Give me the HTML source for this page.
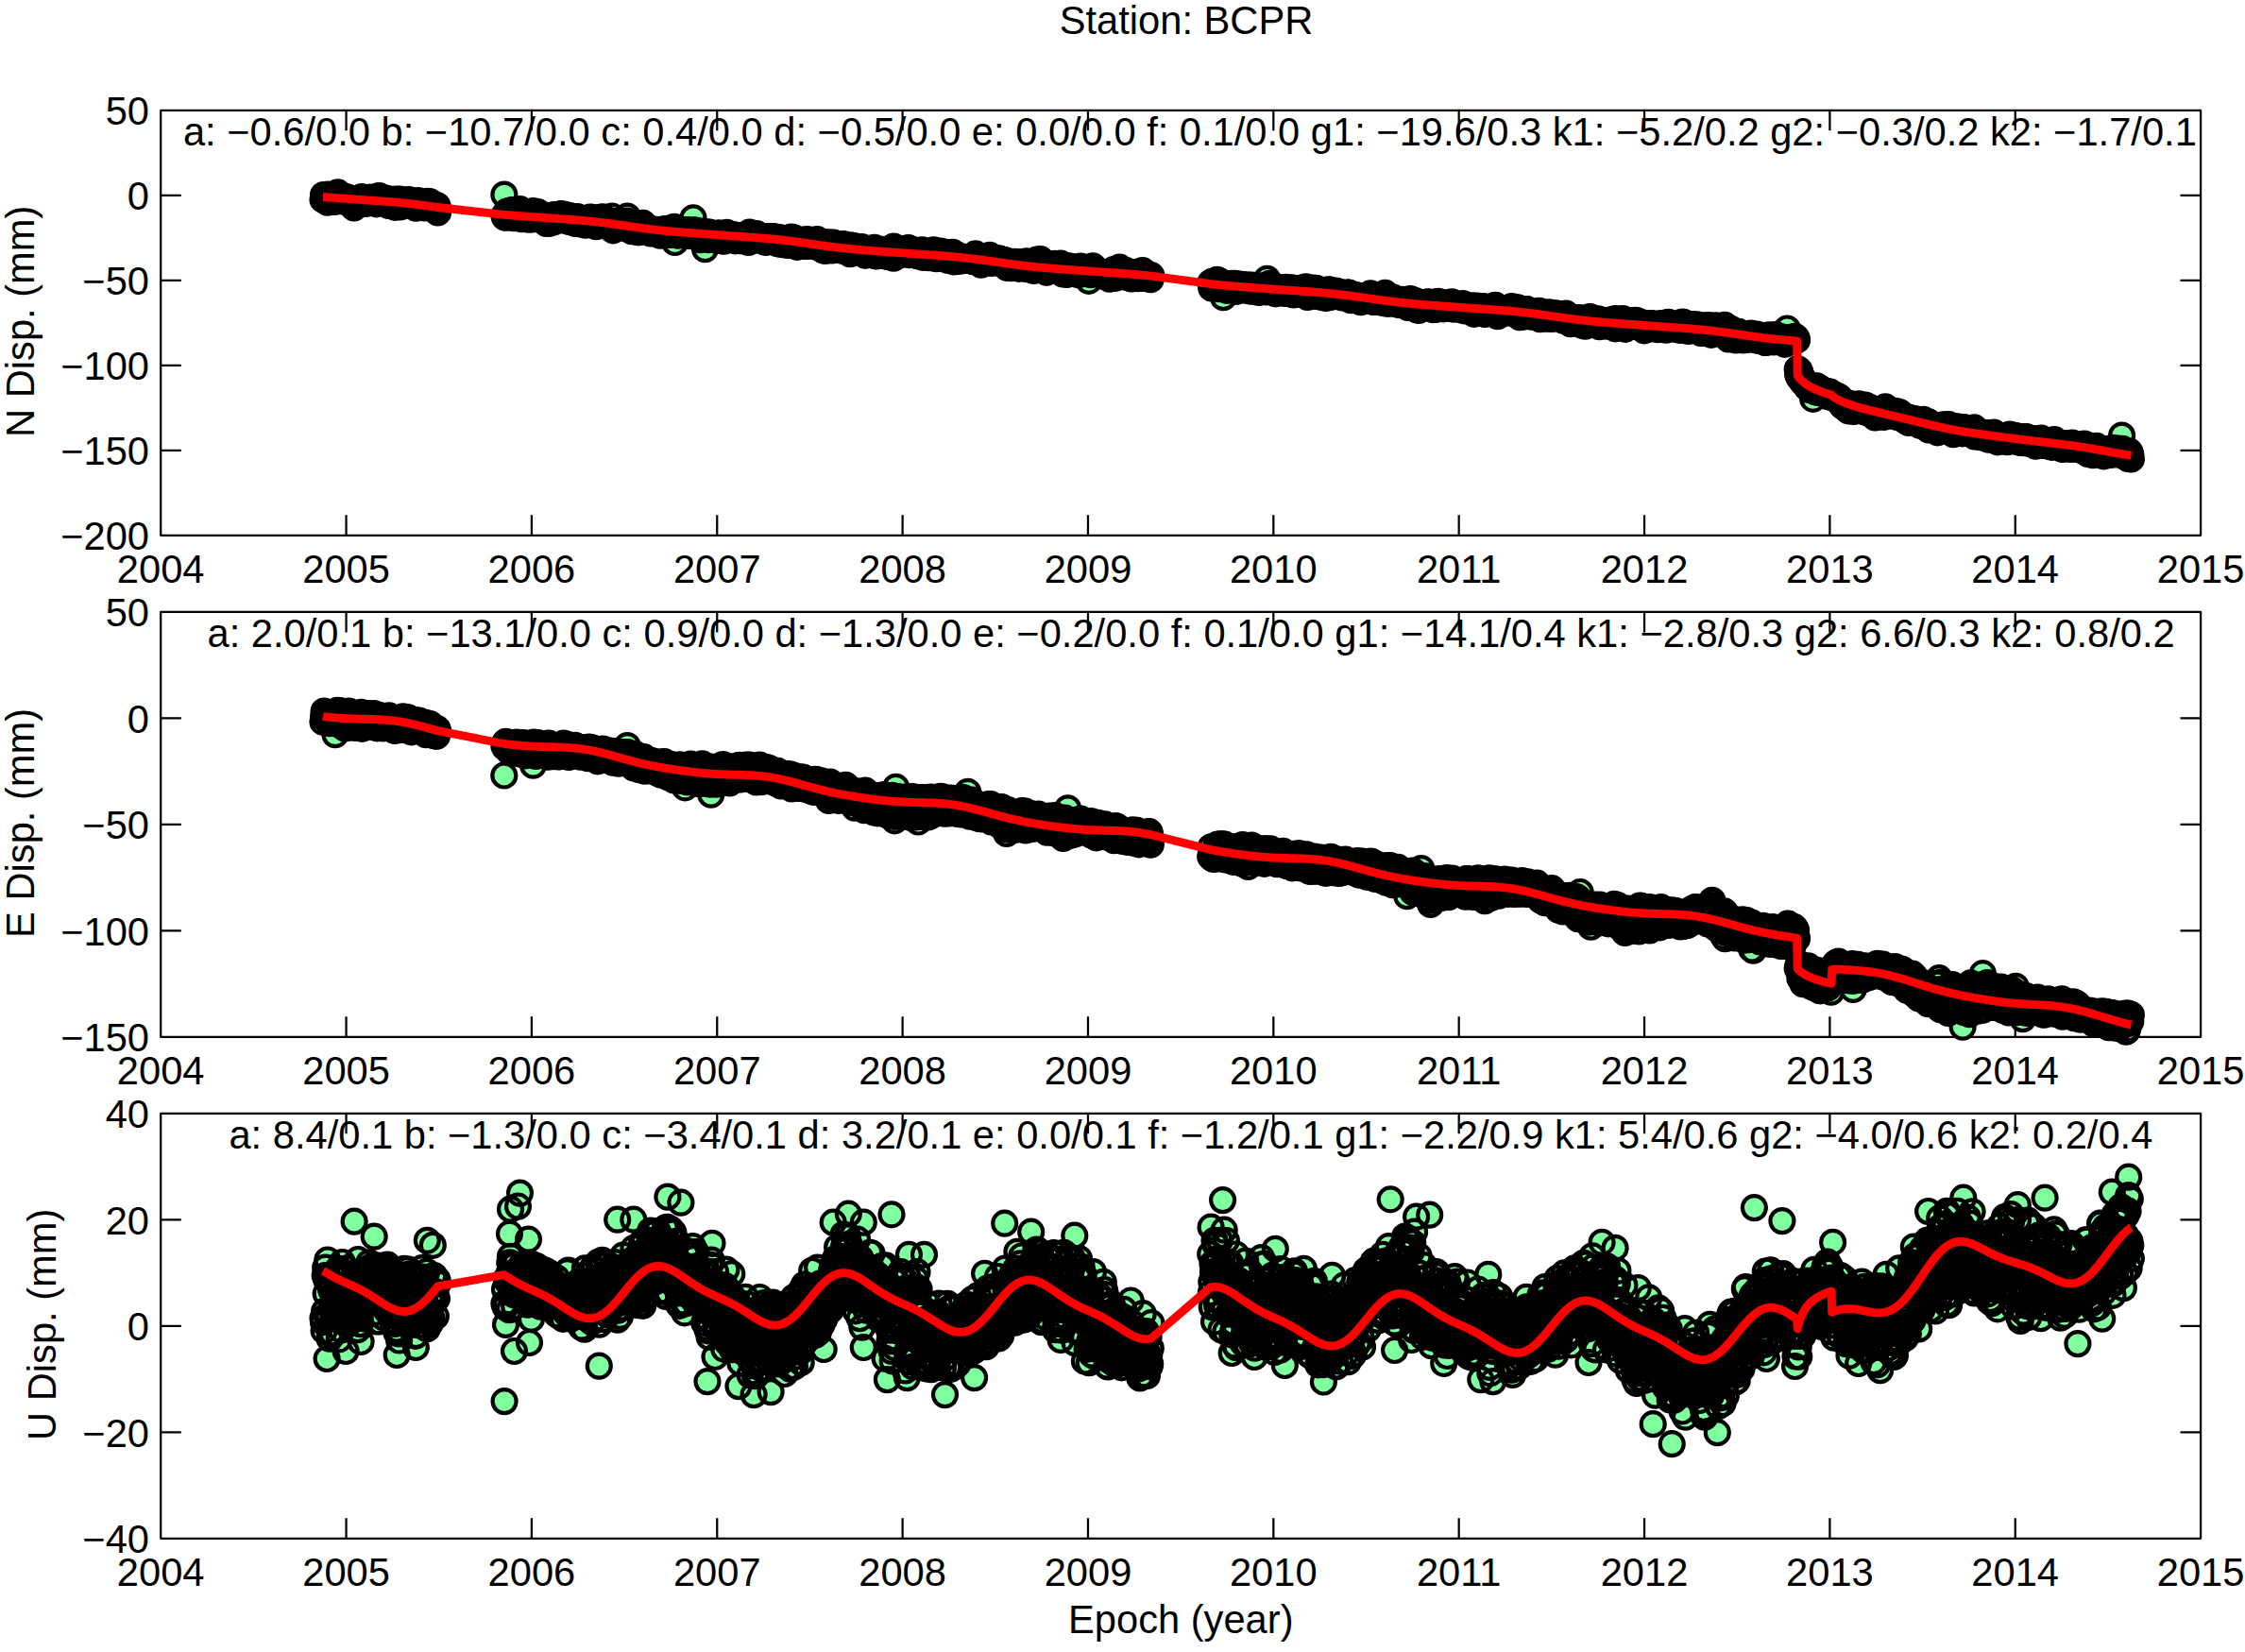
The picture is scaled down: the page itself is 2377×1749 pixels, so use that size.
<!DOCTYPE html>
<html lang="en"><head><meta charset="utf-8"><title>Station: BCPR</title>
<style>html,body{margin:0;padding:0;background:#fff}svg{display:block}text{font-family:"Liberation Sans",sans-serif;font-size:41.67px;fill:#000}</style>
</head><body>
<svg width="2377" height="1749" viewBox="0 0 2377 1749">
<defs><marker id="mf" markerUnits="userSpaceOnUse" markerWidth="32" markerHeight="32" refX="16" refY="16" overflow="visible"><circle cx="16" cy="16" r="12.5" fill="#80ffa0"/></marker><marker id="me" markerUnits="userSpaceOnUse" markerWidth="32" markerHeight="32" refX="16" refY="16" overflow="visible"><circle cx="16" cy="16" r="12.5" fill="none" stroke="#000" stroke-width="4.17"/></marker></defs>
<rect width="2377" height="1749" fill="#fff"/>
<text x="1256" y="35.8" text-anchor="middle">Station: BCPR</text>
<g>
<text x="1259.9" y="154.0" text-anchor="middle">a: −0.6/0.0 b: −10.7/0.0 c: 0.4/0.0 d: −0.5/0.0 e: 0.0/0.0 f: 0.1/0.0 g1: −19.6/0.3 k1: −5.2/0.2 g2: −0.3/0.2 k2: −1.7/0.1</text>
<path d="M170.20 116.75H2330.10V566.85H170.20ZM366.55 566.85v-21.60M366.55 116.75v21.60M562.91 566.85v-21.60M562.91 116.75v21.60M759.26 566.85v-21.60M759.26 116.75v21.60M955.62 566.85v-21.60M955.62 116.75v21.60M1151.97 566.85v-21.60M1151.97 116.75v21.60M1348.33 566.85v-21.60M1348.33 116.75v21.60M1544.68 566.85v-21.60M1544.68 116.75v21.60M1741.04 566.85v-21.60M1741.04 116.75v21.60M1937.39 566.85v-21.60M1937.39 116.75v21.60M2133.75 566.85v-21.60M2133.75 116.75v21.60M170.20 206.77h21.60M2330.10 206.77h-21.60M170.20 296.79h21.60M2330.10 296.79h-21.60M170.20 386.81h21.60M2330.10 386.81h-21.60M170.20 476.83h21.60M2330.10 476.83h-21.60" fill="none" stroke="#000" stroke-width="2.25" stroke-linejoin="round"/>
<text x="170.2" y="617.4" text-anchor="middle">2004</text>
<text x="366.6" y="617.4" text-anchor="middle">2005</text>
<text x="562.9" y="617.4" text-anchor="middle">2006</text>
<text x="759.3" y="617.4" text-anchor="middle">2007</text>
<text x="955.6" y="617.4" text-anchor="middle">2008</text>
<text x="1152.0" y="617.4" text-anchor="middle">2009</text>
<text x="1348.3" y="617.4" text-anchor="middle">2010</text>
<text x="1544.7" y="617.4" text-anchor="middle">2011</text>
<text x="1741.0" y="617.4" text-anchor="middle">2012</text>
<text x="1937.4" y="617.4" text-anchor="middle">2013</text>
<text x="2133.7" y="617.4" text-anchor="middle">2014</text>
<text x="2330.1" y="617.4" text-anchor="middle">2015</text>
<text x="158.0" y="132.2" text-anchor="end">50</text>
<text x="158.0" y="222.3" text-anchor="end">0</text>
<text x="158.0" y="312.3" text-anchor="end">−50</text>
<text x="158.0" y="402.3" text-anchor="end">−100</text>
<text x="158.0" y="492.3" text-anchor="end">−150</text>
<text x="158.0" y="582.4" text-anchor="end">−200</text>
<text transform="translate(35.8 340.3) rotate(-90)" text-anchor="middle">N Disp. (mm)</text>
<defs><polyline id="d0" points="342,211.3 342.5,206.5 343.1,211.1 343.6,210.3 344.2,209.5 344.7,210.8 345.2,212.2 345.8,208.7 346.3,209.5 346.8,214.2 347.4,206 347.9,209.1 348.5,212.8 349,210.5 349.5,212.9 350.1,211.6 350.6,210.1 351.1,213.2 351.7,210 352.2,208.3 352.8,207.7 353.3,210.7 353.8,208.8 354.4,213.4 354.9,210.8 355.4,209 356,212.1 356.5,209.9 357.1,206.2 357.6,203.8 358.1,206.9 358.7,206.6 359.2,210.3 359.8,211.3 360.3,212.2 360.8,208.1 361.4,208.3 361.9,210.9 362.4,211.3 363,209.4 363.5,209.2 364.1,210.7 364.6,208.1 365.1,210.5 365.7,211 366.2,213.6 366.7,211.4 367.3,208.9 367.8,211.5 368.4,211.9 368.9,210.8 369.4,211.6 370,214 370.5,211.6 371,210.2 371.6,213.1 372.1,211.1 372.7,215.2 373.2,211.9 373.7,215.3 374.3,212.7 374.8,211.9 375.3,213.9 375.9,212.3 376.4,216.3 377,214.2 377.5,211.2 378,215.1 378.6,211.6 379.1,215.5 379.6,214.3 380.2,214.7 380.7,211.6 381.3,210.1 381.8,212.7 382.3,211.8 382.9,208.6 383.4,211.7 383.9,212.5 384.5,210.3 385,211.6 385.6,212.1 386.1,215.3 386.6,210.8 387.2,214.1 387.7,212.4 388.2,215.1 388.8,210.7 389.3,211 389.9,210.7 390.4,212.7 390.9,211.5 391.5,210.4 392,209.1 392.5,211.2 393.1,212.1 393.6,211.9 394.2,211.6 394.7,212.4 395.2,209.4 395.8,210.5 396.3,213.8 396.8,211.3 397.4,210 397.9,212.6 398.5,215.8 399,212.6 399.5,211.5 400.1,211.9 400.6,213.3 401.1,207.7 401.7,207.9 402.2,211.7 402.8,209.8 403.3,211 403.8,210.9 404.4,210 404.9,211.3 405.4,213 406,213.5 406.5,214.2 407.1,212.4 407.6,209.8 408.1,211.6 408.7,212.7 409.2,212.2 409.7,212.3 410.3,211.3 410.8,214.7 411.4,217.5 411.9,215.1 412.4,216.6 413,211.2 413.5,214.2 414,214.5 414.6,216.9 415.1,214 415.7,215.4 416.2,211.7 416.7,212.4 417.3,215 417.8,213 418.3,219.3 418.9,215.6 419.4,211 420,212.8 420.5,213.9 421,214.5 421.6,217.2 422.1,217.8 422.6,214.4 423.2,211.2 423.7,218.9 424.3,213.8 424.8,213.8 425.3,212.7 425.9,217 426.4,215.6 426.9,214.8 427.5,216.5 428,217.4 428.6,215.8 429.1,214.2 429.6,212.7 430.2,213.9 430.7,214.2 431.3,215.3 431.8,215.2 432.3,211.7 432.9,213.5 433.4,213.6 433.9,212.1 434.5,212.7 435,213.8 435.6,215.2 436.1,215.8 436.6,215.6 437.2,215.6 437.7,213.4 438.2,215.5 438.8,214.4 439.3,216.6 439.9,213.8 440.4,220.1 440.9,215.6 441.5,214.8 442,219.1 442.5,212.7 443.1,216.8 443.6,216.5 444.2,218.7 444.7,214.6 445.2,215.8 445.8,217.2 446.3,215.8 446.8,214.7 447.4,213.8 447.9,214.7 448.5,217.3 449,216.2 449.5,219.9 450.1,217.9 450.6,215 451.1,215.1 451.7,216 452.2,216.3 452.8,213.3 453.3,215.9 453.8,215.6 454.4,215.8 454.9,217.3 455.4,213.9 456,219.6 456.5,220.3 457.1,219.3 457.6,220.2 458.1,220.5 458.7,220.8 459.2,217.4 459.7,219.3 460.3,218.4 460.8,222.3 461.4,220.9 461.9,217.8 462.4,221.8 463,217.8 463.5,225 533.9,228.1 534.5,229.9 535,228.4 535.5,230.1 536.1,227.9 536.6,224 537.2,229.1 537.7,224 538.2,228.7 538.8,229.7 539.3,227.2 539.8,227.6 540.4,223.1 540.9,225 541.5,225.1 542,226.3 542.5,222.5 543.1,226.7 543.6,227.1 544.1,230.6 544.7,230.2 545.2,227.1 545.8,225.2 546.3,225.3 546.8,229 547.4,225.6 547.9,225.6 548.4,227.7 549,224.3 549.5,230.5 550.1,225.9 550.6,221.7 551.1,228.6 551.7,227.8 552.2,231.6 552.7,229.9 553.3,226.9 553.8,230.2 554.4,229.1 554.9,230.1 555.4,230 556,229.4 556.5,228.8 557,227.8 557.6,228.8 558.1,230.9 558.7,227.1 559.2,227.7 559.7,232.2 560.3,228.2 560.8,227.9 561.3,227.6 561.9,226.9 562.4,230.3 563,228.1 563.5,231.9 564,228 564.6,223.5 565.1,226.9 565.6,226.5 566.2,228.5 566.7,228.8 567.3,229.1 567.8,225.9 568.3,228.4 568.9,227.9 569.4,224.6 569.9,230.8 570.5,229.9 571,229.2 571.6,229 572.1,229.2 572.6,232.4 573.2,228.8 573.7,229.8 574.2,229.5 574.8,232.2 575.3,229.7 575.9,230.3 576.4,232.2 576.9,230.9 577.5,231.1 578,228.3 578.5,236.4 579.1,232.7 579.6,232.7 580.2,230.5 580.7,231.6 581.2,231.2 581.8,229.4 582.3,234 582.9,232.8 583.4,231.7 583.9,233.8 584.5,230.7 585,230.7 585.5,232.8 586.1,235 586.6,227.7 587.2,229.5 587.7,229.4 588.2,230.6 588.8,230.5 589.3,229.1 589.8,230.5 590.4,231.6 590.9,227.9 591.5,229.4 592,231.7 592.5,231.5 593.1,227.2 593.6,227.8 594.1,226.7 594.7,232.1 595.2,233 595.8,231.7 596.3,229.7 596.8,230.8 597.4,230.6 597.9,227.4 598.4,232.6 599,232.9 599.5,231.9 600.1,232.7 600.6,231.6 601.1,230.7 601.7,231.7 602.2,229.8 602.7,234.4 603.3,228.5 603.8,234.1 604.4,231.1 604.9,234.9 605.4,232.1 606,232.8 606.5,231.9 607,231.8 607.6,234.3 608.1,234.3 608.7,234.1 609.2,236.4 609.7,235.3 610.3,236.3 610.8,233.3 611.3,229.5 611.9,232.2 612.4,235.2 613,234.2 613.5,232.1 614,235.1 614.6,237 615.1,236.3 615.6,236.2 616.2,236.3 616.7,232.3 617.3,232.9 617.8,237 618.3,236 618.9,237.4 619.4,237.5 619.9,238.1 620.5,232 621,235.5 621.6,233.4 622.1,232.8 622.6,235.3 623.2,233.6 623.7,234 624.2,234.1 624.8,230 625.3,234.2 625.9,234.4 626.4,232.9 626.9,230.4 627.5,232 628,235 628.5,235.5 629.1,236.3 629.6,236 630.2,234.6 630.7,233.5 631.2,239.6 631.8,235.5 632.3,237.9 632.8,234.1 633.4,233.6 633.9,237 634.5,236.6 635,236.7 635.5,230.3 636.1,238.1 636.6,236.7 637.1,235.7 637.7,232.1 638.2,229.8 638.8,235.3 639.3,236.5 639.8,233.3 640.4,235.4 640.9,233.1 641.4,236.3 642,235.5 642.5,234.8 643.1,234 643.6,235.9 644.1,233.7 644.7,236.3 645.2,240.4 645.7,235.4 646.3,237.4 646.8,238.4 647.4,235.1 647.9,239.2 648.4,237.5 649,238.3 649.5,234.3 650,237.5 650.6,236.9 651.1,240 651.7,234.9 652.2,239.8 652.7,235.9 653.3,235.8 653.8,235.2 654.3,234.9 654.9,241.2 655.4,238 656,238.2 656.5,237.2 657,235.2 657.6,237.1 658.1,238.7 658.7,237.4 659.2,234.4 659.7,239.9 660.3,237.6 660.8,240.1 661.3,236.3 661.9,241.3 662.4,238.7 663,237.9 663.5,237.9 664,234 664.6,235.5 665.1,241 665.6,235.5 666.2,241.7 666.7,243.2 667.3,242.2 667.8,239 668.3,238.7 668.9,244.6 669.4,239 669.9,240.5 670.5,239.2 671,242.1 671.6,240.2 672.1,241 672.6,243.7 673.2,239.1 673.7,241.3 674.2,240.2 674.8,240.9 675.3,245.6 675.9,243.4 676.4,245.7 676.9,245.2 677.5,242.7 678,243.3 678.5,240.4 679.1,240.3 679.6,242.2 680.2,243.7 680.7,236.4 681.2,237.9 681.8,241.4 682.3,242.5 682.8,242.4 683.4,240.9 683.9,240 684.5,240.7 685,241.1 685.5,243.3 686.1,241.3 686.6,243.2 687.1,243.2 687.7,243.2 688.2,242.2 688.8,246.9 689.3,244.5 689.8,244 690.4,245.6 690.9,243.8 691.4,246 692,246 692.5,245.3 693.1,246.2 693.6,247 694.1,243.4 694.7,244.6 695.2,244.6 695.7,246 696.3,247.2 696.8,247.1 697.4,243.7 697.9,245.3 698.4,247.5 699,249.2 699.5,244.7 700,246.8 700.6,244.7 701.1,245.1 701.7,244.9 702.2,244.3 702.7,246 703.3,244.2 703.8,242.5 704.3,243.2 704.9,248.1 705.4,247.6 706,247.5 706.5,246.1 707,244.6 707.6,245.2 708.1,248.4 708.6,244 709.2,243.6 709.7,245.9 710.3,241.9 710.8,247.1 711.3,243.8 711.9,241.3 712.4,248 712.9,247.4 713.5,246 714,240.3 714.6,256.5 715.1,246.1 715.6,247 716.2,248.7 716.7,248.8 717.2,247.3 717.8,247.4 718.3,249 718.9,243.7 719.4,248.6 719.9,247.4 720.5,248.4 721,248.3 721.5,247.6 722.1,248.4 722.6,247.8 723.2,243.7 723.7,245.4 724.2,248.3 724.8,245.8 725.3,249.3 725.8,246.4 726.4,248.9 726.9,249.1 727.5,248.3 728,243.6 728.5,246.3 729.1,246 729.6,246.1 730.1,246.2 730.7,245.8 731.2,245.3 731.8,246.5 732.3,249.2 732.8,249 733.4,245.4 733.9,244.2 734.5,245.6 735,249.9 735.5,243.9 736.1,246 736.6,247.7 737.1,248.1 737.7,249.3 738.2,245.6 738.8,246.5 739.3,251.4 739.8,249.8 740.4,248.2 740.9,246.3 741.4,253.6 742,246.9 742.5,245.2 743.1,249.2 743.6,248.4 744.1,245.3 744.7,247.3 745.2,250 745.7,250 746.3,249.4 746.8,250.3 747.4,247.9 747.9,248.9 748.4,248.5 749,248 749.5,246 750,249.1 750.6,253.6 751.1,246.2 751.7,248.9 752.2,246.9 752.7,249.8 753.3,248.1 753.8,249.2 754.3,249.2 754.9,247.6 755.4,251.2 756,248.6 756.5,248 757,248.8 757.6,252.7 758.1,248.5 758.6,254.2 759.2,251.6 759.7,249.8 760.3,248.4 760.8,247.1 761.3,247 761.9,247.8 762.4,249.8 762.9,247.7 763.5,251.2 764,248.2 764.6,254.8 765.1,252.8 765.6,251.8 766.2,250.1 766.7,255.1 767.2,249.1 767.8,248.9 768.3,248 768.9,250.1 769.4,246.3 769.9,251 770.5,247.9 771,249.6 771.5,249.7 772.1,250.5 772.6,250.5 773.2,249.2 773.7,248.7 774.2,248.9 774.8,250.3 775.3,250.8 775.8,251.9 776.4,248.6 776.9,252.8 777.5,253.7 778,251.9 778.5,254.8 779.1,252.3 779.6,252.5 780.1,254.3 780.7,253.1 781.2,250.3 781.8,251.6 782.3,250.6 782.8,249.6 783.4,252.7 783.9,254.6 784.4,252 785,250.8 785.5,254.7 786.1,250 786.6,251.9 787.1,252.4 787.7,254.7 788.2,253.3 788.7,249.8 789.3,250 789.8,249.7 790.4,251.8 790.9,248 791.4,249 792,251.5 792.5,256.4 793,251.6 793.6,246.2 794.1,251.1 794.7,252.7 795.2,247.5 795.7,252.1 796.3,249.8 796.8,249.7 797.3,254.4 797.9,250.8 798.4,249.1 799,252.8 799.5,250.5 800,251.6 800.6,249.1 801.1,247.7 801.6,253 802.2,251.7 802.7,251 803.3,253.2 803.8,253.5 804.3,253.2 804.9,253.2 805.4,253.9 805.9,252.2 806.5,251.3 807,251.4 807.6,252 808.1,250.8 808.6,255.4 809.2,254.1 809.7,253.8 810.3,252.6 810.8,256.5 811.3,250.7 811.9,255.8 812.4,252.9 812.9,251.5 813.5,250.6 814,254.1 814.6,253.9 815.1,252.8 815.6,252.4 816.2,250.6 816.7,252.6 817.2,254.4 817.8,255.5 818.3,250.7 818.9,255.5 819.4,251.4 819.9,252.4 820.5,251.8 821,252 821.5,251.2 822.1,253.9 822.6,253.9 823.2,257.8 823.7,254.2 824.2,256.6 824.8,254.7 825.3,251.7 825.8,254.2 826.4,252.6 826.9,254.6 827.5,253.7 828,255.2 828.5,258.6 829.1,255.8 829.6,255.8 830.1,255.4 830.7,255.9 831.2,256.1 831.8,253.5 832.3,254.3 832.8,255.4 833.4,253 833.9,259.5 834.4,256.2 835,255.6 835.5,252.3 836.1,256.3 836.6,258.2 837.1,254 837.7,251.2 838.2,255.4 838.7,256.1 839.3,256.5 839.8,255.9 840.4,254 840.9,252.1 841.4,255.4 842,257.4 842.5,253.3 843,256.6 843.6,256.8 844.1,256.9 844.7,257.2 845.2,255.8 845.7,257.2 846.3,255.1 846.8,255.8 847.3,255 847.9,256.7 848.4,256.5 849,255.5 849.5,256.1 850,255.9 850.6,254 851.1,258.7 851.6,260.2 852.2,255 852.7,257.5 853.3,254.7 853.8,258.4 854.3,260.4 854.9,253.6 855.4,255.9 855.9,257.5 856.5,257.8 857,254.8 857.6,257 858.1,256.2 858.6,255.1 859.2,260 859.7,258.1 860.2,256.6 860.8,254.9 861.3,257.3 861.9,259.8 862.4,255.6 862.9,259.4 863.5,258.9 864,258.2 864.5,261.2 865.1,253.5 865.6,256.8 866.2,259.2 866.7,260.6 867.2,261.4 867.8,258.5 868.3,258.6 868.8,260.5 869.4,260.3 869.9,259.5 870.5,260.8 871,264.4 871.5,259.2 872.1,260.3 872.6,259.3 873.1,261.9 873.7,265.5 874.2,263.3 874.8,260.3 875.3,257.4 875.8,256.8 876.4,260.2 876.9,264 877.4,262.1 878,260 878.5,259.3 879.1,259.1 879.6,257 880.1,261.9 880.7,265 881.2,262.8 881.8,263.9 882.3,257.2 882.8,261.3 883.4,264.3 883.9,259.7 884.4,259.6 885,261.8 885.5,262.3 886.1,260.3 886.6,261.3 887.1,263.7 887.7,262.7 888.2,262.2 888.7,263 889.3,263.3 889.8,262.7 890.4,264 890.9,263.2 891.4,261.9 892,263.7 892.5,259.9 893,258.6 893.6,265.6 894.1,260.9 894.7,263 895.2,262.9 895.7,261.7 896.3,262.5 896.8,262.2 897.3,262.8 897.9,263.3 898.4,265.6 899,264.5 899.5,261 900,268.6 900.6,259.9 901.1,264.1 901.6,260.5 902.2,267.2 902.7,263.2 903.3,260.9 903.8,262 904.3,260.7 904.9,263.8 905.4,263.7 905.9,264.1 906.5,262.1 907,262.4 907.6,263.7 908.1,264.2 908.6,265.5 909.2,264.2 909.7,266.4 910.2,264.3 910.8,265 911.3,265.5 911.9,266.2 912.4,261.5 912.9,265.6 913.5,263.9 914,263.5 914.5,265.7 915.1,267.1 915.6,265.3 916.2,270.1 916.7,269.7 917.2,267.4 917.8,267.2 918.3,267 918.8,263.4 919.4,264.2 919.9,267.1 920.5,266.6 921,268.9 921.5,266.2 922.1,269.3 922.6,263.5 923.1,266.8 923.7,265.4 924.2,269.3 924.8,263.5 925.3,265.2 925.8,262.3 926.4,266.3 926.9,270.7 927.4,270 928,271 928.5,265.6 929.1,268.4 929.6,268.2 930.1,265.2 930.7,265.4 931.2,265.8 931.7,267.6 932.3,270.5 932.8,268.3 933.4,270.3 933.9,264.4 934.4,265 935,267.5 935.5,265.5 936,265.3 936.6,265.3 937.1,265.8 937.7,265.3 938.2,265.7 938.7,270.5 939.3,271.3 939.8,264.2 940.3,266.3 940.9,271.7 941.4,266.5 942,267.9 942.5,266.8 943,270.7 943.6,264.7 944.1,265.4 944.6,263.8 945.2,262.4 945.7,261.9 946.3,261 946.8,263.5 947.3,263.7 947.9,265.7 948.4,262.5 948.9,264.7 949.5,267.5 950,263 950.6,264.4 951.1,270.5 951.6,269.2 952.2,265.6 952.7,267.8 953.2,263.5 953.8,265.7 954.3,264.7 954.9,264.4 955.4,264.2 955.9,267.4 956.5,265.5 957,265.7 957.6,264.6 958.1,264.7 958.6,263.3 959.2,264.2 959.7,265.4 960.2,264.8 960.8,267.4 961.3,264.9 961.9,262.6 962.4,267.1 962.9,269.6 963.5,267.3 964,268.5 964.5,267.5 965.1,268.2 965.6,266.7 966.2,269.1 966.7,264.6 967.2,268.8 967.8,267 968.3,266.5 968.8,268 969.4,266.5 969.9,267.7 970.5,268.2 971,268 971.5,267.2 972.1,270.9 972.6,270 973.1,268.8 973.7,268.7 974.2,265.3 974.8,266.2 975.3,266.9 975.8,266.5 976.4,264.9 976.9,268.7 977.4,266.4 978,272.5 978.5,270.7 979.1,266.5 979.6,266.5 980.1,268.9 980.7,270.2 981.2,268 981.7,270.8 982.3,266.9 982.8,267.8 983.4,268.9 983.9,272.6 984.4,269.4 985,271.6 985.5,272.2 986,272.3 986.6,271.6 987.1,269.7 987.7,269.4 988.2,269.8 988.7,264.8 989.3,272.1 989.8,270.4 990.3,273.1 990.9,272 991.4,273.7 992,269.5 992.5,271 993,271.3 993.6,271 994.1,268.7 994.6,270.7 995.2,269.7 995.7,266.2 996.3,271.5 996.8,272.7 997.3,272.6 997.9,269 998.4,271 998.9,272.7 999.5,272 1000,270.6 1000.6,272.4 1001.1,267.3 1001.6,272 1002.2,272.1 1002.7,272 1003.2,275.3 1003.8,274.4 1004.3,271.8 1004.9,272.1 1005.4,274.3 1005.9,268.4 1006.5,270.7 1007,268.5 1007.5,268.9 1008.1,271.9 1008.6,267.3 1009.2,271.3 1009.7,275.9 1010.2,276.9 1010.8,272.5 1011.3,270.5 1011.8,272.2 1012.4,269.5 1012.9,273.1 1013.5,272 1014,272 1014.5,276.3 1015.1,273.5 1015.6,273.2 1016.1,272.6 1016.7,272.3 1017.2,272.3 1017.8,275.9 1018.3,273.7 1018.8,273 1019.4,274.5 1019.9,273.9 1020.4,273.3 1021,272.4 1021.5,274 1022.1,273.7 1022.6,273.7 1023.1,273.8 1023.7,274.8 1024.2,274.2 1024.7,275.3 1025.3,273.7 1025.8,272.3 1026.4,273 1026.9,273.6 1027.4,275.1 1028,272.4 1028.5,275.9 1029,273.7 1029.6,274.2 1030.1,276.3 1030.7,276.6 1031.2,273.4 1031.7,273.7 1032.3,273.8 1032.8,268.8 1033.4,273.4 1033.9,274.6 1034.4,273 1035,276 1035.5,275.8 1036,275.1 1036.6,277 1037.1,276.5 1037.7,276.6 1038.2,277.1 1038.7,280.1 1039.3,273.1 1039.8,276.3 1040.3,274 1040.9,277.1 1041.4,277.2 1042,274.5 1042.5,274.8 1043,273.4 1043.6,276 1044.1,276.5 1044.6,273.4 1045.2,272.4 1045.7,272.2 1046.3,274 1046.8,273.4 1047.3,275.5 1047.9,270.4 1048.4,271.5 1048.9,272.5 1049.5,278.5 1050,274 1050.6,277.2 1051.1,274.6 1051.6,274.3 1052.2,272.9 1052.7,275.7 1053.2,276.6 1053.8,277.4 1054.3,277.3 1054.9,274.2 1055.4,276.8 1055.9,274.3 1056.5,276.5 1057,277 1057.5,273.8 1058.1,274.9 1058.6,278.5 1059.2,276.6 1059.7,276.3 1060.2,274.8 1060.8,278.9 1061.3,278.8 1061.8,278.4 1062.4,277.3 1062.9,278 1063.5,280.1 1064,275.6 1064.5,279 1065.1,281.5 1065.6,282.8 1066.1,280.2 1066.7,283.5 1067.2,279.1 1067.8,278.7 1068.3,277.2 1068.8,278.2 1069.4,282.7 1069.9,280.3 1070.4,278.1 1071,283.6 1071.5,280.4 1072.1,277.5 1072.6,278.2 1073.1,283.3 1073.7,281.2 1074.2,280.9 1074.7,277.3 1075.3,281.8 1075.8,282.8 1076.4,280.3 1076.9,280.5 1077.4,279.6 1078,277.5 1078.5,281.3 1079,284.3 1079.6,281.9 1080.1,281.4 1080.7,279.2 1081.2,278.6 1081.7,282.5 1082.3,279.6 1082.8,279.2 1083.3,281.7 1083.9,279.6 1084.4,282.2 1085,281.9 1085.5,282.7 1086,281.5 1086.6,276.8 1087.1,282.2 1087.6,284.7 1088.2,283.2 1088.7,284.6 1089.3,283 1089.8,283.6 1090.3,278.9 1090.9,282 1091.4,278.9 1091.9,283.3 1092.5,282.5 1093,278.7 1093.6,285.4 1094.1,282.7 1094.6,286.4 1095.2,279.6 1095.7,285.1 1096.2,282.8 1096.8,282.7 1097.3,284.3 1097.9,275 1098.4,280.4 1098.9,276.8 1099.5,281.7 1100,283.2 1100.5,279.6 1101.1,279.3 1101.6,274.6 1102.2,282.3 1102.7,282.1 1103.2,280.4 1103.8,278.2 1104.3,277.8 1104.8,280.8 1105.4,281 1105.9,280.1 1106.5,280.1 1107,284 1107.5,283.1 1108.1,288.3 1108.6,285.7 1109.2,282.8 1109.7,284.6 1110.2,283.6 1110.8,280.5 1111.3,284.1 1111.8,284.8 1112.4,282.5 1112.9,282.5 1113.5,285.2 1114,280.9 1114.5,279.9 1115.1,283.5 1115.6,283.6 1116.1,282.3 1116.7,279.3 1117.2,283.1 1117.8,283.9 1118.3,283.9 1118.8,282.2 1119.4,283.2 1119.9,284.2 1120.4,281.4 1121,280 1121.5,285.3 1122.1,282.8 1122.6,284.2 1123.1,279 1123.7,286.2 1124.2,285.6 1124.7,285.7 1125.3,289.9 1125.8,285.4 1126.4,284.4 1126.9,288.9 1127.4,286.6 1128,282.6 1128.5,286.7 1129,286.8 1129.6,290.5 1130.1,285.4 1130.7,288.7 1131.2,283.9 1131.7,281.9 1132.3,285.2 1132.8,287.7 1133.3,285.4 1133.9,286.2 1134.4,288.2 1135,287.1 1135.5,285.8 1136,287.3 1136.6,285.9 1137.1,282.8 1137.6,285.4 1138.2,285.3 1138.7,288.1 1139.3,284.2 1139.8,286.5 1140.3,285.3 1140.9,288.6 1141.4,286.1 1141.9,290.7 1142.5,286.7 1143,287.2 1143.6,288 1144.1,282.2 1144.6,288.8 1145.2,286.3 1145.7,286.6 1146.2,285 1146.8,284.5 1147.3,289.3 1147.9,287.5 1148.4,288.1 1148.9,285.3 1149.5,285.3 1150,287.3 1150.5,288 1151.1,289.1 1151.6,285.9 1152.2,284.2 1152.7,286.3 1153.2,288.3 1153.8,288.6 1154.3,288.3 1154.8,290.6 1155.4,283.4 1155.9,286.4 1156.5,287 1157,281.8 1157.5,285.3 1158.1,283 1158.6,286 1159.1,285.2 1159.7,287.9 1160.2,289 1160.8,287 1161.3,287.1 1161.8,286.5 1162.4,287.9 1162.9,288.9 1163.4,289.3 1164,288.5 1164.5,289.9 1165.1,289.8 1165.6,288.5 1166.1,288.5 1166.7,288.4 1167.2,290.2 1167.7,292.1 1168.3,288.6 1168.8,289.4 1169.4,291.2 1169.9,290.3 1170.4,288.8 1171,290.7 1171.5,289.3 1172,292.8 1172.6,290.5 1173.1,291.2 1173.7,292 1174.2,289.2 1174.7,295.1 1175.3,290 1175.8,288.6 1176.3,289.2 1176.9,293.7 1177.4,289.6 1178,293 1178.5,290.8 1179,285.7 1179.6,289.1 1180.1,287.3 1180.6,291.8 1181.2,294.3 1181.7,291.3 1182.3,286.1 1182.8,287.4 1183.3,286.9 1183.9,289.3 1184.4,289.2 1185,289.4 1185.5,283.2 1186,289 1186.6,286.1 1187.1,289 1187.6,286.2 1188.2,291 1188.7,290.9 1189.3,289 1189.8,290.5 1190.3,290.1 1190.9,289 1191.4,290.8 1191.9,286.4 1192.5,288.1 1193,293.5 1193.6,288.5 1194.1,291.3 1194.6,291.3 1195.2,291.7 1195.7,289.7 1196.2,291 1196.8,293.5 1197.3,292.1 1197.9,294.9 1198.4,288.7 1198.9,294.6 1199.5,294.4 1200,294.1 1200.5,292.2 1201.1,290.1 1201.6,292.2 1202.2,291.8 1202.7,292.2 1203.2,289.7 1203.8,290.8 1204.3,294.6 1204.8,288.5 1205.4,290.5 1205.9,288.2 1206.5,293 1207,293 1207.5,291.3 1208.1,293.1 1208.6,290.4 1209.1,287.5 1209.7,288.7 1210.2,294.4 1210.8,287.9 1211.3,290.3 1211.8,288.8 1212.4,290.3 1212.9,290 1213.4,291.4 1214,291.7 1214.5,294.1 1215.1,290.6 1215.6,292 1216.1,292.2 1216.7,292.9 1217.2,293.2 1217.7,292.5 1218.3,295.6 1218.8,291.5 1281.7,299.6 1282.3,300.6 1282.8,304.9 1283.3,298.4 1283.9,301.3 1284.4,300.5 1284.9,300.3 1285.5,301.7 1286,300.5 1286.6,301.7 1287.1,300.9 1287.6,297.1 1288.2,297.9 1288.7,296.4 1289.2,301.3 1289.8,304.5 1290.3,303.3 1290.9,305.6 1291.4,297.9 1291.9,298.3 1292.5,301.7 1293,301.5 1293.5,302.1 1294.1,302.8 1294.6,301.3 1295.2,304.5 1295.7,302.8 1296.2,301.5 1296.8,304.6 1297.3,304.2 1297.8,301.5 1298.4,301.8 1298.9,307.3 1299.5,300.9 1300,302.1 1300.5,302.4 1301.1,303.7 1301.6,302.2 1302.1,305.6 1302.7,303.6 1303.2,304.9 1303.8,304.7 1304.3,301.5 1304.8,300.4 1305.4,303.7 1305.9,304.6 1306.4,301.8 1307,302.6 1307.5,300.3 1308.1,303 1308.6,308.5 1309.1,304.4 1309.7,305.1 1310.2,306.2 1310.7,304.3 1311.3,304.1 1311.8,304.5 1312.4,301 1312.9,303.1 1313.4,302.7 1314,303.7 1314.5,301.6 1315,306.7 1315.6,301.7 1316.1,304.5 1316.7,301.9 1317.2,302.2 1317.7,303.6 1318.3,305.3 1318.8,304.7 1319.3,303.7 1319.9,307.1 1320.4,304.8 1321,305.8 1321.5,302.2 1322,302.4 1322.6,306.9 1323.1,306.4 1323.6,308 1324.2,304.6 1324.7,303.4 1325.3,302.1 1325.8,308.1 1326.3,303.3 1326.9,306 1327.4,306.1 1327.9,305.7 1328.5,305.3 1329,302.9 1329.6,304.7 1330.1,302.3 1330.6,305.6 1331.2,308.5 1331.7,306.8 1332.2,304.3 1332.8,309.4 1333.3,307.6 1333.9,305.2 1334.4,308.8 1334.9,304.2 1335.5,305.2 1336,307.5 1336.6,306 1337.1,307.1 1337.6,306.7 1338.2,307 1338.7,306.3 1339.2,307 1339.8,307.4 1340.3,308.4 1340.9,302.1 1341.4,309 1341.9,307 1342.5,304.6 1343,304.4 1343.5,307.6 1344.1,301.3 1344.6,300.4 1345.2,304.9 1345.7,306.6 1346.2,303.7 1346.8,305.9 1347.3,306.2 1347.8,306.9 1348.4,306.3 1348.9,305.1 1349.5,303.2 1350,309.7 1350.5,310.8 1351.1,304.5 1351.6,308.9 1352.1,305.3 1352.7,306.5 1353.2,304.5 1353.8,304.9 1354.3,307.9 1354.8,307.7 1355.4,307.5 1355.9,306.7 1356.4,309.1 1357,310 1357.5,306.9 1358.1,306.5 1358.6,306.8 1359.1,309.3 1359.7,305.8 1360.2,310.3 1360.7,308.2 1361.3,304.4 1361.8,309.5 1362.4,306.8 1362.9,306.4 1363.4,306.1 1364,310.5 1364.5,305.2 1365,306.9 1365.6,306 1366.1,306.5 1366.7,308.1 1367.2,306 1367.7,304.8 1368.3,311.5 1368.8,309.6 1369.3,308 1369.9,312 1370.4,305.6 1371,309.8 1371.5,307.3 1372,308.4 1372.6,309.2 1373.1,311.4 1373.6,310.8 1374.2,310.3 1374.7,308.8 1375.3,310.5 1375.8,311 1376.3,310 1376.9,306.6 1377.4,308.5 1377.9,309.7 1378.5,310.1 1379,308.2 1379.6,309.6 1380.1,308.3 1380.6,304.4 1381.2,305.7 1381.7,306.8 1382.2,306.5 1382.8,303.9 1383.3,310.4 1383.9,306.7 1384.4,308.1 1384.9,306.6 1385.5,306.9 1386,308.2 1386.5,306.3 1387.1,311.6 1387.6,306.6 1388.2,306.3 1388.7,309.8 1389.2,310.3 1389.8,305.2 1390.3,310.4 1390.8,310.1 1391.4,310.8 1391.9,309.9 1392.5,310.6 1393,313.5 1393.5,305.3 1394.1,311.4 1394.6,309.2 1395.1,309.7 1395.7,306.6 1396.2,308.3 1396.8,307.1 1397.3,307.4 1397.8,308.7 1398.4,310.7 1398.9,309.9 1399.4,314.5 1400,310.6 1400.5,310.6 1401.1,310 1401.6,313.5 1402.1,309.4 1402.7,312.9 1403.2,310.9 1403.7,315.5 1404.3,312.2 1404.8,312.8 1405.4,311.9 1405.9,311.6 1406.4,306.9 1407,310.4 1407.5,310.1 1408.1,307.1 1408.6,314.4 1409.1,308.3 1409.7,311.9 1410.2,312.1 1410.7,311.6 1411.3,313.2 1411.8,312.9 1412.4,311.9 1412.9,311.3 1413.4,308.5 1414,308 1414.5,310.9 1415,310.3 1415.6,310 1416.1,310.5 1416.7,309.1 1417.2,311.5 1417.7,309 1418.3,311 1418.8,311.4 1419.3,311.7 1419.9,311.3 1420.4,313.1 1421,315 1421.5,312.4 1422,313.2 1422.6,313.3 1423.1,312.2 1423.6,313.6 1424.2,310.9 1424.7,310.7 1425.3,313.3 1425.8,310.8 1426.3,313.1 1426.9,310.1 1427.4,310.2 1427.9,311.6 1428.5,310.3 1429,311.1 1429.6,312.8 1430.1,317.7 1430.6,313.9 1431.2,312.4 1431.7,311.8 1432.2,315.5 1432.8,313 1433.3,313.8 1433.9,313.8 1434.4,316.6 1434.9,316.6 1435.5,312.5 1436,313 1436.5,314.9 1437.1,313.3 1437.6,315.3 1438.2,316.6 1438.7,318.5 1439.2,313.6 1439.8,316.1 1440.3,315.2 1440.8,319.6 1441.4,316.7 1441.9,313.7 1442.5,315.1 1443,315.7 1443.5,317 1444.1,314.5 1444.6,315.5 1445.1,314.9 1445.7,315 1446.2,315.2 1446.8,315.4 1447.3,316.2 1447.8,315.1 1448.4,317.9 1448.9,317.5 1449.4,314.6 1450,315.4 1450.5,314.4 1451.1,310.9 1451.6,312.5 1452.1,312.2 1452.7,313.4 1453.2,314.4 1453.7,317.6 1454.3,319.5 1454.8,318.3 1455.4,319.4 1455.9,317.9 1456.4,319 1457,317.4 1457.5,316.3 1458,317.6 1458.6,314.9 1459.1,314.7 1459.7,313.9 1460.2,313.9 1460.7,315.1 1461.3,317.3 1461.8,316 1462.3,317.5 1462.9,317.3 1463.4,316.2 1464,318.8 1464.5,320.4 1465,317 1465.6,314.9 1466.1,315.2 1466.6,310.4 1467.2,319.8 1467.7,317.9 1468.3,321.1 1468.8,318.6 1469.3,313.8 1469.9,314.6 1470.4,320.6 1470.9,319.6 1471.5,320.2 1472,321.1 1472.6,318.6 1473.1,318.5 1473.6,317.5 1474.2,317.3 1474.7,316.5 1475.2,315 1475.8,318.1 1476.3,319.2 1476.9,318.4 1477.4,317.7 1477.9,318.4 1478.5,320.5 1479,320.6 1479.5,318.3 1480.1,322 1480.6,319 1481.2,322.4 1481.7,318.5 1482.2,319.2 1482.8,321.5 1483.3,321.1 1483.9,321.2 1484.4,317.4 1484.9,320.8 1485.5,321.3 1486,319 1486.5,318.7 1487.1,319.5 1487.6,320.8 1488.2,318.1 1488.7,322.4 1489.2,322.8 1489.8,323.1 1490.3,319.1 1490.8,325.5 1491.4,323.9 1491.9,320.1 1492.5,319.7 1493,316.6 1493.5,319.2 1494.1,322 1494.6,317.4 1495.1,318.5 1495.7,318.4 1496.2,318.6 1496.8,320.6 1497.3,323.9 1497.8,323.4 1498.4,318.6 1498.9,322.9 1499.4,327.5 1500,324.1 1500.5,322.3 1501.1,323.6 1501.6,324.1 1502.1,328.5 1502.7,323.6 1503.2,323.8 1503.7,320.4 1504.3,323.8 1504.8,324.4 1505.4,325.4 1505.9,324.4 1506.4,323.8 1507,324.4 1507.5,324.6 1508,325.9 1508.6,323.1 1509.1,323.3 1509.7,323.6 1510.2,325.3 1510.7,324.3 1511.3,325.6 1511.8,320.1 1512.3,319.9 1512.9,322.3 1513.4,323.4 1514,322.6 1514.5,326.1 1515,326.3 1515.6,321.3 1516.1,325.7 1516.6,323.5 1517.2,324.3 1517.7,327.6 1518.3,324.1 1518.8,320.8 1519.3,320.5 1519.9,327.5 1520.4,325.7 1520.9,323.1 1521.5,320.4 1522,319.6 1522.6,320 1523.1,319.3 1523.6,323.2 1524.2,324.2 1524.7,320.3 1525.2,323.4 1525.8,323.1 1526.3,323.9 1526.9,324.2 1527.4,322.1 1527.9,325.3 1528.5,326.8 1529,325 1529.5,323.5 1530.1,323.7 1530.6,322.6 1531.2,325.8 1531.7,323.7 1532.2,320.9 1532.8,323.7 1533.3,325.3 1533.8,322.4 1534.4,325.1 1534.9,323 1535.5,323.3 1536,323 1536.5,322 1537.1,319.9 1537.6,322.6 1538.1,326.8 1538.7,326.9 1539.2,325.1 1539.8,324.8 1540.3,322.9 1540.8,324.2 1541.4,323.8 1541.9,326.3 1542.4,323.3 1543,323.3 1543.5,322.3 1544.1,324.4 1544.6,325.5 1545.1,327.5 1545.7,325.3 1546.2,325.2 1546.7,325.3 1547.3,325.3 1547.8,324.6 1548.4,324.6 1548.9,321.5 1549.4,328 1550,328.8 1550.5,324.6 1551,327.7 1551.6,327 1552.1,327.1 1552.7,328.6 1553.2,325.3 1553.7,325.7 1554.3,326.8 1554.8,325.4 1555.3,324.3 1555.9,326.5 1556.4,325.4 1557,326.9 1557.5,326.8 1558,328 1558.6,323.8 1559.1,326.6 1559.7,329.8 1560.2,325.9 1560.7,332.3 1561.3,327.2 1561.8,326.1 1562.3,324.8 1562.9,327.7 1563.4,328.4 1564,324.1 1564.5,325.2 1565,325.5 1565.6,327.9 1566.1,327.1 1566.6,331.1 1567.2,326.8 1567.7,331.3 1568.3,329.6 1568.8,330.3 1569.3,325.2 1569.9,325.6 1570.4,331.2 1570.9,324.7 1571.5,327.8 1572,332.5 1572.6,330.1 1573.1,331.8 1573.6,328.8 1574.2,328.5 1574.7,330.8 1575.2,327.9 1575.8,327.4 1576.3,331.3 1576.9,329.1 1577.4,330 1577.9,330.1 1578.5,325.5 1579,329.8 1579.5,329.2 1580.1,329.3 1580.6,328 1581.2,327.3 1581.7,329.7 1582.2,325.1 1582.8,323.9 1583.3,323.4 1583.8,326.3 1584.4,327.2 1584.9,328.5 1585.5,326.7 1586,326.9 1586.5,327 1587.1,328.7 1587.6,332.6 1588.1,329.8 1588.7,329.4 1589.2,329.9 1589.8,331.7 1590.3,328.9 1590.8,329.1 1591.4,330.9 1591.9,327.8 1592.4,329.5 1593,330.3 1593.5,330.1 1594.1,330.6 1594.6,330.5 1595.1,329.1 1595.7,328.5 1596.2,327.2 1596.7,328.6 1597.3,327.3 1597.8,326.9 1598.4,331.2 1598.9,329.3 1599.4,328.7 1600,328.2 1600.5,324.6 1601,325.9 1601.6,327.1 1602.1,327.2 1602.7,330.6 1603.2,329.9 1603.7,325.5 1604.3,330.7 1604.8,326.3 1605.3,329.5 1605.9,328.8 1606.4,329.2 1607,325.8 1607.5,328.6 1608,328.9 1608.6,329 1609.1,335.7 1609.6,328.2 1610.2,334.6 1610.7,333 1611.3,330.2 1611.8,334.3 1612.3,335.2 1612.9,329.9 1613.4,332.4 1613.9,329.8 1614.5,330 1615,331.1 1615.6,327.7 1616.1,332 1616.6,327.5 1617.2,332.8 1617.7,332.3 1618.2,332.2 1618.8,331.2 1619.3,334.8 1619.9,334.4 1620.4,330.4 1620.9,332.9 1621.5,331.1 1622,332.6 1622.5,334.2 1623.1,335.3 1623.6,333.4 1624.2,333.6 1624.7,334.8 1625.2,335 1625.8,332.1 1626.3,332.5 1626.8,334 1627.4,335.2 1627.9,335.1 1628.5,330.4 1629,335.1 1629.5,329.4 1630.1,335.5 1630.6,337.7 1631.1,330.5 1631.7,334.9 1632.2,330.7 1632.8,333.4 1633.3,334.6 1633.8,332.5 1634.4,334.7 1634.9,333.8 1635.5,334.8 1636,337 1636.5,333.2 1637.1,336.2 1637.6,335.2 1638.1,333.9 1638.7,337.2 1639.2,333.9 1639.8,333.7 1640.3,330.8 1640.8,333.2 1641.4,334.2 1641.9,335.9 1642.4,334.5 1643,337.4 1643.5,334 1644.1,334.3 1644.6,333.9 1645.1,334 1645.7,332.3 1646.2,333.2 1646.7,335.7 1647.3,331.9 1647.8,334.6 1648.4,334.6 1648.9,335 1649.4,336.9 1650,334.6 1650.5,335.8 1651,336.8 1651.6,334.7 1652.1,333.7 1652.7,334.3 1653.2,335.6 1653.7,337.7 1654.3,337.6 1654.8,337.1 1655.3,339.2 1655.9,335.1 1656.4,335.6 1657,337.9 1657.5,332.9 1658,332.1 1658.6,338.5 1659.1,337.5 1659.6,338.5 1660.2,335.5 1660.7,340.5 1661.3,336.7 1661.8,337.3 1662.3,336.1 1662.9,342.7 1663.4,340.6 1663.9,339.3 1664.5,337.3 1665,339 1665.6,338.7 1666.1,338.9 1666.6,341.4 1667.2,340 1667.7,340.1 1668.2,339.5 1668.8,340.8 1669.3,337.2 1669.9,337.3 1670.4,342.2 1670.9,337.3 1671.5,340.7 1672,342.3 1672.5,336.6 1673.1,339.2 1673.6,339.1 1674.2,340.4 1674.7,340 1675.2,344.2 1675.8,340 1676.3,342.5 1676.8,341.7 1677.4,341.8 1677.9,343.9 1678.5,345.1 1679,342.4 1679.5,339 1680.1,343 1680.6,341.7 1681.1,340.4 1681.7,341.5 1682.2,337.9 1682.8,340.1 1683.3,335.7 1683.8,340 1684.4,336.1 1684.9,341.4 1685.4,340.2 1686,341.5 1686.5,340.2 1687.1,340.4 1687.6,338.4 1688.1,337.8 1688.7,340.8 1689.2,341.8 1689.7,339.7 1690.3,339.9 1690.8,341.3 1691.4,338.9 1691.9,337.9 1692.4,342 1693,342.6 1693.5,345.7 1694,341.9 1694.6,338.9 1695.1,342.2 1695.7,339.5 1696.2,340.8 1696.7,341.9 1697.3,341.5 1697.8,343.5 1698.3,342.2 1698.9,342.2 1699.4,343.4 1700,343.8 1700.5,342 1701,340.8 1701.6,345.2 1702.1,342.2 1702.6,343.6 1703.2,339.6 1703.7,344.3 1704.3,344.6 1704.8,344.6 1705.3,340.1 1705.9,342.9 1706.4,339.4 1706.9,341.5 1707.5,338.3 1708,338.8 1708.6,339.5 1709.1,345.8 1709.6,345.1 1710.2,347.8 1710.7,337.5 1711.3,343.9 1711.8,342.4 1712.3,341.2 1712.9,340.6 1713.4,342.3 1713.9,341 1714.5,342 1715,344.5 1715.6,338.9 1716.1,339.1 1716.6,342.7 1717.2,343 1717.7,339 1718.2,337.7 1718.8,343.1 1719.3,341.7 1719.9,343.7 1720.4,342.7 1720.9,348.3 1721.5,346.9 1722,341.9 1722.5,343.7 1723.1,342.3 1723.6,343 1724.2,341.7 1724.7,342.4 1725.2,342.6 1725.8,341.9 1726.3,344.3 1726.8,339.9 1727.4,343.7 1727.9,342.7 1728.5,339.8 1729,342.3 1729.5,340 1730.1,340.1 1730.6,340.4 1731.1,342.4 1731.7,339.3 1732.2,341.8 1732.8,345 1733.3,339.9 1733.8,343.8 1734.4,342.6 1734.9,342.1 1735.4,345 1736,342.4 1736.5,346.8 1737.1,346 1737.6,346 1738.1,341.7 1738.7,344.7 1739.2,344.1 1739.7,346.9 1740.3,345.1 1740.8,349.8 1741.4,346.3 1741.9,344.6 1742.4,346.5 1743,348.8 1743.5,348.3 1744,344.8 1744.6,343.3 1745.1,346.5 1745.7,342.9 1746.2,347.9 1746.7,343.9 1747.3,343.8 1747.8,342.6 1748.3,347.7 1748.9,342.7 1749.4,343.7 1750,346.1 1750.5,345.1 1751,344.8 1751.6,344.1 1752.1,345.9 1752.6,345.6 1753.2,343.5 1753.7,344.3 1754.3,343.4 1754.8,343.6 1755.3,348.6 1755.9,345.9 1756.4,345.4 1756.9,345.3 1757.5,347.6 1758,344.2 1758.6,342.6 1759.1,344.9 1759.6,346.8 1760.2,344.2 1760.7,345.7 1761.2,344.2 1761.8,344.4 1762.3,345.8 1762.9,344.7 1763.4,347.2 1763.9,349.2 1764.5,343.3 1765,344 1765.5,344.1 1766.1,341.3 1766.6,343.8 1767.2,341.9 1767.7,343.3 1768.2,345.6 1768.8,347.5 1769.3,344.4 1769.8,344.7 1770.4,343 1770.9,347.1 1771.5,344.7 1772,344.4 1772.5,344.1 1773.1,344.5 1773.6,344 1774.1,348.4 1774.7,345.1 1775.2,345.6 1775.8,346.8 1776.3,343.2 1776.8,345.2 1777.4,347 1777.9,347 1778.4,343.9 1779,349.4 1779.5,345 1780.1,346.5 1780.6,344.2 1781.1,341.1 1781.7,343 1782.2,344.5 1782.7,341.5 1783.3,341.9 1783.8,344.8 1784.4,342.8 1784.9,346.9 1785.4,346 1786,347.7 1786.5,348.2 1787.1,347.8 1787.6,350.5 1788.1,348.4 1788.7,343.9 1789.2,346.8 1789.7,347.8 1790.3,343.8 1790.8,343.9 1791.4,349 1791.9,348.4 1792.4,343.6 1793,347.2 1793.5,346.7 1794,348 1794.6,349.5 1795.1,345.4 1795.7,348.9 1796.2,346.5 1796.7,343.9 1797.3,346.4 1797.8,348.1 1798.3,348.2 1798.9,348.1 1799.4,349.7 1800,348.6 1800.5,351.8 1801,352.4 1801.6,350.7 1802.1,352.4 1802.6,350 1803.2,348.4 1803.7,347.9 1804.3,344.8 1804.8,350.1 1805.3,350.1 1805.9,350.6 1806.4,351.1 1806.9,345.7 1807.5,351.6 1808,350.4 1808.6,349.6 1809.1,344.6 1809.6,350.2 1810.2,351.1 1810.7,347.1 1811.2,351.7 1811.8,354.3 1812.3,347.8 1812.9,347.7 1813.4,351.9 1813.9,351.4 1814.5,348.2 1815,350.3 1815.5,351.7 1816.1,350.5 1816.6,344.9 1817.2,346.8 1817.7,351.5 1818.2,349.9 1818.8,350.2 1819.3,350.7 1819.8,350.1 1820.4,346.1 1820.9,351.5 1821.5,352.1 1822,351.1 1822.5,352.1 1823.1,351.6 1823.6,351.4 1824.1,352.3 1824.7,348.6 1825.2,352.3 1825.8,348.5 1826.3,352.9 1826.8,352.9 1827.4,351.7 1827.9,353.1 1828.4,351 1829,351.8 1829.5,349.1 1830.1,358.9 1830.6,354.8 1831.1,352 1831.7,352.9 1832.2,353.8 1832.7,348.3 1833.3,358 1833.8,352.8 1834.4,354.3 1834.9,353.9 1835.4,352.6 1836,354.8 1836.5,353.9 1837,352.5 1837.6,353.3 1838.1,360 1838.7,357.1 1839.2,357.8 1839.7,356.9 1840.3,356.2 1840.8,351.4 1841.3,356.7 1841.9,355.9 1842.4,355.8 1843,353.3 1843.5,357.5 1844,354.7 1844.6,354.3 1845.1,354.9 1845.6,360 1846.2,358.1 1846.7,354.1 1847.3,359.2 1847.8,355.3 1848.3,357.9 1848.9,354.2 1849.4,355.5 1849.9,359.4 1850.5,356.6 1851,358.4 1851.6,357.3 1852.1,354.9 1852.6,356 1853.2,355.9 1853.7,353.2 1854.2,356.6 1854.8,354.2 1855.3,356 1855.9,355.8 1856.4,356.7 1856.9,358.8 1857.5,359.1 1858,358.9 1858.6,356.3 1859.1,356.4 1859.6,358.6 1860.2,354.2 1860.7,358.5 1861.2,358.5 1861.8,360.5 1862.3,359.1 1862.9,356.3 1863.4,357.2 1863.9,359.9 1864.5,356.2 1865,358.8 1865.5,358.3 1866.1,355.7 1866.6,357.3 1867.2,358.7 1867.7,360.9 1868.2,356.2 1868.8,362.5 1869.3,359.9 1869.8,362.4 1870.4,361.7 1870.9,358.5 1871.5,359.6 1872,360.3 1872.5,359.4 1873.1,354.8 1873.6,356.3 1874.1,358.5 1874.7,360.6 1875.2,360.4 1875.8,358.9 1876.3,359.6 1876.8,359.3 1877.4,361.1 1877.9,361.9 1878.4,360.9 1879,358.1 1879.5,360.3 1880.1,354.6 1880.6,358.6 1881.1,358.9 1881.7,357.4 1882.2,361.1 1882.7,360.7 1883.3,359.4 1883.8,358.7 1884.4,359.1 1884.9,356.7 1885.4,357.5 1886,357.8 1886.5,357 1887,358.9 1887.6,357.4 1888.1,360.7 1888.7,361.6 1889.2,359.2 1889.7,364.3 1890.3,359 1890.8,358.2 1891.3,362 1891.9,359.1 1892.4,360 1893,362.7 1893.5,359.4 1894,358.8 1894.6,358.4 1895.1,360.5 1895.6,359.9 1896.2,361.1 1896.7,357.9 1897.3,359.8 1897.8,357.3 1898.3,359.2 1898.9,357.8 1899.4,360 1899.9,359.9 1900.5,356.4 1901,358.8 1901.6,359.5 1902.1,358 1902.6,360 1903.2,390.7 1903.7,396.5 1904.2,396.9 1904.8,391.8 1905.3,400 1905.9,394.4 1906.4,398.3 1906.9,398.6 1907.5,401.5 1908,400.2 1908.5,404.2 1909.1,401.6 1909.6,404.1 1910.2,405.9 1910.7,406.3 1911.2,406.6 1911.8,405.2 1912.3,406.2 1912.8,409.1 1913.4,409.5 1913.9,410.4 1914.5,407.3 1915,407.8 1915.5,410.8 1916.1,412.7 1916.6,409.9 1917.1,411.6 1917.7,409.3 1918.2,411 1918.8,410.7 1919.3,409.7 1919.8,409.7 1920.4,412.2 1920.9,410.3 1921.4,413.2 1922,414.8 1922.5,411.9 1923.1,409.1 1923.6,408.8 1924.1,411.6 1924.7,415.1 1925.2,411.6 1925.7,412.2 1926.3,411.3 1926.8,411.1 1927.4,413.6 1927.9,414.8 1928.4,415.1 1929,415.7 1929.5,416 1930,413.1 1930.6,414.2 1931.1,414.9 1931.7,415.4 1932.2,416.3 1932.7,414.1 1933.3,416.8 1933.8,416.3 1934.4,414.6 1934.9,416.6 1935.4,419.7 1936,417.9 1936.5,418.5 1937,416.9 1937.6,415.2 1938.1,417.7 1938.7,419.4 1939.2,416.4 1939.7,420.6 1940.3,419 1940.8,419.3 1941.3,420.5 1941.9,420.4 1942.4,420.2 1943,418.3 1943.5,420.1 1944,422.8 1944.6,421.8 1945.1,420.4 1945.6,419.5 1946.2,421.8 1946.7,422.6 1947.3,420.5 1947.8,421.2 1948.3,423.8 1948.9,426.4 1949.4,425.5 1949.9,424.1 1950.5,429 1951,429.9 1951.6,426.3 1952.1,430.5 1952.6,430.1 1953.2,428.2 1953.7,428.9 1954.2,428.5 1954.8,428.9 1955.3,427.5 1955.9,429 1956.4,430.6 1956.9,434.8 1957.5,427 1958,427.8 1958.5,428.3 1959.1,430.1 1959.6,431.2 1960.2,428.8 1960.7,430.8 1961.2,434.4 1961.8,430.4 1962.3,435.5 1962.8,434.3 1963.4,430.4 1963.9,434.9 1964.5,432.3 1965,430.4 1965.5,432.3 1966.1,434.4 1966.6,431.6 1967.1,430.4 1967.7,433.1 1968.2,427.9 1968.8,430.8 1969.3,430 1969.8,430.4 1970.4,430.3 1970.9,432.3 1971.4,434.3 1972,430.5 1972.5,432.3 1973.1,430.5 1973.6,435.5 1974.1,433.4 1974.7,429.1 1975.2,436.3 1975.7,436.1 1976.3,433.8 1976.8,430.2 1977.4,435.2 1977.9,433.1 1978.4,433.1 1979,434.7 1979.5,434 1980,431.7 1980.6,434.1 1981.1,437.2 1981.7,435.8 1982.2,435.5 1982.7,438.7 1983.3,436.7 1983.8,437.4 1984.3,440.8 1984.9,434 1985.4,441.9 1986,438.3 1986.5,438.9 1987,439 1987.6,436.5 1988.1,438.4 1988.6,439.2 1989.2,436.4 1989.7,437.2 1990.3,439.9 1990.8,440.8 1991.3,435.5 1991.9,437.3 1992.4,440.4 1992.9,437 1993.5,441 1994,438.8 1994.6,439.3 1995.1,441.3 1995.6,436.4 1996.2,430.9 1996.7,436.3 1997.2,436.4 1997.8,437 1998.3,437.3 1998.9,437.5 1999.4,433.3 1999.9,439.5 2000.5,438.5 2001,438.7 2001.5,437.7 2002.1,437.1 2002.6,437 2003.2,439.6 2003.7,440.1 2004.2,437.5 2004.8,438.6 2005.3,438.9 2005.8,437.2 2006.4,437.5 2006.9,436 2007.5,440.2 2008,435.5 2008.5,439.2 2009.1,437.1 2009.6,441.6 2010.2,440.4 2010.7,441 2011.2,436.7 2011.8,441.4 2012.3,437.6 2012.8,441.5 2013.4,442.5 2013.9,440 2014.5,439.2 2015,441.7 2015.5,441.5 2016.1,443.2 2016.6,444.5 2017.1,442 2017.7,444.7 2018.2,443.1 2018.8,446.3 2019.3,443.3 2019.8,442.5 2020.4,444.5 2020.9,447.4 2021.4,442.4 2022,442.8 2022.5,445.5 2023.1,445 2023.6,445.1 2024.1,444.4 2024.7,443.4 2025.2,445 2025.7,445.5 2026.3,446.3 2026.8,446.1 2027.4,446.5 2027.9,444.1 2028.4,446.9 2029,445.6 2029.5,444 2030,444.7 2030.6,445.4 2031.1,447.2 2031.7,446.3 2032.2,449.3 2032.7,450.3 2033.3,449.8 2033.8,446.7 2034.3,445.4 2034.9,448.3 2035.4,448.4 2036,447.9 2036.5,444.3 2037,447.8 2037.6,448.1 2038.1,450.2 2038.6,448.1 2039.2,447.1 2039.7,449.3 2040.3,450.9 2040.8,447 2041.3,450 2041.9,446.9 2042.4,452.3 2042.9,451.1 2043.5,450.3 2044,453.7 2044.6,451.2 2045.1,450.6 2045.6,451.8 2046.2,451.2 2046.7,452.2 2047.2,454.7 2047.8,451.1 2048.3,454.9 2048.9,454 2049.4,454.8 2049.9,452.1 2050.5,454.5 2051,454.4 2051.5,457.8 2052.1,454.5 2052.6,450.7 2053.2,456.2 2053.7,452.1 2054.2,453.3 2054.8,456.4 2055.3,453.2 2055.8,450.8 2056.4,452.4 2056.9,451.8 2057.5,449.9 2058,453.1 2058.5,451.4 2059.1,455.4 2059.6,454.7 2060.1,450.4 2060.7,450.1 2061.2,450.8 2061.8,455.6 2062.3,454 2062.8,455 2063.4,449.5 2063.9,456.2 2064.4,456.3 2065,455.7 2065.5,453.9 2066.1,455.9 2066.6,456.3 2067.1,455.2 2067.7,455.8 2068.2,459.6 2068.7,457.9 2069.3,452.3 2069.8,454.9 2070.4,451.9 2070.9,452 2071.4,453.2 2072,454.9 2072.5,453 2073,456.8 2073.6,452.2 2074.1,456.1 2074.7,455.7 2075.2,457.5 2075.7,457.6 2076.3,457.1 2076.8,457.5 2077.3,458.3 2077.9,458.8 2078.4,456.4 2079,453.4 2079.5,452.7 2080,455.8 2080.6,457.9 2081.1,456.9 2081.6,454.5 2082.2,457 2082.7,454.8 2083.3,456.2 2083.8,456.5 2084.3,457 2084.9,454.5 2085.4,457 2086,458.1 2086.5,455.3 2087,454 2087.6,455 2088.1,455.3 2088.6,457.3 2089.2,457.6 2089.7,455 2090.3,452.9 2090.8,462 2091.3,454.8 2091.9,457 2092.4,457.5 2092.9,458.5 2093.5,459.2 2094,460.3 2094.6,457.6 2095.1,460.5 2095.6,459.8 2096.2,462.4 2096.7,458.2 2097.2,459 2097.8,462.6 2098.3,460.1 2098.9,461.6 2099.4,462.9 2099.9,461.4 2100.5,459.3 2101,458.4 2101.5,461.9 2102.1,459.9 2102.6,461.2 2103.2,461.5 2103.7,460 2104.2,464.4 2104.8,462.1 2105.3,459.2 2105.8,465.1 2106.4,464.4 2106.9,458.8 2107.5,464.6 2108,463.3 2108.5,462.5 2109.1,463.7 2109.6,461.2 2110.1,460.9 2110.7,462.7 2111.2,458.2 2111.8,462.4 2112.3,462.5 2112.8,461.9 2113.4,461.2 2113.9,464.9 2114.4,462.9 2115,467.8 2115.5,464.3 2116.1,465.3 2116.6,465.1 2117.1,464.2 2117.7,463.3 2118.2,465.1 2118.7,463.7 2119.3,466.7 2119.8,464.2 2120.4,462.1 2120.9,465.1 2121.4,464.4 2122,463.7 2122.5,461.6 2123,462.3 2123.6,464.1 2124.1,465.2 2124.7,462.3 2125.2,467.7 2125.7,461.2 2126.3,464.4 2126.8,462 2127.3,463 2127.9,460.1 2128.4,464 2129,466.6 2129.5,462.8 2130,464.4 2130.6,464.8 2131.1,462.5 2131.6,465.9 2132.2,463.6 2132.7,462.5 2133.3,461.3 2133.8,467 2134.3,463.3 2134.9,465.3 2135.4,465.1 2135.9,465.9 2136.5,465.6 2137,463.1 2137.6,462.3 2138.1,463.9 2138.6,468.2 2139.2,463.6 2139.7,468.5 2140.2,466.4 2140.8,463.7 2141.3,467 2141.9,464 2142.4,466.4 2142.9,468.7 2143.5,466.1 2144,468 2144.5,462.8 2145.1,462.6 2145.6,463 2146.2,468 2146.7,464.1 2147.2,466.4 2147.8,466 2148.3,467.6 2148.8,469.4 2149.4,468 2149.9,465.8 2150.5,464.3 2151,466 2151.5,466.8 2152.1,468.2 2152.6,468.2 2153.1,464.5 2153.7,466.9 2154.2,467.7 2154.8,470.8 2155.3,472.2 2155.8,467.6 2156.4,467.7 2156.9,466.6 2157.4,467.4 2158,469.7 2158.5,470.7 2159.1,468.9 2159.6,470.4 2160.1,465.9 2160.7,465.5 2161.2,464 2161.8,470 2162.3,469.9 2162.8,466.5 2163.4,467.2 2163.9,471.4 2164.4,469.7 2165,468.4 2165.5,469.6 2166.1,468 2166.6,468.3 2167.1,470.2 2167.7,468.9 2168.2,469.9 2168.7,468 2169.3,472.2 2169.8,469 2170.4,469.6 2170.9,468.6 2171.4,468.1 2172,468.2 2172.5,473.3 2173,466.3 2173.6,467.8 2174.1,467.8 2174.7,468 2175.2,465.7 2175.7,467.4 2176.3,471.7 2176.8,469.4 2177.3,469.6 2177.9,470.2 2178.4,470.4 2179,468.7 2179.5,471.8 2180,471.4 2180.6,472.8 2181.1,471.6 2181.6,471.7 2182.2,474.8 2182.7,471.8 2183.3,473.3 2183.8,469.3 2184.3,475.5 2184.9,471.9 2185.4,469.9 2185.9,472.7 2186.5,473.2 2187,472.7 2187.6,470.1 2188.1,472.2 2188.6,469.6 2189.2,472.6 2189.7,473.4 2190.2,473.4 2190.8,471.4 2191.3,471 2191.9,474.9 2192.4,475.1 2192.9,475 2193.5,471.4 2194,469.2 2194.5,473.6 2195.1,471 2195.6,472.7 2196.2,470.3 2196.7,474.9 2197.2,471.1 2197.8,474.9 2198.3,474.1 2198.8,471.8 2199.4,473.6 2199.9,473.4 2200.5,472.8 2201,473.4 2201.5,471.1 2202.1,472.4 2202.6,475.7 2203.1,474.3 2203.7,475.9 2204.2,474.9 2204.8,471.5 2205.3,477.3 2205.8,473.1 2206.4,472.3 2206.9,470 2207.4,475.4 2208,475.4 2208.5,474.4 2209.1,476.6 2209.6,471.3 2210.1,471.8 2210.7,480.5 2211.2,476.8 2211.7,474.1 2212.3,478.1 2212.8,477.9 2213.4,476.6 2213.9,477.5 2214.4,477.1 2215,477.1 2215.5,473.7 2216,481.6 2216.6,477.6 2217.1,478.7 2217.7,476.4 2218.2,477.7 2218.7,475.8 2219.3,476.5 2219.8,472.3 2220.3,479 2220.9,478 2221.4,475.4 2222,478.2 2222.5,477.2 2223,480.7 2223.6,476.1 2224.1,477.9 2224.6,476 2225.2,479.4 2225.7,478.3 2226.3,479.4 2226.8,475.8 2227.3,482.8 2227.9,478.1 2228.4,478.3 2228.9,476.1 2229.5,478.2 2230,480.6 2230.6,478.1 2231.1,481.6 2231.6,475.5 2232.2,477.7 2232.7,479.4 2233.2,479.4 2233.8,477.1 2234.3,481.4 2234.9,475.5 2235.4,479.9 2235.9,475.2 2236.5,477.7 2237,474.3 2237.6,480.5 2238.1,476.6 2238.6,478.8 2239.2,480.3 2239.7,477 2240.2,480 2240.8,481 2241.3,479.7 2241.9,479.8 2242.4,479.1 2242.9,475.1 2243.5,475.7 2244,477.9 2244.5,478.6 2245.1,476.8 2245.6,478.8 2246.2,480.3 2246.7,480.8 2247.2,475.4 2247.8,479.7 2248.3,477.5 2248.8,482.4 2249.4,482.8 2249.9,478.1 2250.5,482.1 2251,482.5 2251.5,483 2252.1,484.4 2252.6,480.1 2253.1,485.4 2253.7,481.5 2254.2,484.8 2254.8,478.2 2255.3,482 2255.8,481 2256.4,486 1892.2,348 1919.7,422.3 2041.9,454.8 1826.1,344.3 649.2,243.8 664.2,229.1 648,229.1 746.5,263.6 734,230.9 374.8,219.9 843.8,261.2 581.9,236.3 844.5,260.9 946.1,273.1 1152.8,297.3 1295.3,314.6 1384.4,314.4 1585.7,334.7 1209.8,286.5 1341.6,295.4 533.9,206.1 2246.6,461.1"/></defs>
<use href="#d0" fill="none" stroke="none" style="marker:url(#mf)"/>
<use href="#d0" fill="none" stroke="none" style="marker:url(#me)"/>
<polyline points="342,208.6 342.5,208.6 343.1,208.7 343.6,208.7 344.2,208.7 344.7,208.8 345.2,208.8 345.8,208.8 346.3,208.9 346.8,208.9 347.4,209 347.9,209 348.5,209 349,209.1 349.5,209.1 350.1,209.2 350.6,209.2 351.1,209.2 351.7,209.3 352.2,209.3 352.8,209.4 353.3,209.4 353.8,209.4 354.4,209.5 354.9,209.5 355.4,209.6 356,209.6 356.5,209.6 357.1,209.7 357.6,209.7 358.1,209.8 358.7,209.8 359.2,209.8 359.8,209.9 360.3,209.9 360.8,210 361.4,210 361.9,210 362.4,210.1 363,210.1 363.5,210.2 364.1,210.2 364.6,210.2 365.1,210.3 365.7,210.3 366.2,210.3 366.7,210.4 367.3,210.4 367.8,210.5 368.4,210.5 368.9,210.5 369.4,210.6 370,210.6 370.5,210.7 371,210.7 371.6,210.7 372.1,210.8 372.7,210.8 373.2,210.8 373.7,210.9 374.3,210.9 374.8,211 375.3,211 375.9,211 376.4,211.1 377,211.1 377.5,211.2 378,211.2 378.6,211.2 379.1,211.3 379.6,211.3 380.2,211.3 380.7,211.4 381.3,211.4 381.8,211.5 382.3,211.5 382.9,211.5 383.4,211.6 383.9,211.6 384.5,211.6 385,211.7 385.6,211.7 386.1,211.8 386.6,211.8 387.2,211.8 387.7,211.9 388.2,211.9 388.8,211.9 389.3,212 389.9,212 390.4,212.1 390.9,212.1 391.5,212.1 392,212.2 392.5,212.2 393.1,212.2 393.6,212.3 394.2,212.3 394.7,212.3 395.2,212.4 395.8,212.4 396.3,212.5 396.8,212.5 397.4,212.5 397.9,212.6 398.5,212.6 399,212.6 399.5,212.7 400.1,212.7 400.6,212.8 401.1,212.8 401.7,212.8 402.2,212.9 402.8,212.9 403.3,212.9 403.8,213 404.4,213 404.9,213.1 405.4,213.1 406,213.1 406.5,213.2 407.1,213.2 407.6,213.3 408.1,213.3 408.7,213.3 409.2,213.4 409.7,213.4 410.3,213.5 410.8,213.5 411.4,213.5 411.9,213.6 412.4,213.6 413,213.7 413.5,213.7 414,213.8 414.6,213.8 415.1,213.8 415.7,213.9 416.2,213.9 416.7,214 417.3,214 417.8,214.1 418.3,214.1 418.9,214.2 419.4,214.2 420,214.3 420.5,214.3 421,214.3 421.6,214.4 422.1,214.4 422.6,214.5 423.2,214.5 423.7,214.6 424.3,214.6 424.8,214.7 425.3,214.7 425.9,214.8 426.4,214.8 426.9,214.9 427.5,215 428,215 428.6,215.1 429.1,215.1 429.6,215.2 430.2,215.2 430.7,215.3 431.3,215.3 431.8,215.4 432.3,215.5 432.9,215.5 433.4,215.6 433.9,215.6 434.5,215.7 435,215.7 435.6,215.8 436.1,215.9 436.6,215.9 437.2,216 437.7,216.1 438.2,216.1 438.8,216.2 439.3,216.2 439.9,216.3 440.4,216.4 440.9,216.4 441.5,216.5 442,216.6 442.5,216.6 443.1,216.7 443.6,216.8 444.2,216.8 444.7,216.9 445.2,217 445.8,217 446.3,217.1 446.8,217.2 447.4,217.3 447.9,217.3 448.5,217.4 449,217.5 449.5,217.5 450.1,217.6 450.6,217.7 451.1,217.8 451.7,217.8 452.2,217.9 452.8,218 453.3,218.1 453.8,218.1 454.4,218.2 454.9,218.3 455.4,218.4 456,218.4 456.5,218.5 457.1,218.6 457.6,218.7 458.1,218.7 458.7,218.8 459.2,218.9 459.7,219 460.3,219.1 460.8,219.1 461.4,219.2 461.9,219.3 462.4,219.4 463,219.4 463.5,219.5 533.9,227.4 534.5,227.4 535,227.5 535.5,227.5 536.1,227.6 536.6,227.6 537.2,227.6 537.7,227.7 538.2,227.7 538.8,227.8 539.3,227.8 539.8,227.8 540.4,227.9 540.9,227.9 541.5,228 542,228 542.5,228 543.1,228.1 543.6,228.1 544.1,228.2 544.7,228.2 545.2,228.2 545.8,228.3 546.3,228.3 546.8,228.4 547.4,228.4 547.9,228.4 548.4,228.5 549,228.5 549.5,228.6 550.1,228.6 550.6,228.6 551.1,228.7 551.7,228.7 552.2,228.7 552.7,228.8 553.3,228.8 553.8,228.9 554.4,228.9 554.9,228.9 555.4,229 556,229 556.5,229.1 557,229.1 557.6,229.1 558.1,229.2 558.7,229.2 559.2,229.3 559.7,229.3 560.3,229.3 560.8,229.4 561.3,229.4 561.9,229.5 562.4,229.5 563,229.5 563.5,229.6 564,229.6 564.6,229.7 565.1,229.7 565.6,229.7 566.2,229.8 566.7,229.8 567.3,229.8 567.8,229.9 568.3,229.9 568.9,230 569.4,230 569.9,230 570.5,230.1 571,230.1 571.6,230.2 572.1,230.2 572.6,230.2 573.2,230.3 573.7,230.3 574.2,230.3 574.8,230.4 575.3,230.4 575.9,230.5 576.4,230.5 576.9,230.5 577.5,230.6 578,230.6 578.5,230.6 579.1,230.7 579.6,230.7 580.2,230.8 580.7,230.8 581.2,230.8 581.8,230.9 582.3,230.9 582.9,230.9 583.4,231 583.9,231 584.5,231.1 585,231.1 585.5,231.1 586.1,231.2 586.6,231.2 587.2,231.2 587.7,231.3 588.2,231.3 588.8,231.3 589.3,231.4 589.8,231.4 590.4,231.5 590.9,231.5 591.5,231.5 592,231.6 592.5,231.6 593.1,231.6 593.6,231.7 594.1,231.7 594.7,231.8 595.2,231.8 595.8,231.8 596.3,231.9 596.8,231.9 597.4,231.9 597.9,232 598.4,232 599,232.1 599.5,232.1 600.1,232.1 600.6,232.2 601.1,232.2 601.7,232.3 602.2,232.3 602.7,232.3 603.3,232.4 603.8,232.4 604.4,232.5 604.9,232.5 605.4,232.5 606,232.6 606.5,232.6 607,232.7 607.6,232.7 608.1,232.7 608.7,232.8 609.2,232.8 609.7,232.9 610.3,232.9 610.8,232.9 611.3,233 611.9,233 612.4,233.1 613,233.1 613.5,233.2 614,233.2 614.6,233.3 615.1,233.3 615.6,233.4 616.2,233.4 616.7,233.4 617.3,233.5 617.8,233.5 618.3,233.6 618.9,233.6 619.4,233.7 619.9,233.7 620.5,233.8 621,233.8 621.6,233.9 622.1,233.9 622.6,234 623.2,234 623.7,234.1 624.2,234.2 624.8,234.2 625.3,234.3 625.9,234.3 626.4,234.4 626.9,234.4 627.5,234.5 628,234.5 628.5,234.6 629.1,234.7 629.6,234.7 630.2,234.8 630.7,234.8 631.2,234.9 631.8,235 632.3,235 632.8,235.1 633.4,235.1 633.9,235.2 634.5,235.3 635,235.3 635.5,235.4 636.1,235.5 636.6,235.5 637.1,235.6 637.7,235.6 638.2,235.7 638.8,235.8 639.3,235.8 639.8,235.9 640.4,236 640.9,236 641.4,236.1 642,236.2 642.5,236.3 643.1,236.3 643.6,236.4 644.1,236.5 644.7,236.5 645.2,236.6 645.7,236.7 646.3,236.8 646.8,236.8 647.4,236.9 647.9,237 648.4,237 649,237.1 649.5,237.2 650,237.3 650.6,237.3 651.1,237.4 651.7,237.5 652.2,237.6 652.7,237.7 653.3,237.7 653.8,237.8 654.3,237.9 654.9,238 655.4,238 656,238.1 656.5,238.2 657,238.3 657.6,238.3 658.1,238.4 658.7,238.5 659.2,238.6 659.7,238.7 660.3,238.7 660.8,238.8 661.3,238.9 661.9,239 662.4,239 663,239.1 663.5,239.2 664,239.3 664.6,239.4 665.1,239.4 665.6,239.5 666.2,239.6 666.7,239.7 667.3,239.8 667.8,239.8 668.3,239.9 668.9,240 669.4,240.1 669.9,240.1 670.5,240.2 671,240.3 671.6,240.4 672.1,240.4 672.6,240.5 673.2,240.6 673.7,240.7 674.2,240.8 674.8,240.8 675.3,240.9 675.9,241 676.4,241.1 676.9,241.1 677.5,241.2 678,241.3 678.5,241.3 679.1,241.4 679.6,241.5 680.2,241.6 680.7,241.6 681.2,241.7 681.8,241.8 682.3,241.8 682.8,241.9 683.4,242 683.9,242.1 684.5,242.1 685,242.2 685.5,242.3 686.1,242.3 686.6,242.4 687.1,242.5 687.7,242.5 688.2,242.6 688.8,242.7 689.3,242.7 689.8,242.8 690.4,242.9 690.9,242.9 691.4,243 692,243 692.5,243.1 693.1,243.2 693.6,243.2 694.1,243.3 694.7,243.4 695.2,243.4 695.7,243.5 696.3,243.5 696.8,243.6 697.4,243.7 697.9,243.7 698.4,243.8 699,243.8 699.5,243.9 700,243.9 700.6,244 701.1,244 701.7,244.1 702.2,244.2 702.7,244.2 703.3,244.3 703.8,244.3 704.3,244.4 704.9,244.4 705.4,244.5 706,244.5 706.5,244.6 707,244.6 707.6,244.7 708.1,244.7 708.6,244.8 709.2,244.8 709.7,244.9 710.3,244.9 710.8,245 711.3,245 711.9,245.1 712.4,245.1 712.9,245.2 713.5,245.2 714,245.3 714.6,245.3 715.1,245.3 715.6,245.4 716.2,245.4 716.7,245.5 717.2,245.5 717.8,245.6 718.3,245.6 718.9,245.7 719.4,245.7 719.9,245.7 720.5,245.8 721,245.8 721.5,245.9 722.1,245.9 722.6,246 723.2,246 723.7,246 724.2,246.1 724.8,246.1 725.3,246.2 725.8,246.2 726.4,246.3 726.9,246.3 727.5,246.3 728,246.4 728.5,246.4 729.1,246.5 729.6,246.5 730.1,246.5 730.7,246.6 731.2,246.6 731.8,246.7 732.3,246.7 732.8,246.7 733.4,246.8 733.9,246.8 734.5,246.9 735,246.9 735.5,246.9 736.1,247 736.6,247 737.1,247.1 737.7,247.1 738.2,247.1 738.8,247.2 739.3,247.2 739.8,247.3 740.4,247.3 740.9,247.3 741.4,247.4 742,247.4 742.5,247.5 743.1,247.5 743.6,247.5 744.1,247.6 744.7,247.6 745.2,247.7 745.7,247.7 746.3,247.7 746.8,247.8 747.4,247.8 747.9,247.9 748.4,247.9 749,247.9 749.5,248 750,248 750.6,248.1 751.1,248.1 751.7,248.1 752.2,248.2 752.7,248.2 753.3,248.3 753.8,248.3 754.3,248.3 754.9,248.4 755.4,248.4 756,248.4 756.5,248.5 757,248.5 757.6,248.6 758.1,248.6 758.6,248.6 759.2,248.7 759.7,248.7 760.3,248.8 760.8,248.8 761.3,248.8 761.9,248.9 762.4,248.9 762.9,249 763.5,249 764,249 764.6,249.1 765.1,249.1 765.6,249.1 766.2,249.2 766.7,249.2 767.2,249.3 767.8,249.3 768.3,249.3 768.9,249.4 769.4,249.4 769.9,249.5 770.5,249.5 771,249.5 771.5,249.6 772.1,249.6 772.6,249.6 773.2,249.7 773.7,249.7 774.2,249.8 774.8,249.8 775.3,249.8 775.8,249.9 776.4,249.9 776.9,249.9 777.5,250 778,250 778.5,250.1 779.1,250.1 779.6,250.1 780.1,250.2 780.7,250.2 781.2,250.2 781.8,250.3 782.3,250.3 782.8,250.3 783.4,250.4 783.9,250.4 784.4,250.5 785,250.5 785.5,250.5 786.1,250.6 786.6,250.6 787.1,250.6 787.7,250.7 788.2,250.7 788.7,250.8 789.3,250.8 789.8,250.8 790.4,250.9 790.9,250.9 791.4,250.9 792,251 792.5,251 793,251.1 793.6,251.1 794.1,251.1 794.7,251.2 795.2,251.2 795.7,251.2 796.3,251.3 796.8,251.3 797.3,251.4 797.9,251.4 798.4,251.4 799,251.5 799.5,251.5 800,251.6 800.6,251.6 801.1,251.6 801.6,251.7 802.2,251.7 802.7,251.8 803.3,251.8 803.8,251.8 804.3,251.9 804.9,251.9 805.4,252 805.9,252 806.5,252.1 807,252.1 807.6,252.1 808.1,252.2 808.6,252.2 809.2,252.3 809.7,252.3 810.3,252.4 810.8,252.4 811.3,252.5 811.9,252.5 812.4,252.5 812.9,252.6 813.5,252.6 814,252.7 814.6,252.7 815.1,252.8 815.6,252.8 816.2,252.9 816.7,252.9 817.2,253 817.8,253 818.3,253.1 818.9,253.1 819.4,253.2 819.9,253.2 820.5,253.3 821,253.4 821.5,253.4 822.1,253.5 822.6,253.5 823.2,253.6 823.7,253.6 824.2,253.7 824.8,253.7 825.3,253.8 825.8,253.9 826.4,253.9 826.9,254 827.5,254 828,254.1 828.5,254.2 829.1,254.2 829.6,254.3 830.1,254.3 830.7,254.4 831.2,254.5 831.8,254.5 832.3,254.6 832.8,254.7 833.4,254.7 833.9,254.8 834.4,254.9 835,254.9 835.5,255 836.1,255.1 836.6,255.1 837.1,255.2 837.7,255.3 838.2,255.3 838.7,255.4 839.3,255.5 839.8,255.5 840.4,255.6 840.9,255.7 841.4,255.8 842,255.8 842.5,255.9 843,256 843.6,256 844.1,256.1 844.7,256.2 845.2,256.3 845.7,256.3 846.3,256.4 846.8,256.5 847.3,256.6 847.9,256.6 848.4,256.7 849,256.8 849.5,256.9 850,256.9 850.6,257 851.1,257.1 851.6,257.2 852.2,257.2 852.7,257.3 853.3,257.4 853.8,257.5 854.3,257.6 854.9,257.6 855.4,257.7 855.9,257.8 856.5,257.9 857,258 857.6,258 858.1,258.1 858.6,258.2 859.2,258.3 859.7,258.3 860.2,258.4 860.8,258.5 861.3,258.6 861.9,258.7 862.4,258.7 862.9,258.8 863.5,258.9 864,259 864.5,259 865.1,259.1 865.6,259.2 866.2,259.3 866.7,259.4 867.2,259.4 867.8,259.5 868.3,259.6 868.8,259.7 869.4,259.7 869.9,259.8 870.5,259.9 871,260 871.5,260 872.1,260.1 872.6,260.2 873.1,260.3 873.7,260.3 874.2,260.4 874.8,260.5 875.3,260.6 875.8,260.6 876.4,260.7 876.9,260.8 877.4,260.8 878,260.9 878.5,261 879.1,261.1 879.6,261.1 880.1,261.2 880.7,261.3 881.2,261.3 881.8,261.4 882.3,261.5 882.8,261.5 883.4,261.6 883.9,261.7 884.4,261.7 885,261.8 885.5,261.9 886.1,261.9 886.6,262 887.1,262.1 887.7,262.1 888.2,262.2 888.7,262.3 889.3,262.3 889.8,262.4 890.4,262.4 890.9,262.5 891.4,262.6 892,262.6 892.5,262.7 893,262.7 893.6,262.8 894.1,262.9 894.7,262.9 895.2,263 895.7,263 896.3,263.1 896.8,263.1 897.3,263.2 897.9,263.2 898.4,263.3 899,263.4 899.5,263.4 900,263.5 900.6,263.5 901.1,263.6 901.6,263.6 902.2,263.7 902.7,263.7 903.3,263.8 903.8,263.8 904.3,263.9 904.9,263.9 905.4,264 905.9,264 906.5,264.1 907,264.1 907.6,264.2 908.1,264.2 908.6,264.3 909.2,264.3 909.7,264.4 910.2,264.4 910.8,264.4 911.3,264.5 911.9,264.5 912.4,264.6 912.9,264.6 913.5,264.7 914,264.7 914.5,264.8 915.1,264.8 915.6,264.9 916.2,264.9 916.7,264.9 917.2,265 917.8,265 918.3,265.1 918.8,265.1 919.4,265.2 919.9,265.2 920.5,265.2 921,265.3 921.5,265.3 922.1,265.4 922.6,265.4 923.1,265.4 923.7,265.5 924.2,265.5 924.8,265.6 925.3,265.6 925.8,265.7 926.4,265.7 926.9,265.7 927.4,265.8 928,265.8 928.5,265.9 929.1,265.9 929.6,265.9 930.1,266 930.7,266 931.2,266.1 931.7,266.1 932.3,266.1 932.8,266.2 933.4,266.2 933.9,266.3 934.4,266.3 935,266.3 935.5,266.4 936,266.4 936.6,266.5 937.1,266.5 937.7,266.5 938.2,266.6 938.7,266.6 939.3,266.7 939.8,266.7 940.3,266.7 940.9,266.8 941.4,266.8 942,266.8 942.5,266.9 943,266.9 943.6,267 944.1,267 944.6,267 945.2,267.1 945.7,267.1 946.3,267.2 946.8,267.2 947.3,267.2 947.9,267.3 948.4,267.3 948.9,267.4 949.5,267.4 950,267.4 950.6,267.5 951.1,267.5 951.6,267.6 952.2,267.6 952.7,267.6 953.2,267.7 953.8,267.7 954.3,267.8 954.9,267.8 955.4,267.8 955.9,267.9 956.5,267.9 957,267.9 957.6,268 958.1,268 958.6,268.1 959.2,268.1 959.7,268.1 960.2,268.2 960.8,268.2 961.3,268.3 961.9,268.3 962.4,268.3 962.9,268.4 963.5,268.4 964,268.4 964.5,268.5 965.1,268.5 965.6,268.6 966.2,268.6 966.7,268.6 967.2,268.7 967.8,268.7 968.3,268.8 968.8,268.8 969.4,268.8 969.9,268.9 970.5,268.9 971,268.9 971.5,269 972.1,269 972.6,269.1 973.1,269.1 973.7,269.1 974.2,269.2 974.8,269.2 975.3,269.2 975.8,269.3 976.4,269.3 976.9,269.3 977.4,269.4 978,269.4 978.5,269.5 979.1,269.5 979.6,269.5 980.1,269.6 980.7,269.6 981.2,269.6 981.7,269.7 982.3,269.7 982.8,269.8 983.4,269.8 983.9,269.8 984.4,269.9 985,269.9 985.5,269.9 986,270 986.6,270 987.1,270.1 987.7,270.1 988.2,270.1 988.7,270.2 989.3,270.2 989.8,270.2 990.3,270.3 990.9,270.3 991.4,270.4 992,270.4 992.5,270.4 993,270.5 993.6,270.5 994.1,270.5 994.6,270.6 995.2,270.6 995.7,270.7 996.3,270.7 996.8,270.7 997.3,270.8 997.9,270.8 998.4,270.9 998.9,270.9 999.5,270.9 1000,271 1000.6,271 1001.1,271.1 1001.6,271.1 1002.2,271.2 1002.7,271.2 1003.2,271.2 1003.8,271.3 1004.3,271.3 1004.9,271.4 1005.4,271.4 1005.9,271.5 1006.5,271.5 1007,271.6 1007.5,271.6 1008.1,271.6 1008.6,271.7 1009.2,271.7 1009.7,271.8 1010.2,271.8 1010.8,271.9 1011.3,271.9 1011.8,272 1012.4,272 1012.9,272.1 1013.5,272.1 1014,272.2 1014.5,272.2 1015.1,272.3 1015.6,272.3 1016.1,272.4 1016.7,272.4 1017.2,272.5 1017.8,272.5 1018.3,272.6 1018.8,272.7 1019.4,272.7 1019.9,272.8 1020.4,272.8 1021,272.9 1021.5,272.9 1022.1,273 1022.6,273.1 1023.1,273.1 1023.7,273.2 1024.2,273.2 1024.7,273.3 1025.3,273.4 1025.8,273.4 1026.4,273.5 1026.9,273.5 1027.4,273.6 1028,273.7 1028.5,273.7 1029,273.8 1029.6,273.9 1030.1,273.9 1030.7,274 1031.2,274.1 1031.7,274.1 1032.3,274.2 1032.8,274.3 1033.4,274.3 1033.9,274.4 1034.4,274.5 1035,274.5 1035.5,274.6 1036,274.7 1036.6,274.7 1037.1,274.8 1037.7,274.9 1038.2,275 1038.7,275 1039.3,275.1 1039.8,275.2 1040.3,275.3 1040.9,275.3 1041.4,275.4 1042,275.5 1042.5,275.6 1043,275.6 1043.6,275.7 1044.1,275.8 1044.6,275.9 1045.2,275.9 1045.7,276 1046.3,276.1 1046.8,276.2 1047.3,276.2 1047.9,276.3 1048.4,276.4 1048.9,276.5 1049.5,276.5 1050,276.6 1050.6,276.7 1051.1,276.8 1051.6,276.9 1052.2,276.9 1052.7,277 1053.2,277.1 1053.8,277.2 1054.3,277.2 1054.9,277.3 1055.4,277.4 1055.9,277.5 1056.5,277.6 1057,277.6 1057.5,277.7 1058.1,277.8 1058.6,277.9 1059.2,278 1059.7,278 1060.2,278.1 1060.8,278.2 1061.3,278.3 1061.8,278.3 1062.4,278.4 1062.9,278.5 1063.5,278.6 1064,278.6 1064.5,278.7 1065.1,278.8 1065.6,278.9 1066.1,279 1066.7,279 1067.2,279.1 1067.8,279.2 1068.3,279.3 1068.8,279.3 1069.4,279.4 1069.9,279.5 1070.4,279.6 1071,279.6 1071.5,279.7 1072.1,279.8 1072.6,279.8 1073.1,279.9 1073.7,280 1074.2,280.1 1074.7,280.1 1075.3,280.2 1075.8,280.3 1076.4,280.3 1076.9,280.4 1077.4,280.5 1078,280.5 1078.5,280.6 1079,280.7 1079.6,280.7 1080.1,280.8 1080.7,280.9 1081.2,280.9 1081.7,281 1082.3,281.1 1082.8,281.1 1083.3,281.2 1083.9,281.3 1084.4,281.3 1085,281.4 1085.5,281.5 1086,281.5 1086.6,281.6 1087.1,281.6 1087.6,281.7 1088.2,281.8 1088.7,281.8 1089.3,281.9 1089.8,281.9 1090.3,282 1090.9,282.1 1091.4,282.1 1091.9,282.2 1092.5,282.2 1093,282.3 1093.6,282.3 1094.1,282.4 1094.6,282.4 1095.2,282.5 1095.7,282.6 1096.2,282.6 1096.8,282.7 1097.3,282.7 1097.9,282.8 1098.4,282.8 1098.9,282.9 1099.5,282.9 1100,283 1100.5,283 1101.1,283.1 1101.6,283.1 1102.2,283.2 1102.7,283.2 1103.2,283.3 1103.8,283.3 1104.3,283.4 1104.8,283.4 1105.4,283.5 1105.9,283.5 1106.5,283.5 1107,283.6 1107.5,283.6 1108.1,283.7 1108.6,283.7 1109.2,283.8 1109.7,283.8 1110.2,283.9 1110.8,283.9 1111.3,284 1111.8,284 1112.4,284 1112.9,284.1 1113.5,284.1 1114,284.2 1114.5,284.2 1115.1,284.3 1115.6,284.3 1116.1,284.3 1116.7,284.4 1117.2,284.4 1117.8,284.5 1118.3,284.5 1118.8,284.6 1119.4,284.6 1119.9,284.6 1120.4,284.7 1121,284.7 1121.5,284.8 1122.1,284.8 1122.6,284.8 1123.1,284.9 1123.7,284.9 1124.2,285 1124.7,285 1125.3,285 1125.8,285.1 1126.4,285.1 1126.9,285.2 1127.4,285.2 1128,285.2 1128.5,285.3 1129,285.3 1129.6,285.4 1130.1,285.4 1130.7,285.4 1131.2,285.5 1131.7,285.5 1132.3,285.6 1132.8,285.6 1133.3,285.6 1133.9,285.7 1134.4,285.7 1135,285.8 1135.5,285.8 1136,285.8 1136.6,285.9 1137.1,285.9 1137.6,286 1138.2,286 1138.7,286 1139.3,286.1 1139.8,286.1 1140.3,286.2 1140.9,286.2 1141.4,286.2 1141.9,286.3 1142.5,286.3 1143,286.4 1143.6,286.4 1144.1,286.4 1144.6,286.5 1145.2,286.5 1145.7,286.5 1146.2,286.6 1146.8,286.6 1147.3,286.7 1147.9,286.7 1148.4,286.7 1148.9,286.8 1149.5,286.8 1150,286.9 1150.5,286.9 1151.1,286.9 1151.6,287 1152.2,287 1152.7,287.1 1153.2,287.1 1153.8,287.1 1154.3,287.2 1154.8,287.2 1155.4,287.2 1155.9,287.3 1156.5,287.3 1157,287.4 1157.5,287.4 1158.1,287.4 1158.6,287.5 1159.1,287.5 1159.7,287.6 1160.2,287.6 1160.8,287.6 1161.3,287.7 1161.8,287.7 1162.4,287.7 1162.9,287.8 1163.4,287.8 1164,287.9 1164.5,287.9 1165.1,287.9 1165.6,288 1166.1,288 1166.7,288.1 1167.2,288.1 1167.7,288.1 1168.3,288.2 1168.8,288.2 1169.4,288.2 1169.9,288.3 1170.4,288.3 1171,288.3 1171.5,288.4 1172,288.4 1172.6,288.5 1173.1,288.5 1173.7,288.5 1174.2,288.6 1174.7,288.6 1175.3,288.6 1175.8,288.7 1176.3,288.7 1176.9,288.8 1177.4,288.8 1178,288.8 1178.5,288.9 1179,288.9 1179.6,288.9 1180.1,289 1180.6,289 1181.2,289.1 1181.7,289.1 1182.3,289.1 1182.8,289.2 1183.3,289.2 1183.9,289.2 1184.4,289.3 1185,289.3 1185.5,289.4 1186,289.4 1186.6,289.4 1187.1,289.5 1187.6,289.5 1188.2,289.5 1188.7,289.6 1189.3,289.6 1189.8,289.7 1190.3,289.7 1190.9,289.7 1191.4,289.8 1191.9,289.8 1192.5,289.9 1193,289.9 1193.6,289.9 1194.1,290 1194.6,290 1195.2,290.1 1195.7,290.1 1196.2,290.1 1196.8,290.2 1197.3,290.2 1197.9,290.3 1198.4,290.3 1198.9,290.3 1199.5,290.4 1200,290.4 1200.5,290.5 1201.1,290.5 1201.6,290.6 1202.2,290.6 1202.7,290.7 1203.2,290.7 1203.8,290.7 1204.3,290.8 1204.8,290.8 1205.4,290.9 1205.9,290.9 1206.5,291 1207,291 1207.5,291.1 1208.1,291.1 1208.6,291.2 1209.1,291.2 1209.7,291.3 1210.2,291.3 1210.8,291.4 1211.3,291.4 1211.8,291.5 1212.4,291.5 1212.9,291.6 1213.4,291.6 1214,291.7 1214.5,291.7 1215.1,291.8 1215.6,291.9 1216.1,291.9 1216.7,292 1217.2,292 1217.7,292.1 1218.3,292.1 1218.8,292.2 1281.7,300.6 1282.3,300.7 1282.8,300.7 1283.3,300.8 1283.9,300.8 1284.4,300.9 1284.9,301 1285.5,301 1286,301.1 1286.6,301.1 1287.1,301.2 1287.6,301.3 1288.2,301.3 1288.7,301.4 1289.2,301.4 1289.8,301.5 1290.3,301.5 1290.9,301.6 1291.4,301.6 1291.9,301.7 1292.5,301.8 1293,301.8 1293.5,301.9 1294.1,301.9 1294.6,302 1295.2,302 1295.7,302.1 1296.2,302.1 1296.8,302.2 1297.3,302.2 1297.8,302.3 1298.4,302.3 1298.9,302.4 1299.5,302.4 1300,302.5 1300.5,302.5 1301.1,302.6 1301.6,302.6 1302.1,302.6 1302.7,302.7 1303.2,302.7 1303.8,302.8 1304.3,302.8 1304.8,302.9 1305.4,302.9 1305.9,303 1306.4,303 1307,303.1 1307.5,303.1 1308.1,303.1 1308.6,303.2 1309.1,303.2 1309.7,303.3 1310.2,303.3 1310.7,303.4 1311.3,303.4 1311.8,303.4 1312.4,303.5 1312.9,303.5 1313.4,303.6 1314,303.6 1314.5,303.7 1315,303.7 1315.6,303.7 1316.1,303.8 1316.7,303.8 1317.2,303.9 1317.7,303.9 1318.3,303.9 1318.8,304 1319.3,304 1319.9,304.1 1320.4,304.1 1321,304.1 1321.5,304.2 1322,304.2 1322.6,304.3 1323.1,304.3 1323.6,304.3 1324.2,304.4 1324.7,304.4 1325.3,304.5 1325.8,304.5 1326.3,304.5 1326.9,304.6 1327.4,304.6 1327.9,304.7 1328.5,304.7 1329,304.7 1329.6,304.8 1330.1,304.8 1330.6,304.9 1331.2,304.9 1331.7,304.9 1332.2,305 1332.8,305 1333.3,305.1 1333.9,305.1 1334.4,305.1 1334.9,305.2 1335.5,305.2 1336,305.3 1336.6,305.3 1337.1,305.3 1337.6,305.4 1338.2,305.4 1338.7,305.5 1339.2,305.5 1339.8,305.5 1340.3,305.6 1340.9,305.6 1341.4,305.7 1341.9,305.7 1342.5,305.7 1343,305.8 1343.5,305.8 1344.1,305.9 1344.6,305.9 1345.2,305.9 1345.7,306 1346.2,306 1346.8,306 1347.3,306.1 1347.8,306.1 1348.4,306.2 1348.9,306.2 1349.5,306.2 1350,306.3 1350.5,306.3 1351.1,306.4 1351.6,306.4 1352.1,306.4 1352.7,306.5 1353.2,306.5 1353.8,306.6 1354.3,306.6 1354.8,306.6 1355.4,306.7 1355.9,306.7 1356.4,306.7 1357,306.8 1357.5,306.8 1358.1,306.9 1358.6,306.9 1359.1,306.9 1359.7,307 1360.2,307 1360.7,307 1361.3,307.1 1361.8,307.1 1362.4,307.2 1362.9,307.2 1363.4,307.2 1364,307.3 1364.5,307.3 1365,307.3 1365.6,307.4 1366.1,307.4 1366.7,307.5 1367.2,307.5 1367.7,307.5 1368.3,307.6 1368.8,307.6 1369.3,307.6 1369.9,307.7 1370.4,307.7 1371,307.8 1371.5,307.8 1372,307.8 1372.6,307.9 1373.1,307.9 1373.6,307.9 1374.2,308 1374.7,308 1375.3,308.1 1375.8,308.1 1376.3,308.1 1376.9,308.2 1377.4,308.2 1377.9,308.2 1378.5,308.3 1379,308.3 1379.6,308.4 1380.1,308.4 1380.6,308.4 1381.2,308.5 1381.7,308.5 1382.2,308.5 1382.8,308.6 1383.3,308.6 1383.9,308.7 1384.4,308.7 1384.9,308.7 1385.5,308.8 1386,308.8 1386.5,308.8 1387.1,308.9 1387.6,308.9 1388.2,309 1388.7,309 1389.2,309 1389.8,309.1 1390.3,309.1 1390.8,309.2 1391.4,309.2 1391.9,309.2 1392.5,309.3 1393,309.3 1393.5,309.4 1394.1,309.4 1394.6,309.5 1395.1,309.5 1395.7,309.5 1396.2,309.6 1396.8,309.6 1397.3,309.7 1397.8,309.7 1398.4,309.8 1398.9,309.8 1399.4,309.8 1400,309.9 1400.5,309.9 1401.1,310 1401.6,310 1402.1,310.1 1402.7,310.1 1403.2,310.2 1403.7,310.2 1404.3,310.3 1404.8,310.3 1405.4,310.4 1405.9,310.4 1406.4,310.5 1407,310.5 1407.5,310.6 1408.1,310.6 1408.6,310.7 1409.1,310.7 1409.7,310.8 1410.2,310.8 1410.7,310.9 1411.3,310.9 1411.8,311 1412.4,311.1 1412.9,311.1 1413.4,311.2 1414,311.2 1414.5,311.3 1415,311.3 1415.6,311.4 1416.1,311.5 1416.7,311.5 1417.2,311.6 1417.7,311.6 1418.3,311.7 1418.8,311.8 1419.3,311.8 1419.9,311.9 1420.4,312 1421,312 1421.5,312.1 1422,312.1 1422.6,312.2 1423.1,312.3 1423.6,312.3 1424.2,312.4 1424.7,312.5 1425.3,312.5 1425.8,312.6 1426.3,312.7 1426.9,312.7 1427.4,312.8 1427.9,312.9 1428.5,313 1429,313 1429.6,313.1 1430.1,313.2 1430.6,313.2 1431.2,313.3 1431.7,313.4 1432.2,313.5 1432.8,313.5 1433.3,313.6 1433.9,313.7 1434.4,313.8 1434.9,313.8 1435.5,313.9 1436,314 1436.5,314.1 1437.1,314.1 1437.6,314.2 1438.2,314.3 1438.7,314.4 1439.2,314.4 1439.8,314.5 1440.3,314.6 1440.8,314.7 1441.4,314.7 1441.9,314.8 1442.5,314.9 1443,315 1443.5,315.1 1444.1,315.1 1444.6,315.2 1445.1,315.3 1445.7,315.4 1446.2,315.4 1446.8,315.5 1447.3,315.6 1447.8,315.7 1448.4,315.8 1448.9,315.8 1449.4,315.9 1450,316 1450.5,316.1 1451.1,316.1 1451.6,316.2 1452.1,316.3 1452.7,316.4 1453.2,316.5 1453.7,316.5 1454.3,316.6 1454.8,316.7 1455.4,316.8 1455.9,316.8 1456.4,316.9 1457,317 1457.5,317.1 1458,317.2 1458.6,317.2 1459.1,317.3 1459.7,317.4 1460.2,317.5 1460.7,317.5 1461.3,317.6 1461.8,317.7 1462.3,317.8 1462.9,317.8 1463.4,317.9 1464,318 1464.5,318 1465,318.1 1465.6,318.2 1466.1,318.3 1466.6,318.3 1467.2,318.4 1467.7,318.5 1468.3,318.5 1468.8,318.6 1469.3,318.7 1469.9,318.8 1470.4,318.8 1470.9,318.9 1471.5,319 1472,319 1472.6,319.1 1473.1,319.2 1473.6,319.2 1474.2,319.3 1474.7,319.4 1475.2,319.4 1475.8,319.5 1476.3,319.6 1476.9,319.6 1477.4,319.7 1477.9,319.7 1478.5,319.8 1479,319.9 1479.5,319.9 1480.1,320 1480.6,320 1481.2,320.1 1481.7,320.2 1482.2,320.2 1482.8,320.3 1483.3,320.3 1483.9,320.4 1484.4,320.5 1484.9,320.5 1485.5,320.6 1486,320.6 1486.5,320.7 1487.1,320.7 1487.6,320.8 1488.2,320.8 1488.7,320.9 1489.2,320.9 1489.8,321 1490.3,321.1 1490.8,321.1 1491.4,321.2 1491.9,321.2 1492.5,321.3 1493,321.3 1493.5,321.4 1494.1,321.4 1494.6,321.5 1495.1,321.5 1495.7,321.6 1496.2,321.6 1496.8,321.7 1497.3,321.7 1497.8,321.7 1498.4,321.8 1498.9,321.8 1499.4,321.9 1500,321.9 1500.5,322 1501.1,322 1501.6,322.1 1502.1,322.1 1502.7,322.2 1503.2,322.2 1503.7,322.2 1504.3,322.3 1504.8,322.3 1505.4,322.4 1505.9,322.4 1506.4,322.5 1507,322.5 1507.5,322.6 1508,322.6 1508.6,322.6 1509.1,322.7 1509.7,322.7 1510.2,322.8 1510.7,322.8 1511.3,322.8 1511.8,322.9 1512.3,322.9 1512.9,323 1513.4,323 1514,323.1 1514.5,323.1 1515,323.1 1515.6,323.2 1516.1,323.2 1516.6,323.3 1517.2,323.3 1517.7,323.3 1518.3,323.4 1518.8,323.4 1519.3,323.5 1519.9,323.5 1520.4,323.5 1520.9,323.6 1521.5,323.6 1522,323.7 1522.6,323.7 1523.1,323.7 1523.6,323.8 1524.2,323.8 1524.7,323.9 1525.2,323.9 1525.8,323.9 1526.3,324 1526.9,324 1527.4,324.1 1527.9,324.1 1528.5,324.1 1529,324.2 1529.5,324.2 1530.1,324.3 1530.6,324.3 1531.2,324.3 1531.7,324.4 1532.2,324.4 1532.8,324.4 1533.3,324.5 1533.8,324.5 1534.4,324.6 1534.9,324.6 1535.5,324.6 1536,324.7 1536.5,324.7 1537.1,324.8 1537.6,324.8 1538.1,324.8 1538.7,324.9 1539.2,324.9 1539.8,325 1540.3,325 1540.8,325 1541.4,325.1 1541.9,325.1 1542.4,325.2 1543,325.2 1543.5,325.2 1544.1,325.3 1544.6,325.3 1545.1,325.4 1545.7,325.4 1546.2,325.4 1546.7,325.5 1547.3,325.5 1547.8,325.5 1548.4,325.6 1548.9,325.6 1549.4,325.7 1550,325.7 1550.5,325.7 1551,325.8 1551.6,325.8 1552.1,325.9 1552.7,325.9 1553.2,325.9 1553.7,326 1554.3,326 1554.8,326 1555.3,326.1 1555.9,326.1 1556.4,326.2 1557,326.2 1557.5,326.2 1558,326.3 1558.6,326.3 1559.1,326.3 1559.7,326.4 1560.2,326.4 1560.7,326.5 1561.3,326.5 1561.8,326.5 1562.3,326.6 1562.9,326.6 1563.4,326.6 1564,326.7 1564.5,326.7 1565,326.8 1565.6,326.8 1566.1,326.8 1566.6,326.9 1567.2,326.9 1567.7,326.9 1568.3,327 1568.8,327 1569.3,327.1 1569.9,327.1 1570.4,327.1 1570.9,327.2 1571.5,327.2 1572,327.2 1572.6,327.3 1573.1,327.3 1573.6,327.3 1574.2,327.4 1574.7,327.4 1575.2,327.5 1575.8,327.5 1576.3,327.5 1576.9,327.6 1577.4,327.6 1577.9,327.6 1578.5,327.7 1579,327.7 1579.5,327.8 1580.1,327.8 1580.6,327.8 1581.2,327.9 1581.7,327.9 1582.2,328 1582.8,328 1583.3,328 1583.8,328.1 1584.4,328.1 1584.9,328.1 1585.5,328.2 1586,328.2 1586.5,328.3 1587.1,328.3 1587.6,328.4 1588.1,328.4 1588.7,328.4 1589.2,328.5 1589.8,328.5 1590.3,328.6 1590.8,328.6 1591.4,328.6 1591.9,328.7 1592.4,328.7 1593,328.8 1593.5,328.8 1594.1,328.9 1594.6,328.9 1595.1,328.9 1595.7,329 1596.2,329 1596.7,329.1 1597.3,329.1 1597.8,329.2 1598.4,329.2 1598.9,329.3 1599.4,329.3 1600,329.4 1600.5,329.4 1601,329.5 1601.6,329.5 1602.1,329.6 1602.7,329.6 1603.2,329.7 1603.7,329.7 1604.3,329.8 1604.8,329.8 1605.3,329.9 1605.9,329.9 1606.4,330 1607,330 1607.5,330.1 1608,330.1 1608.6,330.2 1609.1,330.3 1609.6,330.3 1610.2,330.4 1610.7,330.4 1611.3,330.5 1611.8,330.5 1612.3,330.6 1612.9,330.7 1613.4,330.7 1613.9,330.8 1614.5,330.8 1615,330.9 1615.6,331 1616.1,331 1616.6,331.1 1617.2,331.2 1617.7,331.2 1618.2,331.3 1618.8,331.4 1619.3,331.4 1619.9,331.5 1620.4,331.6 1620.9,331.6 1621.5,331.7 1622,331.8 1622.5,331.8 1623.1,331.9 1623.6,332 1624.2,332 1624.7,332.1 1625.2,332.2 1625.8,332.2 1626.3,332.3 1626.8,332.4 1627.4,332.5 1627.9,332.5 1628.5,332.6 1629,332.7 1629.5,332.7 1630.1,332.8 1630.6,332.9 1631.1,333 1631.7,333 1632.2,333.1 1632.8,333.2 1633.3,333.3 1633.8,333.3 1634.4,333.4 1634.9,333.5 1635.5,333.6 1636,333.6 1636.5,333.7 1637.1,333.8 1637.6,333.9 1638.1,334 1638.7,334 1639.2,334.1 1639.8,334.2 1640.3,334.3 1640.8,334.3 1641.4,334.4 1641.9,334.5 1642.4,334.6 1643,334.7 1643.5,334.7 1644.1,334.8 1644.6,334.9 1645.1,335 1645.7,335.1 1646.2,335.1 1646.7,335.2 1647.3,335.3 1647.8,335.4 1648.4,335.4 1648.9,335.5 1649.4,335.6 1650,335.7 1650.5,335.8 1651,335.8 1651.6,335.9 1652.1,336 1652.7,336.1 1653.2,336.1 1653.7,336.2 1654.3,336.3 1654.8,336.4 1655.3,336.4 1655.9,336.5 1656.4,336.6 1657,336.7 1657.5,336.7 1658,336.8 1658.6,336.9 1659.1,337 1659.6,337 1660.2,337.1 1660.7,337.2 1661.3,337.3 1661.8,337.3 1662.3,337.4 1662.9,337.5 1663.4,337.5 1663.9,337.6 1664.5,337.7 1665,337.8 1665.6,337.8 1666.1,337.9 1666.6,338 1667.2,338 1667.7,338.1 1668.2,338.2 1668.8,338.2 1669.3,338.3 1669.9,338.4 1670.4,338.4 1670.9,338.5 1671.5,338.6 1672,338.6 1672.5,338.7 1673.1,338.8 1673.6,338.8 1674.2,338.9 1674.7,338.9 1675.2,339 1675.8,339.1 1676.3,339.1 1676.8,339.2 1677.4,339.3 1677.9,339.3 1678.5,339.4 1679,339.4 1679.5,339.5 1680.1,339.5 1680.6,339.6 1681.1,339.7 1681.7,339.7 1682.2,339.8 1682.8,339.8 1683.3,339.9 1683.8,339.9 1684.4,340 1684.9,340 1685.4,340.1 1686,340.1 1686.5,340.2 1687.1,340.3 1687.6,340.3 1688.1,340.4 1688.7,340.4 1689.2,340.5 1689.7,340.5 1690.3,340.6 1690.8,340.6 1691.4,340.7 1691.9,340.7 1692.4,340.7 1693,340.8 1693.5,340.8 1694,340.9 1694.6,340.9 1695.1,341 1695.7,341 1696.2,341.1 1696.7,341.1 1697.3,341.2 1697.8,341.2 1698.3,341.3 1698.9,341.3 1699.4,341.4 1700,341.4 1700.5,341.4 1701,341.5 1701.6,341.5 1702.1,341.6 1702.6,341.6 1703.2,341.7 1703.7,341.7 1704.3,341.7 1704.8,341.8 1705.3,341.8 1705.9,341.9 1706.4,341.9 1706.9,342 1707.5,342 1708,342 1708.6,342.1 1709.1,342.1 1709.6,342.2 1710.2,342.2 1710.7,342.2 1711.3,342.3 1711.8,342.3 1712.3,342.4 1712.9,342.4 1713.4,342.4 1713.9,342.5 1714.5,342.5 1715,342.6 1715.6,342.6 1716.1,342.6 1716.6,342.7 1717.2,342.7 1717.7,342.8 1718.2,342.8 1718.8,342.8 1719.3,342.9 1719.9,342.9 1720.4,343 1720.9,343 1721.5,343 1722,343.1 1722.5,343.1 1723.1,343.2 1723.6,343.2 1724.2,343.2 1724.7,343.3 1725.2,343.3 1725.8,343.4 1726.3,343.4 1726.8,343.4 1727.4,343.5 1727.9,343.5 1728.5,343.6 1729,343.6 1729.5,343.6 1730.1,343.7 1730.6,343.7 1731.1,343.8 1731.7,343.8 1732.2,343.8 1732.8,343.9 1733.3,343.9 1733.8,344 1734.4,344 1734.9,344 1735.4,344.1 1736,344.1 1736.5,344.1 1737.1,344.2 1737.6,344.2 1738.1,344.3 1738.7,344.3 1739.2,344.3 1739.7,344.4 1740.3,344.4 1740.8,344.5 1741.4,344.5 1741.9,344.5 1742.4,344.6 1743,344.6 1743.5,344.7 1744,344.7 1744.6,344.7 1745.1,344.8 1745.7,344.8 1746.2,344.8 1746.7,344.9 1747.3,344.9 1747.8,345 1748.3,345 1748.9,345 1749.4,345.1 1750,345.1 1750.5,345.2 1751,345.2 1751.6,345.2 1752.1,345.3 1752.6,345.3 1753.2,345.3 1753.7,345.4 1754.3,345.4 1754.8,345.5 1755.3,345.5 1755.9,345.5 1756.4,345.6 1756.9,345.6 1757.5,345.6 1758,345.7 1758.6,345.7 1759.1,345.8 1759.6,345.8 1760.2,345.8 1760.7,345.9 1761.2,345.9 1761.8,345.9 1762.3,346 1762.9,346 1763.4,346.1 1763.9,346.1 1764.5,346.1 1765,346.2 1765.5,346.2 1766.1,346.2 1766.6,346.3 1767.2,346.3 1767.7,346.3 1768.2,346.4 1768.8,346.4 1769.3,346.5 1769.8,346.5 1770.4,346.5 1770.9,346.6 1771.5,346.6 1772,346.6 1772.5,346.7 1773.1,346.7 1773.6,346.8 1774.1,346.8 1774.7,346.8 1775.2,346.9 1775.8,346.9 1776.3,346.9 1776.8,347 1777.4,347 1777.9,347.1 1778.4,347.1 1779,347.1 1779.5,347.2 1780.1,347.2 1780.6,347.3 1781.1,347.3 1781.7,347.3 1782.2,347.4 1782.7,347.4 1783.3,347.5 1783.8,347.5 1784.4,347.5 1784.9,347.6 1785.4,347.6 1786,347.7 1786.5,347.7 1787.1,347.7 1787.6,347.8 1788.1,347.8 1788.7,347.9 1789.2,347.9 1789.7,348 1790.3,348 1790.8,348.1 1791.4,348.1 1791.9,348.1 1792.4,348.2 1793,348.2 1793.5,348.3 1794,348.3 1794.6,348.4 1795.1,348.4 1795.7,348.5 1796.2,348.5 1796.7,348.6 1797.3,348.6 1797.8,348.7 1798.3,348.7 1798.9,348.8 1799.4,348.8 1800,348.9 1800.5,348.9 1801,349 1801.6,349 1802.1,349.1 1802.6,349.1 1803.2,349.2 1803.7,349.2 1804.3,349.3 1804.8,349.3 1805.3,349.4 1805.9,349.5 1806.4,349.5 1806.9,349.6 1807.5,349.6 1808,349.7 1808.6,349.7 1809.1,349.8 1809.6,349.9 1810.2,349.9 1810.7,350 1811.2,350.1 1811.8,350.1 1812.3,350.2 1812.9,350.2 1813.4,350.3 1813.9,350.4 1814.5,350.4 1815,350.5 1815.5,350.6 1816.1,350.6 1816.6,350.7 1817.2,350.8 1817.7,350.8 1818.2,350.9 1818.8,351 1819.3,351 1819.8,351.1 1820.4,351.2 1820.9,351.2 1821.5,351.3 1822,351.4 1822.5,351.5 1823.1,351.5 1823.6,351.6 1824.1,351.7 1824.7,351.7 1825.2,351.8 1825.8,351.9 1826.3,352 1826.8,352 1827.4,352.1 1827.9,352.2 1828.4,352.3 1829,352.3 1829.5,352.4 1830.1,352.5 1830.6,352.6 1831.1,352.6 1831.7,352.7 1832.2,352.8 1832.7,352.9 1833.3,352.9 1833.8,353 1834.4,353.1 1834.9,353.2 1835.4,353.3 1836,353.3 1836.5,353.4 1837,353.5 1837.6,353.6 1838.1,353.6 1838.7,353.7 1839.2,353.8 1839.7,353.9 1840.3,354 1840.8,354 1841.3,354.1 1841.9,354.2 1842.4,354.3 1843,354.3 1843.5,354.4 1844,354.5 1844.6,354.6 1845.1,354.7 1845.6,354.7 1846.2,354.8 1846.7,354.9 1847.3,355 1847.8,355 1848.3,355.1 1848.9,355.2 1849.4,355.3 1849.9,355.4 1850.5,355.4 1851,355.5 1851.6,355.6 1852.1,355.7 1852.6,355.7 1853.2,355.8 1853.7,355.9 1854.2,356 1854.8,356 1855.3,356.1 1855.9,356.2 1856.4,356.3 1856.9,356.3 1857.5,356.4 1858,356.5 1858.6,356.5 1859.1,356.6 1859.6,356.7 1860.2,356.8 1860.7,356.8 1861.2,356.9 1861.8,357 1862.3,357 1862.9,357.1 1863.4,357.2 1863.9,357.2 1864.5,357.3 1865,357.4 1865.5,357.4 1866.1,357.5 1866.6,357.6 1867.2,357.6 1867.7,357.7 1868.2,357.8 1868.8,357.8 1869.3,357.9 1869.8,358 1870.4,358 1870.9,358.1 1871.5,358.2 1872,358.2 1872.5,358.3 1873.1,358.3 1873.6,358.4 1874.1,358.5 1874.7,358.5 1875.2,358.6 1875.8,358.6 1876.3,358.7 1876.8,358.7 1877.4,358.8 1877.9,358.9 1878.4,358.9 1879,359 1879.5,359 1880.1,359.1 1880.6,359.1 1881.1,359.2 1881.7,359.2 1882.2,359.3 1882.7,359.3 1883.3,359.4 1883.8,359.4 1884.4,359.5 1884.9,359.5 1885.4,359.6 1886,359.7 1886.5,359.7 1887,359.7 1887.6,359.8 1888.1,359.8 1888.7,359.9 1889.2,359.9 1889.7,360 1890.3,360 1890.8,360.1 1891.3,360.1 1891.9,360.2 1892.4,360.2 1893,360.3 1893.5,360.3 1894,360.4 1894.6,360.4 1895.1,360.5 1895.6,360.5 1896.2,360.5 1896.7,360.6 1897.3,360.6 1897.8,360.7 1898.3,360.7 1898.9,360.8 1899.4,360.8 1899.9,360.8 1900.5,360.9 1901,360.9 1901.6,361 1902.1,361 1902.6,361.1 1903.2,397.3 1903.7,398.1 1904.2,398.9 1904.8,399.7 1905.3,400.3 1905.9,401 1906.4,401.6 1906.9,402.2 1907.5,402.7 1908,403.2 1908.5,403.7 1909.1,404.2 1909.6,404.7 1910.2,405.1 1910.7,405.5 1911.2,405.9 1911.8,406.3 1912.3,406.7 1912.8,407.1 1913.4,407.4 1913.9,407.8 1914.5,408.1 1915,408.4 1915.5,408.7 1916.1,409.1 1916.6,409.4 1917.1,409.6 1917.7,409.9 1918.2,410.2 1918.8,410.5 1919.3,410.8 1919.8,411 1920.4,411.3 1920.9,411.5 1921.4,411.8 1922,412 1922.5,412.3 1923.1,412.5 1923.6,412.7 1924.1,413 1924.7,413.2 1925.2,413.4 1925.7,413.6 1926.3,413.8 1926.8,414 1927.4,414.3 1927.9,414.5 1928.4,414.7 1929,414.9 1929.5,415.1 1930,415.2 1930.6,415.4 1931.1,415.6 1931.7,415.8 1932.2,416 1932.7,416.2 1933.3,416.4 1933.8,416.5 1934.4,416.7 1934.9,416.9 1935.4,417 1936,417.2 1936.5,417.4 1937,417.5 1937.6,417.7 1938.1,417.9 1938.7,418 1939.2,418.2 1939.7,419 1940.3,419.4 1940.8,419.8 1941.3,420.2 1941.9,420.6 1942.4,421 1943,421.3 1943.5,421.6 1944,421.9 1944.6,422.2 1945.1,422.5 1945.6,422.8 1946.2,423.1 1946.7,423.4 1947.3,423.7 1947.8,423.9 1948.3,424.2 1948.9,424.4 1949.4,424.7 1949.9,424.9 1950.5,425.1 1951,425.4 1951.6,425.6 1952.1,425.8 1952.6,426 1953.2,426.2 1953.7,426.4 1954.2,426.7 1954.8,426.9 1955.3,427.1 1955.9,427.3 1956.4,427.5 1956.9,427.7 1957.5,427.8 1958,428 1958.5,428.2 1959.1,428.4 1959.6,428.6 1960.2,428.8 1960.7,428.9 1961.2,429.1 1961.8,429.3 1962.3,429.5 1962.8,429.6 1963.4,429.8 1963.9,430 1964.5,430.1 1965,430.3 1965.5,430.5 1966.1,430.6 1966.6,430.8 1967.1,430.9 1967.7,431.1 1968.2,431.3 1968.8,431.4 1969.3,431.6 1969.8,431.7 1970.4,431.9 1970.9,432 1971.4,432.2 1972,432.3 1972.5,432.5 1973.1,432.6 1973.6,432.8 1974.1,432.9 1974.7,433 1975.2,433.2 1975.7,433.3 1976.3,433.5 1976.8,433.6 1977.4,433.7 1977.9,433.9 1978.4,434 1979,434.2 1979.5,434.3 1980,434.4 1980.6,434.6 1981.1,434.7 1981.7,434.8 1982.2,435 1982.7,435.1 1983.3,435.2 1983.8,435.4 1984.3,435.5 1984.9,435.6 1985.4,435.8 1986,435.9 1986.5,436 1987,436.2 1987.6,436.3 1988.1,436.4 1988.6,436.5 1989.2,436.7 1989.7,436.8 1990.3,436.9 1990.8,437.1 1991.3,437.2 1991.9,437.3 1992.4,437.4 1992.9,437.6 1993.5,437.7 1994,437.8 1994.6,438 1995.1,438.1 1995.6,438.2 1996.2,438.3 1996.7,438.5 1997.2,438.6 1997.8,438.7 1998.3,438.8 1998.9,439 1999.4,439.1 1999.9,439.2 2000.5,439.4 2001,439.5 2001.5,439.6 2002.1,439.7 2002.6,439.9 2003.2,440 2003.7,440.1 2004.2,440.3 2004.8,440.4 2005.3,440.5 2005.8,440.6 2006.4,440.8 2006.9,440.9 2007.5,441 2008,441.1 2008.5,441.3 2009.1,441.4 2009.6,441.5 2010.2,441.7 2010.7,441.8 2011.2,441.9 2011.8,442 2012.3,442.2 2012.8,442.3 2013.4,442.4 2013.9,442.6 2014.5,442.7 2015,442.8 2015.5,443 2016.1,443.1 2016.6,443.2 2017.1,443.3 2017.7,443.5 2018.2,443.6 2018.8,443.7 2019.3,443.9 2019.8,444 2020.4,444.1 2020.9,444.3 2021.4,444.4 2022,444.5 2022.5,444.7 2023.1,444.8 2023.6,444.9 2024.1,445 2024.7,445.2 2025.2,445.3 2025.7,445.4 2026.3,445.6 2026.8,445.7 2027.4,445.8 2027.9,446 2028.4,446.1 2029,446.2 2029.5,446.4 2030,446.5 2030.6,446.6 2031.1,446.8 2031.7,446.9 2032.2,447 2032.7,447.1 2033.3,447.3 2033.8,447.4 2034.3,447.5 2034.9,447.7 2035.4,447.8 2036,447.9 2036.5,448.1 2037,448.2 2037.6,448.3 2038.1,448.4 2038.6,448.6 2039.2,448.7 2039.7,448.8 2040.3,449 2040.8,449.1 2041.3,449.2 2041.9,449.3 2042.4,449.5 2042.9,449.6 2043.5,449.7 2044,449.8 2044.6,450 2045.1,450.1 2045.6,450.2 2046.2,450.3 2046.7,450.5 2047.2,450.6 2047.8,450.7 2048.3,450.8 2048.9,450.9 2049.4,451.1 2049.9,451.2 2050.5,451.3 2051,451.4 2051.5,451.6 2052.1,451.7 2052.6,451.8 2053.2,451.9 2053.7,452 2054.2,452.1 2054.8,452.3 2055.3,452.4 2055.8,452.5 2056.4,452.6 2056.9,452.7 2057.5,452.8 2058,452.9 2058.5,453.1 2059.1,453.2 2059.6,453.3 2060.1,453.4 2060.7,453.5 2061.2,453.6 2061.8,453.7 2062.3,453.8 2062.8,453.9 2063.4,454 2063.9,454.1 2064.4,454.3 2065,454.4 2065.5,454.5 2066.1,454.6 2066.6,454.7 2067.1,454.8 2067.7,454.9 2068.2,455 2068.7,455.1 2069.3,455.2 2069.8,455.3 2070.4,455.4 2070.9,455.5 2071.4,455.6 2072,455.7 2072.5,455.8 2073,455.9 2073.6,456 2074.1,456.1 2074.7,456.2 2075.2,456.3 2075.7,456.3 2076.3,456.4 2076.8,456.5 2077.3,456.6 2077.9,456.7 2078.4,456.8 2079,456.9 2079.5,457 2080,457.1 2080.6,457.2 2081.1,457.2 2081.6,457.3 2082.2,457.4 2082.7,457.5 2083.3,457.6 2083.8,457.7 2084.3,457.8 2084.9,457.9 2085.4,457.9 2086,458 2086.5,458.1 2087,458.2 2087.6,458.3 2088.1,458.4 2088.6,458.4 2089.2,458.5 2089.7,458.6 2090.3,458.7 2090.8,458.8 2091.3,458.8 2091.9,458.9 2092.4,459 2092.9,459.1 2093.5,459.2 2094,459.2 2094.6,459.3 2095.1,459.4 2095.6,459.5 2096.2,459.5 2096.7,459.6 2097.2,459.7 2097.8,459.8 2098.3,459.8 2098.9,459.9 2099.4,460 2099.9,460.1 2100.5,460.1 2101,460.2 2101.5,460.3 2102.1,460.4 2102.6,460.4 2103.2,460.5 2103.7,460.6 2104.2,460.7 2104.8,460.7 2105.3,460.8 2105.8,460.9 2106.4,461 2106.9,461 2107.5,461.1 2108,461.2 2108.5,461.2 2109.1,461.3 2109.6,461.4 2110.1,461.5 2110.7,461.5 2111.2,461.6 2111.8,461.7 2112.3,461.7 2112.8,461.8 2113.4,461.9 2113.9,462 2114.4,462 2115,462.1 2115.5,462.2 2116.1,462.2 2116.6,462.3 2117.1,462.4 2117.7,462.5 2118.2,462.5 2118.7,462.6 2119.3,462.7 2119.8,462.7 2120.4,462.8 2120.9,462.9 2121.4,462.9 2122,463 2122.5,463.1 2123,463.1 2123.6,463.2 2124.1,463.3 2124.7,463.4 2125.2,463.4 2125.7,463.5 2126.3,463.6 2126.8,463.6 2127.3,463.7 2127.9,463.8 2128.4,463.8 2129,463.9 2129.5,464 2130,464 2130.6,464.1 2131.1,464.2 2131.6,464.2 2132.2,464.3 2132.7,464.4 2133.3,464.4 2133.8,464.5 2134.3,464.6 2134.9,464.6 2135.4,464.7 2135.9,464.8 2136.5,464.8 2137,464.9 2137.6,465 2138.1,465 2138.6,465.1 2139.2,465.2 2139.7,465.2 2140.2,465.3 2140.8,465.4 2141.3,465.4 2141.9,465.5 2142.4,465.6 2142.9,465.6 2143.5,465.7 2144,465.8 2144.5,465.8 2145.1,465.9 2145.6,466 2146.2,466 2146.7,466.1 2147.2,466.2 2147.8,466.2 2148.3,466.3 2148.8,466.3 2149.4,466.4 2149.9,466.5 2150.5,466.5 2151,466.6 2151.5,466.7 2152.1,466.7 2152.6,466.8 2153.1,466.8 2153.7,466.9 2154.2,467 2154.8,467 2155.3,467.1 2155.8,467.2 2156.4,467.2 2156.9,467.3 2157.4,467.3 2158,467.4 2158.5,467.5 2159.1,467.5 2159.6,467.6 2160.1,467.7 2160.7,467.7 2161.2,467.8 2161.8,467.8 2162.3,467.9 2162.8,468 2163.4,468 2163.9,468.1 2164.4,468.2 2165,468.2 2165.5,468.3 2166.1,468.3 2166.6,468.4 2167.1,468.5 2167.7,468.5 2168.2,468.6 2168.7,468.7 2169.3,468.7 2169.8,468.8 2170.4,468.8 2170.9,468.9 2171.4,469 2172,469 2172.5,469.1 2173,469.2 2173.6,469.2 2174.1,469.3 2174.7,469.3 2175.2,469.4 2175.7,469.5 2176.3,469.5 2176.8,469.6 2177.3,469.7 2177.9,469.7 2178.4,469.8 2179,469.9 2179.5,469.9 2180,470 2180.6,470.1 2181.1,470.1 2181.6,470.2 2182.2,470.2 2182.7,470.3 2183.3,470.4 2183.8,470.5 2184.3,470.5 2184.9,470.6 2185.4,470.7 2185.9,470.7 2186.5,470.8 2187,470.9 2187.6,470.9 2188.1,471 2188.6,471.1 2189.2,471.1 2189.7,471.2 2190.2,471.3 2190.8,471.4 2191.3,471.4 2191.9,471.5 2192.4,471.6 2192.9,471.6 2193.5,471.7 2194,471.8 2194.5,471.9 2195.1,471.9 2195.6,472 2196.2,472.1 2196.7,472.2 2197.2,472.3 2197.8,472.3 2198.3,472.4 2198.8,472.5 2199.4,472.6 2199.9,472.6 2200.5,472.7 2201,472.8 2201.5,472.9 2202.1,473 2202.6,473 2203.1,473.1 2203.7,473.2 2204.2,473.3 2204.8,473.4 2205.3,473.5 2205.8,473.5 2206.4,473.6 2206.9,473.7 2207.4,473.8 2208,473.9 2208.5,474 2209.1,474.1 2209.6,474.1 2210.1,474.2 2210.7,474.3 2211.2,474.4 2211.7,474.5 2212.3,474.6 2212.8,474.7 2213.4,474.8 2213.9,474.9 2214.4,474.9 2215,475 2215.5,475.1 2216,475.2 2216.6,475.3 2217.1,475.4 2217.7,475.5 2218.2,475.6 2218.7,475.7 2219.3,475.8 2219.8,475.9 2220.3,476 2220.9,476.1 2221.4,476.2 2222,476.3 2222.5,476.3 2223,476.4 2223.6,476.5 2224.1,476.6 2224.6,476.7 2225.2,476.8 2225.7,476.9 2226.3,477 2226.8,477.1 2227.3,477.2 2227.9,477.3 2228.4,477.4 2228.9,477.5 2229.5,477.6 2230,477.7 2230.6,477.8 2231.1,477.9 2231.6,478 2232.2,478.1 2232.7,478.2 2233.2,478.3 2233.8,478.4 2234.3,478.5 2234.9,478.6 2235.4,478.7 2235.9,478.8 2236.5,478.9 2237,479 2237.6,479.1 2238.1,479.2 2238.6,479.3 2239.2,479.4 2239.7,479.5 2240.2,479.5 2240.8,479.6 2241.3,479.7 2241.9,479.8 2242.4,479.9 2242.9,480 2243.5,480.1 2244,480.2 2244.5,480.3 2245.1,480.4 2245.6,480.5 2246.2,480.6 2246.7,480.7 2247.2,480.8 2247.8,480.9 2248.3,481 2248.8,481.1 2249.4,481.1 2249.9,481.2 2250.5,481.3 2251,481.4 2251.5,481.5 2252.1,481.6 2252.6,481.7 2253.1,481.8 2253.7,481.9 2254.2,481.9 2254.8,482 2255.3,482.1 2255.8,482.2 2256.4,482.3" fill="none" stroke="#f00" stroke-width="8.9" stroke-linejoin="round" stroke-linecap="butt"/>
</g>
<g>
<text x="1261.1" y="685.0" text-anchor="middle">a: 2.0/0.1 b: −13.1/0.0 c: 0.9/0.0 d: −1.3/0.0 e: −0.2/0.0 f: 0.1/0.0 g1: −14.1/0.4 k1: −2.8/0.3 g2: 6.6/0.3 k2: 0.8/0.2</text>
<path d="M170.20 647.80H2330.10V1097.90H170.20ZM366.55 1097.90v-21.60M366.55 647.80v21.60M562.91 1097.90v-21.60M562.91 647.80v21.60M759.26 1097.90v-21.60M759.26 647.80v21.60M955.62 1097.90v-21.60M955.62 647.80v21.60M1151.97 1097.90v-21.60M1151.97 647.80v21.60M1348.33 1097.90v-21.60M1348.33 647.80v21.60M1544.68 1097.90v-21.60M1544.68 647.80v21.60M1741.04 1097.90v-21.60M1741.04 647.80v21.60M1937.39 1097.90v-21.60M1937.39 647.80v21.60M2133.75 1097.90v-21.60M2133.75 647.80v21.60M170.20 760.33h21.60M2330.10 760.33h-21.60M170.20 872.85h21.60M2330.10 872.85h-21.60M170.20 985.38h21.60M2330.10 985.38h-21.60" fill="none" stroke="#000" stroke-width="2.25" stroke-linejoin="round"/>
<text x="170.2" y="1148.4" text-anchor="middle">2004</text>
<text x="366.6" y="1148.4" text-anchor="middle">2005</text>
<text x="562.9" y="1148.4" text-anchor="middle">2006</text>
<text x="759.3" y="1148.4" text-anchor="middle">2007</text>
<text x="955.6" y="1148.4" text-anchor="middle">2008</text>
<text x="1152.0" y="1148.4" text-anchor="middle">2009</text>
<text x="1348.3" y="1148.4" text-anchor="middle">2010</text>
<text x="1544.7" y="1148.4" text-anchor="middle">2011</text>
<text x="1741.0" y="1148.4" text-anchor="middle">2012</text>
<text x="1937.4" y="1148.4" text-anchor="middle">2013</text>
<text x="2133.7" y="1148.4" text-anchor="middle">2014</text>
<text x="2330.1" y="1148.4" text-anchor="middle">2015</text>
<text x="158.0" y="663.3" text-anchor="end">50</text>
<text x="158.0" y="775.8" text-anchor="end">0</text>
<text x="158.0" y="888.4" text-anchor="end">−50</text>
<text x="158.0" y="1000.9" text-anchor="end">−100</text>
<text x="158.0" y="1113.4" text-anchor="end">−150</text>
<text transform="translate(35.8 871.4) rotate(-90)" text-anchor="middle">E Disp. (mm)</text>
<defs><polyline id="d1" points="342,764.3 342.5,759.2 343.1,753.1 343.6,754.4 344.2,759.1 344.7,755.6 345.2,757.3 345.8,757.4 346.3,755.1 346.8,762.9 347.4,759.7 347.9,757.1 348.5,760.7 349,765.6 349.5,764.6 350.1,764.9 350.6,762.2 351.1,765.3 351.7,763.5 352.2,757.7 352.8,761 353.3,765.6 353.8,764.5 354.4,763.2 354.9,765.3 355.4,758.8 356,765.4 356.5,761.3 357.1,752.3 357.6,760.5 358.1,753.7 358.7,759.4 359.2,760 359.8,752.5 360.3,753.6 360.8,767.8 361.4,765.7 361.9,762 362.4,758.8 363,759.1 363.5,768.8 364.1,762 364.6,756.6 365.1,770.9 365.7,767.2 366.2,769.2 366.7,756.4 367.3,763.8 367.8,770.5 368.4,758.4 368.9,762.5 369.4,753.2 370,759.9 370.5,764.8 371,765 371.6,766.2 372.1,758.8 372.7,764.2 373.2,765.4 373.7,760.1 374.3,762.7 374.8,768 375.3,770.3 375.9,766 376.4,769.8 377,762.7 377.5,764.3 378,759.4 378.6,764.5 379.1,766.1 379.6,764.5 380.2,767.6 380.7,758.8 381.3,760.6 381.8,764.4 382.3,754.3 382.9,769.2 383.4,771.3 383.9,767.1 384.5,756.2 385,761.7 385.6,760 386.1,756.2 386.6,756.3 387.2,755.7 387.7,762.4 388.2,755.7 388.8,755.5 389.3,768.7 389.9,766.9 390.4,760.9 390.9,758.8 391.5,766.3 392,761.4 392.5,764.6 393.1,769.3 393.6,765.5 394.2,766.1 394.7,763 395.2,764.9 395.8,755.7 396.3,763.2 396.8,768 397.4,763.5 397.9,756.5 398.5,760.5 399,770.8 399.5,764 400.1,757.8 400.6,768.3 401.1,761.1 401.7,759.1 402.2,757.5 402.8,762.3 403.3,764 403.8,764.6 404.4,765.5 404.9,766.4 405.4,770.9 406,761.7 406.5,766.2 407.1,761.4 407.6,763.1 408.1,762.4 408.7,768.7 409.2,765.7 409.7,762.8 410.3,762.7 410.8,767.2 411.4,766.5 411.9,757.9 412.4,762.2 413,760.7 413.5,765.3 414,769.3 414.6,763.6 415.1,765.7 415.7,762.3 416.2,767.9 416.7,770.1 417.3,773.3 417.8,769.1 418.3,762.7 418.9,765.3 419.4,773.1 420,762.2 420.5,768.9 421,766.4 421.6,768.8 422.1,771.8 422.6,764.9 423.2,769.2 423.7,770.4 424.3,769.4 424.8,767.9 425.3,762 425.9,766 426.4,772.3 426.9,758.9 427.5,762.4 428,764.1 428.6,772.7 429.1,772.2 429.6,770.1 430.2,770.7 430.7,767.9 431.3,759.5 431.8,766.6 432.3,763 432.9,760.3 433.4,768.4 433.9,766 434.5,765.8 435,772.1 435.6,774.8 436.1,771.7 436.6,766.6 437.2,773.3 437.7,768.9 438.2,771.8 438.8,770 439.3,762.6 439.9,772.6 440.4,770.7 440.9,769.4 441.5,763.1 442,772.1 442.5,766.5 443.1,767 443.6,763.1 444.2,764.4 444.7,763.9 445.2,769.8 445.8,765.1 446.3,772.1 446.8,771.5 447.4,765.7 447.9,767.4 448.5,775.7 449,771.6 449.5,766.5 450.1,767.7 450.6,765.4 451.1,777.6 451.7,767.7 452.2,776.1 452.8,769.8 453.3,771.2 453.8,775.9 454.4,774.5 454.9,767.7 455.4,766.6 456,768.4 456.5,770.1 457.1,774.9 457.6,772.5 458.1,772 458.7,769.8 459.2,778.2 459.7,778.7 460.3,775.7 460.8,774.6 461.4,778 461.9,779 462.4,779.2 463,771.7 463.5,773.5 533.9,789.7 534.5,787 535,791.5 535.5,785.4 536.1,785.8 536.6,787.5 537.2,789 537.7,790.3 538.2,792.9 538.8,790.4 539.3,795.4 539.8,790.1 540.4,791.7 540.9,797.3 541.5,793.3 542,792.3 542.5,796.9 543.1,793.4 543.6,791.3 544.1,788.1 544.7,790.2 545.2,791.5 545.8,790.3 546.3,790.1 546.8,786.2 547.4,793.7 547.9,791.3 548.4,794.6 549,788.5 549.5,795.5 550.1,793.4 550.6,787.8 551.1,798.1 551.7,787.4 552.2,795.5 552.7,793.1 553.3,797.4 553.8,790.9 554.4,786.6 554.9,787.5 555.4,793.7 556,798.3 556.5,799.8 557,790.5 557.6,796.4 558.1,790 558.7,795.9 559.2,791.4 559.7,796.2 560.3,793.2 560.8,793.5 561.3,797.3 561.9,788.5 562.4,789.4 563,796.5 563.5,789.1 564,790 564.6,796.4 565.1,786.2 565.6,796 566.2,794 566.7,792.1 567.3,800.4 567.8,798.2 568.3,797.7 568.9,792.5 569.4,786.5 569.9,792 570.5,791.9 571,797.7 571.6,794.5 572.1,797.4 572.6,792.7 573.2,799.2 573.7,795.9 574.2,794.8 574.8,791.5 575.3,797.9 575.9,792.4 576.4,798.8 576.9,789.7 577.5,799.7 578,789 578.5,792.7 579.1,789.1 579.6,793.6 580.2,801.1 580.7,787 581.2,787.4 581.8,796.5 582.3,796.7 582.9,794.9 583.4,794.1 583.9,792.9 584.5,798.9 585,795.4 585.5,794.3 586.1,800.6 586.6,794.9 587.2,796.7 587.7,795.6 588.2,797.5 588.8,791.4 589.3,791.4 589.8,795.9 590.4,797.4 590.9,794.1 591.5,801 592,800.6 592.5,789.4 593.1,797 593.6,795.6 594.1,789.8 594.7,789.2 595.2,791 595.8,796.2 596.3,792.3 596.8,787.2 597.4,794.7 597.9,800 598.4,795.6 599,795.6 599.5,790.2 600.1,797 600.6,797.7 601.1,788.5 601.7,789.2 602.2,801.5 602.7,796.3 603.3,794.7 603.8,794.8 604.4,794 604.9,792.5 605.4,798.3 606,793.9 606.5,794.5 607,798 607.6,792.2 608.1,800 608.7,789.3 609.2,790.4 609.7,790.1 610.3,796.7 610.8,794.1 611.3,792.1 611.9,794.2 612.4,791 613,794.8 613.5,794.2 614,792.1 614.6,801.2 615.1,794.7 615.6,793.7 616.2,791.5 616.7,796.5 617.3,796.1 617.8,795.2 618.3,794.1 618.9,796.9 619.4,794.8 619.9,795.6 620.5,796.4 621,799.5 621.6,798.4 622.1,798.4 622.6,802.7 623.2,794.7 623.7,791.2 624.2,796.9 624.8,799.4 625.3,799.5 625.9,799 626.4,798.3 626.9,791.9 627.5,800.8 628,797.4 628.5,797.7 629.1,797.6 629.6,800.2 630.2,799 630.7,800.8 631.2,793.4 631.8,800.5 632.3,799.3 632.8,805.8 633.4,804.9 633.9,794.5 634.5,800.3 635,799.8 635.5,801.8 636.1,799.1 636.6,801.8 637.1,797.9 637.7,799.6 638.2,793 638.8,794.4 639.3,803.6 639.8,800.3 640.4,801.1 640.9,799.3 641.4,800.7 642,802.2 642.5,795 643.1,799.6 643.6,799.1 644.1,801 644.7,799.6 645.2,797.4 645.7,800.9 646.3,795.1 646.8,800.7 647.4,798.2 647.9,806.5 648.4,801.8 649,807.2 649.5,806.4 650,805.3 650.6,795.6 651.1,804 651.7,798.6 652.2,802.5 652.7,804.4 653.3,799.3 653.8,801.2 654.3,802.4 654.9,808.2 655.4,801.5 656,800.2 656.5,799.7 657,804.6 657.6,802.6 658.1,797.3 658.7,804.5 659.2,797 659.7,805.3 660.3,796.6 660.8,805 661.3,804.2 661.9,797.7 662.4,800.3 663,800.3 663.5,803.8 664,801.4 664.6,796.7 665.1,808.2 665.6,808.1 666.2,805.6 666.7,802.7 667.3,802.6 667.8,799.4 668.3,802.7 668.9,798.3 669.4,801.1 669.9,804.1 670.5,799.7 671,812.9 671.6,809 672.1,807 672.6,802.7 673.2,802.4 673.7,799.2 674.2,807.1 674.8,808 675.3,805.4 675.9,804 676.4,809.3 676.9,814.6 677.5,811.6 678,809.1 678.5,807.2 679.1,803.2 679.6,810.6 680.2,806.3 680.7,807.6 681.2,813.8 681.8,801.7 682.3,814.9 682.8,816.1 683.4,809.8 683.9,811.1 684.5,813.3 685,809.4 685.5,815.5 686.1,808.1 686.6,804.8 687.1,810.1 687.7,811.1 688.2,810.3 688.8,815.9 689.3,806.5 689.8,814.8 690.4,806 690.9,805.8 691.4,810.9 692,809.6 692.5,809.7 693.1,813.6 693.6,810.8 694.1,809 694.7,814.6 695.2,814.6 695.7,814.4 696.3,818.4 696.8,811.2 697.4,813 697.9,807.3 698.4,815.5 699,807 699.5,815.5 700,820.2 700.6,817.6 701.1,816.7 701.7,811.2 702.2,819.5 702.7,815 703.3,806.5 703.8,808 704.3,807.6 704.9,813.3 705.4,817.3 706,814.2 706.5,813.6 707,822.4 707.6,822.4 708.1,813.8 708.6,812.2 709.2,816.3 709.7,812.7 710.3,814.8 710.8,809.5 711.3,810.1 711.9,824.6 712.4,822.3 712.9,811.8 713.5,825.4 714,825.9 714.6,820.6 715.1,824.9 715.6,821.7 716.2,811.1 716.7,822.7 717.2,812.8 717.8,823.4 718.3,815.5 718.9,816.3 719.4,822.8 719.9,809.8 720.5,826.5 721,815 721.5,816 722.1,819.8 722.6,818.7 723.2,818.6 723.7,813.2 724.2,810.9 724.8,823.3 725.3,813.7 725.8,822.8 726.4,822.5 726.9,813.8 727.5,816 728,828 728.5,822.7 729.1,817.2 729.6,819.4 730.1,819.8 730.7,817.1 731.2,809.2 731.8,811.2 732.3,813.2 732.8,822.4 733.4,818.9 733.9,823.5 734.5,818.5 735,819.1 735.5,813.2 736.1,819.6 736.6,817.2 737.1,819.7 737.7,821 738.2,821.9 738.8,828.7 739.3,825 739.8,822.7 740.4,829.7 740.9,818.5 741.4,821.1 742,824.8 742.5,813 743.1,811.2 743.6,808.8 744.1,823.9 744.7,826.8 745.2,828.7 745.7,820.2 746.3,820.2 746.8,822.6 747.4,815.2 747.9,815.3 748.4,821.4 749,820.9 749.5,824.6 750,814.7 750.6,823.1 751.1,828.7 751.7,830.1 752.2,829.1 752.7,815.2 753.3,812.1 753.8,825 754.3,816.4 754.9,829 755.4,823.9 756,814.5 756.5,822.8 757,814.7 757.6,827.4 758.1,818 758.6,830.2 759.2,821.7 759.7,813.4 760.3,824.7 760.8,824.6 761.3,820.5 761.9,822.6 762.4,815.9 762.9,817.6 763.5,815 764,810.5 764.6,826.3 765.1,814.8 765.6,809.6 766.2,819.8 766.7,825.4 767.2,815 767.8,823.6 768.3,813.6 768.9,821.2 769.4,822.2 769.9,826.7 770.5,824.7 771,828.3 771.5,822.7 772.1,826.2 772.6,828.9 773.2,811.9 773.7,816 774.2,821.1 774.8,824.8 775.3,823.4 775.8,816 776.4,817.7 776.9,813 777.5,823.9 778,820.8 778.5,821.4 779.1,817.4 779.6,822.4 780.1,824.8 780.7,822.1 781.2,818.5 781.8,822.8 782.3,810.3 782.8,815.9 783.4,824.8 783.9,822.1 784.4,813.3 785,824.8 785.5,822 786.1,815.8 786.6,815.1 787.1,820.7 787.7,815.6 788.2,822 788.7,819.4 789.3,823.1 789.8,810 790.4,816.7 790.9,821.6 791.4,821 792,819 792.5,824.1 793,815.9 793.6,810 794.1,823.7 794.7,822.2 795.2,817.7 795.7,825.3 796.3,817.1 796.8,821.4 797.3,813.5 797.9,817 798.4,823.5 799,818.9 799.5,822.5 800,817.1 800.6,827.9 801.1,822.9 801.6,827.4 802.2,818.9 802.7,823.4 803.3,817.7 803.8,817.7 804.3,810.1 804.9,818.4 805.4,819.2 805.9,827.7 806.5,822.2 807,821.6 807.6,820.8 808.1,815.4 808.6,818.2 809.2,818 809.7,821.1 810.3,818.6 810.8,821.2 811.3,819.7 811.9,812.7 812.4,814 812.9,820.5 813.5,814.8 814,816.6 814.6,813.6 815.1,824.5 815.6,821.4 816.2,825.6 816.7,825.7 817.2,825 817.8,824 818.3,822.4 818.9,828 819.4,821.3 819.9,816.1 820.5,823.4 821,825.1 821.5,828.8 822.1,829.1 822.6,823.4 823.2,816.3 823.7,827.4 824.2,825 824.8,827.5 825.3,822 825.8,829.6 826.4,824.8 826.9,831.9 827.5,824.1 828,825.6 828.5,821.1 829.1,824.1 829.6,822.9 830.1,819.8 830.7,821.8 831.2,821.9 831.8,822.3 832.3,823.9 832.8,819.7 833.4,822.2 833.9,825.4 834.4,820.1 835,825 835.5,826.2 836.1,819.8 836.6,824 837.1,827.6 837.7,830.1 838.2,834.9 838.7,825.8 839.3,820.9 839.8,826.1 840.4,827.9 840.9,830 841.4,827.8 842,824.1 842.5,828.6 843,827.5 843.6,826.6 844.1,828 844.7,834.4 845.2,834.3 845.7,832.2 846.3,822.9 846.8,832.2 847.3,823.9 847.9,831 848.4,825.9 849,833.1 849.5,823 850,825.9 850.6,823.4 851.1,826.9 851.6,825.5 852.2,835.3 852.7,825.5 853.3,826.6 853.8,830.9 854.3,835.2 854.9,834.5 855.4,835.2 855.9,831.2 856.5,830.4 857,831.3 857.6,830.5 858.1,828.6 858.6,837.3 859.2,833.1 859.7,831.8 860.2,833.2 860.8,837 861.3,830.6 861.9,838.5 862.4,831.5 862.9,825.4 863.5,830.5 864,831.4 864.5,825.6 865.1,828.3 865.6,835.7 866.2,833.3 866.7,833 867.2,832.8 867.8,836.7 868.3,837.1 868.8,837.3 869.4,826.9 869.9,837.4 870.5,833.9 871,833.1 871.5,833.7 872.1,837.5 872.6,828.1 873.1,835.7 873.7,840.7 874.2,836.1 874.8,829.5 875.3,842.1 875.8,840 876.4,836.7 876.9,839.5 877.4,835.8 878,841.5 878.5,836.7 879.1,828.1 879.6,837.6 880.1,832.7 880.7,842.1 881.2,836.5 881.8,843.8 882.3,835.4 882.8,837.2 883.4,846.1 883.9,837.9 884.4,841.6 885,842.6 885.5,836.4 886.1,840.2 886.6,837 887.1,841.7 887.7,841.2 888.2,847.5 888.7,841.6 889.3,835.8 889.8,832.8 890.4,842.1 890.9,839.9 891.4,841.8 892,839 892.5,835.1 893,843.6 893.6,838.5 894.1,839 894.7,840.4 895.2,831.4 895.7,831.9 896.3,834.3 896.8,843.9 897.3,841.7 897.9,834.2 898.4,844.6 899,835.3 899.5,848.8 900,838 900.6,843.8 901.1,838.7 901.6,844.2 902.2,837.4 902.7,839.9 903.3,842.8 903.8,839.6 904.3,837.8 904.9,843 905.4,850.1 905.9,837.6 906.5,841 907,841.8 907.6,842.9 908.1,847.8 908.6,838.6 909.2,839.9 909.7,846.7 910.2,841.7 910.8,848.6 911.3,841 911.9,852.8 912.4,838.5 912.9,839.4 913.5,852.2 914,848.4 914.5,853.2 915.1,857.7 915.6,840.4 916.2,837 916.7,854.8 917.2,850.9 917.8,852.2 918.3,844 918.8,851.6 919.4,850.7 919.9,845.1 920.5,853.9 921,849.6 921.5,847.6 922.1,857.6 922.6,850.1 923.1,850 923.7,852.7 924.2,852.3 924.8,859.8 925.3,857.6 925.8,849.5 926.4,842.8 926.9,852.9 927.4,845.2 928,850.4 928.5,844.8 929.1,860.8 929.6,842.7 930.1,844.1 930.7,856.3 931.2,855.1 931.7,849.4 932.3,855.6 932.8,845 933.4,854.6 933.9,845.7 934.4,859.4 935,858.1 935.5,854.1 936,841.5 936.6,844.2 937.1,861.6 937.7,842.4 938.2,849.1 938.7,855.3 939.3,858.7 939.8,847.4 940.3,863.2 940.9,860.3 941.4,851 942,852.9 942.5,852.6 943,855.5 943.6,852.9 944.1,859 944.6,842.4 945.2,863.3 945.7,857.2 946.3,861.9 946.8,864.3 947.3,857.9 947.9,862.1 948.4,860.7 948.9,855.4 949.5,857.5 950,862.1 950.6,854.7 951.1,843.6 951.6,852.8 952.2,851.6 952.7,860.1 953.2,854.5 953.8,864.6 954.3,844.6 954.9,853.5 955.4,859.6 955.9,858.9 956.5,857.2 957,862.3 957.6,863.5 958.1,861.9 958.6,862.3 959.2,862.2 959.7,854.4 960.2,843.9 960.8,859.9 961.3,862.4 961.9,855.7 962.4,856.4 962.9,859.5 963.5,851.2 964,858.5 964.5,865.4 965.1,851.1 965.6,864.4 966.2,843.7 966.7,855.9 967.2,846.8 967.8,850.2 968.3,857.8 968.8,851.8 969.4,865 969.9,855 970.5,853.6 971,858.3 971.5,855.1 972.1,851.7 972.6,863.6 973.1,864.4 973.7,850.6 974.2,858.2 974.8,855.3 975.3,859.1 975.8,844.6 976.4,854.9 976.9,855.2 977.4,844.7 978,863.9 978.5,864.5 979.1,856.8 979.6,849.2 980.1,851.7 980.7,852.5 981.2,857.5 981.7,849.8 982.3,850.6 982.8,865 983.4,852.6 983.9,848.8 984.4,855.9 985,846.1 985.5,844.1 986,863.5 986.6,858.1 987.1,852.3 987.7,858.9 988.2,860.9 988.7,851.9 989.3,846.6 989.8,845.7 990.3,857 990.9,860.9 991.4,845.3 992,852.9 992.5,860 993,846.9 993.6,851.3 994.1,856.3 994.6,846.7 995.2,846.8 995.7,843.3 996.3,849 996.8,854.3 997.3,852.8 997.9,846.5 998.4,844.8 998.9,844.2 999.5,845.7 1000,861.1 1000.6,856.1 1001.1,847.7 1001.6,859.1 1002.2,858 1002.7,853.9 1003.2,850.4 1003.8,856.3 1004.3,850.3 1004.9,860.9 1005.4,858.5 1005.9,856.1 1006.5,852.4 1007,845.2 1007.5,856.7 1008.1,848.3 1008.6,850.4 1009.2,850 1009.7,860.3 1010.2,855.9 1010.8,855.4 1011.3,855.5 1011.8,857.2 1012.4,846.1 1012.9,857 1013.5,861.5 1014,849.6 1014.5,860.7 1015.1,854 1015.6,845.8 1016.1,853.5 1016.7,861.6 1017.2,851.8 1017.8,860.4 1018.3,859.7 1018.8,861.9 1019.4,858.6 1019.9,844.5 1020.4,848 1021,860.3 1021.5,859.2 1022.1,857.1 1022.6,857.8 1023.1,856.4 1023.7,858.7 1024.2,850.8 1024.7,847.4 1025.3,853.2 1025.8,859.8 1026.4,853.8 1026.9,864.2 1027.4,856 1028,855.4 1028.5,860.7 1029,847.1 1029.6,854.9 1030.1,860.7 1030.7,859.7 1031.2,859 1031.7,849.8 1032.3,851.2 1032.8,862.3 1033.4,858.7 1033.9,862.5 1034.4,865.7 1035,863.3 1035.5,863.6 1036,857.9 1036.6,866.4 1037.1,855.9 1037.7,864.5 1038.2,853.3 1038.7,866.8 1039.3,857.4 1039.8,863.8 1040.3,863 1040.9,864.1 1041.4,862.8 1042,859.5 1042.5,860.1 1043,857.3 1043.6,865.8 1044.1,859.3 1044.6,853.7 1045.2,855.9 1045.7,853.9 1046.3,855.7 1046.8,851.6 1047.3,855.3 1047.9,860.3 1048.4,866.5 1048.9,851.7 1049.5,870 1050,865.9 1050.6,869.1 1051.1,859.2 1051.6,857.7 1052.2,859.1 1052.7,853.9 1053.2,864.9 1053.8,854 1054.3,859.7 1054.9,860 1055.4,863.2 1055.9,864.4 1056.5,864.8 1057,862 1057.5,868.8 1058.1,862.5 1058.6,866.3 1059.2,874.1 1059.7,869.7 1060.2,854.7 1060.8,855.2 1061.3,864 1061.8,865.7 1062.4,871.2 1062.9,868 1063.5,867.3 1064,857.4 1064.5,870 1065.1,867 1065.6,877.8 1066.1,862 1066.7,875.5 1067.2,857.5 1067.8,861.1 1068.3,873.5 1068.8,863.3 1069.4,865.5 1069.9,864 1070.4,878.4 1071,865.4 1071.5,871.4 1072.1,872.3 1072.6,875.4 1073.1,866 1073.7,877.9 1074.2,871.8 1074.7,870.6 1075.3,864.5 1075.8,878.2 1076.4,867.2 1076.9,877.1 1077.4,869.5 1078,868.5 1078.5,866.5 1079,868.5 1079.6,868.5 1080.1,862.5 1080.7,875.2 1081.2,873.3 1081.7,874.5 1082.3,858.6 1082.8,859.5 1083.3,876.3 1083.9,873.6 1084.4,873 1085,871.2 1085.5,859 1086,878.9 1086.6,877.6 1087.1,875.3 1087.6,877.4 1088.2,864.2 1088.7,873 1089.3,875.6 1089.8,861.2 1090.3,877 1090.9,863.7 1091.4,866.8 1091.9,863.5 1092.5,863.9 1093,877.5 1093.6,868.6 1094.1,868.9 1094.6,874.9 1095.2,874.8 1095.7,869.7 1096.2,871.3 1096.8,874.2 1097.3,876.4 1097.9,865.7 1098.4,862.7 1098.9,866.6 1099.5,862.2 1100,869.5 1100.5,872.2 1101.1,867.5 1101.6,867 1102.2,876.5 1102.7,871.4 1103.2,870.9 1103.8,872.5 1104.3,867.6 1104.8,866.4 1105.4,869.8 1105.9,875.1 1106.5,878.7 1107,867.3 1107.5,873.1 1108.1,876.7 1108.6,881.1 1109.2,873.5 1109.7,870.3 1110.2,871.6 1110.8,870.9 1111.3,864.2 1111.8,877.4 1112.4,869.9 1112.9,875.3 1113.5,873.9 1114,865.6 1114.5,865.4 1115.1,864.9 1115.6,881.7 1116.1,880.5 1116.7,872.8 1117.2,863.7 1117.8,871.5 1118.3,880 1118.8,874.6 1119.4,875 1119.9,880.7 1120.4,866 1121,871.6 1121.5,868.9 1122.1,882.5 1122.6,872.6 1123.1,870 1123.7,880.9 1124.2,874 1124.7,870.6 1125.3,867.7 1125.8,873.1 1126.4,873.6 1126.9,873.3 1127.4,866.1 1128,877.7 1128.5,885.1 1129,884.1 1129.6,867.7 1130.1,878.9 1130.7,879.3 1131.2,881.3 1131.7,873.8 1132.3,877.4 1132.8,873.6 1133.3,884.3 1133.9,881.9 1134.4,881 1135,871.7 1135.5,883.6 1136,881.1 1136.6,868.7 1137.1,876.6 1137.6,875.2 1138.2,881.8 1138.7,882.7 1139.3,873.7 1139.8,872.8 1140.3,878 1140.9,869.5 1141.4,871.8 1141.9,880.1 1142.5,877.5 1143,869 1143.6,879 1144.1,867 1144.6,878.1 1145.2,878.2 1145.7,877.7 1146.2,880.8 1146.8,874 1147.3,870.2 1147.9,870.6 1148.4,878.3 1148.9,877 1149.5,876 1150,870.8 1150.5,879.8 1151.1,871.1 1151.6,875.3 1152.2,878.4 1152.7,870.1 1153.2,879.4 1153.8,878.2 1154.3,882.4 1154.8,869.6 1155.4,883.9 1155.9,871.8 1156.5,873 1157,875.6 1157.5,876.3 1158.1,870.9 1158.6,876.7 1159.1,874.1 1159.7,874.8 1160.2,874 1160.8,886.8 1161.3,874.3 1161.8,884.1 1162.4,871.3 1162.9,885.1 1163.4,879.2 1164,873.5 1164.5,879.8 1165.1,882.1 1165.6,883.4 1166.1,877.9 1166.7,883.3 1167.2,878.6 1167.7,878.3 1168.3,884.5 1168.8,882.7 1169.4,885.7 1169.9,872.8 1170.4,878.4 1171,879.6 1171.5,884.9 1172,875.3 1172.6,881.1 1173.1,880.2 1173.7,876.9 1174.2,886.4 1174.7,883.2 1175.3,877.7 1175.8,885.1 1176.3,875.8 1176.9,886.4 1177.4,883.2 1178,878.4 1178.5,886.8 1179,885.4 1179.6,889.7 1180.1,884 1180.6,888 1181.2,874.8 1181.7,874.9 1182.3,881.3 1182.8,888.3 1183.3,886.4 1183.9,876.1 1184.4,879.5 1185,888.1 1185.5,878.7 1186,877.9 1186.6,880.7 1187.1,880.2 1187.6,884 1188.2,886.5 1188.7,890.5 1189.3,880.9 1189.8,885.3 1190.3,886.7 1190.9,888.8 1191.4,888.1 1191.9,884.4 1192.5,888.2 1193,881.1 1193.6,888.3 1194.1,891.5 1194.6,886.7 1195.2,886.9 1195.7,886.7 1196.2,885 1196.8,882.2 1197.3,885.5 1197.9,885.1 1198.4,880.2 1198.9,883.1 1199.5,878.8 1200,892.2 1200.5,889.1 1201.1,886.1 1201.6,883.2 1202.2,882.1 1202.7,882.3 1203.2,880.3 1203.8,879.4 1204.3,880.6 1204.8,888.9 1205.4,886.9 1205.9,893.8 1206.5,891.4 1207,887.6 1207.5,886.9 1208.1,884.9 1208.6,889.4 1209.1,889 1209.7,888.2 1210.2,890.9 1210.8,890.1 1211.3,892.3 1211.8,885.4 1212.4,888.1 1212.9,891.3 1213.4,892.3 1214,882.5 1214.5,888.8 1215.1,882.1 1215.6,890.9 1216.1,880.9 1216.7,880.7 1217.2,881.4 1217.7,884.9 1218.3,894.2 1218.8,888.4 1281.7,906.8 1282.3,896.9 1282.8,907 1283.3,908.4 1283.9,908 1284.4,906.5 1284.9,909.5 1285.5,904.7 1286,904 1286.6,901.1 1287.1,900 1287.6,896.8 1288.2,901.3 1288.7,894.3 1289.2,901.7 1289.8,909 1290.3,900.1 1290.9,902.8 1291.4,893.9 1291.9,900.5 1292.5,900.2 1293,899.7 1293.5,907.8 1294.1,893.8 1294.6,908.3 1295.2,902.6 1295.7,898.6 1296.2,901.8 1296.8,894.1 1297.3,907.6 1297.8,909.9 1298.4,905.1 1298.9,909.6 1299.5,906.2 1300,900.6 1300.5,902.1 1301.1,905.5 1301.6,901.5 1302.1,899 1302.7,904.5 1303.2,905.4 1303.8,908.1 1304.3,911.5 1304.8,903 1305.4,906.9 1305.9,912.3 1306.4,909.9 1307,907 1307.5,907.3 1308.1,908.1 1308.6,896.6 1309.1,904 1309.7,908.3 1310.2,904.5 1310.7,900.6 1311.3,909 1311.8,904.1 1312.4,907.6 1312.9,912.7 1313.4,905.2 1314,908.5 1314.5,913.9 1315,901.7 1315.6,894.7 1316.1,902.8 1316.7,903.8 1317.2,907.8 1317.7,901.1 1318.3,896 1318.8,913.2 1319.3,904.7 1319.9,905.1 1320.4,896.9 1321,906.4 1321.5,911.3 1322,907.3 1322.6,905.3 1323.1,897 1323.6,909.7 1324.2,896.6 1324.7,910.9 1325.3,895.1 1325.8,903.6 1326.3,898.2 1326.9,903.3 1327.4,904.4 1327.9,905 1328.5,907 1329,909.6 1329.6,913.1 1330.1,898 1330.6,904.5 1331.2,910.2 1331.7,903.8 1332.2,909.4 1332.8,908.2 1333.3,904 1333.9,912 1334.4,904.5 1334.9,903.7 1335.5,903 1336,908.7 1336.6,906.3 1337.1,911.3 1337.6,903.9 1338.2,900 1338.7,914.3 1339.2,898.7 1339.8,910 1340.3,910.7 1340.9,909.3 1341.4,911.4 1341.9,909.6 1342.5,908.9 1343,910 1343.5,904.4 1344.1,902.6 1344.6,905.9 1345.2,898.8 1345.7,905.1 1346.2,901.9 1346.8,904.7 1347.3,907.3 1347.8,909.6 1348.4,910.6 1348.9,903.7 1349.5,909.3 1350,905.3 1350.5,901.8 1351.1,912.7 1351.6,909.7 1352.1,914.6 1352.7,914.4 1353.2,913.2 1353.8,910.1 1354.3,907.9 1354.8,908.9 1355.4,914 1355.9,907.3 1356.4,912.2 1357,908.8 1357.5,906.6 1358.1,909.4 1358.6,901.4 1359.1,908.1 1359.7,908.2 1360.2,913.1 1360.7,915.4 1361.3,913.2 1361.8,916.1 1362.4,916.5 1362.9,914.3 1363.4,909.6 1364,909.4 1364.5,907 1365,905.3 1365.6,905.7 1366.1,913.3 1366.7,909.2 1367.2,909.4 1367.7,910.9 1368.3,918.8 1368.8,905.8 1369.3,913.1 1369.9,912.6 1370.4,912.2 1371,917.9 1371.5,918.2 1372,904.1 1372.6,912.3 1373.1,917.6 1373.6,916.2 1374.2,907.6 1374.7,910.8 1375.3,915.4 1375.8,903.9 1376.3,904.2 1376.9,916.7 1377.4,906.9 1377.9,919 1378.5,917.9 1379,917.2 1379.6,917 1380.1,909.3 1380.6,911.7 1381.2,919.2 1381.7,912.7 1382.2,914.2 1382.8,912.2 1383.3,904.9 1383.9,914.8 1384.4,913.2 1384.9,919.6 1385.5,921.8 1386,916.2 1386.5,919.3 1387.1,918.9 1387.6,922.4 1388.2,914.1 1388.7,914.1 1389.2,907.4 1389.8,918.3 1390.3,920.6 1390.8,918.2 1391.4,914 1391.9,907.1 1392.5,922.2 1393,912.7 1393.5,915.9 1394.1,921.8 1394.6,920.4 1395.1,921.6 1395.7,909.8 1396.2,914.9 1396.8,910.2 1397.3,918.8 1397.8,914.3 1398.4,917.2 1398.9,908.1 1399.4,912.1 1400,922.4 1400.5,908.9 1401.1,922.8 1401.6,916.7 1402.1,915.4 1402.7,922.4 1403.2,924.1 1403.7,918.2 1404.3,917.7 1404.8,924 1405.4,917.4 1405.9,913.1 1406.4,915.5 1407,910.6 1407.5,908.9 1408.1,914.9 1408.6,912.6 1409.1,907.4 1409.7,914.4 1410.2,914.9 1410.7,923.6 1411.3,922.5 1411.8,921.3 1412.4,919.1 1412.9,922.6 1413.4,917.6 1414,920.6 1414.5,913.6 1415,916.4 1415.6,910 1416.1,918.1 1416.7,911.4 1417.2,924.5 1417.7,913.9 1418.3,921.7 1418.8,919.2 1419.3,910.3 1419.9,921.7 1420.4,922.3 1421,923.8 1421.5,911.3 1422,918.7 1422.6,911 1423.1,914 1423.6,916.9 1424.2,915.2 1424.7,910.1 1425.3,912.5 1425.8,911.7 1426.3,911.9 1426.9,916.2 1427.4,916.3 1427.9,915.9 1428.5,913.3 1429,922.7 1429.6,919.2 1430.1,916.9 1430.6,915.9 1431.2,919 1431.7,922.5 1432.2,923 1432.8,914.9 1433.3,917.3 1433.9,919 1434.4,918.5 1434.9,921.6 1435.5,915.8 1436,924.4 1436.5,924.5 1437.1,911.6 1437.6,919.6 1438.2,925.5 1438.7,924.2 1439.2,926.2 1439.8,924.9 1440.3,914.8 1440.8,920.1 1441.4,924.8 1441.9,914.8 1442.5,912.1 1443,917.3 1443.5,921.8 1444.1,914.8 1444.6,924.4 1445.1,918.5 1445.7,913.2 1446.2,922.6 1446.8,917.1 1447.3,928.1 1447.8,923.9 1448.4,924.9 1448.9,913 1449.4,927.9 1450,916.3 1450.5,926.2 1451.1,912.2 1451.6,926.5 1452.1,914.1 1452.7,912.5 1453.2,929.3 1453.7,927.3 1454.3,921.7 1454.8,928.8 1455.4,915.1 1455.9,921.1 1456.4,930.4 1457,914.8 1457.5,917.5 1458,918.3 1458.6,917.7 1459.1,916.4 1459.7,923.6 1460.2,925.8 1460.7,920 1461.3,925.1 1461.8,922.8 1462.3,923.5 1462.9,920.5 1463.4,932.2 1464,930.3 1464.5,917.5 1465,916.9 1465.6,923.8 1466.1,923.7 1466.6,923.4 1467.2,925.7 1467.7,934.1 1468.3,921.3 1468.8,921.3 1469.3,927.2 1469.9,916.8 1470.4,933.7 1470.9,916.8 1471.5,918.2 1472,916.7 1472.6,928.8 1473.1,925.9 1473.6,934.3 1474.2,924.3 1474.7,936.6 1475.2,928.7 1475.8,934.7 1476.3,931.1 1476.9,934 1477.4,923 1477.9,932.3 1478.5,927.2 1479,929.3 1479.5,929.6 1480.1,918.4 1480.6,931.8 1481.2,933 1481.7,923.8 1482.2,932.4 1482.8,931.9 1483.3,926.5 1483.9,935.9 1484.4,922 1484.9,931.5 1485.5,932.2 1486,934.8 1486.5,926.1 1487.1,923.7 1487.6,934.2 1488.2,922.6 1488.7,930 1489.2,929.7 1489.8,933.2 1490.3,932.6 1490.8,927.7 1491.4,924 1491.9,930.7 1492.5,933.4 1493,928.7 1493.5,938.8 1494.1,936.7 1494.6,923.7 1495.1,934.3 1495.7,922.1 1496.2,944.8 1496.8,933.2 1497.3,927.2 1497.8,929.6 1498.4,945.4 1498.9,924.4 1499.4,930.7 1500,930.2 1500.5,935.9 1501.1,943.3 1501.6,943.7 1502.1,935 1502.7,927.9 1503.2,939.8 1503.7,932.2 1504.3,943.9 1504.8,927.7 1505.4,937.9 1505.9,938.1 1506.4,942.1 1507,932.4 1507.5,945.4 1508,935.7 1508.6,940 1509.1,927.8 1509.7,929.8 1510.2,950 1510.7,930.6 1511.3,942.5 1511.8,937.6 1512.3,943.1 1512.9,938.4 1513.4,929.9 1514,953.3 1514.5,940.1 1515,947.2 1515.6,931.8 1516.1,933.5 1516.6,946.8 1517.2,946 1517.7,940.5 1518.3,941.4 1518.8,936.3 1519.3,950.3 1519.9,933.9 1520.4,932.6 1520.9,940.3 1521.5,936.4 1522,943.4 1522.6,931.3 1523.1,932.6 1523.6,936.2 1524.2,930.6 1524.7,938.1 1525.2,939.1 1525.8,948.7 1526.3,950.4 1526.9,944 1527.4,937.1 1527.9,933.9 1528.5,938.2 1529,932.3 1529.5,941.8 1530.1,942.8 1530.6,931.7 1531.2,936.3 1531.7,929.7 1532.2,933.7 1532.8,932.3 1533.3,930.6 1533.8,949.7 1534.4,936.6 1534.9,932.2 1535.5,940.6 1536,935.5 1536.5,933 1537.1,946.3 1537.6,930 1538.1,943.6 1538.7,947 1539.2,944.5 1539.8,938.5 1540.3,937.5 1540.8,937.1 1541.4,944.8 1541.9,941 1542.4,937.3 1543,944.2 1543.5,946.3 1544.1,934.1 1544.6,943 1545.1,940.8 1545.7,944.8 1546.2,937.1 1546.7,944.2 1547.3,939.4 1547.8,946.1 1548.4,941.5 1548.9,944.1 1549.4,947.7 1550,938 1550.5,943.9 1551,939.4 1551.6,949.2 1552.1,944.3 1552.7,930.7 1553.2,945.2 1553.7,930.7 1554.3,935.6 1554.8,934 1555.3,942.4 1555.9,934 1556.4,934.6 1557,933.7 1557.5,939.7 1558,933.3 1558.6,933.9 1559.1,936.6 1559.7,949.5 1560.2,942.1 1560.7,944.4 1561.3,932.7 1561.8,936.4 1562.3,935.4 1562.9,937.3 1563.4,942.6 1564,936.4 1564.5,936.2 1565,929.8 1565.6,949.6 1566.1,938.7 1566.6,936.4 1567.2,936.1 1567.7,933.8 1568.3,933.2 1568.8,938.4 1569.3,940.9 1569.9,933.9 1570.4,945.4 1570.9,935 1571.5,950.8 1572,941.3 1572.6,934.1 1573.1,943.7 1573.6,934.2 1574.2,940.6 1574.7,941.5 1575.2,946 1575.8,941.1 1576.3,947.4 1576.9,929.8 1577.4,935.4 1577.9,946 1578.5,950.5 1579,936.5 1579.5,949.5 1580.1,939.2 1580.6,938.1 1581.2,943.4 1581.7,943.5 1582.2,940.1 1582.8,944.3 1583.3,947.1 1583.8,930.9 1584.4,945.5 1584.9,934 1585.5,936.1 1586,933.1 1586.5,941.1 1587.1,948.1 1587.6,946.5 1588.1,942.9 1588.7,938.7 1589.2,931.6 1589.8,942.3 1590.3,939.9 1590.8,937.4 1591.4,933.1 1591.9,936.2 1592.4,939.3 1593,931.1 1593.5,941.1 1594.1,940.7 1594.6,943.8 1595.1,941.6 1595.7,939.3 1596.2,941.8 1596.7,946.3 1597.3,942 1597.8,939.7 1598.4,939.4 1598.9,933.5 1599.4,932.3 1600,936.5 1600.5,932.1 1601,939.6 1601.6,942.3 1602.1,941.5 1602.7,945.8 1603.2,946.5 1603.7,941.6 1604.3,942.4 1604.8,939.3 1605.3,939.3 1605.9,933.5 1606.4,936.1 1607,933.7 1607.5,939.5 1608,939.4 1608.6,946.2 1609.1,941.5 1609.6,938.3 1610.2,945.1 1610.7,933.9 1611.3,932.6 1611.8,945.9 1612.3,934.9 1612.9,940.8 1613.4,939 1613.9,942 1614.5,939.3 1615,941.3 1615.6,940.3 1616.1,946.3 1616.6,935.7 1617.2,945.8 1617.7,933.9 1618.2,943 1618.8,937 1619.3,946.2 1619.9,942.7 1620.4,944.8 1620.9,944.4 1621.5,941.4 1622,943.5 1622.5,939.6 1623.1,944.2 1623.6,939.9 1624.2,936.5 1624.7,943.2 1625.2,939.5 1625.8,935.6 1626.3,940.3 1626.8,937.8 1627.4,935.2 1627.9,940.3 1628.5,941.1 1629,946.8 1629.5,943 1630.1,950.3 1630.6,949.6 1631.1,953 1631.7,948.2 1632.2,941.1 1632.8,947.7 1633.3,951.8 1633.8,951.3 1634.4,954.6 1634.9,953.2 1635.5,942.1 1636,955.7 1636.5,951.5 1637.1,946.7 1637.6,947.6 1638.1,949.3 1638.7,950.4 1639.2,944.1 1639.8,946.6 1640.3,951.3 1640.8,944.7 1641.4,950.5 1641.9,947.8 1642.4,944.7 1643,940.6 1643.5,942.3 1644.1,951.2 1644.6,942.9 1645.1,958.2 1645.7,949 1646.2,956.9 1646.7,953.2 1647.3,954.1 1647.8,947.2 1648.4,958.4 1648.9,946.8 1649.4,958.2 1650,963.1 1650.5,953 1651,949.8 1651.6,957.2 1652.1,957.3 1652.7,950.4 1653.2,954.5 1653.7,953.3 1654.3,952.3 1654.8,965 1655.3,963 1655.9,958.6 1656.4,964.2 1657,959.9 1657.5,960.9 1658,948.6 1658.6,958.1 1659.1,963.6 1659.6,964.6 1660.2,951.9 1660.7,956.8 1661.3,965.3 1661.8,962.1 1662.3,948.4 1662.9,963.6 1663.4,957.6 1663.9,959.5 1664.5,952.7 1665,955.1 1665.6,965.7 1666.1,960.3 1666.6,952.7 1667.2,962.7 1667.7,950.4 1668.2,952.7 1668.8,949.7 1669.3,962.2 1669.9,951.1 1670.4,950.4 1670.9,972.7 1671.5,965.7 1672,956.8 1672.5,961 1673.1,960 1673.6,960.8 1674.2,954 1674.7,964.8 1675.2,972.4 1675.8,959.7 1676.3,969.3 1676.8,969.7 1677.4,958.8 1677.9,973.6 1678.5,973.7 1679,971.2 1679.5,968.6 1680.1,975.2 1680.6,973.8 1681.1,972.2 1681.7,976.2 1682.2,959.8 1682.8,962.3 1683.3,957.5 1683.8,958.6 1684.4,964.2 1684.9,975.5 1685.4,973.7 1686,969.8 1686.5,971.6 1687.1,973.5 1687.6,966.9 1688.1,965.8 1688.7,971.3 1689.2,958.1 1689.7,975.7 1690.3,960.9 1690.8,967.3 1691.4,961.6 1691.9,961.4 1692.4,966.9 1693,976.9 1693.5,958.5 1694,958.1 1694.6,966.6 1695.1,961.3 1695.7,969.9 1696.2,971.2 1696.7,969.1 1697.3,968.4 1697.8,973 1698.3,974 1698.9,967.2 1699.4,971.1 1700,966.2 1700.5,961 1701,976.4 1701.6,964.4 1702.1,968.5 1702.6,977.8 1703.2,970.5 1703.7,961.7 1704.3,969.4 1704.8,962.4 1705.3,974.5 1705.9,969.7 1706.4,971.9 1706.9,967.6 1707.5,964.2 1708,970.8 1708.6,960.6 1709.1,957.4 1709.6,969.3 1710.2,962.6 1710.7,960.8 1711.3,973.5 1711.8,971.8 1712.3,966.5 1712.9,958.6 1713.4,979.5 1713.9,973.6 1714.5,980.3 1715,981.5 1715.6,974.8 1716.1,962.3 1716.6,982.6 1717.2,971.3 1717.7,969.8 1718.2,975.6 1718.8,983.1 1719.3,980.9 1719.9,966.5 1720.4,966.5 1720.9,968.8 1721.5,982.7 1722,970.8 1722.5,965.1 1723.1,964 1723.6,962 1724.2,977.9 1724.7,984.2 1725.2,981.9 1725.8,985.7 1726.3,968.8 1726.8,980.8 1727.4,980.8 1727.9,965.5 1728.5,983.2 1729,969.7 1729.5,976.4 1730.1,982.1 1730.6,975.7 1731.1,973.1 1731.7,972.9 1732.2,980.6 1732.8,965.1 1733.3,968.6 1733.8,961.2 1734.4,964 1734.9,971.3 1735.4,985.9 1736,959 1736.5,969.3 1737.1,967.8 1737.6,959.3 1738.1,966.1 1738.7,975.9 1739.2,969.9 1739.7,960.6 1740.3,971 1740.8,972.4 1741.4,970 1741.9,968.5 1742.4,976.9 1743,962.6 1743.5,974 1744,961.7 1744.6,973.7 1745.1,973.8 1745.7,978.2 1746.2,961.9 1746.7,960.7 1747.3,974.3 1747.8,978 1748.3,983.2 1748.9,979.2 1749.4,981.8 1750,978 1750.5,966.9 1751,971 1751.6,979.9 1752.1,975.4 1752.6,972.2 1753.2,968.2 1753.7,971.4 1754.3,974 1754.8,974 1755.3,972.9 1755.9,975.7 1756.4,979.7 1756.9,968.2 1757.5,981.8 1758,971.6 1758.6,960.5 1759.1,974.8 1759.6,966.1 1760.2,979.9 1760.7,968.1 1761.2,966.1 1761.8,977.3 1762.3,976.8 1762.9,973.3 1763.4,963.3 1763.9,964 1764.5,963.7 1765,974.7 1765.5,978.2 1766.1,971.7 1766.6,979.4 1767.2,966.3 1767.7,974.8 1768.2,970.2 1768.8,974.8 1769.3,968 1769.8,969.8 1770.4,972.7 1770.9,963.9 1771.5,975.1 1772,972.8 1772.5,971.6 1773.1,978.1 1773.6,976.5 1774.1,969.5 1774.7,964.5 1775.2,972.8 1775.8,973.6 1776.3,967.9 1776.8,970.8 1777.4,979.2 1777.9,969.1 1778.4,966 1779,981 1779.5,976.3 1780.1,971 1780.6,975.4 1781.1,980.5 1781.7,972.1 1782.2,980.3 1782.7,979.9 1783.3,970 1783.8,978.1 1784.4,967 1784.9,970.4 1785.4,979.8 1786,969.5 1786.5,973.9 1787.1,979.1 1787.6,973.3 1788.1,971.1 1788.7,968.1 1789.2,977.7 1789.7,968.1 1790.3,972.1 1790.8,970.8 1791.4,962.4 1791.9,969.2 1792.4,976.2 1793,971.6 1793.5,966.6 1794,974.4 1794.6,972 1795.1,960.7 1795.7,960.6 1796.2,970.1 1796.7,967.5 1797.3,967.2 1797.8,968.5 1798.3,967.9 1798.9,971.7 1799.4,962.4 1800,965.5 1800.5,963.6 1801,972.7 1801.6,972.5 1802.1,972 1802.6,963.2 1803.2,970.5 1803.7,967.4 1804.3,968.9 1804.8,966 1805.3,973.5 1805.9,971.5 1806.4,968.9 1806.9,971 1807.5,973.8 1808,978 1808.6,971.2 1809.1,965.9 1809.6,963.5 1810.2,965.3 1810.7,959.7 1811.2,958.7 1811.8,973.6 1812.3,963 1812.9,975.7 1813.4,964.9 1813.9,960.9 1814.5,966.7 1815,970.4 1815.5,981.3 1816.1,968.9 1816.6,971.1 1817.2,978.2 1817.7,983.3 1818.2,978.2 1818.8,974.7 1819.3,978.1 1819.8,973.9 1820.4,974.6 1820.9,964.9 1821.5,978.1 1822,973.3 1822.5,985.2 1823.1,979.8 1823.6,979.6 1824.1,970.8 1824.7,967 1825.2,982.9 1825.8,964.8 1826.3,986.9 1826.8,977.5 1827.4,973.7 1827.9,970.4 1828.4,974.1 1829,971.7 1829.5,978.2 1830.1,975.6 1830.6,979.7 1831.1,971.5 1831.7,988 1832.2,983.6 1832.7,976.3 1833.3,989.5 1833.8,972.5 1834.4,983.9 1834.9,986.5 1835.4,988.9 1836,977.4 1836.5,993 1837,975.1 1837.6,985.6 1838.1,987 1838.7,975.1 1839.2,979.5 1839.7,974.4 1840.3,988.8 1840.8,990.2 1841.3,977.5 1841.9,981.2 1842.4,981.3 1843,985 1843.5,979.1 1844,979 1844.6,982.8 1845.1,973.9 1845.6,985.6 1846.2,991 1846.7,995.2 1847.3,988 1847.8,982.8 1848.3,991.9 1848.9,977.1 1849.4,974.7 1849.9,976.9 1850.5,983.5 1851,977.2 1851.6,994.6 1852.1,978.1 1852.6,987.1 1853.2,978.7 1853.7,978.2 1854.2,984.8 1854.8,977 1855.3,994 1855.9,993.3 1856.4,992.2 1856.9,982.2 1857.5,981.5 1858,988.6 1858.6,985 1859.1,990.4 1859.6,981 1860.2,990.2 1860.7,992.6 1861.2,981.8 1861.8,990.3 1862.3,986.8 1862.9,986.3 1863.4,996.9 1863.9,988 1864.5,988.9 1865,985.9 1865.5,986 1866.1,984.8 1866.6,980.3 1867.2,994.8 1867.7,990.7 1868.2,996 1868.8,987.8 1869.3,991.5 1869.8,996 1870.4,990.9 1870.9,988.2 1871.5,994.5 1872,987.3 1872.5,990.2 1873.1,994.7 1873.6,983.2 1874.1,999.5 1874.7,992.8 1875.2,990.2 1875.8,992.9 1876.3,988 1876.8,981.6 1877.4,991.1 1877.9,985 1878.4,998.6 1879,999.6 1879.5,987.6 1880.1,994.5 1880.6,997.5 1881.1,998.3 1881.7,993.6 1882.2,993.2 1882.7,988.4 1883.3,998.3 1883.8,994.3 1884.4,995 1884.9,993.1 1885.4,1001.5 1886,996.6 1886.5,989.2 1887,986.2 1887.6,989.6 1888.1,992.3 1888.7,1001.5 1889.2,990.7 1889.7,1000.9 1890.3,991.2 1890.8,993.7 1891.3,986.5 1891.9,996.6 1892.4,982.9 1893,984.4 1893.5,993.8 1894,990.6 1894.6,981.6 1895.1,984.2 1895.6,989.5 1896.2,989.4 1896.7,984.5 1897.3,983.7 1897.8,994 1898.3,1001.1 1898.9,985.4 1899.4,987 1899.9,981.7 1900.5,993.7 1901,992.3 1901.6,984.7 1902.1,993.9 1902.6,993.4 1903.2,1025.4 1903.7,1024.4 1904.2,1020.9 1904.8,1024.7 1905.3,1023.1 1905.9,1035.8 1906.4,1030 1906.9,1021.3 1907.5,1025.5 1908,1027.6 1908.5,1028.4 1909.1,1041.7 1909.6,1039.1 1910.2,1032.5 1910.7,1033.1 1911.2,1029.2 1911.8,1023.5 1912.3,1031.7 1912.8,1032.3 1913.4,1039.5 1913.9,1038.2 1914.5,1022.8 1915,1034.3 1915.5,1036 1916.1,1038 1916.6,1031.5 1917.1,1043.9 1917.7,1035.1 1918.2,1028.4 1918.8,1027.8 1919.3,1032 1919.8,1042.6 1920.4,1045.4 1920.9,1043 1921.4,1034.4 1922,1038 1922.5,1027.8 1923.1,1038.1 1923.6,1027.4 1924.1,1029.6 1924.7,1047.2 1925.2,1040.6 1925.7,1039.7 1926.3,1048.5 1926.8,1043.3 1927.4,1048.8 1927.9,1041.1 1928.4,1038.6 1929,1044.2 1929.5,1041.3 1930,1033.9 1930.6,1039.6 1931.1,1031.4 1931.7,1029.8 1932.2,1045.2 1932.7,1036.7 1933.3,1039.4 1933.8,1033.7 1934.4,1032.4 1934.9,1031.1 1935.4,1046 1936,1035 1936.5,1035.4 1937,1032.5 1937.6,1040 1938.1,1035.6 1938.7,1050.1 1939.2,1033.2 1939.7,1033.6 1940.3,1033.1 1940.8,1026.8 1941.3,1022.6 1941.9,1031.4 1942.4,1034.2 1943,1023.7 1943.5,1031.2 1944,1019.3 1944.6,1027.3 1945.1,1027.4 1945.6,1022.3 1946.2,1021.4 1946.7,1018.1 1947.3,1026.2 1947.8,1025.6 1948.3,1031 1948.9,1030.2 1949.4,1026.8 1949.9,1030.1 1950.5,1036.3 1951,1028.8 1951.6,1030.3 1952.1,1033.9 1952.6,1025.1 1953.2,1037.4 1953.7,1028.9 1954.2,1034.1 1954.8,1022.1 1955.3,1037.1 1955.9,1034.3 1956.4,1036.7 1956.9,1033.4 1957.5,1029.2 1958,1038 1958.5,1035.7 1959.1,1037.3 1959.6,1032.4 1960.2,1031.1 1960.7,1036.3 1961.2,1020.6 1961.8,1034.9 1962.3,1038.3 1962.8,1027.8 1963.4,1023.5 1963.9,1024.7 1964.5,1028.3 1965,1023.7 1965.5,1035.9 1966.1,1033.4 1966.6,1035.4 1967.1,1021.4 1967.7,1029.5 1968.2,1030.7 1968.8,1034.2 1969.3,1031.7 1969.8,1033.4 1970.4,1036.1 1970.9,1036.5 1971.4,1037.5 1972,1033.4 1972.5,1028.7 1973.1,1036.5 1973.6,1029.9 1974.1,1031 1974.7,1022.8 1975.2,1031.7 1975.7,1025.1 1976.3,1030.7 1976.8,1028.6 1977.4,1032.4 1977.9,1035 1978.4,1033.8 1979,1026.9 1979.5,1026.3 1980,1029.3 1980.6,1026.9 1981.1,1026.2 1981.7,1032.5 1982.2,1024.7 1982.7,1033.4 1983.3,1027 1983.8,1030.9 1984.3,1030.7 1984.9,1024.8 1985.4,1021.8 1986,1026.6 1986.5,1021.4 1987,1027.6 1987.6,1020.4 1988.1,1024.3 1988.6,1021 1989.2,1032.2 1989.7,1026.5 1990.3,1027.5 1990.8,1032.9 1991.3,1029 1991.9,1023.9 1992.4,1021.5 1992.9,1021.4 1993.5,1021 1994,1034.1 1994.6,1030 1995.1,1026.9 1995.6,1032.2 1996.2,1033 1996.7,1030.2 1997.2,1027.3 1997.8,1031.8 1998.3,1035.5 1998.9,1027.6 1999.4,1023.6 1999.9,1026.6 2000.5,1034.8 2001,1028 2001.5,1029.1 2002.1,1032.6 2002.6,1039.3 2003.2,1031.4 2003.7,1039.4 2004.2,1034.7 2004.8,1030.4 2005.3,1037.2 2005.8,1029.3 2006.4,1023.8 2006.9,1023.9 2007.5,1034.5 2008,1040.4 2008.5,1030.2 2009.1,1030 2009.6,1038 2010.2,1030.8 2010.7,1038.5 2011.2,1039.2 2011.8,1038.9 2012.3,1035 2012.8,1026.1 2013.4,1033.6 2013.9,1026.6 2014.5,1033 2015,1027.2 2015.5,1028.4 2016.1,1042.5 2016.6,1041.4 2017.1,1029.7 2017.7,1042.8 2018.2,1037.4 2018.8,1048.3 2019.3,1037.8 2019.8,1037.6 2020.4,1039.7 2020.9,1041.9 2021.4,1045.5 2022,1037 2022.5,1040.2 2023.1,1032 2023.6,1048.6 2024.1,1046.8 2024.7,1031.2 2025.2,1051 2025.7,1048.4 2026.3,1033.7 2026.8,1033.4 2027.4,1049.8 2027.9,1053.4 2028.4,1046 2029,1039.7 2029.5,1042.7 2030,1047.7 2030.6,1042.4 2031.1,1042.4 2031.7,1057 2032.2,1052.3 2032.7,1055.8 2033.3,1049.4 2033.8,1049.7 2034.3,1045 2034.9,1056.8 2035.4,1051.4 2036,1046.9 2036.5,1040.8 2037,1043.9 2037.6,1045.1 2038.1,1055.7 2038.6,1046.7 2039.2,1056.2 2039.7,1050.9 2040.3,1044.3 2040.8,1053.4 2041.3,1062.4 2041.9,1049.1 2042.4,1061 2042.9,1046.8 2043.5,1051.3 2044,1054.8 2044.6,1061.3 2045.1,1054.2 2045.6,1052 2046.2,1057.9 2046.7,1063.4 2047.2,1050.9 2047.8,1056 2048.3,1061.6 2048.9,1057.4 2049.4,1041.4 2049.9,1051.2 2050.5,1058.4 2051,1051 2051.5,1057.3 2052.1,1041.8 2052.6,1054 2053.2,1060.4 2053.7,1062.7 2054.2,1052 2054.8,1047.7 2055.3,1040.1 2055.8,1065 2056.4,1058.3 2056.9,1059.5 2057.5,1058.6 2058,1062.2 2058.5,1054.9 2059.1,1063.4 2059.6,1066.9 2060.1,1064.6 2060.7,1057.6 2061.2,1052.2 2061.8,1064.8 2062.3,1048.5 2062.8,1072.4 2063.4,1060.9 2063.9,1063.9 2064.4,1051.3 2065,1063.8 2065.5,1063.3 2066.1,1069.3 2066.6,1054.6 2067.1,1042.6 2067.7,1060.6 2068.2,1063.6 2068.7,1052.6 2069.3,1061.6 2069.8,1051.6 2070.4,1046.7 2070.9,1049.1 2071.4,1054.3 2072,1052.7 2072.5,1045.6 2073,1052.8 2073.6,1047.2 2074.1,1056.3 2074.7,1062.6 2075.2,1045.5 2075.7,1059.5 2076.3,1060.4 2076.8,1058.5 2077.3,1046.8 2077.9,1047.7 2078.4,1064.4 2079,1071.4 2079.5,1049.2 2080,1055.5 2080.6,1071.5 2081.1,1062.7 2081.6,1049.7 2082.2,1049.1 2082.7,1051.5 2083.3,1059.6 2083.8,1071 2084.3,1064.3 2084.9,1045.4 2085.4,1073.6 2086,1066.6 2086.5,1040.9 2087,1069 2087.6,1056.8 2088.1,1069.3 2088.6,1055.6 2089.2,1053.2 2089.7,1061.9 2090.3,1052.3 2090.8,1053.4 2091.3,1061.5 2091.9,1056.3 2092.4,1051.6 2092.9,1049.2 2093.5,1045.1 2094,1070.1 2094.6,1055.8 2095.1,1055.2 2095.6,1044.5 2096.2,1050.7 2096.7,1054 2097.2,1063.1 2097.8,1055.9 2098.3,1042.9 2098.9,1048.8 2099.4,1069.3 2099.9,1047.4 2100.5,1054.4 2101,1045.6 2101.5,1043.2 2102.1,1054.6 2102.6,1050.9 2103.2,1047.7 2103.7,1048.3 2104.2,1040.7 2104.8,1044.3 2105.3,1043.9 2105.8,1064.5 2106.4,1058.4 2106.9,1065.7 2107.5,1049.8 2108,1054.2 2108.5,1059 2109.1,1066.5 2109.6,1049.2 2110.1,1054.9 2110.7,1045.8 2111.2,1057.3 2111.8,1050.2 2112.3,1044.7 2112.8,1051.7 2113.4,1053.5 2113.9,1059.5 2114.4,1053.6 2115,1048 2115.5,1057.6 2116.1,1060.3 2116.6,1067.1 2117.1,1054.8 2117.7,1051.2 2118.2,1057.3 2118.7,1045.2 2119.3,1048.3 2119.8,1049.4 2120.4,1063.8 2120.9,1069.5 2121.4,1056.8 2122,1054 2122.5,1052.7 2123,1059.2 2123.6,1058.1 2124.1,1057.7 2124.7,1065.1 2125.2,1050.7 2125.7,1053.2 2126.3,1048.7 2126.8,1072 2127.3,1069.3 2127.9,1065.6 2128.4,1071.1 2129,1051.5 2129.5,1066.8 2130,1061.6 2130.6,1048 2131.1,1058.4 2131.6,1057 2132.2,1052.1 2132.7,1063.6 2133.3,1057.9 2133.8,1055 2134.3,1052.7 2134.9,1064.1 2135.4,1056.4 2135.9,1071.6 2136.5,1063.7 2137,1070.6 2137.6,1058.8 2138.1,1067.1 2138.6,1053.1 2139.2,1056.1 2139.7,1066.6 2140.2,1056.8 2140.8,1054.7 2141.3,1067.5 2141.9,1062.7 2142.4,1058.3 2142.9,1057.9 2143.5,1057.5 2144,1057.6 2144.5,1068.7 2145.1,1054.6 2145.6,1065.2 2146.2,1072.4 2146.7,1060.5 2147.2,1065.6 2147.8,1055.9 2148.3,1066 2148.8,1056.7 2149.4,1060.2 2149.9,1062.6 2150.5,1065.8 2151,1059.7 2151.5,1061.7 2152.1,1064.4 2152.6,1061.3 2153.1,1058.7 2153.7,1071.5 2154.2,1065.7 2154.8,1067 2155.3,1064.1 2155.8,1061.4 2156.4,1071.2 2156.9,1062.9 2157.4,1056.2 2158,1069.6 2158.5,1065.9 2159.1,1064.8 2159.6,1058.4 2160.1,1070.4 2160.7,1064.6 2161.2,1065.7 2161.8,1063.8 2162.3,1073.8 2162.8,1066.4 2163.4,1068.6 2163.9,1061.5 2164.4,1074.1 2165,1065.6 2165.5,1063.6 2166.1,1063.1 2166.6,1066.9 2167.1,1058.9 2167.7,1065.1 2168.2,1065.6 2168.7,1057.8 2169.3,1068.6 2169.8,1060.6 2170.4,1066.9 2170.9,1062.9 2171.4,1070.1 2172,1066.2 2172.5,1061.9 2173,1059.9 2173.6,1064.5 2174.1,1071.5 2174.7,1073.2 2175.2,1062.7 2175.7,1071.5 2176.3,1071 2176.8,1070.8 2177.3,1070.4 2177.9,1066.4 2178.4,1065 2179,1062.9 2179.5,1067.8 2180,1058.8 2180.6,1069.4 2181.1,1065.7 2181.6,1064.8 2182.2,1067.9 2182.7,1071.3 2183.3,1057.9 2183.8,1076.1 2184.3,1067.8 2184.9,1068.5 2185.4,1074.7 2185.9,1060.7 2186.5,1069.8 2187,1065.4 2187.6,1074.8 2188.1,1061.9 2188.6,1073.8 2189.2,1066.8 2189.7,1070.9 2190.2,1065 2190.8,1066.3 2191.3,1062.3 2191.9,1067.4 2192.4,1067.8 2192.9,1073.6 2193.5,1070 2194,1069.4 2194.5,1064.7 2195.1,1060.9 2195.6,1064.2 2196.2,1077.7 2196.7,1077.5 2197.2,1066.4 2197.8,1062 2198.3,1068.8 2198.8,1068.7 2199.4,1063.1 2199.9,1070.7 2200.5,1067.5 2201,1070.7 2201.5,1070.6 2202.1,1068.4 2202.6,1079.2 2203.1,1067.8 2203.7,1078.4 2204.2,1077.3 2204.8,1076.2 2205.3,1075.7 2205.8,1074.3 2206.4,1076.4 2206.9,1073.9 2207.4,1076.2 2208,1078.7 2208.5,1073.7 2209.1,1077.9 2209.6,1071.9 2210.1,1072.6 2210.7,1074.7 2211.2,1072 2211.7,1076.8 2212.3,1070.2 2212.8,1072.4 2213.4,1072.6 2213.9,1072 2214.4,1075.7 2215,1080.9 2215.5,1079.8 2216,1073.8 2216.6,1083.8 2217.1,1075 2217.7,1079.2 2218.2,1071.1 2218.7,1082.8 2219.3,1080.6 2219.8,1080.5 2220.3,1072.1 2220.9,1080.9 2221.4,1080.9 2222,1083.6 2222.5,1082.4 2223,1078.1 2223.6,1074 2224.1,1077 2224.6,1075.1 2225.2,1075.1 2225.7,1070.9 2226.3,1081.7 2226.8,1075 2227.3,1083 2227.9,1085.2 2228.4,1082.9 2228.9,1079.2 2229.5,1074.3 2230,1071.4 2230.6,1072.8 2231.1,1072.4 2231.6,1081.9 2232.2,1078 2232.7,1087.7 2233.2,1074.4 2233.8,1083.2 2234.3,1077.5 2234.9,1073.5 2235.4,1076.2 2235.9,1072.6 2236.5,1081.9 2237,1072.9 2237.6,1084.6 2238.1,1088 2238.6,1085.7 2239.2,1075.4 2239.7,1080.1 2240.2,1084.4 2240.8,1079.8 2241.3,1074.1 2241.9,1079.3 2242.4,1086.5 2242.9,1087 2243.5,1088.7 2244,1080.1 2244.5,1074.9 2245.1,1074.1 2245.6,1080.3 2246.2,1085.5 2246.7,1084.1 2247.2,1085.9 2247.8,1077.1 2248.3,1076.6 2248.8,1080.5 2249.4,1082.8 2249.9,1078.9 2250.5,1073.1 2251,1092.2 2251.5,1091.4 2252.1,1091.3 2252.6,1088.9 2253.1,1073.1 2253.7,1082.1 2254.2,1083.1 2254.8,1080.4 2255.3,1079.1 2255.8,1081.5 2256.4,1074.3 564.5,810.1 354.9,777.6 725.3,833.8 752.8,841.2 664.2,789.6 877.5,847.5 972.2,870 1065.8,882.5 1125.7,887.5 904.9,855.1 947.3,868.8 1130.6,855.8 1024.6,838.4 948.6,833.4 1321.5,917.4 1514.7,957.5 1572.1,953.7 1720.5,987.4 1746.7,984.9 1856.5,1006.1 1826.5,993.6 1812.8,953.3 1892.7,978.2 1489.8,948.7 1684.4,981.2 1504.8,919.6 1673.1,944.5 2054.4,1068.6 2141.7,1078.6 2099.3,1030.7 2134.2,1044.4 2053.1,1035.7 1962.1,1047.4 1854.8,1005 1824.9,991.3 1812.4,954.6 1893.5,978.3 2091.8,1066.1 533.8,821 2078.1,1087.1"/></defs>
<use href="#d1" fill="none" stroke="none" style="marker:url(#mf)"/>
<use href="#d1" fill="none" stroke="none" style="marker:url(#me)"/>
<polyline points="342,758.5 342.5,758.6 343.1,758.6 343.6,758.7 344.2,758.8 344.7,758.8 345.2,758.9 345.8,758.9 346.3,759 346.8,759.1 347.4,759.1 347.9,759.2 348.5,759.2 349,759.3 349.5,759.3 350.1,759.4 350.6,759.4 351.1,759.5 351.7,759.5 352.2,759.6 352.8,759.6 353.3,759.7 353.8,759.7 354.4,759.8 354.9,759.8 355.4,759.9 356,759.9 356.5,759.9 357.1,760 357.6,760 358.1,760.1 358.7,760.1 359.2,760.1 359.8,760.2 360.3,760.2 360.8,760.3 361.4,760.3 361.9,760.3 362.4,760.4 363,760.4 363.5,760.4 364.1,760.5 364.6,760.5 365.1,760.5 365.7,760.5 366.2,760.6 366.7,760.6 367.3,760.6 367.8,760.7 368.4,760.7 368.9,760.7 369.4,760.7 370,760.8 370.5,760.8 371,760.8 371.6,760.8 372.1,760.9 372.7,760.9 373.2,760.9 373.7,760.9 374.3,760.9 374.8,761 375.3,761 375.9,761 376.4,761 377,761 377.5,761 378,761.1 378.6,761.1 379.1,761.1 379.6,761.1 380.2,761.1 380.7,761.1 381.3,761.1 381.8,761.2 382.3,761.2 382.9,761.2 383.4,761.2 383.9,761.2 384.5,761.2 385,761.2 385.6,761.3 386.1,761.3 386.6,761.3 387.2,761.3 387.7,761.3 388.2,761.3 388.8,761.3 389.3,761.3 389.9,761.4 390.4,761.4 390.9,761.4 391.5,761.4 392,761.4 392.5,761.4 393.1,761.5 393.6,761.5 394.2,761.5 394.7,761.5 395.2,761.5 395.8,761.5 396.3,761.6 396.8,761.6 397.4,761.6 397.9,761.6 398.5,761.6 399,761.7 399.5,761.7 400.1,761.7 400.6,761.7 401.1,761.8 401.7,761.8 402.2,761.8 402.8,761.9 403.3,761.9 403.8,761.9 404.4,761.9 404.9,762 405.4,762 406,762.1 406.5,762.1 407.1,762.1 407.6,762.2 408.1,762.2 408.7,762.3 409.2,762.3 409.7,762.3 410.3,762.4 410.8,762.4 411.4,762.5 411.9,762.5 412.4,762.6 413,762.6 413.5,762.7 414,762.8 414.6,762.8 415.1,762.9 415.7,762.9 416.2,763 416.7,763.1 417.3,763.1 417.8,763.2 418.3,763.3 418.9,763.3 419.4,763.4 420,763.5 420.5,763.6 421,763.6 421.6,763.7 422.1,763.8 422.6,763.9 423.2,764 423.7,764 424.3,764.1 424.8,764.2 425.3,764.3 425.9,764.4 426.4,764.5 426.9,764.6 427.5,764.7 428,764.8 428.6,764.9 429.1,765 429.6,765.1 430.2,765.2 430.7,765.3 431.3,765.4 431.8,765.5 432.3,765.6 432.9,765.7 433.4,765.9 433.9,766 434.5,766.1 435,766.2 435.6,766.3 436.1,766.4 436.6,766.6 437.2,766.7 437.7,766.8 438.2,766.9 438.8,767.1 439.3,767.2 439.9,767.3 440.4,767.5 440.9,767.6 441.5,767.7 442,767.9 442.5,768 443.1,768.1 443.6,768.3 444.2,768.4 444.7,768.5 445.2,768.7 445.8,768.8 446.3,769 446.8,769.1 447.4,769.3 447.9,769.4 448.5,769.5 449,769.7 449.5,769.8 450.1,770 450.6,770.1 451.1,770.3 451.7,770.4 452.2,770.6 452.8,770.7 453.3,770.9 453.8,771 454.4,771.2 454.9,771.3 455.4,771.5 456,771.6 456.5,771.8 457.1,771.9 457.6,772.1 458.1,772.2 458.7,772.4 459.2,772.5 459.7,772.7 460.3,772.8 460.8,773 461.4,773.1 461.9,773.3 462.4,773.4 463,773.6 463.5,773.7 533.9,787.5 534.5,787.5 535,787.6 535.5,787.7 536.1,787.7 536.6,787.8 537.2,787.9 537.7,787.9 538.2,788 538.8,788.1 539.3,788.1 539.8,788.2 540.4,788.2 540.9,788.3 541.5,788.3 542,788.4 542.5,788.5 543.1,788.5 543.6,788.6 544.1,788.6 544.7,788.7 545.2,788.7 545.8,788.8 546.3,788.8 546.8,788.9 547.4,788.9 547.9,789 548.4,789 549,789.1 549.5,789.1 550.1,789.2 550.6,789.2 551.1,789.3 551.7,789.3 552.2,789.4 552.7,789.4 553.3,789.5 553.8,789.5 554.4,789.5 554.9,789.6 555.4,789.6 556,789.7 556.5,789.7 557,789.7 557.6,789.8 558.1,789.8 558.7,789.8 559.2,789.9 559.7,789.9 560.3,789.9 560.8,790 561.3,790 561.9,790 562.4,790.1 563,790.1 563.5,790.1 564,790.1 564.6,790.2 565.1,790.2 565.6,790.2 566.2,790.2 566.7,790.3 567.3,790.3 567.8,790.3 568.3,790.3 568.9,790.3 569.4,790.4 569.9,790.4 570.5,790.4 571,790.4 571.6,790.4 572.1,790.5 572.6,790.5 573.2,790.5 573.7,790.5 574.2,790.5 574.8,790.5 575.3,790.6 575.9,790.6 576.4,790.6 576.9,790.6 577.5,790.6 578,790.6 578.5,790.6 579.1,790.7 579.6,790.7 580.2,790.7 580.7,790.7 581.2,790.7 581.8,790.7 582.3,790.7 582.9,790.8 583.4,790.8 583.9,790.8 584.5,790.8 585,790.8 585.5,790.8 586.1,790.8 586.6,790.9 587.2,790.9 587.7,790.9 588.2,790.9 588.8,790.9 589.3,790.9 589.8,790.9 590.4,791 590.9,791 591.5,791 592,791 592.5,791 593.1,791.1 593.6,791.1 594.1,791.1 594.7,791.1 595.2,791.1 595.8,791.2 596.3,791.2 596.8,791.2 597.4,791.2 597.9,791.3 598.4,791.3 599,791.3 599.5,791.4 600.1,791.4 600.6,791.4 601.1,791.5 601.7,791.5 602.2,791.5 602.7,791.6 603.3,791.6 603.8,791.6 604.4,791.7 604.9,791.7 605.4,791.8 606,791.8 606.5,791.9 607,791.9 607.6,792 608.1,792 608.7,792.1 609.2,792.1 609.7,792.2 610.3,792.2 610.8,792.3 611.3,792.3 611.9,792.4 612.4,792.5 613,792.5 613.5,792.6 614,792.7 614.6,792.7 615.1,792.8 615.6,792.9 616.2,792.9 616.7,793 617.3,793.1 617.8,793.2 618.3,793.3 618.9,793.3 619.4,793.4 619.9,793.5 620.5,793.6 621,793.7 621.6,793.8 622.1,793.9 622.6,794 623.2,794 623.7,794.1 624.2,794.2 624.8,794.3 625.3,794.4 625.9,794.5 626.4,794.7 626.9,794.8 627.5,794.9 628,795 628.5,795.1 629.1,795.2 629.6,795.3 630.2,795.4 630.7,795.5 631.2,795.7 631.8,795.8 632.3,795.9 632.8,796 633.4,796.1 633.9,796.3 634.5,796.4 635,796.5 635.5,796.7 636.1,796.8 636.6,796.9 637.1,797 637.7,797.2 638.2,797.3 638.8,797.4 639.3,797.6 639.8,797.7 640.4,797.9 640.9,798 641.4,798.1 642,798.3 642.5,798.4 643.1,798.6 643.6,798.7 644.1,798.8 644.7,799 645.2,799.1 645.7,799.3 646.3,799.4 646.8,799.6 647.4,799.7 647.9,799.9 648.4,800 649,800.2 649.5,800.3 650,800.5 650.6,800.6 651.1,800.8 651.7,800.9 652.2,801.1 652.7,801.2 653.3,801.4 653.8,801.5 654.3,801.7 654.9,801.8 655.4,802 656,802.1 656.5,802.3 657,802.4 657.6,802.6 658.1,802.7 658.7,802.9 659.2,803 659.7,803.2 660.3,803.3 660.8,803.5 661.3,803.6 661.9,803.8 662.4,803.9 663,804.1 663.5,804.2 664,804.4 664.6,804.5 665.1,804.6 665.6,804.8 666.2,804.9 666.7,805.1 667.3,805.2 667.8,805.4 668.3,805.5 668.9,805.6 669.4,805.8 669.9,805.9 670.5,806.1 671,806.2 671.6,806.3 672.1,806.5 672.6,806.6 673.2,806.8 673.7,806.9 674.2,807 674.8,807.2 675.3,807.3 675.9,807.4 676.4,807.6 676.9,807.7 677.5,807.8 678,807.9 678.5,808.1 679.1,808.2 679.6,808.3 680.2,808.4 680.7,808.6 681.2,808.7 681.8,808.8 682.3,808.9 682.8,809.1 683.4,809.2 683.9,809.3 684.5,809.4 685,809.5 685.5,809.6 686.1,809.8 686.6,809.9 687.1,810 687.7,810.1 688.2,810.2 688.8,810.3 689.3,810.4 689.8,810.5 690.4,810.7 690.9,810.8 691.4,810.9 692,811 692.5,811.1 693.1,811.2 693.6,811.3 694.1,811.4 694.7,811.5 695.2,811.6 695.7,811.7 696.3,811.8 696.8,811.9 697.4,812 697.9,812.1 698.4,812.2 699,812.3 699.5,812.4 700,812.5 700.6,812.6 701.1,812.7 701.7,812.8 702.2,812.8 702.7,812.9 703.3,813 703.8,813.1 704.3,813.2 704.9,813.3 705.4,813.4 706,813.5 706.5,813.6 707,813.7 707.6,813.7 708.1,813.8 708.6,813.9 709.2,814 709.7,814.1 710.3,814.2 710.8,814.2 711.3,814.3 711.9,814.4 712.4,814.5 712.9,814.6 713.5,814.7 714,814.7 714.6,814.8 715.1,814.9 715.6,815 716.2,815.1 716.7,815.1 717.2,815.2 717.8,815.3 718.3,815.4 718.9,815.4 719.4,815.5 719.9,815.6 720.5,815.7 721,815.7 721.5,815.8 722.1,815.9 722.6,816 723.2,816 723.7,816.1 724.2,816.2 724.8,816.3 725.3,816.3 725.8,816.4 726.4,816.5 726.9,816.5 727.5,816.6 728,816.7 728.5,816.7 729.1,816.8 729.6,816.9 730.1,816.9 730.7,817 731.2,817.1 731.8,817.1 732.3,817.2 732.8,817.3 733.4,817.3 733.9,817.4 734.5,817.5 735,817.5 735.5,817.6 736.1,817.6 736.6,817.7 737.1,817.8 737.7,817.8 738.2,817.9 738.8,817.9 739.3,818 739.8,818 740.4,818.1 740.9,818.2 741.4,818.2 742,818.3 742.5,818.3 743.1,818.4 743.6,818.4 744.1,818.5 744.7,818.5 745.2,818.6 745.7,818.6 746.3,818.7 746.8,818.7 747.4,818.7 747.9,818.8 748.4,818.8 749,818.9 749.5,818.9 750,819 750.6,819 751.1,819 751.7,819.1 752.2,819.1 752.7,819.2 753.3,819.2 753.8,819.2 754.3,819.3 754.9,819.3 755.4,819.3 756,819.4 756.5,819.4 757,819.4 757.6,819.5 758.1,819.5 758.6,819.5 759.2,819.6 759.7,819.6 760.3,819.6 760.8,819.6 761.3,819.7 761.9,819.7 762.4,819.7 762.9,819.7 763.5,819.8 764,819.8 764.6,819.8 765.1,819.8 765.6,819.8 766.2,819.9 766.7,819.9 767.2,819.9 767.8,819.9 768.3,819.9 768.9,820 769.4,820 769.9,820 770.5,820 771,820 771.5,820 772.1,820.1 772.6,820.1 773.2,820.1 773.7,820.1 774.2,820.1 774.8,820.1 775.3,820.1 775.8,820.2 776.4,820.2 776.9,820.2 777.5,820.2 778,820.2 778.5,820.2 779.1,820.2 779.6,820.2 780.1,820.3 780.7,820.3 781.2,820.3 781.8,820.3 782.3,820.3 782.8,820.3 783.4,820.3 783.9,820.4 784.4,820.4 785,820.4 785.5,820.4 786.1,820.4 786.6,820.4 787.1,820.5 787.7,820.5 788.2,820.5 788.7,820.5 789.3,820.5 789.8,820.6 790.4,820.6 790.9,820.6 791.4,820.6 792,820.6 792.5,820.7 793,820.7 793.6,820.7 794.1,820.7 794.7,820.8 795.2,820.8 795.7,820.8 796.3,820.9 796.8,820.9 797.3,820.9 797.9,821 798.4,821 799,821 799.5,821.1 800,821.1 800.6,821.2 801.1,821.2 801.6,821.2 802.2,821.3 802.7,821.3 803.3,821.4 803.8,821.4 804.3,821.5 804.9,821.5 805.4,821.6 805.9,821.6 806.5,821.7 807,821.7 807.6,821.8 808.1,821.9 808.6,821.9 809.2,822 809.7,822.1 810.3,822.1 810.8,822.2 811.3,822.3 811.9,822.3 812.4,822.4 812.9,822.5 813.5,822.6 814,822.6 814.6,822.7 815.1,822.8 815.6,822.9 816.2,823 816.7,823 817.2,823.1 817.8,823.2 818.3,823.3 818.9,823.4 819.4,823.5 819.9,823.6 820.5,823.7 821,823.8 821.5,823.9 822.1,824 822.6,824.1 823.2,824.2 823.7,824.3 824.2,824.4 824.8,824.5 825.3,824.7 825.8,824.8 826.4,824.9 826.9,825 827.5,825.1 828,825.2 828.5,825.4 829.1,825.5 829.6,825.6 830.1,825.7 830.7,825.8 831.2,826 831.8,826.1 832.3,826.2 832.8,826.4 833.4,826.5 833.9,826.6 834.4,826.8 835,826.9 835.5,827 836.1,827.2 836.6,827.3 837.1,827.4 837.7,827.6 838.2,827.7 838.7,827.9 839.3,828 839.8,828.1 840.4,828.3 840.9,828.4 841.4,828.6 842,828.7 842.5,828.9 843,829 843.6,829.2 844.1,829.3 844.7,829.5 845.2,829.6 845.7,829.8 846.3,829.9 846.8,830.1 847.3,830.2 847.9,830.4 848.4,830.5 849,830.7 849.5,830.8 850,831 850.6,831.1 851.1,831.3 851.6,831.4 852.2,831.6 852.7,831.7 853.3,831.9 853.8,832 854.3,832.2 854.9,832.3 855.4,832.5 855.9,832.6 856.5,832.8 857,832.9 857.6,833.1 858.1,833.2 858.6,833.4 859.2,833.5 859.7,833.7 860.2,833.8 860.8,833.9 861.3,834.1 861.9,834.2 862.4,834.4 862.9,834.5 863.5,834.7 864,834.8 864.5,835 865.1,835.1 865.6,835.2 866.2,835.4 866.7,835.5 867.2,835.7 867.8,835.8 868.3,835.9 868.8,836.1 869.4,836.2 869.9,836.3 870.5,836.5 871,836.6 871.5,836.7 872.1,836.9 872.6,837 873.1,837.1 873.7,837.3 874.2,837.4 874.8,837.5 875.3,837.6 875.8,837.8 876.4,837.9 876.9,838 877.4,838.1 878,838.3 878.5,838.4 879.1,838.5 879.6,838.6 880.1,838.7 880.7,838.9 881.2,839 881.8,839.1 882.3,839.2 882.8,839.3 883.4,839.4 883.9,839.6 884.4,839.7 885,839.8 885.5,839.9 886.1,840 886.6,840.1 887.1,840.2 887.7,840.3 888.2,840.4 888.7,840.5 889.3,840.6 889.8,840.7 890.4,840.8 890.9,840.9 891.4,841 892,841.2 892.5,841.3 893,841.3 893.6,841.4 894.1,841.5 894.7,841.6 895.2,841.7 895.7,841.8 896.3,841.9 896.8,842 897.3,842.1 897.9,842.2 898.4,842.3 899,842.4 899.5,842.5 900,842.6 900.6,842.7 901.1,842.8 901.6,842.8 902.2,842.9 902.7,843 903.3,843.1 903.8,843.2 904.3,843.3 904.9,843.4 905.4,843.5 905.9,843.5 906.5,843.6 907,843.7 907.6,843.8 908.1,843.9 908.6,844 909.2,844 909.7,844.1 910.2,844.2 910.8,844.3 911.3,844.4 911.9,844.4 912.4,844.5 912.9,844.6 913.5,844.7 914,844.8 914.5,844.8 915.1,844.9 915.6,845 916.2,845.1 916.7,845.1 917.2,845.2 917.8,845.3 918.3,845.4 918.8,845.4 919.4,845.5 919.9,845.6 920.5,845.6 921,845.7 921.5,845.8 922.1,845.9 922.6,845.9 923.1,846 923.7,846.1 924.2,846.1 924.8,846.2 925.3,846.3 925.8,846.3 926.4,846.4 926.9,846.5 927.4,846.5 928,846.6 928.5,846.7 929.1,846.7 929.6,846.8 930.1,846.9 930.7,846.9 931.2,847 931.7,847 932.3,847.1 932.8,847.2 933.4,847.2 933.9,847.3 934.4,847.3 935,847.4 935.5,847.5 936,847.5 936.6,847.6 937.1,847.6 937.7,847.7 938.2,847.7 938.7,847.8 939.3,847.8 939.8,847.9 940.3,847.9 940.9,848 941.4,848 942,848.1 942.5,848.1 943,848.2 943.6,848.2 944.1,848.3 944.6,848.3 945.2,848.4 945.7,848.4 946.3,848.4 946.8,848.5 947.3,848.5 947.9,848.6 948.4,848.6 948.9,848.6 949.5,848.7 950,848.7 950.6,848.7 951.1,848.8 951.6,848.8 952.2,848.8 952.7,848.9 953.2,848.9 953.8,848.9 954.3,849 954.9,849 955.4,849 955.9,849.1 956.5,849.1 957,849.1 957.6,849.1 958.1,849.2 958.6,849.2 959.2,849.2 959.7,849.2 960.2,849.3 960.8,849.3 961.3,849.3 961.9,849.3 962.4,849.3 962.9,849.4 963.5,849.4 964,849.4 964.5,849.4 965.1,849.4 965.6,849.5 966.2,849.5 966.7,849.5 967.2,849.5 967.8,849.5 968.3,849.5 968.8,849.5 969.4,849.6 969.9,849.6 970.5,849.6 971,849.6 971.5,849.6 972.1,849.6 972.6,849.6 973.1,849.7 973.7,849.7 974.2,849.7 974.8,849.7 975.3,849.7 975.8,849.7 976.4,849.7 976.9,849.8 977.4,849.8 978,849.8 978.5,849.8 979.1,849.8 979.6,849.8 980.1,849.8 980.7,849.9 981.2,849.9 981.7,849.9 982.3,849.9 982.8,849.9 983.4,849.9 983.9,850 984.4,850 985,850 985.5,850 986,850 986.6,850 987.1,850.1 987.7,850.1 988.2,850.1 988.7,850.1 989.3,850.2 989.8,850.2 990.3,850.2 990.9,850.2 991.4,850.3 992,850.3 992.5,850.3 993,850.4 993.6,850.4 994.1,850.4 994.6,850.5 995.2,850.5 995.7,850.5 996.3,850.6 996.8,850.6 997.3,850.7 997.9,850.7 998.4,850.8 998.9,850.8 999.5,850.8 1000,850.9 1000.6,850.9 1001.1,851 1001.6,851 1002.2,851.1 1002.7,851.2 1003.2,851.2 1003.8,851.3 1004.3,851.3 1004.9,851.4 1005.4,851.5 1005.9,851.5 1006.5,851.6 1007,851.7 1007.5,851.7 1008.1,851.8 1008.6,851.9 1009.2,851.9 1009.7,852 1010.2,852.1 1010.8,852.2 1011.3,852.3 1011.8,852.3 1012.4,852.4 1012.9,852.5 1013.5,852.6 1014,852.7 1014.5,852.8 1015.1,852.9 1015.6,853 1016.1,853.1 1016.7,853.2 1017.2,853.3 1017.8,853.4 1018.3,853.5 1018.8,853.6 1019.4,853.7 1019.9,853.8 1020.4,853.9 1021,854 1021.5,854.1 1022.1,854.2 1022.6,854.3 1023.1,854.4 1023.7,854.6 1024.2,854.7 1024.7,854.8 1025.3,854.9 1025.8,855 1026.4,855.2 1026.9,855.3 1027.4,855.4 1028,855.6 1028.5,855.7 1029,855.8 1029.6,855.9 1030.1,856.1 1030.7,856.2 1031.2,856.3 1031.7,856.5 1032.3,856.6 1032.8,856.8 1033.4,856.9 1033.9,857 1034.4,857.2 1035,857.3 1035.5,857.5 1036,857.6 1036.6,857.7 1037.1,857.9 1037.7,858 1038.2,858.2 1038.7,858.3 1039.3,858.5 1039.8,858.6 1040.3,858.8 1040.9,858.9 1041.4,859.1 1042,859.2 1042.5,859.4 1043,859.5 1043.6,859.6 1044.1,859.8 1044.6,859.9 1045.2,860.1 1045.7,860.3 1046.3,860.4 1046.8,860.6 1047.3,860.7 1047.9,860.9 1048.4,861 1048.9,861.2 1049.5,861.3 1050,861.5 1050.6,861.6 1051.1,861.8 1051.6,861.9 1052.2,862.1 1052.7,862.2 1053.2,862.4 1053.8,862.5 1054.3,862.7 1054.9,862.8 1055.4,862.9 1055.9,863.1 1056.5,863.2 1057,863.4 1057.5,863.5 1058.1,863.7 1058.6,863.8 1059.2,864 1059.7,864.1 1060.2,864.3 1060.8,864.4 1061.3,864.5 1061.8,864.7 1062.4,864.8 1062.9,865 1063.5,865.1 1064,865.2 1064.5,865.4 1065.1,865.5 1065.6,865.6 1066.1,865.8 1066.7,865.9 1067.2,866.1 1067.8,866.2 1068.3,866.3 1068.8,866.5 1069.4,866.6 1069.9,866.7 1070.4,866.8 1071,867 1071.5,867.1 1072.1,867.2 1072.6,867.3 1073.1,867.5 1073.7,867.6 1074.2,867.7 1074.7,867.8 1075.3,868 1075.8,868.1 1076.4,868.2 1076.9,868.3 1077.4,868.4 1078,868.6 1078.5,868.7 1079,868.8 1079.6,868.9 1080.1,869 1080.7,869.1 1081.2,869.2 1081.7,869.3 1082.3,869.5 1082.8,869.6 1083.3,869.7 1083.9,869.8 1084.4,869.9 1085,870 1085.5,870.1 1086,870.2 1086.6,870.3 1087.1,870.4 1087.6,870.5 1088.2,870.6 1088.7,870.7 1089.3,870.8 1089.8,870.9 1090.3,871 1090.9,871.1 1091.4,871.2 1091.9,871.3 1092.5,871.4 1093,871.5 1093.6,871.6 1094.1,871.7 1094.6,871.8 1095.2,871.9 1095.7,871.9 1096.2,872 1096.8,872.1 1097.3,872.2 1097.9,872.3 1098.4,872.4 1098.9,872.5 1099.5,872.6 1100,872.7 1100.5,872.7 1101.1,872.8 1101.6,872.9 1102.2,873 1102.7,873.1 1103.2,873.2 1103.8,873.3 1104.3,873.3 1104.8,873.4 1105.4,873.5 1105.9,873.6 1106.5,873.7 1107,873.7 1107.5,873.8 1108.1,873.9 1108.6,874 1109.2,874.1 1109.7,874.1 1110.2,874.2 1110.8,874.3 1111.3,874.4 1111.8,874.4 1112.4,874.5 1112.9,874.6 1113.5,874.7 1114,874.7 1114.5,874.8 1115.1,874.9 1115.6,875 1116.1,875 1116.7,875.1 1117.2,875.2 1117.8,875.3 1118.3,875.3 1118.8,875.4 1119.4,875.5 1119.9,875.5 1120.4,875.6 1121,875.7 1121.5,875.7 1122.1,875.8 1122.6,875.9 1123.1,875.9 1123.7,876 1124.2,876.1 1124.7,876.1 1125.3,876.2 1125.8,876.3 1126.4,876.3 1126.9,876.4 1127.4,876.5 1128,876.5 1128.5,876.6 1129,876.6 1129.6,876.7 1130.1,876.7 1130.7,876.8 1131.2,876.9 1131.7,876.9 1132.3,877 1132.8,877 1133.3,877.1 1133.9,877.1 1134.4,877.2 1135,877.2 1135.5,877.3 1136,877.4 1136.6,877.4 1137.1,877.5 1137.6,877.5 1138.2,877.5 1138.7,877.6 1139.3,877.6 1139.8,877.7 1140.3,877.7 1140.9,877.8 1141.4,877.8 1141.9,877.9 1142.5,877.9 1143,877.9 1143.6,878 1144.1,878 1144.6,878.1 1145.2,878.1 1145.7,878.1 1146.2,878.2 1146.8,878.2 1147.3,878.2 1147.9,878.3 1148.4,878.3 1148.9,878.4 1149.5,878.4 1150,878.4 1150.5,878.4 1151.1,878.5 1151.6,878.5 1152.2,878.5 1152.7,878.6 1153.2,878.6 1153.8,878.6 1154.3,878.6 1154.8,878.7 1155.4,878.7 1155.9,878.7 1156.5,878.7 1157,878.8 1157.5,878.8 1158.1,878.8 1158.6,878.8 1159.1,878.8 1159.7,878.9 1160.2,878.9 1160.8,878.9 1161.3,878.9 1161.8,878.9 1162.4,878.9 1162.9,879 1163.4,879 1164,879 1164.5,879 1165.1,879 1165.6,879 1166.1,879.1 1166.7,879.1 1167.2,879.1 1167.7,879.1 1168.3,879.1 1168.8,879.1 1169.4,879.1 1169.9,879.2 1170.4,879.2 1171,879.2 1171.5,879.2 1172,879.2 1172.6,879.2 1173.1,879.2 1173.7,879.2 1174.2,879.3 1174.7,879.3 1175.3,879.3 1175.8,879.3 1176.3,879.3 1176.9,879.3 1177.4,879.3 1178,879.4 1178.5,879.4 1179,879.4 1179.6,879.4 1180.1,879.4 1180.6,879.4 1181.2,879.5 1181.7,879.5 1182.3,879.5 1182.8,879.5 1183.3,879.5 1183.9,879.6 1184.4,879.6 1185,879.6 1185.5,879.6 1186,879.7 1186.6,879.7 1187.1,879.7 1187.6,879.7 1188.2,879.8 1188.7,879.8 1189.3,879.8 1189.8,879.9 1190.3,879.9 1190.9,879.9 1191.4,880 1191.9,880 1192.5,880.1 1193,880.1 1193.6,880.1 1194.1,880.2 1194.6,880.2 1195.2,880.3 1195.7,880.3 1196.2,880.4 1196.8,880.4 1197.3,880.5 1197.9,880.5 1198.4,880.6 1198.9,880.6 1199.5,880.7 1200,880.7 1200.5,880.8 1201.1,880.9 1201.6,880.9 1202.2,881 1202.7,881 1203.2,881.1 1203.8,881.2 1204.3,881.3 1204.8,881.3 1205.4,881.4 1205.9,881.5 1206.5,881.6 1207,881.6 1207.5,881.7 1208.1,881.8 1208.6,881.9 1209.1,882 1209.7,882.1 1210.2,882.1 1210.8,882.2 1211.3,882.3 1211.8,882.4 1212.4,882.5 1212.9,882.6 1213.4,882.7 1214,882.8 1214.5,882.9 1215.1,883 1215.6,883.1 1216.1,883.2 1216.7,883.3 1217.2,883.4 1217.7,883.6 1218.3,883.7 1218.8,883.8 1281.7,899.5 1282.3,899.7 1282.8,899.8 1283.3,899.9 1283.9,900 1284.4,900.1 1284.9,900.2 1285.5,900.3 1286,900.4 1286.6,900.5 1287.1,900.6 1287.6,900.7 1288.2,900.8 1288.7,900.8 1289.2,900.9 1289.8,901 1290.3,901.1 1290.9,901.2 1291.4,901.3 1291.9,901.4 1292.5,901.5 1293,901.6 1293.5,901.7 1294.1,901.8 1294.6,901.9 1295.2,901.9 1295.7,902 1296.2,902.1 1296.8,902.2 1297.3,902.3 1297.8,902.4 1298.4,902.5 1298.9,902.5 1299.5,902.6 1300,902.7 1300.5,902.8 1301.1,902.9 1301.6,903 1302.1,903 1302.7,903.1 1303.2,903.2 1303.8,903.3 1304.3,903.4 1304.8,903.4 1305.4,903.5 1305.9,903.6 1306.4,903.7 1307,903.8 1307.5,903.8 1308.1,903.9 1308.6,904 1309.1,904.1 1309.7,904.1 1310.2,904.2 1310.7,904.3 1311.3,904.4 1311.8,904.4 1312.4,904.5 1312.9,904.6 1313.4,904.6 1314,904.7 1314.5,904.8 1315,904.9 1315.6,904.9 1316.1,905 1316.7,905.1 1317.2,905.1 1317.7,905.2 1318.3,905.3 1318.8,905.3 1319.3,905.4 1319.9,905.5 1320.4,905.5 1321,905.6 1321.5,905.7 1322,905.7 1322.6,905.8 1323.1,905.9 1323.6,905.9 1324.2,906 1324.7,906 1325.3,906.1 1325.8,906.2 1326.3,906.2 1326.9,906.3 1327.4,906.3 1327.9,906.4 1328.5,906.4 1329,906.5 1329.6,906.6 1330.1,906.6 1330.6,906.7 1331.2,906.7 1331.7,906.8 1332.2,906.8 1332.8,906.9 1333.3,906.9 1333.9,907 1334.4,907 1334.9,907.1 1335.5,907.1 1336,907.2 1336.6,907.2 1337.1,907.2 1337.6,907.3 1338.2,907.3 1338.7,907.4 1339.2,907.4 1339.8,907.5 1340.3,907.5 1340.9,907.5 1341.4,907.6 1341.9,907.6 1342.5,907.7 1343,907.7 1343.5,907.7 1344.1,907.8 1344.6,907.8 1345.2,907.8 1345.7,907.9 1346.2,907.9 1346.8,907.9 1347.3,907.9 1347.8,908 1348.4,908 1348.9,908 1349.5,908.1 1350,908.1 1350.5,908.1 1351.1,908.1 1351.6,908.2 1352.1,908.2 1352.7,908.2 1353.2,908.2 1353.8,908.3 1354.3,908.3 1354.8,908.3 1355.4,908.3 1355.9,908.3 1356.4,908.4 1357,908.4 1357.5,908.4 1358.1,908.4 1358.6,908.4 1359.1,908.4 1359.7,908.5 1360.2,908.5 1360.7,908.5 1361.3,908.5 1361.8,908.5 1362.4,908.5 1362.9,908.5 1363.4,908.6 1364,908.6 1364.5,908.6 1365,908.6 1365.6,908.6 1366.1,908.6 1366.7,908.6 1367.2,908.7 1367.7,908.7 1368.3,908.7 1368.8,908.7 1369.3,908.7 1369.9,908.7 1370.4,908.7 1371,908.8 1371.5,908.8 1372,908.8 1372.6,908.8 1373.1,908.8 1373.6,908.8 1374.2,908.8 1374.7,908.9 1375.3,908.9 1375.8,908.9 1376.3,908.9 1376.9,908.9 1377.4,908.9 1377.9,909 1378.5,909 1379,909 1379.6,909 1380.1,909 1380.6,909.1 1381.2,909.1 1381.7,909.1 1382.2,909.1 1382.8,909.2 1383.3,909.2 1383.9,909.2 1384.4,909.3 1384.9,909.3 1385.5,909.3 1386,909.3 1386.5,909.4 1387.1,909.4 1387.6,909.5 1388.2,909.5 1388.7,909.5 1389.2,909.6 1389.8,909.6 1390.3,909.6 1390.8,909.7 1391.4,909.7 1391.9,909.8 1392.5,909.8 1393,909.9 1393.5,909.9 1394.1,910 1394.6,910 1395.1,910.1 1395.7,910.1 1396.2,910.2 1396.8,910.3 1397.3,910.3 1397.8,910.4 1398.4,910.4 1398.9,910.5 1399.4,910.6 1400,910.7 1400.5,910.7 1401.1,910.8 1401.6,910.9 1402.1,910.9 1402.7,911 1403.2,911.1 1403.7,911.2 1404.3,911.3 1404.8,911.3 1405.4,911.4 1405.9,911.5 1406.4,911.6 1407,911.7 1407.5,911.8 1408.1,911.9 1408.6,912 1409.1,912.1 1409.7,912.2 1410.2,912.3 1410.7,912.4 1411.3,912.5 1411.8,912.6 1412.4,912.7 1412.9,912.8 1413.4,912.9 1414,913 1414.5,913.1 1415,913.2 1415.6,913.4 1416.1,913.5 1416.7,913.6 1417.2,913.7 1417.7,913.8 1418.3,913.9 1418.8,914.1 1419.3,914.2 1419.9,914.3 1420.4,914.4 1421,914.6 1421.5,914.7 1422,914.8 1422.6,915 1423.1,915.1 1423.6,915.2 1424.2,915.4 1424.7,915.5 1425.3,915.6 1425.8,915.8 1426.3,915.9 1426.9,916.1 1427.4,916.2 1427.9,916.3 1428.5,916.5 1429,916.6 1429.6,916.8 1430.1,916.9 1430.6,917.1 1431.2,917.2 1431.7,917.4 1432.2,917.5 1432.8,917.6 1433.3,917.8 1433.9,917.9 1434.4,918.1 1434.9,918.2 1435.5,918.4 1436,918.5 1436.5,918.7 1437.1,918.8 1437.6,919 1438.2,919.1 1438.7,919.3 1439.2,919.4 1439.8,919.6 1440.3,919.7 1440.8,919.9 1441.4,920 1441.9,920.2 1442.5,920.3 1443,920.5 1443.5,920.6 1444.1,920.8 1444.6,920.9 1445.1,921.1 1445.7,921.2 1446.2,921.4 1446.8,921.5 1447.3,921.7 1447.8,921.8 1448.4,922 1448.9,922.1 1449.4,922.3 1450,922.4 1450.5,922.6 1451.1,922.7 1451.6,922.9 1452.1,923 1452.7,923.1 1453.2,923.3 1453.7,923.4 1454.3,923.6 1454.8,923.7 1455.4,923.9 1455.9,924 1456.4,924.1 1457,924.3 1457.5,924.4 1458,924.5 1458.6,924.7 1459.1,924.8 1459.7,924.9 1460.2,925.1 1460.7,925.2 1461.3,925.3 1461.8,925.5 1462.3,925.6 1462.9,925.7 1463.4,925.9 1464,926 1464.5,926.1 1465,926.2 1465.6,926.4 1466.1,926.5 1466.6,926.6 1467.2,926.7 1467.7,926.9 1468.3,927 1468.8,927.1 1469.3,927.2 1469.9,927.3 1470.4,927.5 1470.9,927.6 1471.5,927.7 1472,927.8 1472.6,927.9 1473.1,928 1473.6,928.1 1474.2,928.3 1474.7,928.4 1475.2,928.5 1475.8,928.6 1476.3,928.7 1476.9,928.8 1477.4,928.9 1477.9,929 1478.5,929.1 1479,929.2 1479.5,929.3 1480.1,929.4 1480.6,929.5 1481.2,929.6 1481.7,929.7 1482.2,929.8 1482.8,929.9 1483.3,930 1483.9,930.1 1484.4,930.2 1484.9,930.3 1485.5,930.4 1486,930.5 1486.5,930.6 1487.1,930.7 1487.6,930.8 1488.2,930.9 1488.7,931 1489.2,931 1489.8,931.1 1490.3,931.2 1490.8,931.3 1491.4,931.4 1491.9,931.5 1492.5,931.6 1493,931.7 1493.5,931.8 1494.1,931.8 1494.6,931.9 1495.1,932 1495.7,932.1 1496.2,932.2 1496.8,932.3 1497.3,932.3 1497.8,932.4 1498.4,932.5 1498.9,932.6 1499.4,932.7 1500,932.7 1500.5,932.8 1501.1,932.9 1501.6,933 1502.1,933.1 1502.7,933.1 1503.2,933.2 1503.7,933.3 1504.3,933.4 1504.8,933.4 1505.4,933.5 1505.9,933.6 1506.4,933.7 1507,933.7 1507.5,933.8 1508,933.9 1508.6,934 1509.1,934 1509.7,934.1 1510.2,934.2 1510.7,934.3 1511.3,934.3 1511.8,934.4 1512.3,934.5 1512.9,934.5 1513.4,934.6 1514,934.7 1514.5,934.7 1515,934.8 1515.6,934.9 1516.1,934.9 1516.6,935 1517.2,935.1 1517.7,935.1 1518.3,935.2 1518.8,935.3 1519.3,935.3 1519.9,935.4 1520.4,935.4 1520.9,935.5 1521.5,935.6 1522,935.6 1522.6,935.7 1523.1,935.7 1523.6,935.8 1524.2,935.9 1524.7,935.9 1525.2,936 1525.8,936 1526.3,936.1 1526.9,936.1 1527.4,936.2 1527.9,936.2 1528.5,936.3 1529,936.3 1529.5,936.4 1530.1,936.4 1530.6,936.5 1531.2,936.5 1531.7,936.6 1532.2,936.6 1532.8,936.7 1533.3,936.7 1533.8,936.8 1534.4,936.8 1534.9,936.8 1535.5,936.9 1536,936.9 1536.5,937 1537.1,937 1537.6,937 1538.1,937.1 1538.7,937.1 1539.2,937.2 1539.8,937.2 1540.3,937.2 1540.8,937.3 1541.4,937.3 1541.9,937.3 1542.4,937.4 1543,937.4 1543.5,937.4 1544.1,937.5 1544.6,937.5 1545.1,937.5 1545.7,937.5 1546.2,937.6 1546.7,937.6 1547.3,937.6 1547.8,937.6 1548.4,937.7 1548.9,937.7 1549.4,937.7 1550,937.7 1550.5,937.8 1551,937.8 1551.6,937.8 1552.1,937.8 1552.7,937.8 1553.2,937.8 1553.7,937.9 1554.3,937.9 1554.8,937.9 1555.3,937.9 1555.9,937.9 1556.4,938 1557,938 1557.5,938 1558,938 1558.6,938 1559.1,938 1559.7,938 1560.2,938.1 1560.7,938.1 1561.3,938.1 1561.8,938.1 1562.3,938.1 1562.9,938.1 1563.4,938.1 1564,938.1 1564.5,938.2 1565,938.2 1565.6,938.2 1566.1,938.2 1566.6,938.2 1567.2,938.2 1567.7,938.2 1568.3,938.3 1568.8,938.3 1569.3,938.3 1569.9,938.3 1570.4,938.3 1570.9,938.3 1571.5,938.3 1572,938.4 1572.6,938.4 1573.1,938.4 1573.6,938.4 1574.2,938.4 1574.7,938.5 1575.2,938.5 1575.8,938.5 1576.3,938.5 1576.9,938.5 1577.4,938.6 1577.9,938.6 1578.5,938.6 1579,938.6 1579.5,938.7 1580.1,938.7 1580.6,938.7 1581.2,938.8 1581.7,938.8 1582.2,938.8 1582.8,938.9 1583.3,938.9 1583.8,938.9 1584.4,939 1584.9,939 1585.5,939 1586,939.1 1586.5,939.1 1587.1,939.2 1587.6,939.2 1588.1,939.3 1588.7,939.3 1589.2,939.3 1589.8,939.4 1590.3,939.4 1590.8,939.5 1591.4,939.6 1591.9,939.6 1592.4,939.7 1593,939.7 1593.5,939.8 1594.1,939.9 1594.6,939.9 1595.1,940 1595.7,940 1596.2,940.1 1596.7,940.2 1597.3,940.3 1597.8,940.3 1598.4,940.4 1598.9,940.5 1599.4,940.6 1600,940.6 1600.5,940.7 1601,940.8 1601.6,940.9 1602.1,941 1602.7,941.1 1603.2,941.2 1603.7,941.2 1604.3,941.3 1604.8,941.4 1605.3,941.5 1605.9,941.6 1606.4,941.7 1607,941.8 1607.5,941.9 1608,942 1608.6,942.1 1609.1,942.2 1609.6,942.4 1610.2,942.5 1610.7,942.6 1611.3,942.7 1611.8,942.8 1612.3,942.9 1612.9,943 1613.4,943.2 1613.9,943.3 1614.5,943.4 1615,943.5 1615.6,943.6 1616.1,943.8 1616.6,943.9 1617.2,944 1617.7,944.2 1618.2,944.3 1618.8,944.4 1619.3,944.6 1619.9,944.7 1620.4,944.8 1620.9,945 1621.5,945.1 1622,945.2 1622.5,945.4 1623.1,945.5 1623.6,945.6 1624.2,945.8 1624.7,945.9 1625.2,946.1 1625.8,946.2 1626.3,946.4 1626.8,946.5 1627.4,946.7 1627.9,946.8 1628.5,946.9 1629,947.1 1629.5,947.2 1630.1,947.4 1630.6,947.5 1631.1,947.7 1631.7,947.8 1632.2,948 1632.8,948.1 1633.3,948.3 1633.8,948.4 1634.4,948.6 1634.9,948.7 1635.5,948.9 1636,949 1636.5,949.2 1637.1,949.3 1637.6,949.5 1638.1,949.6 1638.7,949.8 1639.2,949.9 1639.8,950.1 1640.3,950.2 1640.8,950.4 1641.4,950.5 1641.9,950.7 1642.4,950.8 1643,951 1643.5,951.1 1644.1,951.3 1644.6,951.4 1645.1,951.6 1645.7,951.7 1646.2,951.9 1646.7,952 1647.3,952.2 1647.8,952.3 1648.4,952.4 1648.9,952.6 1649.4,952.7 1650,952.9 1650.5,953 1651,953.2 1651.6,953.3 1652.1,953.4 1652.7,953.6 1653.2,953.7 1653.7,953.9 1654.3,954 1654.8,954.1 1655.3,954.3 1655.9,954.4 1656.4,954.5 1657,954.7 1657.5,954.8 1658,954.9 1658.6,955.1 1659.1,955.2 1659.6,955.3 1660.2,955.4 1660.7,955.6 1661.3,955.7 1661.8,955.8 1662.3,955.9 1662.9,956.1 1663.4,956.2 1663.9,956.3 1664.5,956.4 1665,956.6 1665.6,956.7 1666.1,956.8 1666.6,956.9 1667.2,957 1667.7,957.1 1668.2,957.3 1668.8,957.4 1669.3,957.5 1669.9,957.6 1670.4,957.7 1670.9,957.8 1671.5,957.9 1672,958 1672.5,958.1 1673.1,958.2 1673.6,958.4 1674.2,958.5 1674.7,958.6 1675.2,958.7 1675.8,958.8 1676.3,958.9 1676.8,959 1677.4,959.1 1677.9,959.2 1678.5,959.3 1679,959.4 1679.5,959.5 1680.1,959.6 1680.6,959.7 1681.1,959.8 1681.7,959.9 1682.2,960 1682.8,960 1683.3,960.1 1683.8,960.2 1684.4,960.3 1684.9,960.4 1685.4,960.5 1686,960.6 1686.5,960.7 1687.1,960.8 1687.6,960.9 1688.1,961 1688.7,961 1689.2,961.1 1689.7,961.2 1690.3,961.3 1690.8,961.4 1691.4,961.5 1691.9,961.6 1692.4,961.6 1693,961.7 1693.5,961.8 1694,961.9 1694.6,962 1695.1,962 1695.7,962.1 1696.2,962.2 1696.7,962.3 1697.3,962.4 1697.8,962.4 1698.3,962.5 1698.9,962.6 1699.4,962.7 1700,962.8 1700.5,962.8 1701,962.9 1701.6,963 1702.1,963.1 1702.6,963.1 1703.2,963.2 1703.7,963.3 1704.3,963.4 1704.8,963.4 1705.3,963.5 1705.9,963.6 1706.4,963.6 1706.9,963.7 1707.5,963.8 1708,963.9 1708.6,963.9 1709.1,964 1709.6,964.1 1710.2,964.1 1710.7,964.2 1711.3,964.3 1711.8,964.3 1712.3,964.4 1712.9,964.5 1713.4,964.5 1713.9,964.6 1714.5,964.7 1715,964.7 1715.6,964.8 1716.1,964.8 1716.6,964.9 1717.2,965 1717.7,965 1718.2,965.1 1718.8,965.2 1719.3,965.2 1719.9,965.3 1720.4,965.3 1720.9,965.4 1721.5,965.4 1722,965.5 1722.5,965.5 1723.1,965.6 1723.6,965.7 1724.2,965.7 1724.7,965.8 1725.2,965.8 1725.8,965.9 1726.3,965.9 1726.8,966 1727.4,966 1727.9,966.1 1728.5,966.1 1729,966.1 1729.5,966.2 1730.1,966.2 1730.6,966.3 1731.1,966.3 1731.7,966.4 1732.2,966.4 1732.8,966.4 1733.3,966.5 1733.8,966.5 1734.4,966.6 1734.9,966.6 1735.4,966.6 1736,966.7 1736.5,966.7 1737.1,966.7 1737.6,966.8 1738.1,966.8 1738.7,966.8 1739.2,966.9 1739.7,966.9 1740.3,966.9 1740.8,967 1741.4,967 1741.9,967 1742.4,967 1743,967.1 1743.5,967.1 1744,967.1 1744.6,967.1 1745.1,967.2 1745.7,967.2 1746.2,967.2 1746.7,967.2 1747.3,967.2 1747.8,967.3 1748.3,967.3 1748.9,967.3 1749.4,967.3 1750,967.3 1750.5,967.4 1751,967.4 1751.6,967.4 1752.1,967.4 1752.6,967.4 1753.2,967.4 1753.7,967.5 1754.3,967.5 1754.8,967.5 1755.3,967.5 1755.9,967.5 1756.4,967.5 1756.9,967.5 1757.5,967.6 1758,967.6 1758.6,967.6 1759.1,967.6 1759.6,967.6 1760.2,967.6 1760.7,967.6 1761.2,967.7 1761.8,967.7 1762.3,967.7 1762.9,967.7 1763.4,967.7 1763.9,967.7 1764.5,967.7 1765,967.7 1765.5,967.8 1766.1,967.8 1766.6,967.8 1767.2,967.8 1767.7,967.8 1768.2,967.8 1768.8,967.9 1769.3,967.9 1769.8,967.9 1770.4,967.9 1770.9,967.9 1771.5,968 1772,968 1772.5,968 1773.1,968 1773.6,968 1774.1,968.1 1774.7,968.1 1775.2,968.1 1775.8,968.1 1776.3,968.2 1776.8,968.2 1777.4,968.2 1777.9,968.3 1778.4,968.3 1779,968.3 1779.5,968.4 1780.1,968.4 1780.6,968.4 1781.1,968.5 1781.7,968.5 1782.2,968.5 1782.7,968.6 1783.3,968.6 1783.8,968.7 1784.4,968.7 1784.9,968.8 1785.4,968.8 1786,968.9 1786.5,968.9 1787.1,969 1787.6,969 1788.1,969.1 1788.7,969.1 1789.2,969.2 1789.7,969.3 1790.3,969.3 1790.8,969.4 1791.4,969.4 1791.9,969.5 1792.4,969.6 1793,969.6 1793.5,969.7 1794,969.8 1794.6,969.9 1795.1,969.9 1795.7,970 1796.2,970.1 1796.7,970.2 1797.3,970.3 1797.8,970.3 1798.3,970.4 1798.9,970.5 1799.4,970.6 1800,970.7 1800.5,970.8 1801,970.9 1801.6,971 1802.1,971.1 1802.6,971.2 1803.2,971.3 1803.7,971.4 1804.3,971.5 1804.8,971.6 1805.3,971.7 1805.9,971.8 1806.4,971.9 1806.9,972 1807.5,972.1 1808,972.3 1808.6,972.4 1809.1,972.5 1809.6,972.6 1810.2,972.7 1810.7,972.9 1811.2,973 1811.8,973.1 1812.3,973.2 1812.9,973.3 1813.4,973.5 1813.9,973.6 1814.5,973.7 1815,973.9 1815.5,974 1816.1,974.1 1816.6,974.3 1817.2,974.4 1817.7,974.5 1818.2,974.7 1818.8,974.8 1819.3,975 1819.8,975.1 1820.4,975.2 1820.9,975.4 1821.5,975.5 1822,975.7 1822.5,975.8 1823.1,976 1823.6,976.1 1824.1,976.2 1824.7,976.4 1825.2,976.5 1825.8,976.7 1826.3,976.8 1826.8,977 1827.4,977.1 1827.9,977.3 1828.4,977.4 1829,977.6 1829.5,977.7 1830.1,977.9 1830.6,978 1831.1,978.2 1831.7,978.3 1832.2,978.5 1832.7,978.6 1833.3,978.8 1833.8,978.9 1834.4,979.1 1834.9,979.2 1835.4,979.4 1836,979.5 1836.5,979.7 1837,979.8 1837.6,980 1838.1,980.1 1838.7,980.3 1839.2,980.4 1839.7,980.6 1840.3,980.7 1840.8,980.9 1841.3,981 1841.9,981.2 1842.4,981.3 1843,981.5 1843.5,981.6 1844,981.8 1844.6,981.9 1845.1,982 1845.6,982.2 1846.2,982.3 1846.7,982.5 1847.3,982.6 1847.8,982.7 1848.3,982.9 1848.9,983 1849.4,983.2 1849.9,983.3 1850.5,983.4 1851,983.6 1851.6,983.7 1852.1,983.8 1852.6,984 1853.2,984.1 1853.7,984.2 1854.2,984.4 1854.8,984.5 1855.3,984.6 1855.9,984.8 1856.4,984.9 1856.9,985 1857.5,985.1 1858,985.3 1858.6,985.4 1859.1,985.5 1859.6,985.6 1860.2,985.8 1860.7,985.9 1861.2,986 1861.8,986.1 1862.3,986.2 1862.9,986.4 1863.4,986.5 1863.9,986.6 1864.5,986.7 1865,986.8 1865.5,986.9 1866.1,987 1866.6,987.2 1867.2,987.3 1867.7,987.4 1868.2,987.5 1868.8,987.6 1869.3,987.7 1869.8,987.8 1870.4,987.9 1870.9,988 1871.5,988.1 1872,988.2 1872.5,988.3 1873.1,988.4 1873.6,988.5 1874.1,988.6 1874.7,988.7 1875.2,988.8 1875.8,988.9 1876.3,989 1876.8,989.1 1877.4,989.2 1877.9,989.3 1878.4,989.4 1879,989.5 1879.5,989.6 1880.1,989.7 1880.6,989.8 1881.1,989.9 1881.7,990 1882.2,990.1 1882.7,990.1 1883.3,990.2 1883.8,990.3 1884.4,990.4 1884.9,990.5 1885.4,990.6 1886,990.7 1886.5,990.8 1887,990.8 1887.6,990.9 1888.1,991 1888.7,991.1 1889.2,991.2 1889.7,991.3 1890.3,991.3 1890.8,991.4 1891.3,991.5 1891.9,991.6 1892.4,991.7 1893,991.8 1893.5,991.8 1894,991.9 1894.6,992 1895.1,992.1 1895.6,992.1 1896.2,992.2 1896.7,992.3 1897.3,992.4 1897.8,992.4 1898.3,992.5 1898.9,992.6 1899.4,992.7 1899.9,992.7 1900.5,992.8 1901,992.9 1901.6,993 1902.1,993 1902.6,993.1 1903.2,1025.5 1903.7,1026.1 1904.2,1026.7 1904.8,1027.2 1905.3,1027.7 1905.9,1028.2 1906.4,1028.7 1906.9,1029.1 1907.5,1029.5 1908,1029.9 1908.5,1030.3 1909.1,1030.6 1909.6,1031 1910.2,1031.3 1910.7,1031.6 1911.2,1031.9 1911.8,1032.2 1912.3,1032.5 1912.8,1032.8 1913.4,1033.1 1913.9,1033.4 1914.5,1033.6 1915,1033.9 1915.5,1034.1 1916.1,1034.4 1916.6,1034.6 1917.1,1034.8 1917.7,1035 1918.2,1035.3 1918.8,1035.5 1919.3,1035.7 1919.8,1035.9 1920.4,1036.1 1920.9,1036.3 1921.4,1036.5 1922,1036.7 1922.5,1036.9 1923.1,1037 1923.6,1037.2 1924.1,1037.4 1924.7,1037.6 1925.2,1037.7 1925.7,1037.9 1926.3,1038.1 1926.8,1038.2 1927.4,1038.4 1927.9,1038.5 1928.4,1038.7 1929,1038.8 1929.5,1039 1930,1039.1 1930.6,1039.3 1931.1,1039.4 1931.7,1039.5 1932.2,1039.7 1932.7,1039.8 1933.3,1039.9 1933.8,1040.1 1934.4,1040.2 1934.9,1040.3 1935.4,1040.4 1936,1040.5 1936.5,1040.7 1937,1040.8 1937.6,1040.9 1938.1,1041 1938.7,1041.1 1939.2,1041.2 1939.7,1026.4 1940.3,1026.4 1940.8,1026.3 1941.3,1026.3 1941.9,1026.3 1942.4,1026.2 1943,1026.2 1943.5,1026.2 1944,1026.2 1944.6,1026.2 1945.1,1026.2 1945.6,1026.2 1946.2,1026.2 1946.7,1026.3 1947.3,1026.3 1947.8,1026.3 1948.3,1026.3 1948.9,1026.3 1949.4,1026.4 1949.9,1026.4 1950.5,1026.4 1951,1026.4 1951.6,1026.5 1952.1,1026.5 1952.6,1026.5 1953.2,1026.5 1953.7,1026.6 1954.2,1026.6 1954.8,1026.6 1955.3,1026.7 1955.9,1026.7 1956.4,1026.7 1956.9,1026.8 1957.5,1026.8 1958,1026.8 1958.5,1026.9 1959.1,1026.9 1959.6,1026.9 1960.2,1027 1960.7,1027 1961.2,1027 1961.8,1027.1 1962.3,1027.1 1962.8,1027.2 1963.4,1027.2 1963.9,1027.2 1964.5,1027.3 1965,1027.3 1965.5,1027.4 1966.1,1027.4 1966.6,1027.4 1967.1,1027.5 1967.7,1027.5 1968.2,1027.6 1968.8,1027.6 1969.3,1027.7 1969.8,1027.7 1970.4,1027.8 1970.9,1027.8 1971.4,1027.9 1972,1027.9 1972.5,1028 1973.1,1028 1973.6,1028.1 1974.1,1028.1 1974.7,1028.2 1975.2,1028.3 1975.7,1028.3 1976.3,1028.4 1976.8,1028.4 1977.4,1028.5 1977.9,1028.6 1978.4,1028.6 1979,1028.7 1979.5,1028.8 1980,1028.8 1980.6,1028.9 1981.1,1029 1981.7,1029.1 1982.2,1029.1 1982.7,1029.2 1983.3,1029.3 1983.8,1029.4 1984.3,1029.5 1984.9,1029.5 1985.4,1029.6 1986,1029.7 1986.5,1029.8 1987,1029.9 1987.6,1030 1988.1,1030.1 1988.6,1030.2 1989.2,1030.2 1989.7,1030.3 1990.3,1030.4 1990.8,1030.5 1991.3,1030.6 1991.9,1030.7 1992.4,1030.8 1992.9,1031 1993.5,1031.1 1994,1031.2 1994.6,1031.3 1995.1,1031.4 1995.6,1031.5 1996.2,1031.6 1996.7,1031.7 1997.2,1031.9 1997.8,1032 1998.3,1032.1 1998.9,1032.2 1999.4,1032.3 1999.9,1032.5 2000.5,1032.6 2001,1032.7 2001.5,1032.9 2002.1,1033 2002.6,1033.1 2003.2,1033.3 2003.7,1033.4 2004.2,1033.5 2004.8,1033.7 2005.3,1033.8 2005.8,1034 2006.4,1034.1 2006.9,1034.2 2007.5,1034.4 2008,1034.5 2008.5,1034.7 2009.1,1034.8 2009.6,1035 2010.2,1035.1 2010.7,1035.3 2011.2,1035.4 2011.8,1035.6 2012.3,1035.8 2012.8,1035.9 2013.4,1036.1 2013.9,1036.2 2014.5,1036.4 2015,1036.5 2015.5,1036.7 2016.1,1036.9 2016.6,1037 2017.1,1037.2 2017.7,1037.4 2018.2,1037.5 2018.8,1037.7 2019.3,1037.9 2019.8,1038 2020.4,1038.2 2020.9,1038.4 2021.4,1038.5 2022,1038.7 2022.5,1038.9 2023.1,1039 2023.6,1039.2 2024.1,1039.4 2024.7,1039.6 2025.2,1039.7 2025.7,1039.9 2026.3,1040.1 2026.8,1040.2 2027.4,1040.4 2027.9,1040.6 2028.4,1040.8 2029,1040.9 2029.5,1041.1 2030,1041.3 2030.6,1041.4 2031.1,1041.6 2031.7,1041.8 2032.2,1042 2032.7,1042.1 2033.3,1042.3 2033.8,1042.5 2034.3,1042.6 2034.9,1042.8 2035.4,1043 2036,1043.2 2036.5,1043.3 2037,1043.5 2037.6,1043.7 2038.1,1043.8 2038.6,1044 2039.2,1044.2 2039.7,1044.3 2040.3,1044.5 2040.8,1044.7 2041.3,1044.8 2041.9,1045 2042.4,1045.2 2042.9,1045.3 2043.5,1045.5 2044,1045.6 2044.6,1045.8 2045.1,1046 2045.6,1046.1 2046.2,1046.3 2046.7,1046.4 2047.2,1046.6 2047.8,1046.7 2048.3,1046.9 2048.9,1047.1 2049.4,1047.2 2049.9,1047.4 2050.5,1047.5 2051,1047.7 2051.5,1047.8 2052.1,1048 2052.6,1048.1 2053.2,1048.3 2053.7,1048.4 2054.2,1048.5 2054.8,1048.7 2055.3,1048.8 2055.8,1049 2056.4,1049.1 2056.9,1049.3 2057.5,1049.4 2058,1049.5 2058.5,1049.7 2059.1,1049.8 2059.6,1049.9 2060.1,1050.1 2060.7,1050.2 2061.2,1050.3 2061.8,1050.5 2062.3,1050.6 2062.8,1050.7 2063.4,1050.9 2063.9,1051 2064.4,1051.1 2065,1051.3 2065.5,1051.4 2066.1,1051.5 2066.6,1051.6 2067.1,1051.8 2067.7,1051.9 2068.2,1052 2068.7,1052.1 2069.3,1052.2 2069.8,1052.4 2070.4,1052.5 2070.9,1052.6 2071.4,1052.7 2072,1052.8 2072.5,1052.9 2073,1053.1 2073.6,1053.2 2074.1,1053.3 2074.7,1053.4 2075.2,1053.5 2075.7,1053.6 2076.3,1053.7 2076.8,1053.8 2077.3,1054 2077.9,1054.1 2078.4,1054.2 2079,1054.3 2079.5,1054.4 2080,1054.5 2080.6,1054.6 2081.1,1054.7 2081.6,1054.8 2082.2,1054.9 2082.7,1055 2083.3,1055.1 2083.8,1055.2 2084.3,1055.3 2084.9,1055.4 2085.4,1055.5 2086,1055.6 2086.5,1055.7 2087,1055.8 2087.6,1055.9 2088.1,1056 2088.6,1056.1 2089.2,1056.2 2089.7,1056.3 2090.3,1056.4 2090.8,1056.5 2091.3,1056.6 2091.9,1056.7 2092.4,1056.8 2092.9,1056.9 2093.5,1057 2094,1057.1 2094.6,1057.2 2095.1,1057.3 2095.6,1057.4 2096.2,1057.4 2096.7,1057.5 2097.2,1057.6 2097.8,1057.7 2098.3,1057.8 2098.9,1057.9 2099.4,1058 2099.9,1058.1 2100.5,1058.2 2101,1058.2 2101.5,1058.3 2102.1,1058.4 2102.6,1058.5 2103.2,1058.6 2103.7,1058.7 2104.2,1058.8 2104.8,1058.8 2105.3,1058.9 2105.8,1059 2106.4,1059.1 2106.9,1059.2 2107.5,1059.2 2108,1059.3 2108.5,1059.4 2109.1,1059.5 2109.6,1059.6 2110.1,1059.6 2110.7,1059.7 2111.2,1059.8 2111.8,1059.9 2112.3,1059.9 2112.8,1060 2113.4,1060.1 2113.9,1060.2 2114.4,1060.2 2115,1060.3 2115.5,1060.4 2116.1,1060.4 2116.6,1060.5 2117.1,1060.6 2117.7,1060.6 2118.2,1060.7 2118.7,1060.8 2119.3,1060.8 2119.8,1060.9 2120.4,1061 2120.9,1061 2121.4,1061.1 2122,1061.2 2122.5,1061.2 2123,1061.3 2123.6,1061.3 2124.1,1061.4 2124.7,1061.4 2125.2,1061.5 2125.7,1061.6 2126.3,1061.6 2126.8,1061.7 2127.3,1061.7 2127.9,1061.8 2128.4,1061.8 2129,1061.9 2129.5,1061.9 2130,1062 2130.6,1062 2131.1,1062.1 2131.6,1062.1 2132.2,1062.2 2132.7,1062.2 2133.3,1062.3 2133.8,1062.3 2134.3,1062.3 2134.9,1062.4 2135.4,1062.4 2135.9,1062.5 2136.5,1062.5 2137,1062.6 2137.6,1062.6 2138.1,1062.6 2138.6,1062.7 2139.2,1062.7 2139.7,1062.7 2140.2,1062.8 2140.8,1062.8 2141.3,1062.8 2141.9,1062.9 2142.4,1062.9 2142.9,1062.9 2143.5,1063 2144,1063 2144.5,1063 2145.1,1063.1 2145.6,1063.1 2146.2,1063.1 2146.7,1063.2 2147.2,1063.2 2147.8,1063.2 2148.3,1063.3 2148.8,1063.3 2149.4,1063.3 2149.9,1063.3 2150.5,1063.4 2151,1063.4 2151.5,1063.4 2152.1,1063.5 2152.6,1063.5 2153.1,1063.5 2153.7,1063.5 2154.2,1063.6 2154.8,1063.6 2155.3,1063.6 2155.8,1063.7 2156.4,1063.7 2156.9,1063.7 2157.4,1063.7 2158,1063.8 2158.5,1063.8 2159.1,1063.8 2159.6,1063.9 2160.1,1063.9 2160.7,1063.9 2161.2,1063.9 2161.8,1064 2162.3,1064 2162.8,1064 2163.4,1064.1 2163.9,1064.1 2164.4,1064.1 2165,1064.2 2165.5,1064.2 2166.1,1064.3 2166.6,1064.3 2167.1,1064.3 2167.7,1064.4 2168.2,1064.4 2168.7,1064.5 2169.3,1064.5 2169.8,1064.5 2170.4,1064.6 2170.9,1064.6 2171.4,1064.7 2172,1064.7 2172.5,1064.8 2173,1064.8 2173.6,1064.9 2174.1,1064.9 2174.7,1065 2175.2,1065 2175.7,1065.1 2176.3,1065.2 2176.8,1065.2 2177.3,1065.3 2177.9,1065.3 2178.4,1065.4 2179,1065.5 2179.5,1065.5 2180,1065.6 2180.6,1065.7 2181.1,1065.7 2181.6,1065.8 2182.2,1065.9 2182.7,1066 2183.3,1066 2183.8,1066.1 2184.3,1066.2 2184.9,1066.3 2185.4,1066.3 2185.9,1066.4 2186.5,1066.5 2187,1066.6 2187.6,1066.7 2188.1,1066.8 2188.6,1066.9 2189.2,1067 2189.7,1067.1 2190.2,1067.2 2190.8,1067.3 2191.3,1067.4 2191.9,1067.5 2192.4,1067.6 2192.9,1067.7 2193.5,1067.8 2194,1067.9 2194.5,1068 2195.1,1068.1 2195.6,1068.2 2196.2,1068.3 2196.7,1068.5 2197.2,1068.6 2197.8,1068.7 2198.3,1068.8 2198.8,1068.9 2199.4,1069.1 2199.9,1069.2 2200.5,1069.3 2201,1069.4 2201.5,1069.6 2202.1,1069.7 2202.6,1069.8 2203.1,1070 2203.7,1070.1 2204.2,1070.2 2204.8,1070.4 2205.3,1070.5 2205.8,1070.7 2206.4,1070.8 2206.9,1070.9 2207.4,1071.1 2208,1071.2 2208.5,1071.4 2209.1,1071.5 2209.6,1071.7 2210.1,1071.8 2210.7,1072 2211.2,1072.1 2211.7,1072.3 2212.3,1072.4 2212.8,1072.6 2213.4,1072.7 2213.9,1072.9 2214.4,1073.1 2215,1073.2 2215.5,1073.4 2216,1073.5 2216.6,1073.7 2217.1,1073.8 2217.7,1074 2218.2,1074.2 2218.7,1074.3 2219.3,1074.5 2219.8,1074.6 2220.3,1074.8 2220.9,1075 2221.4,1075.1 2222,1075.3 2222.5,1075.5 2223,1075.6 2223.6,1075.8 2224.1,1076 2224.6,1076.1 2225.2,1076.3 2225.7,1076.4 2226.3,1076.6 2226.8,1076.8 2227.3,1076.9 2227.9,1077.1 2228.4,1077.3 2228.9,1077.4 2229.5,1077.6 2230,1077.7 2230.6,1077.9 2231.1,1078.1 2231.6,1078.2 2232.2,1078.4 2232.7,1078.6 2233.2,1078.7 2233.8,1078.9 2234.3,1079 2234.9,1079.2 2235.4,1079.4 2235.9,1079.5 2236.5,1079.7 2237,1079.8 2237.6,1080 2238.1,1080.1 2238.6,1080.3 2239.2,1080.5 2239.7,1080.6 2240.2,1080.8 2240.8,1080.9 2241.3,1081.1 2241.9,1081.2 2242.4,1081.4 2242.9,1081.5 2243.5,1081.7 2244,1081.8 2244.5,1082 2245.1,1082.1 2245.6,1082.3 2246.2,1082.4 2246.7,1082.5 2247.2,1082.7 2247.8,1082.8 2248.3,1083 2248.8,1083.1 2249.4,1083.3 2249.9,1083.4 2250.5,1083.5 2251,1083.7 2251.5,1083.8 2252.1,1083.9 2252.6,1084.1 2253.1,1084.2 2253.7,1084.3 2254.2,1084.5 2254.8,1084.6 2255.3,1084.7 2255.8,1084.9 2256.4,1085" fill="none" stroke="#f00" stroke-width="8.9" stroke-linejoin="round" stroke-linecap="butt"/>
</g>
<g>
<text x="1260.9" y="1216.0" text-anchor="middle">a: 8.4/0.1 b: −1.3/0.0 c: −3.4/0.1 d: 3.2/0.1 e: 0.0/0.1 f: −1.2/0.1 g1: −2.2/0.9 k1: 5.4/0.6 g2: −4.0/0.6 k2: 0.2/0.4</text>
<path d="M170.20 1178.75H2330.10V1628.85H170.20ZM366.55 1628.85v-21.60M366.55 1178.75v21.60M562.91 1628.85v-21.60M562.91 1178.75v21.60M759.26 1628.85v-21.60M759.26 1178.75v21.60M955.62 1628.85v-21.60M955.62 1178.75v21.60M1151.97 1628.85v-21.60M1151.97 1178.75v21.60M1348.33 1628.85v-21.60M1348.33 1178.75v21.60M1544.68 1628.85v-21.60M1544.68 1178.75v21.60M1741.04 1628.85v-21.60M1741.04 1178.75v21.60M1937.39 1628.85v-21.60M1937.39 1178.75v21.60M2133.75 1628.85v-21.60M2133.75 1178.75v21.60M170.20 1291.28h21.60M2330.10 1291.28h-21.60M170.20 1403.80h21.60M2330.10 1403.80h-21.60M170.20 1516.32h21.60M2330.10 1516.32h-21.60" fill="none" stroke="#000" stroke-width="2.25" stroke-linejoin="round"/>
<text x="170.2" y="1679.3" text-anchor="middle">2004</text>
<text x="366.6" y="1679.3" text-anchor="middle">2005</text>
<text x="562.9" y="1679.3" text-anchor="middle">2006</text>
<text x="759.3" y="1679.3" text-anchor="middle">2007</text>
<text x="955.6" y="1679.3" text-anchor="middle">2008</text>
<text x="1152.0" y="1679.3" text-anchor="middle">2009</text>
<text x="1348.3" y="1679.3" text-anchor="middle">2010</text>
<text x="1544.7" y="1679.3" text-anchor="middle">2011</text>
<text x="1741.0" y="1679.3" text-anchor="middle">2012</text>
<text x="1937.4" y="1679.3" text-anchor="middle">2013</text>
<text x="2133.7" y="1679.3" text-anchor="middle">2014</text>
<text x="2330.1" y="1679.3" text-anchor="middle">2015</text>
<text x="158.0" y="1194.2" text-anchor="end">40</text>
<text x="158.0" y="1306.8" text-anchor="end">20</text>
<text x="158.0" y="1419.3" text-anchor="end">0</text>
<text x="158.0" y="1531.8" text-anchor="end">−20</text>
<text x="158.0" y="1644.3" text-anchor="end">−40</text>
<text transform="translate(59.0 1402.3) rotate(-90)" text-anchor="middle">U Disp. (mm)</text>
<defs><polyline id="d2" points="342,1395.5 342.5,1399.7 343.1,1408.8 343.6,1388.3 344.2,1350.6 344.7,1342.1 345.2,1369.7 345.8,1354.9 346.3,1352 346.8,1334 347.4,1394.1 347.9,1395.6 348.5,1356.8 349,1417.1 349.5,1410.9 350.1,1361 350.6,1365.6 351.1,1385.6 351.7,1413.5 352.2,1412.4 352.8,1396 353.3,1388.4 353.8,1390.9 354.4,1385.6 354.9,1352.7 355.4,1368.1 356,1347.9 356.5,1365 357.1,1373.3 357.6,1379.5 358.1,1343.3 358.7,1354.7 359.2,1417.8 359.8,1390.2 360.3,1361.7 360.8,1380.8 361.4,1407.9 361.9,1391.3 362.4,1336.5 363,1347.5 363.5,1392.4 364.1,1347 364.6,1393 365.1,1400.7 365.7,1376.2 366.2,1343 366.7,1359.7 367.3,1379.6 367.8,1369.5 368.4,1362.9 368.9,1361.1 369.4,1401 370,1348.8 370.5,1365.2 371,1373.7 371.6,1392.5 372.1,1354.6 372.7,1365.3 373.2,1392.2 373.7,1385.8 374.3,1361 374.8,1379.5 375.3,1383.5 375.9,1375.3 376.4,1365.2 377,1381 377.5,1393.2 378,1393.7 378.6,1407.6 379.1,1333.5 379.6,1388.3 380.2,1393.9 380.7,1394.8 381.3,1401.6 381.8,1374.2 382.3,1380.5 382.9,1379.1 383.4,1358.9 383.9,1365.9 384.5,1370.7 385,1366 385.6,1368.2 386.1,1354.6 386.6,1371 387.2,1352.6 387.7,1381.3 388.2,1361 388.8,1355.7 389.3,1361.3 389.9,1373.1 390.4,1345.9 390.9,1336.8 391.5,1374.7 392,1370.7 392.5,1341.5 393.1,1360.7 393.6,1375.7 394.2,1352.9 394.7,1371.8 395.2,1360.1 395.8,1355.6 396.3,1352.9 396.8,1365.9 397.4,1389.3 397.9,1339.9 398.5,1398.9 399,1342.9 399.5,1351.1 400.1,1346.8 400.6,1374.7 401.1,1351.3 401.7,1399 402.2,1349 402.8,1360.1 403.3,1369 403.8,1343 404.4,1372.2 404.9,1355.4 405.4,1340.2 406,1394.7 406.5,1346 407.1,1378.3 407.6,1353.5 408.1,1357 408.7,1384.2 409.2,1355.8 409.7,1387.9 410.3,1339.2 410.8,1374.9 411.4,1352.4 411.9,1375.9 412.4,1343.7 413,1366.3 413.5,1384.3 414,1370.1 414.6,1362.4 415.1,1354.3 415.7,1398.6 416.2,1365.2 416.7,1372.7 417.3,1379.9 417.8,1392.8 418.3,1401.5 418.9,1387.7 419.4,1407.4 420,1410.9 420.5,1380.4 421,1407.7 421.6,1389.4 422.1,1411.9 422.6,1419 423.2,1358.9 423.7,1379.8 424.3,1350.3 424.8,1358.2 425.3,1361.1 425.9,1354.2 426.4,1393.5 426.9,1383.9 427.5,1394.8 428,1343.4 428.6,1380.4 429.1,1365.3 429.6,1381.1 430.2,1370.5 430.7,1401.5 431.3,1367.2 431.8,1403.3 432.3,1344.1 432.9,1402 433.4,1397.5 433.9,1348.9 434.5,1389.5 435,1402.1 435.6,1381.6 436.1,1393 436.6,1392.3 437.2,1373.3 437.7,1369.7 438.2,1373.5 438.8,1353.4 439.3,1379 439.9,1414.3 440.4,1413.6 440.9,1394.2 441.5,1351.9 442,1372.7 442.5,1356 443.1,1371.9 443.6,1389 444.2,1402.9 444.7,1371.7 445.2,1372.8 445.8,1395.7 446.3,1374.7 446.8,1342.6 447.4,1379.4 447.9,1352.2 448.5,1362.8 449,1378.9 449.5,1395.9 450.1,1379 450.6,1405.7 451.1,1382.8 451.7,1346.4 452.2,1406.7 452.8,1387.3 453.3,1391.3 453.8,1400.2 454.4,1386 454.9,1398.3 455.4,1401 456,1376.2 456.5,1379.5 457.1,1396.1 457.6,1368.9 458.1,1379.8 458.7,1350.8 459.2,1372.6 459.7,1350.6 460.3,1367.3 460.8,1368.1 461.4,1393.6 461.9,1374.9 462.4,1374.7 463,1354.9 463.5,1358.9 533.9,1380.1 534.5,1365 535,1383.6 535.5,1382.4 536.1,1354 536.6,1379.5 537.2,1356.5 537.7,1356.2 538.2,1352.8 538.8,1348.7 539.3,1386.7 539.8,1336.9 540.4,1330.4 540.9,1337.8 541.5,1369 542,1355.2 542.5,1340.6 543.1,1349.2 543.6,1358.5 544.1,1370.6 544.7,1383 545.2,1339.4 545.8,1369.5 546.3,1353.9 546.8,1358.1 547.4,1354.1 547.9,1366.4 548.4,1367.8 549,1346.2 549.5,1367.5 550.1,1362 550.6,1341.8 551.1,1372.3 551.7,1341 552.2,1357.9 552.7,1339.6 553.3,1350 553.8,1346.4 554.4,1367.2 554.9,1351.8 555.4,1367.1 556,1362.8 556.5,1338.9 557,1377.8 557.6,1367.8 558.1,1376.9 558.7,1381.2 559.2,1360.7 559.7,1364.3 560.3,1363 560.8,1370.5 561.3,1380.2 561.9,1356.6 562.4,1354.7 563,1338.3 563.5,1378 564,1375.8 564.6,1359.2 565.1,1371.6 565.6,1357.7 566.2,1367.8 566.7,1346.3 567.3,1341.5 567.8,1363.6 568.3,1340.6 568.9,1371.7 569.4,1342 569.9,1364.7 570.5,1366.4 571,1370.1 571.6,1380 572.1,1383.1 572.6,1361.7 573.2,1352.4 573.7,1359.9 574.2,1370.5 574.8,1344.3 575.3,1368.7 575.9,1382.2 576.4,1376.2 576.9,1374.3 577.5,1356.7 578,1345.7 578.5,1347.2 579.1,1350.3 579.6,1353.3 580.2,1361.8 580.7,1375.4 581.2,1349.3 581.8,1347.9 582.3,1379.1 582.9,1352.7 583.4,1353.3 583.9,1367.7 584.5,1357.4 585,1377.2 585.5,1357.3 586.1,1362.4 586.6,1366.1 587.2,1363.7 587.7,1359.9 588.2,1358.8 588.8,1368.7 589.3,1353 589.8,1391.8 590.4,1372.6 590.9,1369.2 591.5,1392.7 592,1364.2 592.5,1363.5 593.1,1383.3 593.6,1368.7 594.1,1380.2 594.7,1379.1 595.2,1385.8 595.8,1374.7 596.3,1396.3 596.8,1369.2 597.4,1375.7 597.9,1376.2 598.4,1374.7 599,1387.7 599.5,1363.1 600.1,1391.2 600.6,1346.7 601.1,1369.7 601.7,1345 602.2,1379.5 602.7,1376.1 603.3,1367.5 603.8,1385.1 604.4,1396.1 604.9,1375.9 605.4,1391.8 606,1373.8 606.5,1375.9 607,1387.3 607.6,1377.8 608.1,1371 608.7,1373.6 609.2,1378.6 609.7,1378.6 610.3,1360 610.8,1361.4 611.3,1371.5 611.9,1358.9 612.4,1388.8 613,1385.8 613.5,1375.9 614,1356 614.6,1367.5 615.1,1356.4 615.6,1405.2 616.2,1393.6 616.7,1377.9 617.3,1375.3 617.8,1392.6 618.3,1387.4 618.9,1407.1 619.4,1342.8 619.9,1394.8 620.5,1358.9 621,1385.8 621.6,1359.2 622.1,1362.3 622.6,1364.2 623.2,1369.2 623.7,1378.1 624.2,1390.2 624.8,1369.2 625.3,1356 625.9,1361.6 626.4,1399.8 626.9,1380.2 627.5,1342.2 628,1377 628.5,1383.4 629.1,1343.9 629.6,1383.4 630.2,1370.2 630.7,1371.3 631.2,1357.2 631.8,1371.6 632.3,1376.8 632.8,1380.5 633.4,1336.4 633.9,1374.7 634.5,1402.2 635,1379.5 635.5,1363.8 636.1,1361 636.6,1374.7 637.1,1339.1 637.7,1334.3 638.2,1368.1 638.8,1367.7 639.3,1349 639.8,1396.6 640.4,1372.8 640.9,1385.2 641.4,1364.7 642,1365.2 642.5,1348.8 643.1,1391.9 643.6,1338.5 644.1,1351.1 644.7,1372.7 645.2,1358.4 645.7,1366.2 646.3,1364.7 646.8,1364 647.4,1343 647.9,1372 648.4,1358.8 649,1353.5 649.5,1362 650,1381 650.6,1363.3 651.1,1336.6 651.7,1343.1 652.2,1367.7 652.7,1356.8 653.3,1386.7 653.8,1397.1 654.3,1387.1 654.9,1385.9 655.4,1379.5 656,1376.9 656.5,1393.4 657,1350.5 657.6,1361.2 658.1,1374.2 658.7,1372 659.2,1384 659.7,1329.2 660.3,1346.2 660.8,1357.9 661.3,1355.9 661.9,1347.3 662.4,1340.5 663,1359.6 663.5,1366.9 664,1353.7 664.6,1351.8 665.1,1366.6 665.6,1346 666.2,1337.5 666.7,1371.7 667.3,1374.5 667.8,1346.9 668.3,1337.8 668.9,1347.5 669.4,1374.7 669.9,1364 670.5,1345.4 671,1321.5 671.6,1332.5 672.1,1373.9 672.6,1342.2 673.2,1359.1 673.7,1331.3 674.2,1377.2 674.8,1371.4 675.3,1381.6 675.9,1348.1 676.4,1352.4 676.9,1337.7 677.5,1367.5 678,1363 678.5,1347.8 679.1,1380.8 679.6,1315.5 680.2,1316.8 680.7,1382.3 681.2,1325 681.8,1341 682.3,1312.5 682.8,1330.5 683.4,1326.4 683.9,1352.3 684.5,1353.6 685,1325.9 685.5,1345.8 686.1,1349.7 686.6,1344 687.1,1344.2 687.7,1336.9 688.2,1313.6 688.8,1303.1 689.3,1318.4 689.8,1333.6 690.4,1351.3 690.9,1321.9 691.4,1316.1 692,1306.7 692.5,1317.4 693.1,1357.3 693.6,1303.6 694.1,1332.2 694.7,1348.1 695.2,1350.1 695.7,1335.5 696.3,1303.5 696.8,1342.5 697.4,1339.1 697.9,1321.5 698.4,1366.6 699,1313.7 699.5,1335.9 700,1310.6 700.6,1312.3 701.1,1316.9 701.7,1324.6 702.2,1320 702.7,1338.3 703.3,1345.5 703.8,1318.7 704.3,1300.2 704.9,1372.4 705.4,1319.6 706,1355.3 706.5,1299.3 707,1331.2 707.6,1368.6 708.1,1317.8 708.6,1327.7 709.2,1355.3 709.7,1319.8 710.3,1301.7 710.8,1338.5 711.3,1321.6 711.9,1357.2 712.4,1330.9 712.9,1304.8 713.5,1330.6 714,1352.7 714.6,1345 715.1,1329.8 715.6,1345.7 716.2,1314.3 716.7,1364.6 717.2,1355 717.8,1379.4 718.3,1369 718.9,1342.2 719.4,1382.3 719.9,1359.1 720.5,1355.4 721,1348.3 721.5,1364.2 722.1,1363.2 722.6,1352.2 723.2,1339.1 723.7,1378.9 724.2,1378.7 724.8,1389.8 725.3,1358.1 725.8,1349.8 726.4,1328 726.9,1379.8 727.5,1348.9 728,1324.9 728.5,1347.1 729.1,1371.3 729.6,1351.6 730.1,1347.5 730.7,1368.4 731.2,1351.7 731.8,1368.7 732.3,1358.1 732.8,1326.8 733.4,1319.6 733.9,1350.8 734.5,1376.4 735,1332.5 735.5,1348.1 736.1,1352.1 736.6,1325.6 737.1,1343.3 737.7,1340.7 738.2,1366.7 738.8,1349.2 739.3,1365.2 739.8,1376.8 740.4,1365.3 740.9,1361.3 741.4,1372.7 742,1358.6 742.5,1381.3 743.1,1380.3 743.6,1369.4 744.1,1345 744.7,1370.5 745.2,1382.5 745.7,1400.3 746.3,1365.6 746.8,1350 747.4,1356.4 747.9,1368.4 748.4,1405.6 749,1346.2 749.5,1408.8 750,1397.3 750.6,1356.7 751.1,1415.4 751.7,1339 752.2,1365.5 752.7,1377.7 753.3,1334.2 753.8,1391.9 754.3,1383 754.9,1364.1 755.4,1380 756,1376.3 756.5,1378 757,1363.6 757.6,1346.7 758.1,1404.9 758.6,1384.1 759.2,1384.7 759.7,1409.3 760.3,1381.1 760.8,1394.2 761.3,1386.6 761.9,1363.6 762.4,1360.5 762.9,1374.6 763.5,1373.6 764,1376.5 764.6,1386.9 765.1,1406.9 765.6,1407.1 766.2,1360.9 766.7,1428.1 767.2,1397.3 767.8,1361.6 768.3,1413.3 768.9,1344.1 769.4,1408.1 769.9,1395.8 770.5,1421.7 771,1384.2 771.5,1371.7 772.1,1387.2 772.6,1407.2 773.2,1393.8 773.7,1395.4 774.2,1375.8 774.8,1348.7 775.3,1428.6 775.8,1403.5 776.4,1374.1 776.9,1397.8 777.5,1415.6 778,1391.6 778.5,1393.4 779.1,1382.8 779.6,1405.4 780.1,1390.3 780.7,1428.1 781.2,1428.3 781.8,1400.6 782.3,1395.2 782.8,1388.1 783.4,1425.6 783.9,1442.9 784.4,1400.1 785,1408.1 785.5,1422.2 786.1,1386.3 786.6,1389.9 787.1,1431.7 787.7,1402.3 788.2,1419.7 788.7,1404 789.3,1373.4 789.8,1430.4 790.4,1398.5 790.9,1380.8 791.4,1432 792,1393.9 792.5,1408.3 793,1409.7 793.6,1391.7 794.1,1455.6 794.7,1416.1 795.2,1441.5 795.7,1397.7 796.3,1400 796.8,1421.9 797.3,1412 797.9,1445.8 798.4,1424.8 799,1421.6 799.5,1456.6 800,1415.3 800.6,1398.5 801.1,1455.8 801.6,1425.5 802.2,1428.5 802.7,1385.7 803.3,1442.9 803.8,1410.9 804.3,1373.5 804.9,1408.4 805.4,1401.4 805.9,1448.4 806.5,1394.9 807,1440 807.6,1449.8 808.1,1417.8 808.6,1392.8 809.2,1379.7 809.7,1402.2 810.3,1392.2 810.8,1402.8 811.3,1396.9 811.9,1387.4 812.4,1430.4 812.9,1384.3 813.5,1382.2 814,1387.8 814.6,1422.7 815.1,1416.3 815.6,1431 816.2,1425.7 816.7,1399.3 817.2,1380.1 817.8,1419.4 818.3,1379.1 818.9,1427 819.4,1396.5 819.9,1416.7 820.5,1429.3 821,1407.7 821.5,1438.6 822.1,1400.2 822.6,1417 823.2,1417 823.7,1437.3 824.2,1431.3 824.8,1443.9 825.3,1418.9 825.8,1440.9 826.4,1422.4 826.9,1408.7 827.5,1414.7 828,1406.7 828.5,1431.1 829.1,1381.4 829.6,1418.5 830.1,1397.7 830.7,1454.5 831.2,1385 831.8,1414.5 832.3,1400.5 832.8,1409.3 833.4,1391.4 833.9,1426.9 834.4,1425.9 835,1407.2 835.5,1433.2 836.1,1410.6 836.6,1449.3 837.1,1412.7 837.7,1409 838.2,1446.6 838.7,1417.6 839.3,1398.3 839.8,1422.2 840.4,1373.5 840.9,1393.9 841.4,1446.8 842,1436.3 842.5,1424.6 843,1414.8 843.6,1390 844.1,1383.6 844.7,1392.5 845.2,1385.8 845.7,1390.4 846.3,1378.5 846.8,1373.1 847.3,1431.3 847.9,1367.3 848.4,1422.8 849,1401.3 849.5,1364.2 850,1409 850.6,1423.2 851.1,1369.9 851.6,1360 852.2,1396.9 852.7,1365.7 853.3,1386 853.8,1374.5 854.3,1382.2 854.9,1418.1 855.4,1390.3 855.9,1380.4 856.5,1402.4 857,1376.8 857.6,1368.5 858.1,1405.5 858.6,1392.7 859.2,1362.2 859.7,1345.3 860.2,1365.2 860.8,1378.7 861.3,1366 861.9,1393.3 862.4,1406.9 862.9,1404.7 863.5,1413.1 864,1379.3 864.5,1368.7 865.1,1409.8 865.6,1342.1 866.2,1410.9 866.7,1403.2 867.2,1392.9 867.8,1365.3 868.3,1386.3 868.8,1358.8 869.4,1376.4 869.9,1402.8 870.5,1363 871,1385.6 871.5,1383.9 872.1,1366.2 872.6,1397 873.1,1385.2 873.7,1392.2 874.2,1381 874.8,1382.9 875.3,1391.1 875.8,1366.5 876.4,1360.6 876.9,1378.7 877.4,1371.1 878,1385.4 878.5,1381.5 879.1,1387.2 879.6,1355.1 880.1,1363.5 880.7,1344.5 881.2,1380.5 881.8,1338.9 882.3,1361.4 882.8,1374.6 883.4,1382 883.9,1341.6 884.4,1332.9 885,1333.3 885.5,1365.3 886.1,1358.6 886.6,1320.4 887.1,1356.9 887.7,1337.5 888.2,1346.2 888.7,1376.7 889.3,1330.3 889.8,1334.3 890.4,1348.1 890.9,1354.3 891.4,1348.7 892,1338.2 892.5,1373 893,1307.1 893.6,1319.9 894.1,1372.4 894.7,1363.2 895.2,1331.5 895.7,1346.6 896.3,1338 896.8,1323.8 897.3,1308 897.9,1344.5 898.4,1319.3 899,1317.3 899.5,1370.5 900,1361.2 900.6,1369 901.1,1360.2 901.6,1351.9 902.2,1365.2 902.7,1373.3 903.3,1371.8 903.8,1336.8 904.3,1353.2 904.9,1337 905.4,1371.4 905.9,1387.8 906.5,1376.4 907,1357.1 907.6,1312 908.1,1340.7 908.6,1373.2 909.2,1333.7 909.7,1344.4 910.2,1395.7 910.8,1331.9 911.3,1333.2 911.9,1371.1 912.4,1347.2 912.9,1405.1 913.5,1364.1 914,1369.3 914.5,1352.3 915.1,1359 915.6,1361 916.2,1372.9 916.7,1339.7 917.2,1387.1 917.8,1361.5 918.3,1343.2 918.8,1378.1 919.4,1379.8 919.9,1350.3 920.5,1371 921,1326.4 921.5,1361.4 922.1,1358.1 922.6,1343.1 923.1,1327 923.7,1356.6 924.2,1362.6 924.8,1360.3 925.3,1376.5 925.8,1372 926.4,1355.4 926.9,1374.1 927.4,1389.5 928,1367.2 928.5,1354.4 929.1,1350.1 929.6,1354.1 930.1,1351.4 930.7,1390.7 931.2,1397 931.7,1373.9 932.3,1396.1 932.8,1387.8 933.4,1361.8 933.9,1340.4 934.4,1377.2 935,1387.4 935.5,1393.8 936,1379.4 936.6,1389.1 937.1,1438.3 937.7,1339.8 938.2,1370.6 938.7,1384.2 939.3,1359.3 939.8,1363.6 940.3,1360.1 940.9,1366.8 941.4,1408.1 942,1419.9 942.5,1361.7 943,1385.9 943.6,1385.4 944.1,1430.5 944.6,1403.1 945.2,1440.9 945.7,1418 946.3,1355.3 946.8,1376.5 947.3,1426.6 947.9,1397.3 948.4,1398.3 948.9,1419.9 949.5,1380.1 950,1376.3 950.6,1370.9 951.1,1409.2 951.6,1397.3 952.2,1401.9 952.7,1351.8 953.2,1376.4 953.8,1346.5 954.3,1401.6 954.9,1384.7 955.4,1377.9 955.9,1367.4 956.5,1404.7 957,1370.8 957.6,1381.5 958.1,1355.2 958.6,1450.9 959.2,1406.6 959.7,1363.9 960.2,1431.6 960.8,1351.1 961.3,1429.7 961.9,1436.7 962.4,1441.5 962.9,1409 963.5,1364.1 964,1432.7 964.5,1427.7 965.1,1416.6 965.6,1411.6 966.2,1397.9 966.7,1447 967.2,1383.4 967.8,1432.4 968.3,1367.9 968.8,1388.2 969.4,1354.4 969.9,1366.5 970.5,1362.9 971,1346.7 971.5,1405.2 972.1,1419.5 972.6,1391.9 973.1,1364.9 973.7,1446.1 974.2,1399.8 974.8,1401.5 975.3,1402.4 975.8,1441.6 976.4,1390.6 976.9,1413.1 977.4,1385.5 978,1389.1 978.5,1408 979.1,1397.3 979.6,1434 980.1,1423.3 980.7,1445.3 981.2,1449 981.7,1380.4 982.3,1403.4 982.8,1427.9 983.4,1434.7 983.9,1419 984.4,1437.7 985,1438.4 985.5,1435.5 986,1449.7 986.6,1408.2 987.1,1424.9 987.7,1398.6 988.2,1436.5 988.7,1390.8 989.3,1396.4 989.8,1430.5 990.3,1426.9 990.9,1394.4 991.4,1431.8 992,1446.8 992.5,1424.3 993,1390.2 993.6,1417.1 994.1,1380.2 994.6,1391.3 995.2,1435.6 995.7,1432.4 996.3,1405.9 996.8,1430.4 997.3,1428.1 997.9,1396.9 998.4,1447.9 998.9,1401.8 999.5,1404.4 1000,1402.8 1000.6,1437.7 1001.1,1412.8 1001.6,1401.5 1002.2,1423.4 1002.7,1403 1003.2,1380.3 1003.8,1447.6 1004.3,1406.3 1004.9,1399.9 1005.4,1424.5 1005.9,1384.8 1006.5,1396.4 1007,1449.3 1007.5,1398.3 1008.1,1384.9 1008.6,1398.2 1009.2,1386 1009.7,1410.6 1010.2,1401 1010.8,1426.6 1011.3,1446.4 1011.8,1410.4 1012.4,1409.7 1012.9,1444.2 1013.5,1413.9 1014,1443.8 1014.5,1429.4 1015.1,1425.5 1015.6,1400.4 1016.1,1416 1016.7,1415 1017.2,1390.7 1017.8,1400.6 1018.3,1399.2 1018.8,1421.6 1019.4,1388.9 1019.9,1408.4 1020.4,1397.2 1021,1392.4 1021.5,1405.3 1022.1,1414.4 1022.6,1390.4 1023.1,1381.1 1023.7,1392.4 1024.2,1385.6 1024.7,1407.6 1025.3,1404.1 1025.8,1416.8 1026.4,1432.9 1026.9,1418.6 1027.4,1404.9 1028,1420.6 1028.5,1428.8 1029,1425 1029.6,1375.6 1030.1,1413.7 1030.7,1414.4 1031.2,1423 1031.7,1429.6 1032.3,1384 1032.8,1382.1 1033.4,1395 1033.9,1390.7 1034.4,1399.7 1035,1405.6 1035.5,1371.7 1036,1412 1036.6,1384.9 1037.1,1399 1037.7,1424 1038.2,1410.4 1038.7,1413.9 1039.3,1425.3 1039.8,1410.4 1040.3,1406.2 1040.9,1390 1041.4,1397.3 1042,1408.4 1042.5,1396.2 1043,1412.1 1043.6,1405.2 1044.1,1425.6 1044.6,1369 1045.2,1399.3 1045.7,1364.2 1046.3,1370.4 1046.8,1410.1 1047.3,1414.5 1047.9,1402.8 1048.4,1412.6 1048.9,1404 1049.5,1383.5 1050,1410.2 1050.6,1369.8 1051.1,1368.7 1051.6,1413.9 1052.2,1375.4 1052.7,1362.4 1053.2,1371.2 1053.8,1385.1 1054.3,1395 1054.9,1406 1055.4,1395.3 1055.9,1415.9 1056.5,1351.6 1057,1410.1 1057.5,1416.9 1058.1,1385.1 1058.6,1414.1 1059.2,1386.8 1059.7,1413.9 1060.2,1407.2 1060.8,1384.6 1061.3,1388.1 1061.8,1391.9 1062.4,1384.3 1062.9,1382.8 1063.5,1393 1064,1343.2 1064.5,1382.2 1065.1,1366.1 1065.6,1395.2 1066.1,1377.7 1066.7,1400.5 1067.2,1382.5 1067.8,1379.7 1068.3,1401 1068.8,1399.1 1069.4,1361.8 1069.9,1352.6 1070.4,1358.1 1071,1359 1071.5,1350 1072.1,1388.2 1072.6,1382.1 1073.1,1366.7 1073.7,1392.5 1074.2,1394.8 1074.7,1400.1 1075.3,1392.4 1075.8,1343 1076.4,1372.7 1076.9,1325.3 1077.4,1373.6 1078,1371.2 1078.5,1384.4 1079,1359.5 1079.6,1346.6 1080.1,1337.9 1080.7,1358.1 1081.2,1350.1 1081.7,1330 1082.3,1352.4 1082.8,1348 1083.3,1397.2 1083.9,1378.8 1084.4,1394 1085,1360.1 1085.5,1396.5 1086,1382.7 1086.6,1372.9 1087.1,1347.5 1087.6,1385.7 1088.2,1380.1 1088.7,1340.3 1089.3,1375.6 1089.8,1392.4 1090.3,1385.4 1090.9,1383 1091.4,1359.9 1091.9,1370.3 1092.5,1367 1093,1349.3 1093.6,1383.5 1094.1,1368.6 1094.6,1346.7 1095.2,1355.4 1095.7,1350.1 1096.2,1331.6 1096.8,1323.5 1097.3,1332.8 1097.9,1323.1 1098.4,1324.7 1098.9,1353.8 1099.5,1354 1100,1367.3 1100.5,1357.1 1101.1,1355.5 1101.6,1349.3 1102.2,1361.7 1102.7,1399.6 1103.2,1380.5 1103.8,1359.8 1104.3,1398.2 1104.8,1378.5 1105.4,1362.7 1105.9,1341.1 1106.5,1337.4 1107,1394.5 1107.5,1373.9 1108.1,1328.3 1108.6,1350.3 1109.2,1331.9 1109.7,1361 1110.2,1386.3 1110.8,1366.6 1111.3,1342.2 1111.8,1348 1112.4,1369.2 1112.9,1377.8 1113.5,1358.1 1114,1377.5 1114.5,1382 1115.1,1365.1 1115.6,1326.6 1116.1,1384.6 1116.7,1360.1 1117.2,1407.6 1117.8,1397.4 1118.3,1401.3 1118.8,1384 1119.4,1360.2 1119.9,1349.2 1120.4,1372.4 1121,1333.3 1121.5,1399.9 1122.1,1398.8 1122.6,1363.6 1123.1,1418.4 1123.7,1386.4 1124.2,1408.2 1124.7,1384.8 1125.3,1402.1 1125.8,1376.7 1126.4,1326.3 1126.9,1363.7 1127.4,1337.2 1128,1343.6 1128.5,1350.7 1129,1394.3 1129.6,1354 1130.1,1370 1130.7,1353.4 1131.2,1351.5 1131.7,1371.7 1132.3,1333.8 1132.8,1363.1 1133.3,1347 1133.9,1352.7 1134.4,1344.6 1135,1331.8 1135.5,1389.7 1136,1368.3 1136.6,1385.6 1137.1,1378.4 1137.6,1408.4 1138.2,1421.7 1138.7,1407.8 1139.3,1388.7 1139.8,1365.9 1140.3,1378.7 1140.9,1380.7 1141.4,1410.7 1141.9,1352.8 1142.5,1332.5 1143,1370.5 1143.6,1347 1144.1,1349.5 1144.6,1349.2 1145.2,1341.4 1145.7,1346 1146.2,1355 1146.8,1381.1 1147.3,1349.8 1147.9,1372.4 1148.4,1441 1148.9,1389.8 1149.5,1394.6 1150,1389.1 1150.5,1400.2 1151.1,1428.2 1151.6,1369 1152.2,1397.5 1152.7,1404.6 1153.2,1442.7 1153.8,1419.7 1154.3,1394.9 1154.8,1365 1155.4,1426.4 1155.9,1434 1156.5,1385.8 1157,1423.2 1157.5,1346.6 1158.1,1385.1 1158.6,1435.8 1159.1,1406.7 1159.7,1388.2 1160.2,1406.5 1160.8,1424.1 1161.3,1419.8 1161.8,1398.2 1162.4,1408.8 1162.9,1419.7 1163.4,1371 1164,1402.3 1164.5,1404 1165.1,1430.2 1165.6,1375.4 1166.1,1409.5 1166.7,1420.8 1167.2,1430.5 1167.7,1418 1168.3,1357.4 1168.8,1383.6 1169.4,1365.5 1169.9,1402.7 1170.4,1370.5 1171,1434.7 1171.5,1410.4 1172,1446.1 1172.6,1402.5 1173.1,1447 1173.7,1439.8 1174.2,1384.4 1174.7,1390.6 1175.3,1437.3 1175.8,1381.8 1176.3,1422.4 1176.9,1431.5 1177.4,1381.2 1178,1395.2 1178.5,1414 1179,1432.2 1179.6,1443.6 1180.1,1406.7 1180.6,1396.8 1181.2,1396.6 1181.7,1420.8 1182.3,1444.7 1182.8,1399.9 1183.3,1390.9 1183.9,1410.4 1184.4,1417.7 1185,1443.2 1185.5,1430.1 1186,1438.4 1186.6,1423.2 1187.1,1405 1187.6,1447.8 1188.2,1436.5 1188.7,1415.1 1189.3,1394.6 1189.8,1386.4 1190.3,1419.8 1190.9,1404.7 1191.4,1402.9 1191.9,1400.3 1192.5,1435.9 1193,1422.9 1193.6,1410.4 1194.1,1407.6 1194.6,1422.8 1195.2,1419 1195.7,1411 1196.2,1437.6 1196.8,1425 1197.3,1377 1197.9,1400.1 1198.4,1415.8 1198.9,1423 1199.5,1415.8 1200,1409.1 1200.5,1408.4 1201.1,1447.7 1201.6,1412.7 1202.2,1422.8 1202.7,1432.2 1203.2,1429.7 1203.8,1407.4 1204.3,1443.1 1204.8,1449.2 1205.4,1413.7 1205.9,1413.9 1206.5,1434 1207,1458.9 1207.5,1425.7 1208.1,1447.7 1208.6,1455.9 1209.1,1420.4 1209.7,1438.9 1210.2,1390.7 1210.8,1454.9 1211.3,1455.3 1211.8,1435.6 1212.4,1436.7 1212.9,1410.1 1213.4,1409.5 1214,1417.9 1214.5,1456.5 1215.1,1435.6 1215.6,1444.8 1216.1,1415 1216.7,1435.4 1217.2,1446.6 1217.7,1443.7 1218.3,1427.4 1218.8,1400.6 1281.7,1327.8 1282.3,1368.7 1282.8,1357.4 1283.3,1383.8 1283.9,1337.8 1284.4,1347.2 1284.9,1346.6 1285.5,1399.3 1286,1313.3 1286.6,1339.9 1287.1,1318 1287.6,1335.2 1288.2,1348.3 1288.7,1382.6 1289.2,1333.8 1289.8,1360.9 1290.3,1332.2 1290.9,1377.3 1291.4,1313.3 1291.9,1360.9 1292.5,1351 1293,1407.7 1293.5,1362.8 1294.1,1349.2 1294.6,1341.7 1295.2,1352.6 1295.7,1368 1296.2,1353.3 1296.8,1385.7 1297.3,1344.9 1297.8,1409.9 1298.4,1313.5 1298.9,1336.4 1299.5,1356.2 1300,1359 1300.5,1391.1 1301.1,1350.7 1301.6,1339.8 1302.1,1376.3 1302.7,1337.4 1303.2,1370.5 1303.8,1382.4 1304.3,1377.6 1304.8,1413 1305.4,1378.9 1305.9,1408 1306.4,1400.8 1307,1406.4 1307.5,1423.9 1308.1,1372.1 1308.6,1328 1309.1,1426.6 1309.7,1376.5 1310.2,1382.6 1310.7,1361.9 1311.3,1355.7 1311.8,1371.4 1312.4,1389.9 1312.9,1378.5 1313.4,1394.9 1314,1388.6 1314.5,1363.6 1315,1369.7 1315.6,1421.3 1316.1,1380.4 1316.7,1398.2 1317.2,1423.1 1317.7,1395 1318.3,1399.6 1318.8,1335.2 1319.3,1350.8 1319.9,1387.3 1320.4,1393.7 1321,1424 1321.5,1363.3 1322,1386 1322.6,1406.4 1323.1,1361.5 1323.6,1347 1324.2,1399.7 1324.7,1375.5 1325.3,1421.3 1325.8,1365.7 1326.3,1420.6 1326.9,1419.9 1327.4,1360.4 1327.9,1392 1328.5,1427.1 1329,1410.4 1329.6,1389.5 1330.1,1358.7 1330.6,1364.4 1331.2,1371 1331.7,1384.2 1332.2,1402.3 1332.8,1410.3 1333.3,1358.7 1333.9,1395.5 1334.4,1380.8 1334.9,1391.2 1335.5,1331.6 1336,1338.8 1336.6,1394.7 1337.1,1384.7 1337.6,1386.8 1338.2,1423.5 1338.7,1367.5 1339.2,1338 1339.8,1366.8 1340.3,1426.2 1340.9,1384 1341.4,1416.2 1341.9,1399.9 1342.5,1373.1 1343,1361.2 1343.5,1374.3 1344.1,1371.8 1344.6,1354.3 1345.2,1384.6 1345.7,1401.8 1346.2,1373.4 1346.8,1350.7 1347.3,1414.4 1347.8,1396.2 1348.4,1361.3 1348.9,1392.6 1349.5,1431.4 1350,1402 1350.5,1362.1 1351.1,1416.1 1351.6,1393.5 1352.1,1388.8 1352.7,1393.2 1353.2,1416.5 1353.8,1415.7 1354.3,1420.2 1354.8,1402.1 1355.4,1429.3 1355.9,1343.5 1356.4,1353.3 1357,1364.1 1357.5,1375.1 1358.1,1383.8 1358.6,1352.7 1359.1,1378.3 1359.7,1400.1 1360.2,1379.1 1360.7,1373.3 1361.3,1381.6 1361.8,1394 1362.4,1357.1 1362.9,1386.6 1363.4,1362.1 1364,1380.3 1364.5,1361.6 1365,1374.6 1365.6,1390.3 1366.1,1358.7 1366.7,1361.7 1367.2,1371.6 1367.7,1357.4 1368.3,1378.1 1368.8,1363.3 1369.3,1418.5 1369.9,1348.9 1370.4,1345.9 1371,1373.9 1371.5,1375.8 1372,1355.6 1372.6,1369.4 1373.1,1402.7 1373.6,1385.6 1374.2,1393.8 1374.7,1372.6 1375.3,1370.3 1375.8,1425.6 1376.3,1382.6 1376.9,1359.3 1377.4,1415.6 1377.9,1404.3 1378.5,1389.8 1379,1369.9 1379.6,1424.9 1380.1,1379.9 1380.6,1372.1 1381.2,1417.4 1381.7,1413.9 1382.2,1372.5 1382.8,1369.5 1383.3,1422.3 1383.9,1396.1 1384.4,1420.3 1384.9,1374.4 1385.5,1374.5 1386,1385.6 1386.5,1434.5 1387.1,1380.8 1387.6,1373.9 1388.2,1358 1388.7,1435.7 1389.2,1361.6 1389.8,1393.8 1390.3,1400.5 1390.8,1360.3 1391.4,1356.3 1391.9,1380.9 1392.5,1402.8 1393,1393.3 1393.5,1372.8 1394.1,1413.1 1394.6,1374.9 1395.1,1429.2 1395.7,1444.8 1396.2,1386.2 1396.8,1428.5 1397.3,1425 1397.8,1406.7 1398.4,1442.9 1398.9,1399.7 1399.4,1428.3 1400,1438.6 1400.5,1444.7 1401.1,1376.1 1401.6,1438.9 1402.1,1437.8 1402.7,1412 1403.2,1408.6 1403.7,1412.8 1404.3,1394.4 1404.8,1395.1 1405.4,1417.4 1405.9,1414.3 1406.4,1394.9 1407,1436.7 1407.5,1398.4 1408.1,1415.1 1408.6,1415.6 1409.1,1399.9 1409.7,1370 1410.2,1427.9 1410.7,1437 1411.3,1407.1 1411.8,1387.8 1412.4,1377.1 1412.9,1432 1413.4,1415.4 1414,1446.3 1414.5,1416.2 1415,1446.8 1415.6,1404.5 1416.1,1389.7 1416.7,1395.2 1417.2,1419.6 1417.7,1402.9 1418.3,1380.6 1418.8,1441.2 1419.3,1389.5 1419.9,1427.8 1420.4,1377.3 1421,1410.7 1421.5,1411.4 1422,1416.2 1422.6,1386.5 1423.1,1361.2 1423.6,1403.1 1424.2,1415.1 1424.7,1399.3 1425.3,1407.4 1425.8,1391.1 1426.3,1388.7 1426.9,1431.3 1427.4,1441.6 1427.9,1400.7 1428.5,1409.6 1429,1376.9 1429.6,1401.2 1430.1,1388.3 1430.6,1416.9 1431.2,1417.2 1431.7,1395.3 1432.2,1435.3 1432.8,1412.1 1433.3,1432.8 1433.9,1413.5 1434.4,1412.8 1434.9,1355.6 1435.5,1375 1436,1392.5 1436.5,1384 1437.1,1422.9 1437.6,1401.2 1438.2,1374.9 1438.7,1366 1439.2,1388.9 1439.8,1357.4 1440.3,1400 1440.8,1394.3 1441.4,1417.5 1441.9,1368.3 1442.5,1425.9 1443,1387.8 1443.5,1374.1 1444.1,1365.2 1444.6,1358.8 1445.1,1372.8 1445.7,1353 1446.2,1345.8 1446.8,1344.5 1447.3,1374.3 1447.8,1373.6 1448.4,1407.1 1448.9,1365.1 1449.4,1346.6 1450,1364 1450.5,1374.4 1451.1,1356.4 1451.6,1382.9 1452.1,1376.7 1452.7,1381.8 1453.2,1348.6 1453.7,1341.6 1454.3,1335.9 1454.8,1335.2 1455.4,1379.3 1455.9,1339.8 1456.4,1390.1 1457,1376.6 1457.5,1338.4 1458,1339.5 1458.6,1381.4 1459.1,1390.3 1459.7,1397.7 1460.2,1366.8 1460.7,1377.9 1461.3,1338.8 1461.8,1352.3 1462.3,1376 1462.9,1356.7 1463.4,1343.3 1464,1328.4 1464.5,1391.3 1465,1364.7 1465.6,1394.3 1466.1,1372.9 1466.6,1339.3 1467.2,1339 1467.7,1335.1 1468.3,1365.3 1468.8,1346.4 1469.3,1352.3 1469.9,1345.8 1470.4,1319.7 1470.9,1362 1471.5,1353.8 1472,1373.6 1472.6,1353.4 1473.1,1369.1 1473.6,1342.9 1474.2,1393 1474.7,1338.3 1475.2,1381.7 1475.8,1386.1 1476.3,1400.1 1476.9,1367.6 1477.4,1390.3 1477.9,1375.8 1478.5,1328.8 1479,1391.6 1479.5,1357.5 1480.1,1402.7 1480.6,1330.8 1481.2,1367.9 1481.7,1353.5 1482.2,1331.9 1482.8,1392.2 1483.3,1362.5 1483.9,1387.7 1484.4,1319.7 1484.9,1388.2 1485.5,1342 1486,1364 1486.5,1362 1487.1,1363.1 1487.6,1309 1488.2,1360.4 1488.7,1359.4 1489.2,1346.8 1489.8,1360.6 1490.3,1310.9 1490.8,1367 1491.4,1365.7 1491.9,1314.4 1492.5,1354 1493,1321.1 1493.5,1356.6 1494.1,1325.2 1494.6,1418.5 1495.1,1365.1 1495.7,1315.9 1496.2,1406.4 1496.8,1408.3 1497.3,1394.7 1497.8,1380.3 1498.4,1376.5 1498.9,1360.8 1499.4,1383.9 1500,1388.8 1500.5,1372.7 1501.1,1382.8 1501.6,1354 1502.1,1329.8 1502.7,1392.8 1503.2,1383.6 1503.7,1348.4 1504.3,1387.9 1504.8,1403.5 1505.4,1403.4 1505.9,1397 1506.4,1415.3 1507,1406.5 1507.5,1339.6 1508,1410.4 1508.6,1381.7 1509.1,1391.9 1509.7,1403.4 1510.2,1402.1 1510.7,1403 1511.3,1392 1511.8,1352 1512.3,1405.1 1512.9,1410.5 1513.4,1375.2 1514,1363.8 1514.5,1384.7 1515,1387.1 1515.6,1424.6 1516.1,1376.8 1516.6,1412.1 1517.2,1416.4 1517.7,1409.2 1518.3,1373.9 1518.8,1384 1519.3,1363.2 1519.9,1350.3 1520.4,1402.9 1520.9,1346.6 1521.5,1361.9 1522,1356.1 1522.6,1396.4 1523.1,1397.9 1523.6,1417.7 1524.2,1417.9 1524.7,1367.2 1525.2,1361.6 1525.8,1391.4 1526.3,1419.4 1526.9,1414.8 1527.4,1367.5 1527.9,1387.7 1528.5,1367.6 1529,1423.8 1529.5,1392.6 1530.1,1397.2 1530.6,1386.8 1531.2,1363.7 1531.7,1370.2 1532.2,1435.5 1532.8,1357.8 1533.3,1360 1533.8,1424.4 1534.4,1387.3 1534.9,1404.4 1535.5,1422.2 1536,1418.3 1536.5,1410.7 1537.1,1397.7 1537.6,1420.2 1538.1,1393.6 1538.7,1411 1539.2,1401.7 1539.8,1392.9 1540.3,1351.7 1540.8,1415 1541.4,1388.5 1541.9,1420 1542.4,1357.2 1543,1412.6 1543.5,1391.3 1544.1,1381.6 1544.6,1403 1545.1,1384.3 1545.7,1377.9 1546.2,1394.8 1546.7,1380.2 1547.3,1422.4 1547.8,1400.3 1548.4,1417.7 1548.9,1406 1549.4,1392.3 1550,1374.6 1550.5,1399.8 1551,1428.4 1551.6,1407.3 1552.1,1417.1 1552.7,1408.4 1553.2,1418.7 1553.7,1358 1554.3,1418.1 1554.8,1435.7 1555.3,1396.2 1555.9,1426.1 1556.4,1391.3 1557,1405.6 1557.5,1436.6 1558,1389.2 1558.6,1434.5 1559.1,1389.3 1559.7,1424.4 1560.2,1414.6 1560.7,1437.6 1561.3,1432.1 1561.8,1384.9 1562.3,1402.2 1562.9,1414.1 1563.4,1389 1564,1404.8 1564.5,1403.6 1565,1365 1565.6,1408.6 1566.1,1386.1 1566.6,1385.2 1567.2,1405.6 1567.7,1425.6 1568.3,1381.5 1568.8,1419.2 1569.3,1404.7 1569.9,1398.4 1570.4,1372.1 1570.9,1425.5 1571.5,1398.6 1572,1392 1572.6,1390.4 1573.1,1378.2 1573.6,1418.1 1574.2,1371.2 1574.7,1404.8 1575.2,1409.2 1575.8,1414.1 1576.3,1404.5 1576.9,1413.1 1577.4,1447.4 1577.9,1453.8 1578.5,1401.6 1579,1400.3 1579.5,1410.6 1580.1,1409.3 1580.6,1430.5 1581.2,1368.5 1581.7,1381 1582.2,1400 1582.8,1424.9 1583.3,1417 1583.8,1407.1 1584.4,1400.2 1584.9,1388 1585.5,1394.1 1586,1403.8 1586.5,1405.1 1587.1,1405.8 1587.6,1372.6 1588.1,1380.1 1588.7,1407.5 1589.2,1405.3 1589.8,1424.5 1590.3,1398 1590.8,1397.4 1591.4,1422 1591.9,1404 1592.4,1426.8 1593,1389.9 1593.5,1396.8 1594.1,1410.3 1594.6,1381.3 1595.1,1396.3 1595.7,1442.1 1596.2,1388.2 1596.7,1424.4 1597.3,1401.9 1597.8,1445 1598.4,1431.6 1598.9,1388.8 1599.4,1428.1 1600,1430.5 1600.5,1450.1 1601,1390.9 1601.6,1455.4 1602.1,1391.2 1602.7,1430.3 1603.2,1399.8 1603.7,1449 1604.3,1414.9 1604.8,1422.3 1605.3,1426.6 1605.9,1407.1 1606.4,1420.2 1607,1411.5 1607.5,1442 1608,1402.8 1608.6,1446.8 1609.1,1388.9 1609.6,1397.7 1610.2,1421.2 1610.7,1419.3 1611.3,1438.8 1611.8,1405.9 1612.3,1423.5 1612.9,1432.1 1613.4,1417.1 1613.9,1395.3 1614.5,1428.5 1615,1384.8 1615.6,1413.4 1616.1,1373.3 1616.6,1383.9 1617.2,1389.5 1617.7,1390.9 1618.2,1434.7 1618.8,1404.4 1619.3,1411.9 1619.9,1413.7 1620.4,1427 1620.9,1441.3 1621.5,1408.3 1622,1409.8 1622.5,1431.4 1623.1,1427.9 1623.6,1414.2 1624.2,1420.4 1624.7,1384.3 1625.2,1418 1625.8,1438.6 1626.3,1393.8 1626.8,1385.5 1627.4,1385.9 1627.9,1385.2 1628.5,1413.9 1629,1400 1629.5,1394.2 1630.1,1428.6 1630.6,1391.5 1631.1,1370.8 1631.7,1394.2 1632.2,1394.5 1632.8,1382.7 1633.3,1406.9 1633.8,1368.9 1634.4,1379.5 1634.9,1393.1 1635.5,1402.2 1636,1362.6 1636.5,1388.4 1637.1,1380.3 1637.6,1370.8 1638.1,1395.3 1638.7,1421 1639.2,1428.3 1639.8,1417.6 1640.3,1425.9 1640.8,1413.8 1641.4,1388.2 1641.9,1392.6 1642.4,1383.2 1643,1398.1 1643.5,1417.1 1644.1,1419.4 1644.6,1376.7 1645.1,1390.4 1645.7,1372.5 1646.2,1374 1646.7,1434.2 1647.3,1385.7 1647.8,1360 1648.4,1367 1648.9,1353.7 1649.4,1408.5 1650,1398.6 1650.5,1425.1 1651,1418 1651.6,1391.9 1652.1,1370.7 1652.7,1360.3 1653.2,1410.2 1653.7,1363.3 1654.3,1374.4 1654.8,1367.3 1655.3,1373.7 1655.9,1366.3 1656.4,1347.9 1657,1355.1 1657.5,1418.7 1658,1370.6 1658.6,1365.4 1659.1,1376.4 1659.6,1393.8 1660.2,1356 1660.7,1403.8 1661.3,1401.1 1661.8,1410.9 1662.3,1376.3 1662.9,1398.5 1663.4,1423.8 1663.9,1386.2 1664.5,1349.1 1665,1400.6 1665.6,1373.2 1666.1,1384.7 1666.6,1376.1 1667.2,1342.8 1667.7,1363.2 1668.2,1388.2 1668.8,1346.6 1669.3,1378.6 1669.9,1398.2 1670.4,1383.7 1670.9,1391.3 1671.5,1371 1672,1367.3 1672.5,1346.3 1673.1,1398.2 1673.6,1366.2 1674.2,1374.9 1674.7,1375.2 1675.2,1404.8 1675.8,1354.1 1676.3,1362.5 1676.8,1337.4 1677.4,1355.3 1677.9,1405.6 1678.5,1381.1 1679,1339 1679.5,1364 1680.1,1389.8 1680.6,1385.1 1681.1,1378.1 1681.7,1406.8 1682.2,1378.8 1682.8,1376.6 1683.3,1392.2 1683.8,1395.4 1684.4,1362.9 1684.9,1392.5 1685.4,1422.7 1686,1329.9 1686.5,1342 1687.1,1392.3 1687.6,1428.3 1688.1,1390.3 1688.7,1398.6 1689.2,1403.5 1689.7,1429 1690.3,1388.1 1690.8,1381.2 1691.4,1378.8 1691.9,1387.1 1692.4,1368.1 1693,1348.7 1693.5,1360.6 1694,1393.5 1694.6,1343.7 1695.1,1384.6 1695.7,1400.6 1696.2,1405.6 1696.7,1343.6 1697.3,1341.6 1697.8,1352.8 1698.3,1347.9 1698.9,1348 1699.4,1357.3 1700,1345.5 1700.5,1428.8 1701,1396.5 1701.6,1340.8 1702.1,1387.5 1702.6,1409.9 1703.2,1391.7 1703.7,1405.5 1704.3,1375.1 1704.8,1419.2 1705.3,1417.9 1705.9,1402.4 1706.4,1390.5 1706.9,1419.5 1707.5,1358.1 1708,1407.1 1708.6,1419.7 1709.1,1396.7 1709.6,1400.7 1710.2,1354.3 1710.7,1432.9 1711.3,1421.6 1711.8,1415.7 1712.3,1359.1 1712.9,1345.3 1713.4,1417.3 1713.9,1376.5 1714.5,1379.6 1715,1410.3 1715.6,1440.3 1716.1,1416.5 1716.6,1412 1717.2,1380.9 1717.7,1394.3 1718.2,1388.9 1718.8,1402.2 1719.3,1389.8 1719.9,1360.9 1720.4,1388.1 1720.9,1405.5 1721.5,1410 1722,1434.4 1722.5,1428.3 1723.1,1400.9 1723.6,1431.6 1724.2,1450.4 1724.7,1395.6 1725.2,1398.9 1725.8,1439.8 1726.3,1409.2 1726.8,1419.3 1727.4,1416.1 1727.9,1418.5 1728.5,1422.1 1729,1423.6 1729.5,1440.4 1730.1,1444.7 1730.6,1452 1731.1,1461 1731.7,1451.8 1732.2,1448.7 1732.8,1464.4 1733.3,1433.9 1733.8,1422.4 1734.4,1363.6 1734.9,1395.3 1735.4,1408.9 1736,1458.9 1736.5,1432.3 1737.1,1404.9 1737.6,1421.9 1738.1,1454 1738.7,1449.1 1739.2,1390.6 1739.7,1444.4 1740.3,1390.4 1740.8,1425.5 1741.4,1461.1 1741.9,1428.7 1742.4,1440.4 1743,1421 1743.5,1432.3 1744,1437.3 1744.6,1424.8 1745.1,1419 1745.7,1373.9 1746.2,1417.7 1746.7,1400.4 1747.3,1411.5 1747.8,1426.2 1748.3,1447.1 1748.9,1404.4 1749.4,1459.7 1750,1399.6 1750.5,1397.8 1751,1418.6 1751.6,1427.5 1752.1,1414.3 1752.6,1477.2 1753.2,1407.2 1753.7,1436.2 1754.3,1417.7 1754.8,1424.8 1755.3,1408.6 1755.9,1384.9 1756.4,1430.2 1756.9,1423.5 1757.5,1424.5 1758,1419.4 1758.6,1387.6 1759.1,1428.5 1759.6,1404 1760.2,1410.1 1760.7,1395.4 1761.2,1424.6 1761.8,1419.7 1762.3,1423.7 1762.9,1408.8 1763.4,1468.8 1763.9,1448.5 1764.5,1451.7 1765,1403.1 1765.5,1465.3 1766.1,1442.2 1766.6,1458.1 1767.2,1407 1767.7,1420.3 1768.2,1481.9 1768.8,1442.9 1769.3,1476.7 1769.8,1466.1 1770.4,1476.3 1770.9,1416.5 1771.5,1460.3 1772,1479.5 1772.5,1482.3 1773.1,1443.7 1773.6,1422.9 1774.1,1480 1774.7,1460.8 1775.2,1465.4 1775.8,1429 1776.3,1470.3 1776.8,1468.2 1777.4,1461.9 1777.9,1451.6 1778.4,1462.8 1779,1452.4 1779.5,1476.8 1780.1,1468.5 1780.6,1465.1 1781.1,1494 1781.7,1448.4 1782.2,1423.4 1782.7,1472.6 1783.3,1466.1 1783.8,1406.7 1784.4,1500.1 1784.9,1464.6 1785.4,1448.2 1786,1460.6 1786.5,1438.7 1787.1,1446.8 1787.6,1466.4 1788.1,1434.7 1788.7,1468 1789.2,1470.4 1789.7,1432.7 1790.3,1429.5 1790.8,1440.7 1791.4,1459.2 1791.9,1420.4 1792.4,1428.4 1793,1437.2 1793.5,1434.7 1794,1419.8 1794.6,1444.4 1795.1,1454.5 1795.7,1411.4 1796.2,1447.2 1796.7,1471.9 1797.3,1469.6 1797.8,1454 1798.3,1456 1798.9,1438.4 1799.4,1482.5 1800,1428.9 1800.5,1435 1801,1446.7 1801.6,1461.9 1802.1,1473.4 1802.6,1443.3 1803.2,1491.7 1803.7,1491.7 1804.3,1499.1 1804.8,1500.2 1805.3,1495.1 1805.9,1492.4 1806.4,1432.2 1806.9,1496.4 1807.5,1475.6 1808,1445.8 1808.6,1413.5 1809.1,1475 1809.6,1434.8 1810.2,1440.5 1810.7,1456.2 1811.2,1478.1 1811.8,1428.6 1812.3,1464.6 1812.9,1468 1813.4,1443.5 1813.9,1450.1 1814.5,1411.5 1815,1430.8 1815.5,1407 1816.1,1470.1 1816.6,1452.4 1817.2,1469.1 1817.7,1445.2 1818.2,1442.2 1818.8,1433.9 1819.3,1488.6 1819.8,1478.4 1820.4,1451.9 1820.9,1456.6 1821.5,1439 1822,1479.6 1822.5,1451.1 1823.1,1452.4 1823.6,1458.4 1824.1,1485.6 1824.7,1448.3 1825.2,1440.6 1825.8,1417.9 1826.3,1437.1 1826.8,1466.4 1827.4,1477.5 1827.9,1463 1828.4,1439.1 1829,1413.5 1829.5,1431 1830.1,1397.6 1830.6,1405.1 1831.1,1402.6 1831.7,1391.5 1832.2,1451.7 1832.7,1389.2 1833.3,1432.6 1833.8,1399.7 1834.4,1404.8 1834.9,1403.1 1835.4,1443.3 1836,1400.5 1836.5,1427.1 1837,1463.5 1837.6,1388.1 1838.1,1452.6 1838.7,1455.5 1839.2,1461.7 1839.7,1427.5 1840.3,1413.7 1840.8,1399.3 1841.3,1392.4 1841.9,1405.7 1842.4,1397.9 1843,1445.3 1843.5,1398.9 1844,1449.3 1844.6,1421.5 1845.1,1423 1845.6,1442.7 1846.2,1421.2 1846.7,1403.3 1847.3,1364.6 1847.8,1401 1848.3,1362.6 1848.9,1412.8 1849.4,1407 1849.9,1390.6 1850.5,1383.5 1851,1381.8 1851.6,1429.8 1852.1,1405 1852.6,1389.2 1853.2,1430.9 1853.7,1393.4 1854.2,1435.7 1854.8,1373 1855.3,1391.1 1855.9,1370.9 1856.4,1388.5 1856.9,1399.3 1857.5,1371.8 1858,1378.8 1858.6,1395.9 1859.1,1388.2 1859.6,1366.9 1860.2,1386.1 1860.7,1386.6 1861.2,1412.9 1861.8,1393.3 1862.3,1369.6 1862.9,1417.1 1863.4,1361.7 1863.9,1380.1 1864.5,1360 1865,1360.1 1865.5,1412.4 1866.1,1392.7 1866.6,1402.5 1867.2,1431.8 1867.7,1355.8 1868.2,1423.5 1868.8,1402.2 1869.3,1346 1869.8,1393.1 1870.4,1416.7 1870.9,1382.4 1871.5,1374.6 1872,1366.9 1872.5,1377.9 1873.1,1383.8 1873.6,1379.6 1874.1,1391.2 1874.7,1344.9 1875.2,1353.8 1875.8,1420.7 1876.3,1416.5 1876.8,1356.4 1877.4,1354.2 1877.9,1364 1878.4,1382.9 1879,1371.6 1879.5,1368.1 1880.1,1367.7 1880.6,1399.2 1881.1,1368.7 1881.7,1361 1882.2,1375.7 1882.7,1362 1883.3,1388.7 1883.8,1350 1884.4,1351 1884.9,1360.8 1885.4,1387 1886,1385.7 1886.5,1365.9 1887,1416.6 1887.6,1378.9 1888.1,1348.7 1888.7,1380.6 1889.2,1392.9 1889.7,1394 1890.3,1406.9 1890.8,1400.4 1891.3,1407.3 1891.9,1405.4 1892.4,1392.8 1893,1373.2 1893.5,1402 1894,1412 1894.6,1370.1 1895.1,1396.7 1895.6,1379.9 1896.2,1378.3 1896.7,1414.1 1897.3,1398.8 1897.8,1399.4 1898.3,1356.3 1898.9,1358.3 1899.4,1401.4 1899.9,1410.4 1900.5,1373.1 1901,1435.9 1901.6,1376.8 1902.1,1394.4 1902.6,1414.4 1903.2,1374.3 1903.7,1407.9 1904.2,1425.9 1904.8,1436.2 1905.3,1414.3 1905.9,1377.9 1906.4,1396.3 1906.9,1375.8 1907.5,1392.8 1908,1390.9 1908.5,1414.2 1909.1,1366.7 1909.6,1392.9 1910.2,1365.8 1910.7,1356 1911.2,1362.4 1911.8,1369.6 1912.3,1401.3 1912.8,1398.7 1913.4,1391.6 1913.9,1390.8 1914.5,1399.1 1915,1389.9 1915.5,1392.9 1916.1,1369.3 1916.6,1371.2 1917.1,1356.2 1917.7,1357.9 1918.2,1356.6 1918.8,1358.6 1919.3,1403.9 1919.8,1361.1 1920.4,1384.6 1920.9,1344.4 1921.4,1376.1 1922,1392 1922.5,1370.4 1923.1,1384.1 1923.6,1371.7 1924.1,1383.5 1924.7,1383.2 1925.2,1399.7 1925.7,1395.5 1926.3,1354.9 1926.8,1393.6 1927.4,1398.9 1927.9,1404.1 1928.4,1386 1929,1366.1 1929.5,1363.1 1930,1387.9 1930.6,1370.4 1931.1,1365.8 1931.7,1343.8 1932.2,1341 1932.7,1342.8 1933.3,1338.9 1933.8,1390.7 1934.4,1361.6 1934.9,1336 1935.4,1358.1 1936,1380.7 1936.5,1346.5 1937,1356.8 1937.6,1341.1 1938.1,1409.7 1938.7,1402.9 1939.2,1353.2 1939.7,1397.1 1940.3,1391.3 1940.8,1360.7 1941.3,1397.5 1941.9,1416.2 1942.4,1356.7 1943,1375.7 1943.5,1364.1 1944,1362.7 1944.6,1363.5 1945.1,1364.4 1945.6,1365.1 1946.2,1389.5 1946.7,1351.6 1947.3,1397 1947.8,1392.6 1948.3,1414.4 1948.9,1350.5 1949.4,1388.2 1949.9,1384.2 1950.5,1372.3 1951,1393.2 1951.6,1363.4 1952.1,1397.6 1952.6,1353.4 1953.2,1380.9 1953.7,1395.8 1954.2,1397.6 1954.8,1422.6 1955.3,1414.3 1955.9,1369.8 1956.4,1385.4 1956.9,1416.1 1957.5,1420.5 1958,1435.1 1958.5,1410.7 1959.1,1414.6 1959.6,1419.5 1960.2,1362.5 1960.7,1397.4 1961.2,1366.5 1961.8,1399.9 1962.3,1421.8 1962.8,1390.9 1963.4,1394.8 1963.9,1396.8 1964.5,1419.1 1965,1389.5 1965.5,1401.6 1966.1,1424.8 1966.6,1407.2 1967.1,1409.5 1967.7,1369.9 1968.2,1413.3 1968.8,1412.4 1969.3,1383.6 1969.8,1373.2 1970.4,1384 1970.9,1376.8 1971.4,1357.1 1972,1387.5 1972.5,1397.2 1973.1,1429.8 1973.6,1418.1 1974.1,1362.4 1974.7,1390.5 1975.2,1408.8 1975.7,1403.5 1976.3,1386.1 1976.8,1428.4 1977.4,1375.6 1977.9,1395.9 1978.4,1399.1 1979,1389.5 1979.5,1412.8 1980,1403.1 1980.6,1374.1 1981.1,1410.2 1981.7,1381.8 1982.2,1392.2 1982.7,1371.5 1983.3,1361.7 1983.8,1441.6 1984.3,1405.3 1984.9,1389.2 1985.4,1361.7 1986,1369.4 1986.5,1371.9 1987,1377.7 1987.6,1444.6 1988.1,1363.6 1988.6,1423.1 1989.2,1394.4 1989.7,1425.9 1990.3,1405.7 1990.8,1385.3 1991.3,1418.2 1991.9,1361.9 1992.4,1377.7 1992.9,1375.8 1993.5,1368.5 1994,1365 1994.6,1403.3 1995.1,1364.6 1995.6,1408.8 1996.2,1393.7 1996.7,1428.3 1997.2,1349.4 1997.8,1385.5 1998.3,1370.9 1998.9,1427.2 1999.4,1377.6 1999.9,1394.7 2000.5,1393.9 2001,1431.8 2001.5,1402.5 2002.1,1411.8 2002.6,1374.2 2003.2,1407.9 2003.7,1417.2 2004.2,1419.4 2004.8,1397.5 2005.3,1436.5 2005.8,1431.3 2006.4,1435.1 2006.9,1372.4 2007.5,1374.6 2008,1417.6 2008.5,1387.8 2009.1,1423.4 2009.6,1382.9 2010.2,1365.8 2010.7,1342.8 2011.2,1367.6 2011.8,1364.4 2012.3,1401.6 2012.8,1403.2 2013.4,1410.7 2013.9,1411.4 2014.5,1387.3 2015,1403.7 2015.5,1377.2 2016.1,1387.1 2016.6,1361.3 2017.1,1416.8 2017.7,1404.3 2018.2,1366.7 2018.8,1358.1 2019.3,1352.9 2019.8,1355.5 2020.4,1411.9 2020.9,1370.6 2021.4,1361.4 2022,1399.8 2022.5,1364.9 2023.1,1343.3 2023.6,1336.7 2024.1,1382.6 2024.7,1350.4 2025.2,1397.8 2025.7,1354.5 2026.3,1320.1 2026.8,1341.3 2027.4,1360.4 2027.9,1329.6 2028.4,1347.2 2029,1370.9 2029.5,1337.8 2030,1339.8 2030.6,1339.9 2031.1,1330.5 2031.7,1406.9 2032.2,1357 2032.7,1367.9 2033.3,1381.6 2033.8,1378.9 2034.3,1324.2 2034.9,1386.6 2035.4,1322 2036,1383.2 2036.5,1337.3 2037,1371.4 2037.6,1364.9 2038.1,1347.8 2038.6,1346.7 2039.2,1374.5 2039.7,1360.6 2040.3,1341.3 2040.8,1313 2041.3,1338 2041.9,1359.5 2042.4,1316.4 2042.9,1361.3 2043.5,1372.2 2044,1386.2 2044.6,1360 2045.1,1315.8 2045.6,1319.4 2046.2,1359.8 2046.7,1322.5 2047.2,1324.8 2047.8,1342 2048.3,1368.6 2048.9,1320.9 2049.4,1387.9 2049.9,1331 2050.5,1343.9 2051,1311.5 2051.5,1336.3 2052.1,1332.2 2052.6,1363.2 2053.2,1372.9 2053.7,1289.8 2054.2,1299.7 2054.8,1338.9 2055.3,1324.9 2055.8,1340.7 2056.4,1339.5 2056.9,1356.1 2057.5,1323.7 2058,1353.9 2058.5,1342.8 2059.1,1373.4 2059.6,1298.6 2060.1,1295.8 2060.7,1316.7 2061.2,1282.3 2061.8,1286.3 2062.3,1311.6 2062.8,1314.5 2063.4,1370.9 2063.9,1306.1 2064.4,1329.7 2065,1302.5 2065.5,1356.8 2066.1,1315.6 2066.6,1352.4 2067.1,1362.1 2067.7,1337 2068.2,1359 2068.7,1334.5 2069.3,1345.7 2069.8,1369.3 2070.4,1328.2 2070.9,1355.5 2071.4,1301.9 2072,1298.2 2072.5,1282.3 2073,1336.2 2073.6,1308.6 2074.1,1307.4 2074.7,1331.3 2075.2,1361 2075.7,1328.1 2076.3,1296.6 2076.8,1363.7 2077.3,1307 2077.9,1325.7 2078.4,1334.8 2079,1350.8 2079.5,1323 2080,1356.6 2080.6,1347.4 2081.1,1325.8 2081.6,1314.5 2082.2,1327.8 2082.7,1304.2 2083.3,1289.1 2083.8,1322.5 2084.3,1356 2084.9,1319.6 2085.4,1295.1 2086,1329.2 2086.5,1310.4 2087,1319.6 2087.6,1333.1 2088.1,1282.8 2088.6,1350.8 2089.2,1359.8 2089.7,1366.9 2090.3,1368.9 2090.8,1368 2091.3,1345.5 2091.9,1344 2092.4,1309.8 2092.9,1316.2 2093.5,1354.9 2094,1317.4 2094.6,1329.3 2095.1,1334.6 2095.6,1314.9 2096.2,1357.5 2096.7,1310.5 2097.2,1363 2097.8,1311.7 2098.3,1367.2 2098.9,1359.9 2099.4,1333.5 2099.9,1357.9 2100.5,1352.3 2101,1331.6 2101.5,1358.5 2102.1,1362.5 2102.6,1321.9 2103.2,1357 2103.7,1357.1 2104.2,1338.4 2104.8,1369.8 2105.3,1331.9 2105.8,1305.5 2106.4,1377.7 2106.9,1325.7 2107.5,1375.5 2108,1355.2 2108.5,1357.7 2109.1,1379.8 2109.6,1335.3 2110.1,1346.5 2110.7,1307.5 2111.2,1364.8 2111.8,1354.6 2112.3,1343.2 2112.8,1310.8 2113.4,1338.3 2113.9,1347 2114.4,1344.2 2115,1385.8 2115.5,1365.7 2116.1,1338.7 2116.6,1329.4 2117.1,1298.5 2117.7,1335.3 2118.2,1355.7 2118.7,1355.3 2119.3,1316.5 2119.8,1342 2120.4,1304.2 2120.9,1312.2 2121.4,1347.8 2122,1291.7 2122.5,1288.7 2123,1304.1 2123.6,1324.4 2124.1,1341.7 2124.7,1304.4 2125.2,1329.5 2125.7,1309.3 2126.3,1330.7 2126.8,1339.9 2127.3,1366.1 2127.9,1307.3 2128.4,1320.9 2129,1285.6 2129.5,1292.9 2130,1339.4 2130.6,1336 2131.1,1329.2 2131.6,1375.3 2132.2,1383.1 2132.7,1331.9 2133.3,1370.9 2133.8,1364.9 2134.3,1344.4 2134.9,1346.3 2135.4,1323.6 2135.9,1356.9 2136.5,1291.5 2137,1351.3 2137.6,1394.3 2138.1,1359.9 2138.6,1394.3 2139.2,1328.4 2139.7,1374.4 2140.2,1375.7 2140.8,1358.3 2141.3,1361.9 2141.9,1373 2142.4,1389.1 2142.9,1353.1 2143.5,1315.4 2144,1372.4 2144.5,1334.2 2145.1,1371.6 2145.6,1368.9 2146.2,1295.3 2146.7,1382.8 2147.2,1292.2 2147.8,1394.5 2148.3,1294.1 2148.8,1329 2149.4,1348.8 2149.9,1359.5 2150.5,1372.9 2151,1323.4 2151.5,1350.7 2152.1,1377.7 2152.6,1383 2153.1,1347.4 2153.7,1298.7 2154.2,1365.6 2154.8,1340.3 2155.3,1355.1 2155.8,1312.7 2156.4,1334.7 2156.9,1348.4 2157.4,1356.2 2158,1310.2 2158.5,1350.8 2159.1,1307.8 2159.6,1375.9 2160.1,1325.9 2160.7,1395.7 2161.2,1382.4 2161.8,1372.9 2162.3,1373.9 2162.8,1382.1 2163.4,1348.7 2163.9,1340.7 2164.4,1355.7 2165,1339.2 2165.5,1327.1 2166.1,1384.3 2166.6,1312.6 2167.1,1382.3 2167.7,1350.7 2168.2,1316.9 2168.7,1309.3 2169.3,1344.8 2169.8,1375.6 2170.4,1336 2170.9,1330.5 2171.4,1346.7 2172,1339 2172.5,1359.4 2173,1355.8 2173.6,1330.2 2174.1,1372.9 2174.7,1301.8 2175.2,1334.3 2175.7,1306.7 2176.3,1367.7 2176.8,1375.3 2177.3,1306.6 2177.9,1368.5 2178.4,1321.6 2179,1377.4 2179.5,1386.2 2180,1317.6 2180.6,1371 2181.1,1362.4 2181.6,1395.2 2182.2,1365.6 2182.7,1345.1 2183.3,1378.5 2183.8,1365 2184.3,1378.6 2184.9,1348.2 2185.4,1337.3 2185.9,1392.4 2186.5,1385.5 2187,1380 2187.6,1362.6 2188.1,1320.5 2188.6,1346 2189.2,1369.7 2189.7,1317 2190.2,1347.7 2190.8,1382.2 2191.3,1369.7 2191.9,1383.9 2192.4,1357.2 2192.9,1316.7 2193.5,1367.3 2194,1379 2194.5,1346.9 2195.1,1351.2 2195.6,1364.1 2196.2,1338.3 2196.7,1328.2 2197.2,1361.1 2197.8,1346 2198.3,1346.3 2198.8,1325.1 2199.4,1365.9 2199.9,1342.6 2200.5,1363.6 2201,1363.2 2201.5,1386.1 2202.1,1342.3 2202.6,1363.8 2203.1,1361.2 2203.7,1345.2 2204.2,1337.3 2204.8,1335.3 2205.3,1352.1 2205.8,1339.8 2206.4,1349.3 2206.9,1369 2207.4,1350.9 2208,1346.8 2208.5,1312.9 2209.1,1313.2 2209.6,1359.8 2210.1,1370.4 2210.7,1336.4 2211.2,1330 2211.7,1346.8 2212.3,1347.8 2212.8,1351.8 2213.4,1334.9 2213.9,1329.9 2214.4,1321.1 2215,1379.7 2215.5,1359.9 2216,1321.4 2216.6,1374.6 2217.1,1385.8 2217.7,1322.4 2218.2,1335.6 2218.7,1363.9 2219.3,1328.8 2219.8,1354.9 2220.3,1351 2220.9,1357.4 2221.4,1383.9 2222,1340 2222.5,1364.9 2223,1317.6 2223.6,1295.2 2224.1,1296 2224.6,1311.2 2225.2,1353.7 2225.7,1304.2 2226.3,1324.8 2226.8,1319.7 2227.3,1368.1 2227.9,1307.2 2228.4,1335.7 2228.9,1335.4 2229.5,1299.1 2230,1331.5 2230.6,1325.2 2231.1,1332.2 2231.6,1317.5 2232.2,1334.7 2232.7,1312.6 2233.2,1339.9 2233.8,1296 2234.3,1350.9 2234.9,1298.2 2235.4,1315.6 2235.9,1359.1 2236.5,1358 2237,1371.3 2237.6,1359 2238.1,1340.2 2238.6,1316.6 2239.2,1285.9 2239.7,1331.1 2240.2,1345 2240.8,1302.9 2241.3,1315.7 2241.9,1283.8 2242.4,1302.4 2242.9,1293.1 2243.5,1301.7 2244,1288.4 2244.5,1303.8 2245.1,1351.3 2245.6,1277.9 2246.2,1292.8 2246.7,1333.2 2247.2,1292.6 2247.8,1312.9 2248.3,1284.5 2248.8,1318.8 2249.4,1322.1 2249.9,1347.3 2250.5,1307.8 2251,1286.4 2251.5,1322.4 2252.1,1318.8 2252.6,1326.7 2253.1,1282.2 2253.7,1265.7 2254.2,1342.6 2254.8,1313.6 2255.3,1269.3 2255.8,1318.6 2256.4,1332.5 550.5,1263.1 548.5,1277.2 540.5,1280.2 539.5,1306.2 559.5,1312.2 535.5,1402.4 562.5,1396.4 560.5,1421.5 544.5,1430.5 534.1,1483.6 634.3,1446.1 653.7,1291.2 670.8,1291.2 706.9,1267.1 720.9,1273.2 754,1316.3 749,1462.6 757,1436.5 375.1,1293.2 396.2,1309.2 452.3,1313.3 458.3,1318.3 346.1,1438.5 366.1,1430.5 382.1,1420.5 420.2,1434.5 440.3,1426.5 944,1285.8 1063.7,1295.2 898.3,1285.2 1091.7,1304.2 1137.8,1308.2 782,1467.6 798.1,1476.6 816.1,1473.6 939.4,1460.6 960.4,1458.6 1000.5,1476.6 1031.6,1458.6 914.3,1426.5 882.2,1294.2 914.3,1294.2 978.5,1328.3 962.4,1328.3 1042.6,1348.3 848.2,1442.5 872.2,1428.5 1294.6,1270.6 1472.2,1269.8 1499.6,1288.2 1513.7,1286.2 1497.6,1304.2 1401.4,1463 1360.3,1445.5 1476.6,1429.5 1567.8,1460.6 1580.8,1462.6 1528.7,1443.5 1575.8,1349.3 1282.1,1299.2 1296.2,1302.2 1350.3,1322.3 1380.4,1343.3 1410.4,1350.3 1304.2,1432.5 1328.2,1436.5 1857.4,1278.6 1886.9,1292.6 1940.6,1315.3 1750.2,1507.7 1770.2,1528.7 1682,1442.5 1967.7,1443.5 1990.7,1450.6 1900.5,1446.5 1818.3,1516.7 1870.4,1438.5 2060.9,1380.4 1810.3,1402.4 1696.1,1315.3 1710.1,1321.3 2253.7,1246.2 2236.3,1262.1 2165.1,1268.2 2041.6,1282.5 2199.9,1422.6 2063.6,1381.7 2225.7,1396.1 2139.3,1398.4 2078.8,1268.2 2136.3,1275.7 2248.4,1363.6"/></defs>
<use href="#d2" fill="none" stroke="none" style="marker:url(#mf)"/>
<use href="#d2" fill="none" stroke="none" style="marker:url(#me)"/>
<polyline points="342,1345.3 342.5,1345.6 343.1,1346 343.6,1346.3 344.2,1346.7 344.7,1347 345.2,1347.3 345.8,1347.7 346.3,1348 346.8,1348.3 347.4,1348.6 347.9,1348.9 348.5,1349.3 349,1349.6 349.5,1349.9 350.1,1350.2 350.6,1350.5 351.1,1350.8 351.7,1351.1 352.2,1351.4 352.8,1351.7 353.3,1351.9 353.8,1352.2 354.4,1352.5 354.9,1352.8 355.4,1353.1 356,1353.3 356.5,1353.6 357.1,1353.9 357.6,1354.1 358.1,1354.4 358.7,1354.6 359.2,1354.9 359.8,1355.2 360.3,1355.4 360.8,1355.7 361.4,1355.9 361.9,1356.2 362.4,1356.4 363,1356.6 363.5,1356.9 364.1,1357.1 364.6,1357.4 365.1,1357.6 365.7,1357.9 366.2,1358.1 366.7,1358.3 367.3,1358.6 367.8,1358.8 368.4,1359 368.9,1359.3 369.4,1359.5 370,1359.8 370.5,1360 371,1360.3 371.6,1360.5 372.1,1360.7 372.7,1361 373.2,1361.2 373.7,1361.5 374.3,1361.7 374.8,1362 375.3,1362.2 375.9,1362.5 376.4,1362.7 377,1363 377.5,1363.3 378,1363.5 378.6,1363.8 379.1,1364.1 379.6,1364.3 380.2,1364.6 380.7,1364.9 381.3,1365.2 381.8,1365.4 382.3,1365.7 382.9,1366 383.4,1366.3 383.9,1366.6 384.5,1366.9 385,1367.2 385.6,1367.5 386.1,1367.8 386.6,1368.1 387.2,1368.4 387.7,1368.7 388.2,1369 388.8,1369.3 389.3,1369.7 389.9,1370 390.4,1370.3 390.9,1370.6 391.5,1371 392,1371.3 392.5,1371.6 393.1,1372 393.6,1372.3 394.2,1372.7 394.7,1373 395.2,1373.3 395.8,1373.7 396.3,1374 396.8,1374.4 397.4,1374.7 397.9,1375.1 398.5,1375.4 399,1375.8 399.5,1376.1 400.1,1376.5 400.6,1376.8 401.1,1377.2 401.7,1377.5 402.2,1377.9 402.8,1378.2 403.3,1378.6 403.8,1378.9 404.4,1379.3 404.9,1379.6 405.4,1379.9 406,1380.3 406.5,1380.6 407.1,1380.9 407.6,1381.3 408.1,1381.6 408.7,1381.9 409.2,1382.2 409.7,1382.5 410.3,1382.8 410.8,1383.1 411.4,1383.4 411.9,1383.7 412.4,1384 413,1384.3 413.5,1384.5 414,1384.8 414.6,1385.1 415.1,1385.3 415.7,1385.5 416.2,1385.8 416.7,1386 417.3,1386.2 417.8,1386.4 418.3,1386.6 418.9,1386.8 419.4,1387 420,1387.2 420.5,1387.3 421,1387.5 421.6,1387.6 422.1,1387.8 422.6,1387.9 423.2,1388 423.7,1388.1 424.3,1388.2 424.8,1388.3 425.3,1388.3 425.9,1388.4 426.4,1388.4 426.9,1388.4 427.5,1388.5 428,1388.5 428.6,1388.5 429.1,1388.4 429.6,1388.4 430.2,1388.3 430.7,1388.3 431.3,1388.2 431.8,1388.1 432.3,1388 432.9,1387.9 433.4,1387.8 433.9,1387.6 434.5,1387.5 435,1387.3 435.6,1387.1 436.1,1386.9 436.6,1386.7 437.2,1386.5 437.7,1386.2 438.2,1386 438.8,1385.7 439.3,1385.4 439.9,1385.1 440.4,1384.8 440.9,1384.5 441.5,1384.2 442,1383.8 442.5,1383.5 443.1,1383.1 443.6,1382.7 444.2,1382.3 444.7,1381.9 445.2,1381.5 445.8,1381.1 446.3,1380.6 446.8,1380.1 447.4,1379.7 447.9,1379.2 448.5,1378.7 449,1378.2 449.5,1377.7 450.1,1377.2 450.6,1376.6 451.1,1376.1 451.7,1375.6 452.2,1375 452.8,1374.4 453.3,1373.9 453.8,1373.3 454.4,1372.7 454.9,1372.1 455.4,1371.5 456,1370.9 456.5,1370.2 457.1,1369.6 457.6,1369 458.1,1368.4 458.7,1367.7 459.2,1367.1 459.7,1366.4 460.3,1365.8 460.8,1365.1 461.4,1364.5 461.9,1363.8 462.4,1363.2 463,1362.5 463.5,1361.8 533.9,1349.6 534.5,1350 535,1350.4 535.5,1350.7 536.1,1351.1 536.6,1351.5 537.2,1351.8 537.7,1352.2 538.2,1352.5 538.8,1352.9 539.3,1353.2 539.8,1353.6 540.4,1353.9 540.9,1354.2 541.5,1354.6 542,1354.9 542.5,1355.2 543.1,1355.5 543.6,1355.9 544.1,1356.2 544.7,1356.5 545.2,1356.8 545.8,1357.1 546.3,1357.4 546.8,1357.7 547.4,1358 547.9,1358.3 548.4,1358.6 549,1358.9 549.5,1359.2 550.1,1359.5 550.6,1359.7 551.1,1360 551.7,1360.3 552.2,1360.6 552.7,1360.8 553.3,1361.1 553.8,1361.4 554.4,1361.6 554.9,1361.9 555.4,1362.1 556,1362.4 556.5,1362.7 557,1362.9 557.6,1363.2 558.1,1363.4 558.7,1363.7 559.2,1363.9 559.7,1364.1 560.3,1364.4 560.8,1364.6 561.3,1364.9 561.9,1365.1 562.4,1365.3 563,1365.6 563.5,1365.8 564,1366.1 564.6,1366.3 565.1,1366.5 565.6,1366.8 566.2,1367 566.7,1367.3 567.3,1367.5 567.8,1367.7 568.3,1368 568.9,1368.2 569.4,1368.5 569.9,1368.7 570.5,1369 571,1369.2 571.6,1369.5 572.1,1369.7 572.6,1370 573.2,1370.3 573.7,1370.5 574.2,1370.8 574.8,1371 575.3,1371.3 575.9,1371.6 576.4,1371.8 576.9,1372.1 577.5,1372.4 578,1372.7 578.5,1373 579.1,1373.2 579.6,1373.5 580.2,1373.8 580.7,1374.1 581.2,1374.4 581.8,1374.7 582.3,1375 582.9,1375.3 583.4,1375.6 583.9,1375.9 584.5,1376.3 585,1376.6 585.5,1376.9 586.1,1377.2 586.6,1377.5 587.2,1377.9 587.7,1378.2 588.2,1378.5 588.8,1378.9 589.3,1379.2 589.8,1379.5 590.4,1379.9 590.9,1380.2 591.5,1380.6 592,1380.9 592.5,1381.3 593.1,1381.6 593.6,1382 594.1,1382.3 594.7,1382.7 595.2,1383 595.8,1383.4 596.3,1383.7 596.8,1384.1 597.4,1384.4 597.9,1384.8 598.4,1385.1 599,1385.4 599.5,1385.8 600.1,1386.1 600.6,1386.5 601.1,1386.8 601.7,1387.2 602.2,1387.5 602.7,1387.8 603.3,1388.2 603.8,1388.5 604.4,1388.8 604.9,1389.1 605.4,1389.4 606,1389.8 606.5,1390.1 607,1390.4 607.6,1390.7 608.1,1390.9 608.7,1391.2 609.2,1391.5 609.7,1391.8 610.3,1392 610.8,1392.3 611.3,1392.6 611.9,1392.8 612.4,1393 613,1393.3 613.5,1393.5 614,1393.7 614.6,1393.9 615.1,1394.1 615.6,1394.3 616.2,1394.5 616.7,1394.6 617.3,1394.8 617.8,1394.9 618.3,1395.1 618.9,1395.2 619.4,1395.3 619.9,1395.4 620.5,1395.5 621,1395.6 621.6,1395.6 622.1,1395.7 622.6,1395.7 623.2,1395.8 623.7,1395.8 624.2,1395.8 624.8,1395.8 625.3,1395.8 625.9,1395.7 626.4,1395.7 626.9,1395.6 627.5,1395.5 628,1395.5 628.5,1395.4 629.1,1395.2 629.6,1395.1 630.2,1395 630.7,1394.8 631.2,1394.7 631.8,1394.5 632.3,1394.3 632.8,1394.1 633.4,1393.8 633.9,1393.6 634.5,1393.4 635,1393.1 635.5,1392.8 636.1,1392.5 636.6,1392.2 637.1,1391.9 637.7,1391.6 638.2,1391.2 638.8,1390.9 639.3,1390.5 639.8,1390.1 640.4,1389.7 640.9,1389.3 641.4,1388.9 642,1388.5 642.5,1388 643.1,1387.6 643.6,1387.1 644.1,1386.6 644.7,1386.1 645.2,1385.6 645.7,1385.1 646.3,1384.6 646.8,1384.1 647.4,1383.6 647.9,1383 648.4,1382.5 649,1381.9 649.5,1381.3 650,1380.7 650.6,1380.1 651.1,1379.5 651.7,1378.9 652.2,1378.3 652.7,1377.7 653.3,1377.1 653.8,1376.5 654.3,1375.8 654.9,1375.2 655.4,1374.6 656,1373.9 656.5,1373.3 657,1372.6 657.6,1372 658.1,1371.3 658.7,1370.6 659.2,1370 659.7,1369.3 660.3,1368.6 660.8,1368 661.3,1367.3 661.9,1366.7 662.4,1366 663,1365.3 663.5,1364.7 664,1364 664.6,1363.4 665.1,1362.7 665.6,1362.1 666.2,1361.4 666.7,1360.8 667.3,1360.1 667.8,1359.5 668.3,1358.9 668.9,1358.3 669.4,1357.6 669.9,1357 670.5,1356.4 671,1355.8 671.6,1355.2 672.1,1354.7 672.6,1354.1 673.2,1353.5 673.7,1353 674.2,1352.4 674.8,1351.9 675.3,1351.4 675.9,1350.8 676.4,1350.3 676.9,1349.8 677.5,1349.4 678,1348.9 678.5,1348.4 679.1,1348 679.6,1347.5 680.2,1347.1 680.7,1346.7 681.2,1346.3 681.8,1345.9 682.3,1345.5 682.8,1345.1 683.4,1344.8 683.9,1344.5 684.5,1344.1 685,1343.8 685.5,1343.5 686.1,1343.2 686.6,1343 687.1,1342.7 687.7,1342.5 688.2,1342.2 688.8,1342 689.3,1341.8 689.8,1341.6 690.4,1341.4 690.9,1341.3 691.4,1341.1 692,1341 692.5,1340.9 693.1,1340.8 693.6,1340.7 694.1,1340.6 694.7,1340.6 695.2,1340.5 695.7,1340.5 696.3,1340.4 696.8,1340.4 697.4,1340.4 697.9,1340.5 698.4,1340.5 699,1340.5 699.5,1340.6 700,1340.7 700.6,1340.7 701.1,1340.8 701.7,1340.9 702.2,1341 702.7,1341.2 703.3,1341.3 703.8,1341.5 704.3,1341.6 704.9,1341.8 705.4,1342 706,1342.2 706.5,1342.4 707,1342.6 707.6,1342.8 708.1,1343 708.6,1343.3 709.2,1343.5 709.7,1343.8 710.3,1344 710.8,1344.3 711.3,1344.6 711.9,1344.9 712.4,1345.2 712.9,1345.5 713.5,1345.8 714,1346.1 714.6,1346.4 715.1,1346.7 715.6,1347 716.2,1347.4 716.7,1347.7 717.2,1348.1 717.8,1348.4 718.3,1348.8 718.9,1349.1 719.4,1349.5 719.9,1349.8 720.5,1350.2 721,1350.5 721.5,1350.9 722.1,1351.3 722.6,1351.7 723.2,1352 723.7,1352.4 724.2,1352.8 724.8,1353.1 725.3,1353.5 725.8,1353.9 726.4,1354.3 726.9,1354.6 727.5,1355 728,1355.4 728.5,1355.8 729.1,1356.1 729.6,1356.5 730.1,1356.9 730.7,1357.2 731.2,1357.6 731.8,1358 732.3,1358.3 732.8,1358.7 733.4,1359 733.9,1359.4 734.5,1359.7 735,1360.1 735.5,1360.4 736.1,1360.8 736.6,1361.1 737.1,1361.5 737.7,1361.8 738.2,1362.1 738.8,1362.5 739.3,1362.8 739.8,1363.1 740.4,1363.4 740.9,1363.7 741.4,1364 742,1364.4 742.5,1364.7 743.1,1365 743.6,1365.3 744.1,1365.6 744.7,1365.9 745.2,1366.1 745.7,1366.4 746.3,1366.7 746.8,1367 747.4,1367.3 747.9,1367.5 748.4,1367.8 749,1368.1 749.5,1368.4 750,1368.6 750.6,1368.9 751.1,1369.1 751.7,1369.4 752.2,1369.7 752.7,1369.9 753.3,1370.2 753.8,1370.4 754.3,1370.7 754.9,1370.9 755.4,1371.1 756,1371.4 756.5,1371.6 757,1371.9 757.6,1372.1 758.1,1372.4 758.6,1372.6 759.2,1372.8 759.7,1373.1 760.3,1373.3 760.8,1373.6 761.3,1373.8 761.9,1374 762.4,1374.3 762.9,1374.5 763.5,1374.8 764,1375 764.6,1375.2 765.1,1375.5 765.6,1375.7 766.2,1376 766.7,1376.2 767.2,1376.5 767.8,1376.7 768.3,1377 768.9,1377.2 769.4,1377.5 769.9,1377.8 770.5,1378 771,1378.3 771.5,1378.6 772.1,1378.8 772.6,1379.1 773.2,1379.4 773.7,1379.6 774.2,1379.9 774.8,1380.2 775.3,1380.5 775.8,1380.8 776.4,1381.1 776.9,1381.4 777.5,1381.7 778,1382 778.5,1382.3 779.1,1382.6 779.6,1382.9 780.1,1383.2 780.7,1383.5 781.2,1383.8 781.8,1384.1 782.3,1384.5 782.8,1384.8 783.4,1385.1 783.9,1385.4 784.4,1385.8 785,1386.1 785.5,1386.4 786.1,1386.8 786.6,1387.1 787.1,1387.5 787.7,1387.8 788.2,1388.1 788.7,1388.5 789.3,1388.8 789.8,1389.2 790.4,1389.5 790.9,1389.9 791.4,1390.2 792,1390.6 792.5,1390.9 793,1391.3 793.6,1391.6 794.1,1392 794.7,1392.3 795.2,1392.7 795.7,1393 796.3,1393.4 796.8,1393.7 797.3,1394.1 797.9,1394.4 798.4,1394.7 799,1395.1 799.5,1395.4 800,1395.7 800.6,1396 801.1,1396.4 801.6,1396.7 802.2,1397 802.7,1397.3 803.3,1397.6 803.8,1397.9 804.3,1398.2 804.9,1398.5 805.4,1398.8 805.9,1399 806.5,1399.3 807,1399.6 807.6,1399.8 808.1,1400.1 808.6,1400.3 809.2,1400.5 809.7,1400.7 810.3,1401 810.8,1401.2 811.3,1401.4 811.9,1401.5 812.4,1401.7 812.9,1401.9 813.5,1402.1 814,1402.2 814.6,1402.3 815.1,1402.5 815.6,1402.6 816.2,1402.7 816.7,1402.8 817.2,1402.9 817.8,1402.9 818.3,1403 818.9,1403 819.4,1403.1 819.9,1403.1 820.5,1403.1 821,1403.1 821.5,1403.1 822.1,1403 822.6,1403 823.2,1402.9 823.7,1402.9 824.2,1402.8 824.8,1402.7 825.3,1402.6 825.8,1402.5 826.4,1402.3 826.9,1402.2 827.5,1402 828,1401.8 828.5,1401.6 829.1,1401.4 829.6,1401.2 830.1,1401 830.7,1400.7 831.2,1400.5 831.8,1400.2 832.3,1399.9 832.8,1399.6 833.4,1399.3 833.9,1399 834.4,1398.6 835,1398.3 835.5,1397.9 836.1,1397.5 836.6,1397.1 837.1,1396.7 837.7,1396.3 838.2,1395.9 838.7,1395.5 839.3,1395 839.8,1394.5 840.4,1394.1 840.9,1393.6 841.4,1393.1 842,1392.6 842.5,1392.1 843,1391.5 843.6,1391 844.1,1390.5 844.7,1389.9 845.2,1389.3 845.7,1388.8 846.3,1388.2 846.8,1387.6 847.3,1387 847.9,1386.4 848.4,1385.8 849,1385.2 849.5,1384.6 850,1383.9 850.6,1383.3 851.1,1382.7 851.6,1382 852.2,1381.4 852.7,1380.7 853.3,1380.1 853.8,1379.4 854.3,1378.8 854.9,1378.1 855.4,1377.5 855.9,1376.8 856.5,1376.1 857,1375.5 857.6,1374.8 858.1,1374.1 858.6,1373.5 859.2,1372.8 859.7,1372.1 860.2,1371.5 860.8,1370.8 861.3,1370.2 861.9,1369.5 862.4,1368.9 862.9,1368.2 863.5,1367.6 864,1367 864.5,1366.3 865.1,1365.7 865.6,1365.1 866.2,1364.5 866.7,1363.9 867.2,1363.3 867.8,1362.7 868.3,1362.1 868.8,1361.5 869.4,1361 869.9,1360.4 870.5,1359.9 871,1359.3 871.5,1358.8 872.1,1358.3 872.6,1357.8 873.1,1357.3 873.7,1356.8 874.2,1356.3 874.8,1355.8 875.3,1355.4 875.8,1354.9 876.4,1354.5 876.9,1354.1 877.4,1353.7 878,1353.3 878.5,1352.9 879.1,1352.5 879.6,1352.2 880.1,1351.8 880.7,1351.5 881.2,1351.2 881.8,1350.9 882.3,1350.6 882.8,1350.3 883.4,1350.1 883.9,1349.8 884.4,1349.6 885,1349.4 885.5,1349.2 886.1,1349 886.6,1348.8 887.1,1348.6 887.7,1348.5 888.2,1348.4 888.7,1348.2 889.3,1348.1 889.8,1348 890.4,1347.9 890.9,1347.9 891.4,1347.8 892,1347.8 892.5,1347.8 893,1347.8 893.6,1347.8 894.1,1347.8 894.7,1347.8 895.2,1347.8 895.7,1347.9 896.3,1348 896.8,1348 897.3,1348.1 897.9,1348.2 898.4,1348.3 899,1348.5 899.5,1348.6 900,1348.7 900.6,1348.9 901.1,1349.1 901.6,1349.2 902.2,1349.4 902.7,1349.6 903.3,1349.8 903.8,1350.1 904.3,1350.3 904.9,1350.5 905.4,1350.8 905.9,1351 906.5,1351.3 907,1351.6 907.6,1351.8 908.1,1352.1 908.6,1352.4 909.2,1352.7 909.7,1353 910.2,1353.3 910.8,1353.6 911.3,1354 911.9,1354.3 912.4,1354.6 912.9,1354.9 913.5,1355.3 914,1355.6 914.5,1356 915.1,1356.3 915.6,1356.7 916.2,1357 916.7,1357.4 917.2,1357.8 917.8,1358.1 918.3,1358.5 918.8,1358.9 919.4,1359.2 919.9,1359.6 920.5,1360 921,1360.4 921.5,1360.7 922.1,1361.1 922.6,1361.5 923.1,1361.9 923.7,1362.2 924.2,1362.6 924.8,1363 925.3,1363.3 925.8,1363.7 926.4,1364.1 926.9,1364.5 927.4,1364.8 928,1365.2 928.5,1365.5 929.1,1365.9 929.6,1366.3 930.1,1366.6 930.7,1367 931.2,1367.3 931.7,1367.7 932.3,1368 932.8,1368.3 933.4,1368.7 933.9,1369 934.4,1369.4 935,1369.7 935.5,1370 936,1370.3 936.6,1370.7 937.1,1371 937.7,1371.3 938.2,1371.6 938.7,1371.9 939.3,1372.2 939.8,1372.5 940.3,1372.8 940.9,1373.1 941.4,1373.4 942,1373.7 942.5,1374 943,1374.2 943.6,1374.5 944.1,1374.8 944.6,1375.1 945.2,1375.3 945.7,1375.6 946.3,1375.9 946.8,1376.1 947.3,1376.4 947.9,1376.6 948.4,1376.9 948.9,1377.2 949.5,1377.4 950,1377.7 950.6,1377.9 951.1,1378.2 951.6,1378.4 952.2,1378.6 952.7,1378.9 953.2,1379.1 953.8,1379.4 954.3,1379.6 954.9,1379.9 955.4,1380.1 955.9,1380.3 956.5,1380.6 957,1380.8 957.6,1381.1 958.1,1381.3 958.6,1381.5 959.2,1381.8 959.7,1382 960.2,1382.3 960.8,1382.5 961.3,1382.7 961.9,1383 962.4,1383.2 962.9,1383.5 963.5,1383.7 964,1384 964.5,1384.2 965.1,1384.5 965.6,1384.7 966.2,1385 966.7,1385.3 967.2,1385.5 967.8,1385.8 968.3,1386.1 968.8,1386.3 969.4,1386.6 969.9,1386.9 970.5,1387.2 971,1387.4 971.5,1387.7 972.1,1388 972.6,1388.3 973.1,1388.6 973.7,1388.9 974.2,1389.2 974.8,1389.5 975.3,1389.8 975.8,1390.1 976.4,1390.4 976.9,1390.7 977.4,1391.1 978,1391.4 978.5,1391.7 979.1,1392 979.6,1392.3 980.1,1392.7 980.7,1393 981.2,1393.3 981.7,1393.7 982.3,1394 982.8,1394.3 983.4,1394.7 983.9,1395 984.4,1395.4 985,1395.7 985.5,1396.1 986,1396.4 986.6,1396.8 987.1,1397.1 987.7,1397.5 988.2,1397.8 988.7,1398.2 989.3,1398.5 989.8,1398.9 990.3,1399.2 990.9,1399.6 991.4,1399.9 992,1400.2 992.5,1400.6 993,1400.9 993.6,1401.3 994.1,1401.6 994.6,1402 995.2,1402.3 995.7,1402.6 996.3,1402.9 996.8,1403.3 997.3,1403.6 997.9,1403.9 998.4,1404.2 998.9,1404.5 999.5,1404.8 1000,1405.1 1000.6,1405.4 1001.1,1405.7 1001.6,1406 1002.2,1406.3 1002.7,1406.5 1003.2,1406.8 1003.8,1407.1 1004.3,1407.3 1004.9,1407.5 1005.4,1407.8 1005.9,1408 1006.5,1408.2 1007,1408.4 1007.5,1408.6 1008.1,1408.8 1008.6,1409 1009.2,1409.2 1009.7,1409.3 1010.2,1409.5 1010.8,1409.6 1011.3,1409.7 1011.8,1409.9 1012.4,1410 1012.9,1410.1 1013.5,1410.2 1014,1410.2 1014.5,1410.3 1015.1,1410.3 1015.6,1410.4 1016.1,1410.4 1016.7,1410.4 1017.2,1410.4 1017.8,1410.4 1018.3,1410.4 1018.8,1410.3 1019.4,1410.3 1019.9,1410.2 1020.4,1410.1 1021,1410 1021.5,1409.9 1022.1,1409.8 1022.6,1409.7 1023.1,1409.5 1023.7,1409.4 1024.2,1409.2 1024.7,1409 1025.3,1408.8 1025.8,1408.6 1026.4,1408.4 1026.9,1408.1 1027.4,1407.9 1028,1407.6 1028.5,1407.3 1029,1407 1029.6,1406.7 1030.1,1406.4 1030.7,1406 1031.2,1405.7 1031.7,1405.3 1032.3,1404.9 1032.8,1404.6 1033.4,1404.2 1033.9,1403.7 1034.4,1403.3 1035,1402.9 1035.5,1402.4 1036,1402 1036.6,1401.5 1037.1,1401 1037.7,1400.5 1038.2,1400 1038.7,1399.5 1039.3,1399 1039.8,1398.5 1040.3,1397.9 1040.9,1397.4 1041.4,1396.8 1042,1396.2 1042.5,1395.7 1043,1395.1 1043.6,1394.5 1044.1,1393.9 1044.6,1393.3 1045.2,1392.7 1045.7,1392 1046.3,1391.4 1046.8,1390.8 1047.3,1390.1 1047.9,1389.5 1048.4,1388.9 1048.9,1388.2 1049.5,1387.6 1050,1386.9 1050.6,1386.3 1051.1,1385.6 1051.6,1384.9 1052.2,1384.3 1052.7,1383.6 1053.2,1382.9 1053.8,1382.3 1054.3,1381.6 1054.9,1381 1055.4,1380.3 1055.9,1379.6 1056.5,1379 1057,1378.3 1057.5,1377.7 1058.1,1377 1058.6,1376.4 1059.2,1375.7 1059.7,1375.1 1060.2,1374.4 1060.8,1373.8 1061.3,1373.2 1061.8,1372.6 1062.4,1372 1062.9,1371.4 1063.5,1370.8 1064,1370.2 1064.5,1369.6 1065.1,1369 1065.6,1368.4 1066.1,1367.9 1066.7,1367.3 1067.2,1366.8 1067.8,1366.3 1068.3,1365.7 1068.8,1365.2 1069.4,1364.7 1069.9,1364.2 1070.4,1363.7 1071,1363.3 1071.5,1362.8 1072.1,1362.4 1072.6,1361.9 1073.1,1361.5 1073.7,1361.1 1074.2,1360.7 1074.7,1360.3 1075.3,1360 1075.8,1359.6 1076.4,1359.2 1076.9,1358.9 1077.4,1358.6 1078,1358.3 1078.5,1358 1079,1357.7 1079.6,1357.5 1080.1,1357.2 1080.7,1357 1081.2,1356.7 1081.7,1356.5 1082.3,1356.3 1082.8,1356.2 1083.3,1356 1083.9,1355.8 1084.4,1355.7 1085,1355.6 1085.5,1355.5 1086,1355.4 1086.6,1355.3 1087.1,1355.2 1087.6,1355.2 1088.2,1355.1 1088.7,1355.1 1089.3,1355.1 1089.8,1355.1 1090.3,1355.1 1090.9,1355.1 1091.4,1355.1 1091.9,1355.2 1092.5,1355.2 1093,1355.3 1093.6,1355.4 1094.1,1355.5 1094.6,1355.6 1095.2,1355.7 1095.7,1355.9 1096.2,1356 1096.8,1356.2 1097.3,1356.3 1097.9,1356.5 1098.4,1356.7 1098.9,1356.9 1099.5,1357.1 1100,1357.3 1100.5,1357.5 1101.1,1357.8 1101.6,1358 1102.2,1358.3 1102.7,1358.5 1103.2,1358.8 1103.8,1359.1 1104.3,1359.4 1104.8,1359.6 1105.4,1359.9 1105.9,1360.2 1106.5,1360.6 1107,1360.9 1107.5,1361.2 1108.1,1361.5 1108.6,1361.8 1109.2,1362.2 1109.7,1362.5 1110.2,1362.9 1110.8,1363.2 1111.3,1363.6 1111.8,1363.9 1112.4,1364.3 1112.9,1364.6 1113.5,1365 1114,1365.4 1114.5,1365.7 1115.1,1366.1 1115.6,1366.5 1116.1,1366.8 1116.7,1367.2 1117.2,1367.6 1117.8,1368 1118.3,1368.3 1118.8,1368.7 1119.4,1369.1 1119.9,1369.5 1120.4,1369.8 1121,1370.2 1121.5,1370.6 1122.1,1370.9 1122.6,1371.3 1123.1,1371.7 1123.7,1372 1124.2,1372.4 1124.7,1372.8 1125.3,1373.1 1125.8,1373.5 1126.4,1373.8 1126.9,1374.2 1127.4,1374.5 1128,1374.9 1128.5,1375.2 1129,1375.6 1129.6,1375.9 1130.1,1376.3 1130.7,1376.6 1131.2,1376.9 1131.7,1377.2 1132.3,1377.6 1132.8,1377.9 1133.3,1378.2 1133.9,1378.5 1134.4,1378.8 1135,1379.1 1135.5,1379.4 1136,1379.7 1136.6,1380 1137.1,1380.3 1137.6,1380.6 1138.2,1380.9 1138.7,1381.2 1139.3,1381.5 1139.8,1381.8 1140.3,1382 1140.9,1382.3 1141.4,1382.6 1141.9,1382.9 1142.5,1383.1 1143,1383.4 1143.6,1383.6 1144.1,1383.9 1144.6,1384.2 1145.2,1384.4 1145.7,1384.7 1146.2,1384.9 1146.8,1385.2 1147.3,1385.4 1147.9,1385.7 1148.4,1385.9 1148.9,1386.1 1149.5,1386.4 1150,1386.6 1150.5,1386.9 1151.1,1387.1 1151.6,1387.3 1152.2,1387.6 1152.7,1387.8 1153.2,1388.1 1153.8,1388.3 1154.3,1388.5 1154.8,1388.8 1155.4,1389 1155.9,1389.3 1156.5,1389.5 1157,1389.8 1157.5,1390 1158.1,1390.2 1158.6,1390.5 1159.1,1390.7 1159.7,1391 1160.2,1391.2 1160.8,1391.5 1161.3,1391.7 1161.8,1392 1162.4,1392.3 1162.9,1392.5 1163.4,1392.8 1164,1393 1164.5,1393.3 1165.1,1393.6 1165.6,1393.9 1166.1,1394.1 1166.7,1394.4 1167.2,1394.7 1167.7,1395 1168.3,1395.3 1168.8,1395.6 1169.4,1395.8 1169.9,1396.1 1170.4,1396.4 1171,1396.7 1171.5,1397 1172,1397.3 1172.6,1397.7 1173.1,1398 1173.7,1398.3 1174.2,1398.6 1174.7,1398.9 1175.3,1399.2 1175.8,1399.6 1176.3,1399.9 1176.9,1400.2 1177.4,1400.6 1178,1400.9 1178.5,1401.2 1179,1401.6 1179.6,1401.9 1180.1,1402.3 1180.6,1402.6 1181.2,1402.9 1181.7,1403.3 1182.3,1403.6 1182.8,1404 1183.3,1404.3 1183.9,1404.7 1184.4,1405 1185,1405.4 1185.5,1405.7 1186,1406.1 1186.6,1406.4 1187.1,1406.8 1187.6,1407.1 1188.2,1407.5 1188.7,1407.8 1189.3,1408.2 1189.8,1408.5 1190.3,1408.8 1190.9,1409.2 1191.4,1409.5 1191.9,1409.9 1192.5,1410.2 1193,1410.5 1193.6,1410.8 1194.1,1411.1 1194.6,1411.5 1195.2,1411.8 1195.7,1412.1 1196.2,1412.4 1196.8,1412.7 1197.3,1413 1197.9,1413.2 1198.4,1413.5 1198.9,1413.8 1199.5,1414.1 1200,1414.3 1200.5,1414.6 1201.1,1414.8 1201.6,1415 1202.2,1415.3 1202.7,1415.5 1203.2,1415.7 1203.8,1415.9 1204.3,1416.1 1204.8,1416.3 1205.4,1416.4 1205.9,1416.6 1206.5,1416.8 1207,1416.9 1207.5,1417 1208.1,1417.1 1208.6,1417.3 1209.1,1417.4 1209.7,1417.4 1210.2,1417.5 1210.8,1417.6 1211.3,1417.6 1211.8,1417.7 1212.4,1417.7 1212.9,1417.7 1213.4,1417.7 1214,1417.7 1214.5,1417.7 1215.1,1417.7 1215.6,1417.6 1216.1,1417.5 1216.7,1417.5 1217.2,1417.4 1217.7,1417.3 1218.3,1417.2 1218.8,1417 1281.7,1362.8 1282.3,1362.7 1282.8,1362.6 1283.3,1362.5 1283.9,1362.5 1284.4,1362.4 1284.9,1362.4 1285.5,1362.4 1286,1362.4 1286.6,1362.4 1287.1,1362.4 1287.6,1362.4 1288.2,1362.5 1288.7,1362.5 1289.2,1362.6 1289.8,1362.7 1290.3,1362.8 1290.9,1362.9 1291.4,1363 1291.9,1363.2 1292.5,1363.3 1293,1363.4 1293.5,1363.6 1294.1,1363.8 1294.6,1364 1295.2,1364.2 1295.7,1364.4 1296.2,1364.6 1296.8,1364.8 1297.3,1365 1297.8,1365.3 1298.4,1365.5 1298.9,1365.8 1299.5,1366 1300,1366.3 1300.5,1366.6 1301.1,1366.9 1301.6,1367.2 1302.1,1367.5 1302.7,1367.8 1303.2,1368.1 1303.8,1368.4 1304.3,1368.7 1304.8,1369.1 1305.4,1369.4 1305.9,1369.7 1306.4,1370.1 1307,1370.4 1307.5,1370.8 1308.1,1371.1 1308.6,1371.5 1309.1,1371.9 1309.7,1372.2 1310.2,1372.6 1310.7,1372.9 1311.3,1373.3 1311.8,1373.7 1312.4,1374.1 1312.9,1374.4 1313.4,1374.8 1314,1375.2 1314.5,1375.6 1315,1375.9 1315.6,1376.3 1316.1,1376.7 1316.7,1377 1317.2,1377.4 1317.7,1377.8 1318.3,1378.2 1318.8,1378.5 1319.3,1378.9 1319.9,1379.3 1320.4,1379.6 1321,1380 1321.5,1380.4 1322,1380.7 1322.6,1381.1 1323.1,1381.4 1323.6,1381.8 1324.2,1382.1 1324.7,1382.5 1325.3,1382.8 1325.8,1383.1 1326.3,1383.5 1326.9,1383.8 1327.4,1384.1 1327.9,1384.5 1328.5,1384.8 1329,1385.1 1329.6,1385.4 1330.1,1385.8 1330.6,1386.1 1331.2,1386.4 1331.7,1386.7 1332.2,1387 1332.8,1387.3 1333.3,1387.6 1333.9,1387.9 1334.4,1388.2 1334.9,1388.4 1335.5,1388.7 1336,1389 1336.6,1389.3 1337.1,1389.6 1337.6,1389.8 1338.2,1390.1 1338.7,1390.4 1339.2,1390.6 1339.8,1390.9 1340.3,1391.1 1340.9,1391.4 1341.4,1391.7 1341.9,1391.9 1342.5,1392.2 1343,1392.4 1343.5,1392.7 1344.1,1392.9 1344.6,1393.2 1345.2,1393.4 1345.7,1393.6 1346.2,1393.9 1346.8,1394.1 1347.3,1394.4 1347.8,1394.6 1348.4,1394.8 1348.9,1395.1 1349.5,1395.3 1350,1395.6 1350.5,1395.8 1351.1,1396 1351.6,1396.3 1352.1,1396.5 1352.7,1396.8 1353.2,1397 1353.8,1397.2 1354.3,1397.5 1354.8,1397.7 1355.4,1398 1355.9,1398.2 1356.4,1398.5 1357,1398.7 1357.5,1399 1358.1,1399.2 1358.6,1399.5 1359.1,1399.8 1359.7,1400 1360.2,1400.3 1360.7,1400.6 1361.3,1400.8 1361.8,1401.1 1362.4,1401.4 1362.9,1401.7 1363.4,1401.9 1364,1402.2 1364.5,1402.5 1365,1402.8 1365.6,1403.1 1366.1,1403.4 1366.7,1403.7 1367.2,1404 1367.7,1404.3 1368.3,1404.6 1368.8,1404.9 1369.3,1405.2 1369.9,1405.5 1370.4,1405.8 1371,1406.2 1371.5,1406.5 1372,1406.8 1372.6,1407.1 1373.1,1407.5 1373.6,1407.8 1374.2,1408.1 1374.7,1408.5 1375.3,1408.8 1375.8,1409.1 1376.3,1409.5 1376.9,1409.8 1377.4,1410.2 1377.9,1410.5 1378.5,1410.9 1379,1411.2 1379.6,1411.6 1380.1,1411.9 1380.6,1412.3 1381.2,1412.6 1381.7,1413 1382.2,1413.3 1382.8,1413.7 1383.3,1414 1383.9,1414.4 1384.4,1414.7 1384.9,1415.1 1385.5,1415.4 1386,1415.7 1386.5,1416.1 1387.1,1416.4 1387.6,1416.8 1388.2,1417.1 1388.7,1417.4 1389.2,1417.7 1389.8,1418.1 1390.3,1418.4 1390.8,1418.7 1391.4,1419 1391.9,1419.3 1392.5,1419.6 1393,1419.9 1393.5,1420.2 1394.1,1420.5 1394.6,1420.8 1395.1,1421 1395.7,1421.3 1396.2,1421.6 1396.8,1421.8 1397.3,1422.1 1397.8,1422.3 1398.4,1422.5 1398.9,1422.7 1399.4,1423 1400,1423.2 1400.5,1423.4 1401.1,1423.5 1401.6,1423.7 1402.1,1423.9 1402.7,1424 1403.2,1424.2 1403.7,1424.3 1404.3,1424.4 1404.8,1424.5 1405.4,1424.6 1405.9,1424.7 1406.4,1424.8 1407,1424.9 1407.5,1424.9 1408.1,1425 1408.6,1425 1409.1,1425 1409.7,1425 1410.2,1425 1410.7,1425 1411.3,1425 1411.8,1424.9 1412.4,1424.9 1412.9,1424.8 1413.4,1424.7 1414,1424.6 1414.5,1424.5 1415,1424.4 1415.6,1424.2 1416.1,1424.1 1416.7,1423.9 1417.2,1423.7 1417.7,1423.5 1418.3,1423.3 1418.8,1423.1 1419.3,1422.9 1419.9,1422.6 1420.4,1422.4 1421,1422.1 1421.5,1421.8 1422,1421.5 1422.6,1421.2 1423.1,1420.8 1423.6,1420.5 1424.2,1420.1 1424.7,1419.8 1425.3,1419.4 1425.8,1419 1426.3,1418.6 1426.9,1418.2 1427.4,1417.7 1427.9,1417.3 1428.5,1416.8 1429,1416.4 1429.6,1415.9 1430.1,1415.4 1430.6,1414.9 1431.2,1414.4 1431.7,1413.9 1432.2,1413.3 1432.8,1412.8 1433.3,1412.3 1433.9,1411.7 1434.4,1411.1 1434.9,1410.6 1435.5,1410 1436,1409.4 1436.5,1408.8 1437.1,1408.2 1437.6,1407.6 1438.2,1407 1438.7,1406.4 1439.2,1405.7 1439.8,1405.1 1440.3,1404.5 1440.8,1403.8 1441.4,1403.2 1441.9,1402.5 1442.5,1401.9 1443,1401.2 1443.5,1400.6 1444.1,1399.9 1444.6,1399.2 1445.1,1398.6 1445.7,1397.9 1446.2,1397.2 1446.8,1396.6 1447.3,1395.9 1447.8,1395.2 1448.4,1394.6 1448.9,1393.9 1449.4,1393.3 1450,1392.6 1450.5,1392 1451.1,1391.3 1451.6,1390.7 1452.1,1390 1452.7,1389.4 1453.2,1388.8 1453.7,1388.1 1454.3,1387.5 1454.8,1386.9 1455.4,1386.3 1455.9,1385.7 1456.4,1385.1 1457,1384.5 1457.5,1383.9 1458,1383.3 1458.6,1382.8 1459.1,1382.2 1459.7,1381.7 1460.2,1381.1 1460.7,1380.6 1461.3,1380.1 1461.8,1379.6 1462.3,1379.1 1462.9,1378.6 1463.4,1378.1 1464,1377.7 1464.5,1377.2 1465,1376.8 1465.6,1376.4 1466.1,1375.9 1466.6,1375.5 1467.2,1375.1 1467.7,1374.8 1468.3,1374.4 1468.8,1374 1469.3,1373.7 1469.9,1373.4 1470.4,1373.1 1470.9,1372.8 1471.5,1372.5 1472,1372.2 1472.6,1372 1473.1,1371.7 1473.6,1371.5 1474.2,1371.3 1474.7,1371.1 1475.2,1370.9 1475.8,1370.7 1476.3,1370.5 1476.9,1370.4 1477.4,1370.3 1477.9,1370.1 1478.5,1370 1479,1369.9 1479.5,1369.9 1480.1,1369.8 1480.6,1369.8 1481.2,1369.7 1481.7,1369.7 1482.2,1369.7 1482.8,1369.7 1483.3,1369.7 1483.9,1369.7 1484.4,1369.8 1484.9,1369.8 1485.5,1369.9 1486,1370 1486.5,1370.1 1487.1,1370.2 1487.6,1370.3 1488.2,1370.4 1488.7,1370.6 1489.2,1370.7 1489.8,1370.9 1490.3,1371.1 1490.8,1371.2 1491.4,1371.4 1491.9,1371.6 1492.5,1371.8 1493,1372.1 1493.5,1372.3 1494.1,1372.5 1494.6,1372.8 1495.1,1373 1495.7,1373.3 1496.2,1373.6 1496.8,1373.8 1497.3,1374.1 1497.8,1374.4 1498.4,1374.7 1498.9,1375 1499.4,1375.3 1500,1375.7 1500.5,1376 1501.1,1376.3 1501.6,1376.6 1502.1,1377 1502.7,1377.3 1503.2,1377.7 1503.7,1378 1504.3,1378.4 1504.8,1378.7 1505.4,1379.1 1505.9,1379.4 1506.4,1379.8 1507,1380.2 1507.5,1380.5 1508,1380.9 1508.6,1381.3 1509.1,1381.7 1509.7,1382 1510.2,1382.4 1510.7,1382.8 1511.3,1383.1 1511.8,1383.5 1512.3,1383.9 1512.9,1384.3 1513.4,1384.6 1514,1385 1514.5,1385.4 1515,1385.8 1515.6,1386.1 1516.1,1386.5 1516.6,1386.9 1517.2,1387.2 1517.7,1387.6 1518.3,1387.9 1518.8,1388.3 1519.3,1388.6 1519.9,1389 1520.4,1389.3 1520.9,1389.7 1521.5,1390 1522,1390.4 1522.6,1390.7 1523.1,1391 1523.6,1391.4 1524.2,1391.7 1524.7,1392 1525.2,1392.4 1525.8,1392.7 1526.3,1393 1526.9,1393.3 1527.4,1393.6 1527.9,1393.9 1528.5,1394.2 1529,1394.5 1529.5,1394.8 1530.1,1395.1 1530.6,1395.4 1531.2,1395.7 1531.7,1396 1532.2,1396.3 1532.8,1396.5 1533.3,1396.8 1533.8,1397.1 1534.4,1397.3 1534.9,1397.6 1535.5,1397.9 1536,1398.1 1536.5,1398.4 1537.1,1398.7 1537.6,1398.9 1538.1,1399.2 1538.7,1399.4 1539.2,1399.7 1539.8,1399.9 1540.3,1400.2 1540.8,1400.4 1541.4,1400.7 1541.9,1400.9 1542.4,1401.1 1543,1401.4 1543.5,1401.6 1544.1,1401.9 1544.6,1402.1 1545.1,1402.3 1545.7,1402.6 1546.2,1402.8 1546.7,1403.1 1547.3,1403.3 1547.8,1403.5 1548.4,1403.8 1548.9,1404 1549.4,1404.3 1550,1404.5 1550.5,1404.7 1551,1405 1551.6,1405.2 1552.1,1405.5 1552.7,1405.7 1553.2,1406 1553.7,1406.2 1554.3,1406.5 1554.8,1406.8 1555.3,1407 1555.9,1407.3 1556.4,1407.5 1557,1407.8 1557.5,1408.1 1558,1408.3 1558.6,1408.6 1559.1,1408.9 1559.7,1409.2 1560.2,1409.5 1560.7,1409.7 1561.3,1410 1561.8,1410.3 1562.3,1410.6 1562.9,1410.9 1563.4,1411.2 1564,1411.5 1564.5,1411.8 1565,1412.1 1565.6,1412.4 1566.1,1412.8 1566.6,1413.1 1567.2,1413.4 1567.7,1413.7 1568.3,1414 1568.8,1414.4 1569.3,1414.7 1569.9,1415 1570.4,1415.4 1570.9,1415.7 1571.5,1416 1572,1416.4 1572.6,1416.7 1573.1,1417.1 1573.6,1417.4 1574.2,1417.7 1574.7,1418.1 1575.2,1418.4 1575.8,1418.8 1576.3,1419.1 1576.9,1419.5 1577.4,1419.8 1577.9,1420.2 1578.5,1420.5 1579,1420.9 1579.5,1421.2 1580.1,1421.6 1580.6,1421.9 1581.2,1422.3 1581.7,1422.6 1582.2,1423 1582.8,1423.3 1583.3,1423.6 1583.8,1424 1584.4,1424.3 1584.9,1424.6 1585.5,1425 1586,1425.3 1586.5,1425.6 1587.1,1425.9 1587.6,1426.2 1588.1,1426.6 1588.7,1426.9 1589.2,1427.2 1589.8,1427.4 1590.3,1427.7 1590.8,1428 1591.4,1428.3 1591.9,1428.6 1592.4,1428.8 1593,1429.1 1593.5,1429.3 1594.1,1429.5 1594.6,1429.8 1595.1,1430 1595.7,1430.2 1596.2,1430.4 1596.7,1430.6 1597.3,1430.8 1597.8,1431 1598.4,1431.1 1598.9,1431.3 1599.4,1431.5 1600,1431.6 1600.5,1431.7 1601,1431.8 1601.6,1431.9 1602.1,1432 1602.7,1432.1 1603.2,1432.2 1603.7,1432.2 1604.3,1432.3 1604.8,1432.3 1605.3,1432.3 1605.9,1432.4 1606.4,1432.3 1607,1432.3 1607.5,1432.3 1608,1432.3 1608.6,1432.2 1609.1,1432.1 1609.6,1432.1 1610.2,1432 1610.7,1431.8 1611.3,1431.7 1611.8,1431.6 1612.3,1431.4 1612.9,1431.3 1613.4,1431.1 1613.9,1430.9 1614.5,1430.7 1615,1430.5 1615.6,1430.2 1616.1,1430 1616.6,1429.7 1617.2,1429.5 1617.7,1429.2 1618.2,1428.9 1618.8,1428.6 1619.3,1428.2 1619.9,1427.9 1620.4,1427.5 1620.9,1427.2 1621.5,1426.8 1622,1426.4 1622.5,1426 1623.1,1425.6 1623.6,1425.2 1624.2,1424.7 1624.7,1424.3 1625.2,1423.8 1625.8,1423.3 1626.3,1422.8 1626.8,1422.3 1627.4,1421.8 1627.9,1421.3 1628.5,1420.8 1629,1420.3 1629.5,1419.7 1630.1,1419.2 1630.6,1418.6 1631.1,1418 1631.7,1417.4 1632.2,1416.9 1632.8,1416.3 1633.3,1415.7 1633.8,1415.1 1634.4,1414.4 1634.9,1413.8 1635.5,1413.2 1636,1412.6 1636.5,1411.9 1637.1,1411.3 1637.6,1410.6 1638.1,1410 1638.7,1409.3 1639.2,1408.7 1639.8,1408 1640.3,1407.4 1640.8,1406.7 1641.4,1406 1641.9,1405.4 1642.4,1404.7 1643,1404.1 1643.5,1403.4 1644.1,1402.7 1644.6,1402.1 1645.1,1401.4 1645.7,1400.7 1646.2,1400.1 1646.7,1399.4 1647.3,1398.8 1647.8,1398.1 1648.4,1397.5 1648.9,1396.9 1649.4,1396.2 1650,1395.6 1650.5,1395 1651,1394.4 1651.6,1393.7 1652.1,1393.1 1652.7,1392.5 1653.2,1392 1653.7,1391.4 1654.3,1390.8 1654.8,1390.2 1655.3,1389.7 1655.9,1389.1 1656.4,1388.6 1657,1388.1 1657.5,1387.5 1658,1387 1658.6,1386.5 1659.1,1386 1659.6,1385.6 1660.2,1385.1 1660.7,1384.6 1661.3,1384.2 1661.8,1383.8 1662.3,1383.4 1662.9,1382.9 1663.4,1382.6 1663.9,1382.2 1664.5,1381.8 1665,1381.4 1665.6,1381.1 1666.1,1380.8 1666.6,1380.5 1667.2,1380.2 1667.7,1379.9 1668.2,1379.6 1668.8,1379.3 1669.3,1379.1 1669.9,1378.9 1670.4,1378.6 1670.9,1378.4 1671.5,1378.2 1672,1378.1 1672.5,1377.9 1673.1,1377.7 1673.6,1377.6 1674.2,1377.5 1674.7,1377.4 1675.2,1377.3 1675.8,1377.2 1676.3,1377.1 1676.8,1377.1 1677.4,1377 1677.9,1377 1678.5,1377 1679,1377 1679.5,1377 1680.1,1377.1 1680.6,1377.1 1681.1,1377.1 1681.7,1377.2 1682.2,1377.3 1682.8,1377.4 1683.3,1377.5 1683.8,1377.6 1684.4,1377.7 1684.9,1377.9 1685.4,1378 1686,1378.2 1686.5,1378.3 1687.1,1378.5 1687.6,1378.7 1688.1,1378.9 1688.7,1379.1 1689.2,1379.3 1689.7,1379.5 1690.3,1379.8 1690.8,1380 1691.4,1380.3 1691.9,1380.5 1692.4,1380.8 1693,1381.1 1693.5,1381.4 1694,1381.7 1694.6,1382 1695.1,1382.3 1695.7,1382.6 1696.2,1382.9 1696.7,1383.2 1697.3,1383.5 1697.8,1383.9 1698.3,1384.2 1698.9,1384.5 1699.4,1384.9 1700,1385.2 1700.5,1385.6 1701,1385.9 1701.6,1386.3 1702.1,1386.7 1702.6,1387 1703.2,1387.4 1703.7,1387.8 1704.3,1388.1 1704.8,1388.5 1705.3,1388.9 1705.9,1389.2 1706.4,1389.6 1706.9,1390 1707.5,1390.4 1708,1390.7 1708.6,1391.1 1709.1,1391.5 1709.6,1391.9 1710.2,1392.2 1710.7,1392.6 1711.3,1393 1711.8,1393.3 1712.3,1393.7 1712.9,1394.1 1713.4,1394.4 1713.9,1394.8 1714.5,1395.2 1715,1395.5 1715.6,1395.9 1716.1,1396.2 1716.6,1396.6 1717.2,1396.9 1717.7,1397.3 1718.2,1397.6 1718.8,1397.9 1719.3,1398.3 1719.9,1398.6 1720.4,1398.9 1720.9,1399.3 1721.5,1399.6 1722,1399.9 1722.5,1400.2 1723.1,1400.5 1723.6,1400.8 1724.2,1401.2 1724.7,1401.5 1725.2,1401.8 1725.8,1402.1 1726.3,1402.4 1726.8,1402.6 1727.4,1402.9 1727.9,1403.2 1728.5,1403.5 1729,1403.8 1729.5,1404 1730.1,1404.3 1730.6,1404.6 1731.1,1404.9 1731.7,1405.1 1732.2,1405.4 1732.8,1405.6 1733.3,1405.9 1733.8,1406.2 1734.4,1406.4 1734.9,1406.7 1735.4,1406.9 1736,1407.2 1736.5,1407.4 1737.1,1407.7 1737.6,1407.9 1738.1,1408.1 1738.7,1408.4 1739.2,1408.6 1739.7,1408.9 1740.3,1409.1 1740.8,1409.4 1741.4,1409.6 1741.9,1409.8 1742.4,1410.1 1743,1410.3 1743.5,1410.5 1744,1410.8 1744.6,1411 1745.1,1411.3 1745.7,1411.5 1746.2,1411.8 1746.7,1412 1747.3,1412.2 1747.8,1412.5 1748.3,1412.7 1748.9,1413 1749.4,1413.2 1750,1413.5 1750.5,1413.7 1751,1414 1751.6,1414.3 1752.1,1414.5 1752.6,1414.8 1753.2,1415.1 1753.7,1415.3 1754.3,1415.6 1754.8,1415.9 1755.3,1416.1 1755.9,1416.4 1756.4,1416.7 1756.9,1417 1757.5,1417.3 1758,1417.6 1758.6,1417.9 1759.1,1418.2 1759.6,1418.5 1760.2,1418.8 1760.7,1419.1 1761.2,1419.4 1761.8,1419.7 1762.3,1420 1762.9,1420.3 1763.4,1420.6 1763.9,1420.9 1764.5,1421.3 1765,1421.6 1765.5,1421.9 1766.1,1422.3 1766.6,1422.6 1767.2,1422.9 1767.7,1423.3 1768.2,1423.6 1768.8,1423.9 1769.3,1424.3 1769.8,1424.6 1770.4,1425 1770.9,1425.3 1771.5,1425.7 1772,1426 1772.5,1426.4 1773.1,1426.7 1773.6,1427.1 1774.1,1427.4 1774.7,1427.8 1775.2,1428.1 1775.8,1428.5 1776.3,1428.8 1776.8,1429.2 1777.4,1429.5 1777.9,1429.9 1778.4,1430.2 1779,1430.5 1779.5,1430.9 1780.1,1431.2 1780.6,1431.5 1781.1,1431.9 1781.7,1432.2 1782.2,1432.5 1782.7,1432.9 1783.3,1433.2 1783.8,1433.5 1784.4,1433.8 1784.9,1434.1 1785.4,1434.4 1786,1434.7 1786.5,1435 1787.1,1435.3 1787.6,1435.5 1788.1,1435.8 1788.7,1436.1 1789.2,1436.3 1789.7,1436.6 1790.3,1436.8 1790.8,1437 1791.4,1437.3 1791.9,1437.5 1792.4,1437.7 1793,1437.9 1793.5,1438.1 1794,1438.3 1794.6,1438.4 1795.1,1438.6 1795.7,1438.7 1796.2,1438.9 1796.7,1439 1797.3,1439.1 1797.8,1439.2 1798.3,1439.3 1798.9,1439.4 1799.4,1439.5 1800,1439.5 1800.5,1439.6 1801,1439.6 1801.6,1439.7 1802.1,1439.7 1802.6,1439.7 1803.2,1439.7 1803.7,1439.6 1804.3,1439.6 1804.8,1439.5 1805.3,1439.5 1805.9,1439.4 1806.4,1439.3 1806.9,1439.2 1807.5,1439.1 1808,1438.9 1808.6,1438.8 1809.1,1438.6 1809.6,1438.5 1810.2,1438.3 1810.7,1438.1 1811.2,1437.8 1811.8,1437.6 1812.3,1437.4 1812.9,1437.1 1813.4,1436.8 1813.9,1436.6 1814.5,1436.3 1815,1436 1815.5,1435.6 1816.1,1435.3 1816.6,1434.9 1817.2,1434.6 1817.7,1434.2 1818.2,1433.8 1818.8,1433.4 1819.3,1433 1819.8,1432.6 1820.4,1432.1 1820.9,1431.7 1821.5,1431.2 1822,1430.8 1822.5,1430.3 1823.1,1429.8 1823.6,1429.3 1824.1,1428.8 1824.7,1428.2 1825.2,1427.7 1825.8,1427.2 1826.3,1426.6 1826.8,1426.1 1827.4,1425.5 1827.9,1424.9 1828.4,1424.3 1829,1423.7 1829.5,1423.1 1830.1,1422.5 1830.6,1421.9 1831.1,1421.3 1831.7,1420.7 1832.2,1420 1832.7,1419.4 1833.3,1418.8 1833.8,1418.1 1834.4,1417.5 1834.9,1416.8 1835.4,1416.2 1836,1415.5 1836.5,1414.8 1837,1414.2 1837.6,1413.5 1838.1,1412.9 1838.7,1412.2 1839.2,1411.5 1839.7,1410.9 1840.3,1410.2 1840.8,1409.5 1841.3,1408.9 1841.9,1408.2 1842.4,1407.6 1843,1406.9 1843.5,1406.3 1844,1405.6 1844.6,1405 1845.1,1404.3 1845.6,1403.7 1846.2,1403.1 1846.7,1402.4 1847.3,1401.8 1847.8,1401.2 1848.3,1400.6 1848.9,1400 1849.4,1399.4 1849.9,1398.8 1850.5,1398.3 1851,1397.7 1851.6,1397.1 1852.1,1396.6 1852.6,1396 1853.2,1395.5 1853.7,1395 1854.2,1394.5 1854.8,1394 1855.3,1393.5 1855.9,1393 1856.4,1392.5 1856.9,1392.1 1857.5,1391.6 1858,1391.2 1858.6,1390.8 1859.1,1390.4 1859.6,1390 1860.2,1389.6 1860.7,1389.2 1861.2,1388.8 1861.8,1388.5 1862.3,1388.2 1862.9,1387.9 1863.4,1387.5 1863.9,1387.3 1864.5,1387 1865,1386.7 1865.5,1386.5 1866.1,1386.2 1866.6,1386 1867.2,1385.8 1867.7,1385.6 1868.2,1385.4 1868.8,1385.2 1869.3,1385.1 1869.8,1385 1870.4,1384.8 1870.9,1384.7 1871.5,1384.6 1872,1384.5 1872.5,1384.5 1873.1,1384.4 1873.6,1384.4 1874.1,1384.3 1874.7,1384.3 1875.2,1384.3 1875.8,1384.3 1876.3,1384.4 1876.8,1384.4 1877.4,1384.4 1877.9,1384.5 1878.4,1384.6 1879,1384.7 1879.5,1384.8 1880.1,1384.9 1880.6,1385 1881.1,1385.1 1881.7,1385.3 1882.2,1385.4 1882.7,1385.6 1883.3,1385.8 1883.8,1386 1884.4,1386.2 1884.9,1386.4 1885.4,1386.6 1886,1386.8 1886.5,1387 1887,1387.3 1887.6,1387.5 1888.1,1387.8 1888.7,1388.1 1889.2,1388.3 1889.7,1388.6 1890.3,1388.9 1890.8,1389.2 1891.3,1389.5 1891.9,1389.8 1892.4,1390.1 1893,1390.4 1893.5,1390.8 1894,1391.1 1894.6,1391.4 1895.1,1391.8 1895.6,1392.1 1896.2,1392.5 1896.7,1392.8 1897.3,1393.2 1897.8,1393.5 1898.3,1393.9 1898.9,1394.3 1899.4,1394.6 1899.9,1395 1900.5,1395.4 1901,1395.7 1901.6,1396.1 1902.1,1396.5 1902.6,1396.8 1903.2,1406.7 1903.7,1404.4 1904.2,1402.4 1904.8,1400.5 1905.3,1398.7 1905.9,1397.1 1906.4,1395.7 1906.9,1394.3 1907.5,1393 1908,1391.8 1908.5,1390.7 1909.1,1389.6 1909.6,1388.6 1910.2,1387.7 1910.7,1386.8 1911.2,1386 1911.8,1385.2 1912.3,1384.4 1912.8,1383.7 1913.4,1383 1913.9,1382.3 1914.5,1381.7 1915,1381.1 1915.5,1380.5 1916.1,1380 1916.6,1379.4 1917.1,1378.9 1917.7,1378.4 1918.2,1378 1918.8,1377.5 1919.3,1377.1 1919.8,1376.6 1920.4,1376.2 1920.9,1375.8 1921.4,1375.4 1922,1375 1922.5,1374.7 1923.1,1374.3 1923.6,1374 1924.1,1373.6 1924.7,1373.3 1925.2,1373 1925.7,1372.7 1926.3,1372.4 1926.8,1372.1 1927.4,1371.8 1927.9,1371.5 1928.4,1371.2 1929,1371 1929.5,1370.7 1930,1370.5 1930.6,1370.2 1931.1,1370 1931.7,1369.7 1932.2,1369.5 1932.7,1369.3 1933.3,1369.1 1933.8,1368.9 1934.4,1368.7 1934.9,1368.5 1935.4,1368.3 1936,1368.1 1936.5,1367.9 1937,1367.7 1937.6,1367.5 1938.1,1367.3 1938.7,1367.2 1939.2,1367 1939.7,1389.3 1940.3,1389.1 1940.8,1388.8 1941.3,1388.6 1941.9,1388.4 1942.4,1388.2 1943,1388 1943.5,1387.8 1944,1387.6 1944.6,1387.5 1945.1,1387.3 1945.6,1387.2 1946.2,1387 1946.7,1386.9 1947.3,1386.8 1947.8,1386.6 1948.3,1386.5 1948.9,1386.4 1949.4,1386.3 1949.9,1386.2 1950.5,1386.2 1951,1386.1 1951.6,1386 1952.1,1385.9 1952.6,1385.9 1953.2,1385.8 1953.7,1385.8 1954.2,1385.8 1954.8,1385.7 1955.3,1385.7 1955.9,1385.7 1956.4,1385.7 1956.9,1385.7 1957.5,1385.7 1958,1385.7 1958.5,1385.7 1959.1,1385.7 1959.6,1385.7 1960.2,1385.8 1960.7,1385.8 1961.2,1385.8 1961.8,1385.9 1962.3,1385.9 1962.8,1386 1963.4,1386 1963.9,1386.1 1964.5,1386.2 1965,1386.2 1965.5,1386.3 1966.1,1386.4 1966.6,1386.5 1967.1,1386.6 1967.7,1386.6 1968.2,1386.7 1968.8,1386.8 1969.3,1386.9 1969.8,1387 1970.4,1387.1 1970.9,1387.2 1971.4,1387.3 1972,1387.4 1972.5,1387.6 1973.1,1387.7 1973.6,1387.8 1974.1,1387.9 1974.7,1388 1975.2,1388.1 1975.7,1388.2 1976.3,1388.3 1976.8,1388.4 1977.4,1388.5 1977.9,1388.6 1978.4,1388.7 1979,1388.8 1979.5,1388.9 1980,1389 1980.6,1389.1 1981.1,1389.2 1981.7,1389.3 1982.2,1389.4 1982.7,1389.5 1983.3,1389.5 1983.8,1389.6 1984.3,1389.7 1984.9,1389.7 1985.4,1389.8 1986,1389.8 1986.5,1389.9 1987,1389.9 1987.6,1389.9 1988.1,1389.9 1988.6,1389.9 1989.2,1389.9 1989.7,1389.9 1990.3,1389.9 1990.8,1389.9 1991.3,1389.9 1991.9,1389.8 1992.4,1389.8 1992.9,1389.7 1993.5,1389.7 1994,1389.6 1994.6,1389.5 1995.1,1389.4 1995.6,1389.3 1996.2,1389.2 1996.7,1389.1 1997.2,1388.9 1997.8,1388.8 1998.3,1388.6 1998.9,1388.4 1999.4,1388.2 1999.9,1388 2000.5,1387.8 2001,1387.6 2001.5,1387.4 2002.1,1387.1 2002.6,1386.9 2003.2,1386.6 2003.7,1386.3 2004.2,1386 2004.8,1385.7 2005.3,1385.4 2005.8,1385 2006.4,1384.7 2006.9,1384.3 2007.5,1383.9 2008,1383.5 2008.5,1383.1 2009.1,1382.7 2009.6,1382.3 2010.2,1381.8 2010.7,1381.4 2011.2,1380.9 2011.8,1380.5 2012.3,1380 2012.8,1379.5 2013.4,1378.9 2013.9,1378.4 2014.5,1377.9 2015,1377.3 2015.5,1376.8 2016.1,1376.2 2016.6,1375.6 2017.1,1375 2017.7,1374.4 2018.2,1373.8 2018.8,1373.1 2019.3,1372.5 2019.8,1371.9 2020.4,1371.2 2020.9,1370.5 2021.4,1369.8 2022,1369.2 2022.5,1368.5 2023.1,1367.8 2023.6,1367.1 2024.1,1366.3 2024.7,1365.6 2025.2,1364.9 2025.7,1364.1 2026.3,1363.4 2026.8,1362.6 2027.4,1361.9 2027.9,1361.1 2028.4,1360.4 2029,1359.6 2029.5,1358.8 2030,1358 2030.6,1357.2 2031.1,1356.5 2031.7,1355.7 2032.2,1354.9 2032.7,1354.1 2033.3,1353.3 2033.8,1352.5 2034.3,1351.7 2034.9,1350.9 2035.4,1350.1 2036,1349.3 2036.5,1348.5 2037,1347.7 2037.6,1346.9 2038.1,1346.1 2038.6,1345.4 2039.2,1344.6 2039.7,1343.8 2040.3,1343 2040.8,1342.2 2041.3,1341.5 2041.9,1340.7 2042.4,1340 2042.9,1339.2 2043.5,1338.5 2044,1337.7 2044.6,1337 2045.1,1336.3 2045.6,1335.5 2046.2,1334.8 2046.7,1334.1 2047.2,1333.4 2047.8,1332.8 2048.3,1332.1 2048.9,1331.4 2049.4,1330.8 2049.9,1330.1 2050.5,1329.5 2051,1328.9 2051.5,1328.3 2052.1,1327.7 2052.6,1327.1 2053.2,1326.5 2053.7,1325.9 2054.2,1325.4 2054.8,1324.8 2055.3,1324.3 2055.8,1323.8 2056.4,1323.3 2056.9,1322.8 2057.5,1322.3 2058,1321.8 2058.5,1321.4 2059.1,1321 2059.6,1320.5 2060.1,1320.1 2060.7,1319.7 2061.2,1319.4 2061.8,1319 2062.3,1318.6 2062.8,1318.3 2063.4,1318 2063.9,1317.7 2064.4,1317.4 2065,1317.1 2065.5,1316.8 2066.1,1316.6 2066.6,1316.3 2067.1,1316.1 2067.7,1315.9 2068.2,1315.7 2068.7,1315.5 2069.3,1315.4 2069.8,1315.2 2070.4,1315.1 2070.9,1314.9 2071.4,1314.8 2072,1314.7 2072.5,1314.7 2073,1314.6 2073.6,1314.5 2074.1,1314.5 2074.7,1314.4 2075.2,1314.4 2075.7,1314.4 2076.3,1314.4 2076.8,1314.4 2077.3,1314.5 2077.9,1314.5 2078.4,1314.6 2079,1314.6 2079.5,1314.7 2080,1314.8 2080.6,1314.9 2081.1,1315 2081.6,1315.1 2082.2,1315.2 2082.7,1315.3 2083.3,1315.5 2083.8,1315.6 2084.3,1315.8 2084.9,1316 2085.4,1316.1 2086,1316.3 2086.5,1316.5 2087,1316.7 2087.6,1316.9 2088.1,1317.1 2088.6,1317.3 2089.2,1317.5 2089.7,1317.8 2090.3,1318 2090.8,1318.2 2091.3,1318.5 2091.9,1318.7 2092.4,1319 2092.9,1319.2 2093.5,1319.5 2094,1319.8 2094.6,1320 2095.1,1320.3 2095.6,1320.6 2096.2,1320.8 2096.7,1321.1 2097.2,1321.4 2097.8,1321.7 2098.3,1322 2098.9,1322.2 2099.4,1322.5 2099.9,1322.8 2100.5,1323.1 2101,1323.4 2101.5,1323.6 2102.1,1323.9 2102.6,1324.2 2103.2,1324.5 2103.7,1324.8 2104.2,1325 2104.8,1325.3 2105.3,1325.6 2105.8,1325.9 2106.4,1326.1 2106.9,1326.4 2107.5,1326.7 2108,1327 2108.5,1327.2 2109.1,1327.5 2109.6,1327.7 2110.1,1328 2110.7,1328.3 2111.2,1328.5 2111.8,1328.8 2112.3,1329 2112.8,1329.3 2113.4,1329.5 2113.9,1329.7 2114.4,1330 2115,1330.2 2115.5,1330.4 2116.1,1330.7 2116.6,1330.9 2117.1,1331.1 2117.7,1331.3 2118.2,1331.5 2118.7,1331.7 2119.3,1331.9 2119.8,1332.2 2120.4,1332.4 2120.9,1332.6 2121.4,1332.7 2122,1332.9 2122.5,1333.1 2123,1333.3 2123.6,1333.5 2124.1,1333.7 2124.7,1333.9 2125.2,1334.1 2125.7,1334.2 2126.3,1334.4 2126.8,1334.6 2127.3,1334.7 2127.9,1334.9 2128.4,1335.1 2129,1335.3 2129.5,1335.4 2130,1335.6 2130.6,1335.7 2131.1,1335.9 2131.6,1336.1 2132.2,1336.2 2132.7,1336.4 2133.3,1336.5 2133.8,1336.7 2134.3,1336.9 2134.9,1337 2135.4,1337.2 2135.9,1337.3 2136.5,1337.5 2137,1337.7 2137.6,1337.8 2138.1,1338 2138.6,1338.2 2139.2,1338.3 2139.7,1338.5 2140.2,1338.7 2140.8,1338.8 2141.3,1339 2141.9,1339.2 2142.4,1339.4 2142.9,1339.5 2143.5,1339.7 2144,1339.9 2144.5,1340.1 2145.1,1340.3 2145.6,1340.4 2146.2,1340.6 2146.7,1340.8 2147.2,1341 2147.8,1341.2 2148.3,1341.4 2148.8,1341.6 2149.4,1341.8 2149.9,1342.1 2150.5,1342.3 2151,1342.5 2151.5,1342.7 2152.1,1342.9 2152.6,1343.2 2153.1,1343.4 2153.7,1343.6 2154.2,1343.8 2154.8,1344.1 2155.3,1344.3 2155.8,1344.6 2156.4,1344.8 2156.9,1345.1 2157.4,1345.3 2158,1345.6 2158.5,1345.8 2159.1,1346.1 2159.6,1346.3 2160.1,1346.6 2160.7,1346.9 2161.2,1347.1 2161.8,1347.4 2162.3,1347.7 2162.8,1348 2163.4,1348.2 2163.9,1348.5 2164.4,1348.8 2165,1349.1 2165.5,1349.3 2166.1,1349.6 2166.6,1349.9 2167.1,1350.2 2167.7,1350.5 2168.2,1350.7 2168.7,1351 2169.3,1351.3 2169.8,1351.6 2170.4,1351.8 2170.9,1352.1 2171.4,1352.4 2172,1352.7 2172.5,1352.9 2173,1353.2 2173.6,1353.5 2174.1,1353.7 2174.7,1354 2175.2,1354.2 2175.7,1354.5 2176.3,1354.7 2176.8,1355 2177.3,1355.2 2177.9,1355.4 2178.4,1355.7 2179,1355.9 2179.5,1356.1 2180,1356.3 2180.6,1356.5 2181.1,1356.7 2181.6,1356.9 2182.2,1357.1 2182.7,1357.3 2183.3,1357.4 2183.8,1357.6 2184.3,1357.8 2184.9,1357.9 2185.4,1358 2185.9,1358.2 2186.5,1358.3 2187,1358.4 2187.6,1358.5 2188.1,1358.6 2188.6,1358.7 2189.2,1358.7 2189.7,1358.8 2190.2,1358.8 2190.8,1358.9 2191.3,1358.9 2191.9,1358.9 2192.4,1358.9 2192.9,1358.9 2193.5,1358.9 2194,1358.9 2194.5,1358.8 2195.1,1358.7 2195.6,1358.7 2196.2,1358.6 2196.7,1358.5 2197.2,1358.4 2197.8,1358.3 2198.3,1358.1 2198.8,1358 2199.4,1357.8 2199.9,1357.6 2200.5,1357.4 2201,1357.2 2201.5,1357 2202.1,1356.8 2202.6,1356.5 2203.1,1356.3 2203.7,1356 2204.2,1355.7 2204.8,1355.4 2205.3,1355.1 2205.8,1354.8 2206.4,1354.4 2206.9,1354.1 2207.4,1353.7 2208,1353.3 2208.5,1353 2209.1,1352.6 2209.6,1352.1 2210.1,1351.7 2210.7,1351.3 2211.2,1350.8 2211.7,1350.3 2212.3,1349.9 2212.8,1349.4 2213.4,1348.9 2213.9,1348.3 2214.4,1347.8 2215,1347.3 2215.5,1346.7 2216,1346.2 2216.6,1345.6 2217.1,1345 2217.7,1344.4 2218.2,1343.8 2218.7,1343.2 2219.3,1342.6 2219.8,1342 2220.3,1341.3 2220.9,1340.7 2221.4,1340.1 2222,1339.4 2222.5,1338.7 2223,1338.1 2223.6,1337.4 2224.1,1336.7 2224.6,1336 2225.2,1335.3 2225.7,1334.6 2226.3,1333.9 2226.8,1333.2 2227.3,1332.5 2227.9,1331.8 2228.4,1331.1 2228.9,1330.4 2229.5,1329.7 2230,1328.9 2230.6,1328.2 2231.1,1327.5 2231.6,1326.8 2232.2,1326 2232.7,1325.3 2233.2,1324.6 2233.8,1323.9 2234.3,1323.2 2234.9,1322.5 2235.4,1321.7 2235.9,1321 2236.5,1320.3 2237,1319.6 2237.6,1318.9 2238.1,1318.2 2238.6,1317.5 2239.2,1316.8 2239.7,1316.2 2240.2,1315.5 2240.8,1314.8 2241.3,1314.2 2241.9,1313.5 2242.4,1312.9 2242.9,1312.2 2243.5,1311.6 2244,1311 2244.5,1310.4 2245.1,1309.8 2245.6,1309.2 2246.2,1308.6 2246.7,1308 2247.2,1307.5 2247.8,1306.9 2248.3,1306.4 2248.8,1305.8 2249.4,1305.3 2249.9,1304.8 2250.5,1304.3 2251,1303.8 2251.5,1303.4 2252.1,1302.9 2252.6,1302.5 2253.1,1302 2253.7,1301.6 2254.2,1301.2 2254.8,1300.8 2255.3,1300.4 2255.8,1300 2256.4,1299.7" fill="none" stroke="#f00" stroke-width="8.9" stroke-linejoin="round" stroke-linecap="butt"/>
</g>
<text x="1250.3" y="1728.7" text-anchor="middle">Epoch (year)</text>
</svg>
</body></html>
